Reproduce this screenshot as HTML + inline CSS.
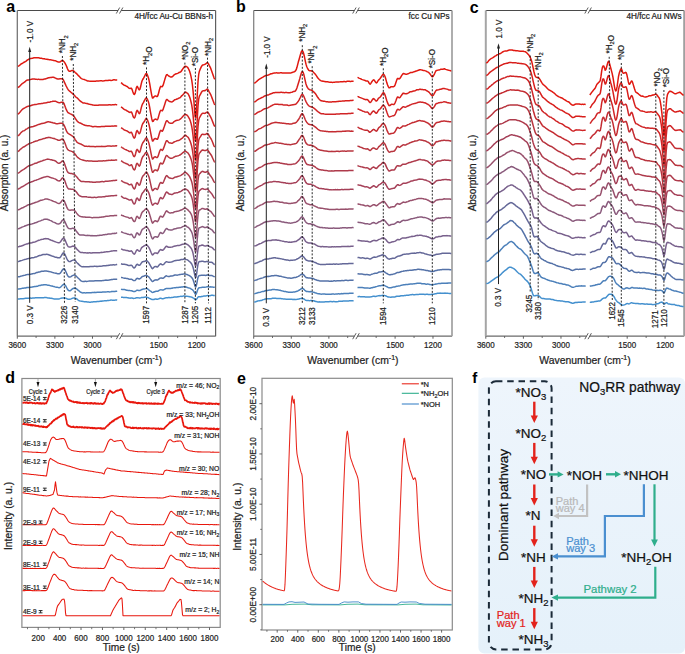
<!DOCTYPE html>
<html><head><meta charset="utf-8"><style>
html,body{margin:0;padding:0;background:#fff;width:685px;height:654px;overflow:hidden}
svg{display:block;font-family:"Liberation Sans", sans-serif}
</style></head><body>
<svg width="685" height="654" viewBox="0 0 685 654">
<path d="M118 10.5 L17.3 10.5" fill="none" stroke="#4a4a4a" stroke-width="1.1"/>
<path d="M121.2 10.5 L215.6 10.5" fill="none" stroke="#4a4a4a" stroke-width="1.1"/>
<path d="M17.3 336.2 L118 336.2" fill="none" stroke="#6a6a6a" stroke-width="1.2"/>
<path d="M121.2 336.2 L215.6 336.2" fill="none" stroke="#6a6a6a" stroke-width="1.2"/>
<path d="M17.3 10.5 L17.3 336.2" fill="none" stroke="#707070" stroke-width="1.25"/>
<path d="M215.6 10.5 L215.6 336.2" fill="none" stroke="#606060" stroke-width="1.2"/>
<line x1="116.3" y1="13.5" x2="119.7" y2="7.5" stroke="#4a4a4a" stroke-width="0.9"/>
<line x1="119.5" y1="13.5" x2="122.9" y2="7.5" stroke="#4a4a4a" stroke-width="0.9"/>
<line x1="116.3" y1="339.2" x2="119.7" y2="333.2" stroke="#4a4a4a" stroke-width="0.9"/>
<line x1="119.5" y1="339.2" x2="122.9" y2="333.2" stroke="#4a4a4a" stroke-width="0.9"/>
<line x1="17.3" y1="336.2" x2="17.3" y2="338.7" stroke="#4a4a4a" stroke-width="0.9"/>
<text x="0" y="0" font-size="9.3" text-anchor="middle" fill="#222" stroke="#222" stroke-width="0.22" font-weight="normal" transform="translate(17.3,347.6) scale(0.86,1)">3600</text>
<line x1="54.89" y1="336.2" x2="54.89" y2="338.7" stroke="#4a4a4a" stroke-width="0.9"/>
<text x="0" y="0" font-size="9.3" text-anchor="middle" fill="#222" stroke="#222" stroke-width="0.22" font-weight="normal" transform="translate(54.89,347.6) scale(0.86,1)">3300</text>
<line x1="92.48" y1="336.2" x2="92.48" y2="338.7" stroke="#4a4a4a" stroke-width="0.9"/>
<text x="0" y="0" font-size="9.3" text-anchor="middle" fill="#222" stroke="#222" stroke-width="0.22" font-weight="normal" transform="translate(92.48,347.6) scale(0.86,1)">3000</text>
<line x1="36.09" y1="336.2" x2="36.09" y2="338" stroke="#4a4a4a" stroke-width="0.8"/>
<line x1="73.69" y1="336.2" x2="73.69" y2="338" stroke="#4a4a4a" stroke-width="0.8"/>
<line x1="111.27" y1="336.2" x2="111.27" y2="338" stroke="#4a4a4a" stroke-width="0.8"/>
<line x1="158.7" y1="336.2" x2="158.7" y2="338.7" stroke="#4a4a4a" stroke-width="0.9"/>
<text x="0" y="0" font-size="9.3" text-anchor="middle" fill="#222" stroke="#222" stroke-width="0.22" font-weight="normal" transform="translate(158.7,347.6) scale(0.86,1)">1500</text>
<line x1="196.59" y1="336.2" x2="196.59" y2="338.7" stroke="#4a4a4a" stroke-width="0.9"/>
<text x="0" y="0" font-size="9.3" text-anchor="middle" fill="#222" stroke="#222" stroke-width="0.22" font-weight="normal" transform="translate(196.59,347.6) scale(0.86,1)">1200</text>
<line x1="139.75" y1="336.2" x2="139.75" y2="338" stroke="#4a4a4a" stroke-width="0.8"/>
<line x1="177.64" y1="336.2" x2="177.64" y2="338" stroke="#4a4a4a" stroke-width="0.8"/>
<text x="116.5" y="364" font-size="10.4" text-anchor="middle" fill="#222" stroke="#222" stroke-width="0.22" font-weight="normal">Wavenumber (cm<tspan dy="-4" font-size="7">-1</tspan><tspan dy="4">)</tspan></text>
<text x="0" y="0" font-size="10" text-anchor="middle" fill="#222" stroke="#222" stroke-width="0.22" font-weight="normal" transform="translate(7.6,173) rotate(-90)">Absorption (a. u.)</text>
<text x="213.1" y="19.2" font-size="8.2" text-anchor="end" fill="#222" stroke="#222" stroke-width="0.22" font-weight="normal">4H/fcc Au-Cu BBNs-h</text>
<text x="6.3" y="12.1" font-size="16" text-anchor="start" fill="#000" stroke="#000" stroke-width="0" font-weight="bold">a</text>
<path d="M17.8 66.19 L18.5 65.97 L19.2 65.63 L19.9 65.05 L20.6 64.42 L21.3 63.9 L22 63.53 L22.7 63.11 L23.4 62.66 L24.1 62.25 L24.8 61.85 L25.5 61.52 L26.2 61.05 L26.9 60.39 L27.6 59.89 L28.3 59.5 L29 59.06 L29.7 58.71 L30.4 58.52 L31.1 58.42 L31.8 58.37 L32.5 58.2 L33.2 57.95 L33.9 57.82 L34.6 57.74 L35.3 57.73 L36 57.7 L36.7 57.66 L37.4 57.73 L38.1 57.75 L38.8 57.81 L39.5 58.05 L40.2 58.27 L40.9 58.3 L41.6 58.34 L42.3 58.54 L43 58.65 L43.7 58.63 L44.4 58.75 L45.1 59 L45.8 59.13 L46.5 59.15 L47.2 59.32 L47.9 59.52 L48.6 59.59 L49.3 59.68 L50 59.79 L50.7 59.84 L51.4 59.94 L52.1 60.13 L52.8 60.26 L53.5 60.4 L54.2 60.56 L54.9 60.64 L55.6 60.82 L56.3 61.15 L57 61.5 L57.7 61.8 L58.4 61.96 L59.1 62.01 L59.8 61.97 L60.5 61.62 L61.2 61.03 L61.9 60.56 L62.6 60.46 L63.3 60.9 L64 61.66 L64.7 62.61 L65.4 63.84 L66.1 65.27 L66.8 66.88 L67.5 68.71 L68.2 70.2 L68.9 71 L69.6 71.3 L70.3 71.27 L71 70.92 L71.7 70.59 L72.4 70.49 L73.1 70.65 L73.8 71.14 L74.5 71.83 L75.2 72.51 L75.9 73.11 L76.6 73.69 L77.3 74.35 L78 75.13 L78.7 75.89 L79.4 76.58 L80.1 77.36 L80.8 78.09 L81.5 78.55 L82.2 78.9 L82.9 79.17 L83.6 79.36 L84.3 79.56 L85 79.83 L85.7 80.09 L86.4 80.34 L87.1 80.72 L87.8 80.97 L88.5 81.02 L89.2 81.13 L89.9 81.26 L90.6 81.27 L91.3 81.32 L92 81.35 L92.7 81.23 L93.4 81.22 L94.1 81.31 L94.8 81.25 L95.5 81.16 L96.2 81.09 L96.9 81.01 L97.6 80.95 L98.3 80.9 L99 80.89 L99.7 80.82 L100.4 80.73 L101.1 80.73 L101.8 80.83 L102.5 80.91 L103.2 80.91 L103.9 80.85 L104.6 80.69 L105.3 80.6 L106 80.58 L106.7 80.56 L107.4 80.57 L108.1 80.46 L108.8 80.3 L109.5 80.24 L110.2 80.28 L110.9 80.4 L111.6 80.39 L112.3 80.2 L113 79.99 L113.7 79.86 L114.4 79.84 L115.1 79.91 L115.8 79.99 L116.5 80.04 L117.2 80.08" fill="none" stroke="rgb(224,24,16)" stroke-width="1.5" stroke-linejoin="round"/>
<path d="M17.8 87.47 L18.5 87.11 L19.2 86.74 L19.9 86.07 L20.6 85.25 L21.3 84.5 L22 83.82 L22.7 83.27 L23.4 82.88 L24.1 82.43 L24.8 81.88 L25.5 81.31 L26.2 80.68 L26.9 80.21 L27.6 80.04 L28.3 79.99 L29 79.83 L29.7 79.63 L30.4 79.47 L31.1 79.34 L31.8 79.16 L32.5 79.01 L33.2 78.97 L33.9 78.94 L34.6 79 L35.3 79.18 L36 79.28 L36.7 79.35 L37.4 79.39 L38.1 79.36 L38.8 79.35 L39.5 79.41 L40.2 79.49 L40.9 79.51 L41.6 79.44 L42.3 79.45 L43 79.42 L43.7 79.23 L44.4 79.06 L45.1 78.94 L45.8 78.74 L46.5 78.55 L47.2 78.3 L47.9 78.04 L48.6 77.84 L49.3 77.65 L50 77.55 L50.7 77.54 L51.4 77.42 L52.1 77.27 L52.8 77.25 L53.5 77.32 L54.2 77.55 L54.9 77.85 L55.6 78.15 L56.3 78.53 L57 78.86 L57.7 79 L58.4 78.97 L59.1 78.9 L59.8 78.82 L60.5 78.79 L61.2 78.77 L61.9 78.79 L62.6 79.01 L63.3 79.8 L64 81.22 L64.7 82.85 L65.4 84.4 L66.1 85.87 L66.8 87.26 L67.5 88.59 L68.2 89.7 L68.9 90.48 L69.6 91.09 L70.3 91.7 L71 92.27 L71.7 92.78 L72.4 93.44 L73.1 94.12 L73.8 94.74 L74.5 95.51 L75.2 96.4 L75.9 97.09 L76.6 97.53 L77.3 97.97 L78 98.66 L78.7 99.43 L79.4 100.15 L80.1 100.91 L80.8 101.5 L81.5 101.95 L82.2 102.44 L82.9 102.9 L83.6 103.07 L84.3 103.01 L85 103.08 L85.7 103.36 L86.4 103.53 L87.1 103.58 L87.8 103.83 L88.5 104.09 L89.2 104.21 L89.9 104.39 L90.6 104.56 L91.3 104.62 L92 104.75 L92.7 104.98 L93.4 105.12 L94.1 105.17 L94.8 105.26 L95.5 105.34 L96.2 105.3 L96.9 105.34 L97.6 105.36 L98.3 105.21 L99 105.06 L99.7 105.03 L100.4 105 L101.1 104.98 L101.8 104.99 L102.5 105.02 L103.2 105.04 L103.9 105.07 L104.6 105.11 L105.3 105.12 L106 105.06 L106.7 105 L107.4 104.99 L108.1 104.93 L108.8 104.83 L109.5 104.84 L110.2 104.85 L110.9 104.9 L111.6 104.88 L112.3 104.77 L113 104.74 L113.7 104.73 L114.4 104.64 L115.1 104.55 L115.8 104.62 L116.5 104.82 L117.2 104.86" fill="none" stroke="rgb(216,30,27)" stroke-width="1.5" stroke-linejoin="round"/>
<path d="M17.8 114.1 L18.5 113.72 L19.2 113.11 L19.9 112.3 L20.6 111.41 L21.3 110.52 L22 109.81 L22.7 109.18 L23.4 108.64 L24.1 108.26 L24.8 107.87 L25.5 107.43 L26.2 107.08 L26.9 106.73 L27.6 106.39 L28.3 106.14 L29 106.02 L29.7 105.98 L30.4 105.83 L31.1 105.56 L31.8 105.31 L32.5 105.08 L33.2 104.88 L33.9 104.72 L34.6 104.6 L35.3 104.57 L36 104.54 L36.7 104.38 L37.4 104.13 L38.1 103.93 L38.8 103.87 L39.5 103.82 L40.2 103.72 L40.9 103.6 L41.6 103.45 L42.3 103.38 L43 103.33 L43.7 103.11 L44.4 102.97 L45.1 102.95 L45.8 102.84 L46.5 102.67 L47.2 102.5 L47.9 102.35 L48.6 102.26 L49.3 102.17 L50 102 L50.7 101.77 L51.4 101.62 L52.1 101.52 L52.8 101.35 L53.5 101.26 L54.2 101.25 L54.9 101.21 L55.6 101.29 L56.3 101.58 L57 101.96 L57.7 102.32 L58.4 102.55 L59.1 102.69 L59.8 102.7 L60.5 102.46 L61.2 102.2 L61.9 102.13 L62.6 102.16 L63.3 102.49 L64 103.61 L64.7 105.43 L65.4 107.36 L66.1 109.1 L66.8 110.67 L67.5 111.96 L68.2 112.71 L68.9 113.06 L69.6 113.43 L70.3 113.86 L71 114.19 L71.7 114.51 L72.4 114.9 L73.1 115.44 L73.8 116.13 L74.5 117.05 L75.2 118.17 L75.9 119.28 L76.6 120.3 L77.3 121.23 L78 121.94 L78.7 122.43 L79.4 122.79 L80.1 123.03 L80.8 123.26 L81.5 123.59 L82.2 124.02 L82.9 124.42 L83.6 124.69 L84.3 125.01 L85 125.34 L85.7 125.49 L86.4 125.55 L87.1 125.66 L87.8 125.7 L88.5 125.66 L89.2 125.69 L89.9 125.89 L90.6 126.13 L91.3 126.28 L92 126.47 L92.7 126.66 L93.4 126.7 L94.1 126.59 L94.8 126.5 L95.5 126.52 L96.2 126.6 L96.9 126.69 L97.6 126.77 L98.3 126.79 L99 126.77 L99.7 126.75 L100.4 126.66 L101.1 126.6 L101.8 126.57 L102.5 126.52 L103.2 126.54 L103.9 126.58 L104.6 126.48 L105.3 126.29 L106 126.29 L106.7 126.36 L107.4 126.27 L108.1 126.23 L108.8 126.27 L109.5 126.28 L110.2 126.35 L110.9 126.32 L111.6 126.12 L112.3 126.07 L113 126.16 L113.7 126.1 L114.4 125.95 L115.1 125.87 L115.8 125.88 L116.5 125.96 L117.2 125.94" fill="none" stroke="rgb(208,36,38)" stroke-width="1.5" stroke-linejoin="round"/>
<path d="M17.8 135.97 L18.5 135.47 L19.2 134.91 L19.9 134.09 L20.6 133.13 L21.3 132.33 L22 131.73 L22.7 131.19 L23.4 130.87 L24.1 130.69 L24.8 130.29 L25.5 129.69 L26.2 129.16 L26.9 128.81 L27.6 128.44 L28.3 127.94 L29 127.53 L29.7 127.27 L30.4 127.11 L31.1 127 L31.8 126.82 L32.5 126.67 L33.2 126.56 L33.9 126.32 L34.6 126.03 L35.3 125.79 L36 125.54 L36.7 125.24 L37.4 124.87 L38.1 124.6 L38.8 124.47 L39.5 124.33 L40.2 124.08 L40.9 123.8 L41.6 123.58 L42.3 123.41 L43 123.32 L43.7 123.29 L44.4 123.12 L45.1 122.81 L45.8 122.5 L46.5 122.21 L47.2 121.98 L47.9 121.84 L48.6 121.81 L49.3 121.89 L50 121.98 L50.7 122.17 L51.4 122.41 L52.1 122.56 L52.8 122.79 L53.5 122.94 L54.2 122.99 L54.9 123.22 L55.6 123.53 L56.3 123.65 L57 123.63 L57.7 123.63 L58.4 123.55 L59.1 123.4 L59.8 123.33 L60.5 123.26 L61.2 123.18 L61.9 123.22 L62.6 123.45 L63.3 124.06 L64 125.12 L64.7 126.61 L65.4 128.34 L66.1 130.16 L66.8 131.7 L67.5 132.74 L68.2 133.43 L68.9 133.9 L69.6 134.26 L70.3 134.7 L71 135.2 L71.7 135.61 L72.4 136.03 L73.1 136.63 L73.8 137.46 L74.5 138.52 L75.2 139.61 L75.9 140.64 L76.6 141.64 L77.3 142.42 L78 142.92 L78.7 143.25 L79.4 143.5 L80.1 143.78 L80.8 144.03 L81.5 144.4 L82.2 144.81 L82.9 145.11 L83.6 145.53 L84.3 145.99 L85 146.26 L85.7 146.34 L86.4 146.33 L87.1 146.37 L87.8 146.39 L88.5 146.3 L89.2 146.34 L89.9 146.54 L90.6 146.54 L91.3 146.44 L92 146.45 L92.7 146.54 L93.4 146.61 L94.1 146.61 L94.8 146.65 L95.5 146.65 L96.2 146.53 L96.9 146.48 L97.6 146.51 L98.3 146.52 L99 146.5 L99.7 146.5 L100.4 146.51 L101.1 146.42 L101.8 146.35 L102.5 146.47 L103.2 146.53 L103.9 146.44 L104.6 146.4 L105.3 146.44 L106 146.36 L106.7 146.16 L107.4 146.08 L108.1 146.04 L108.8 146.02 L109.5 146.04 L110.2 146.08 L110.9 146.16 L111.6 146.13 L112.3 145.95 L113 145.92 L113.7 146.09 L114.4 146.11 L115.1 145.95 L115.8 145.79 L116.5 145.82 L117.2 146.02" fill="none" stroke="rgb(196,44,50)" stroke-width="1.5" stroke-linejoin="round"/>
<path d="M17.8 151.63 L18.5 151.22 L19.2 150.61 L19.9 149.78 L20.6 149.09 L21.3 148.58 L22 148.02 L22.7 147.42 L23.4 147.07 L24.1 146.79 L24.8 146.33 L25.5 145.86 L26.2 145.39 L26.9 144.96 L27.6 144.54 L28.3 144.05 L29 143.6 L29.7 143.31 L30.4 143.14 L31.1 142.94 L31.8 142.65 L32.5 142.39 L33.2 142.1 L33.9 141.77 L34.6 141.51 L35.3 141.3 L36 141.06 L36.7 140.9 L37.4 140.75 L38.1 140.43 L38.8 140.03 L39.5 139.81 L40.2 139.65 L40.9 139.44 L41.6 139.26 L42.3 139.06 L43 138.84 L43.7 138.59 L44.4 138.42 L45.1 138.24 L45.8 137.95 L46.5 137.74 L47.2 137.65 L47.9 137.51 L48.6 137.37 L49.3 137.39 L50 137.51 L50.7 137.68 L51.4 137.86 L52.1 138.09 L52.8 138.34 L53.5 138.46 L54.2 138.56 L54.9 138.82 L55.6 139.15 L56.3 139.35 L57 139.59 L57.7 139.99 L58.4 140.29 L59.1 140.35 L59.8 140.21 L60.5 139.92 L61.2 139.49 L61.9 139.11 L62.6 139.11 L63.3 139.66 L64 140.83 L64.7 142.5 L65.4 144.36 L66.1 146.18 L66.8 147.85 L67.5 149.16 L68.2 149.89 L68.9 150.3 L69.6 150.67 L70.3 150.91 L71 151.16 L71.7 151.41 L72.4 151.66 L73.1 152.14 L73.8 152.79 L74.5 153.55 L75.2 154.34 L75.9 155.17 L76.6 156.13 L77.3 157.02 L78 157.7 L78.7 158.2 L79.4 158.61 L80.1 159.06 L80.8 159.4 L81.5 159.64 L82.2 159.9 L82.9 160.07 L83.6 160.23 L84.3 160.43 L85 160.6 L85.7 160.79 L86.4 160.91 L87.1 160.87 L87.8 160.83 L88.5 160.89 L89.2 160.99 L89.9 161.05 L90.6 161.08 L91.3 161.07 L92 161.09 L92.7 161.14 L93.4 161.2 L94.1 161.32 L94.8 161.33 L95.5 161.26 L96.2 161.31 L96.9 161.35 L97.6 161.24 L98.3 161.11 L99 161.04 L99.7 161.07 L100.4 161.12 L101.1 161.05 L101.8 160.98 L102.5 160.95 L103.2 160.81 L103.9 160.78 L104.6 160.88 L105.3 160.86 L106 160.65 L106.7 160.5 L107.4 160.51 L108.1 160.45 L108.8 160.32 L109.5 160.37 L110.2 160.39 L110.9 160.22 L111.6 160.1 L112.3 160.15 L113 160.21 L113.7 160.17 L114.4 160.17 L115.1 160.1 L115.8 159.96 L116.5 159.92 L117.2 159.88" fill="none" stroke="rgb(184,52,62)" stroke-width="1.5" stroke-linejoin="round"/>
<path d="M17.8 173.35 L18.5 172.94 L19.2 172.55 L19.9 171.96 L20.6 171.29 L21.3 170.77 L22 170.3 L22.7 169.87 L23.4 169.58 L24.1 169.2 L24.8 168.68 L25.5 168.17 L26.2 167.59 L26.9 167 L27.6 166.53 L28.3 166.11 L29 165.79 L29.7 165.6 L30.4 165.31 L31.1 164.97 L31.8 164.73 L32.5 164.45 L33.2 164.14 L33.9 163.82 L34.6 163.45 L35.3 163.23 L36 163.17 L36.7 162.99 L37.4 162.57 L38.1 162.19 L38.8 161.98 L39.5 161.77 L40.2 161.53 L40.9 161.33 L41.6 161.12 L42.3 160.84 L43 160.55 L43.7 160.32 L44.4 160.12 L45.1 159.89 L45.8 159.65 L46.5 159.4 L47.2 159.18 L47.9 159.12 L48.6 159.23 L49.3 159.37 L50 159.54 L50.7 159.64 L51.4 159.74 L52.1 159.96 L52.8 160.18 L53.5 160.34 L54.2 160.48 L54.9 160.72 L55.6 161.15 L56.3 161.71 L57 162.29 L57.7 162.82 L58.4 163.13 L59.1 163.2 L59.8 163.04 L60.5 162.62 L61.2 161.97 L61.9 161.24 L62.6 160.88 L63.3 161.21 L64 162.38 L64.7 164.2 L65.4 166.22 L66.1 168.26 L66.8 170.21 L67.5 171.74 L68.2 172.67 L68.9 172.99 L69.6 173.17 L70.3 173.38 L71 173.42 L71.7 173.48 L72.4 173.76 L73.1 173.99 L73.8 174.14 L74.5 174.55 L75.2 175.23 L75.9 175.93 L76.6 176.65 L77.3 177.56 L78 178.54 L78.7 179.29 L79.4 179.95 L80.1 180.63 L80.8 181.2 L81.5 181.45 L82.2 181.44 L82.9 181.44 L83.6 181.51 L84.3 181.61 L85 181.66 L85.7 181.72 L86.4 181.8 L87.1 181.78 L87.8 181.72 L88.5 181.67 L89.2 181.77 L89.9 181.97 L90.6 182.08 L91.3 182.02 L92 182 L92.7 182.15 L93.4 182.3 L94.1 182.33 L94.8 182.3 L95.5 182.22 L96.2 182.1 L96.9 182.01 L97.6 181.98 L98.3 181.99 L99 181.97 L99.7 181.93 L100.4 181.79 L101.1 181.64 L101.8 181.55 L102.5 181.58 L103.2 181.66 L103.9 181.67 L104.6 181.52 L105.3 181.32 L106 181.28 L106.7 181.23 L107.4 181.16 L108.1 181.17 L108.8 181.06 L109.5 180.93 L110.2 180.89 L110.9 180.8 L111.6 180.69 L112.3 180.64 L113 180.52 L113.7 180.45 L114.4 180.48 L115.1 180.42 L115.8 180.32 L116.5 180.28 L117.2 180.33" fill="none" stroke="rgb(174,58,75)" stroke-width="1.5" stroke-linejoin="round"/>
<path d="M17.8 189.24 L18.5 188.92 L19.2 188.48 L19.9 188.1 L20.6 187.62 L21.3 187.08 L22 186.81 L22.7 186.48 L23.4 186.07 L24.1 185.73 L24.8 185.25 L25.5 184.77 L26.2 184.38 L26.9 183.97 L27.6 183.51 L28.3 183.05 L29 182.68 L29.7 182.37 L30.4 182.17 L31.1 181.96 L31.8 181.66 L32.5 181.45 L33.2 181.24 L33.9 180.9 L34.6 180.59 L35.3 180.38 L36 180.2 L36.7 179.88 L37.4 179.62 L38.1 179.43 L38.8 179.14 L39.5 178.84 L40.2 178.57 L40.9 178.3 L41.6 178.01 L42.3 177.73 L43 177.51 L43.7 177.31 L44.4 177.11 L45.1 176.98 L45.8 176.85 L46.5 176.6 L47.2 176.43 L47.9 176.45 L48.6 176.62 L49.3 176.96 L50 177.28 L50.7 177.53 L51.4 177.76 L52.1 177.95 L52.8 178.13 L53.5 178.38 L54.2 178.63 L54.9 178.85 L55.6 179.16 L56.3 179.57 L57 180.08 L57.7 180.58 L58.4 180.85 L59.1 180.9 L59.8 180.77 L60.5 180.26 L61.2 179.34 L61.9 178.36 L62.6 177.85 L63.3 178.11 L64 179.08 L64.7 180.61 L65.4 182.52 L66.1 184.51 L66.8 186.28 L67.5 187.65 L68.2 188.62 L68.9 189.02 L69.6 189.02 L70.3 189.03 L71 189.17 L71.7 189.33 L72.4 189.33 L73.1 189.35 L73.8 189.63 L74.5 190.11 L75.2 190.77 L75.9 191.48 L76.6 192.29 L77.3 193.26 L78 194.22 L78.7 195.03 L79.4 195.66 L80.1 196.06 L80.8 196.32 L81.5 196.56 L82.2 196.79 L82.9 196.79 L83.6 196.7 L84.3 196.74 L85 196.8 L85.7 196.77 L86.4 196.85 L87.1 197.02 L87.8 197.12 L88.5 197.22 L89.2 197.26 L89.9 197.25 L90.6 197.34 L91.3 197.45 L92 197.46 L92.7 197.46 L93.4 197.42 L94.1 197.31 L94.8 197.31 L95.5 197.41 L96.2 197.43 L96.9 197.38 L97.6 197.24 L98.3 197.1 L99 197.05 L99.7 197.05 L100.4 197.03 L101.1 196.98 L101.8 196.95 L102.5 196.86 L103.2 196.75 L103.9 196.74 L104.6 196.68 L105.3 196.46 L106 196.33 L106.7 196.34 L107.4 196.29 L108.1 196.23 L108.8 196.11 L109.5 196.02 L110.2 195.94 L110.9 195.83 L111.6 195.78 L112.3 195.72 L113 195.73 L113.7 195.76 L114.4 195.63 L115.1 195.52 L115.8 195.51 L116.5 195.41 L117.2 195.27" fill="none" stroke="rgb(165,64,88)" stroke-width="1.5" stroke-linejoin="round"/>
<path d="M17.8 209.81 L18.5 209.76 L19.2 209.6 L19.9 209.19 L20.6 208.72 L21.3 208.29 L22 207.99 L22.7 207.83 L23.4 207.48 L24.1 207.01 L24.8 206.67 L25.5 206.39 L26.2 206 L26.9 205.51 L27.6 205.09 L28.3 204.81 L29 204.68 L29.7 204.58 L30.4 204.31 L31.1 203.98 L31.8 203.72 L32.5 203.45 L33.2 203.22 L33.9 203.02 L34.6 202.75 L35.3 202.48 L36 202.26 L36.7 202.09 L37.4 201.86 L38.1 201.51 L38.8 201.2 L39.5 200.88 L40.2 200.55 L40.9 200.34 L41.6 200.23 L42.3 200.07 L43 199.85 L43.7 199.65 L44.4 199.37 L45.1 199.05 L45.8 198.89 L46.5 198.92 L47.2 199.03 L47.9 199.2 L48.6 199.41 L49.3 199.64 L50 199.9 L50.7 200.13 L51.4 200.41 L52.1 200.71 L52.8 201 L53.5 201.34 L54.2 201.65 L54.9 201.84 L55.6 202.07 L56.3 202.42 L57 202.82 L57.7 203.17 L58.4 203.4 L59.1 203.47 L59.8 203.26 L60.5 202.69 L61.2 201.84 L61.9 200.82 L62.6 199.97 L63.3 199.91 L64 200.68 L64.7 201.98 L65.4 203.62 L66.1 205.36 L66.8 207.1 L67.5 208.58 L68.2 209.51 L68.9 209.97 L69.6 210.14 L70.3 210.13 L71 210.09 L71.7 210.06 L72.4 210.04 L73.1 210.02 L73.8 210.08 L74.5 210.45 L75.2 211.17 L75.9 212.14 L76.6 213.15 L77.3 214.05 L78 214.83 L78.7 215.49 L79.4 216.02 L80.1 216.37 L80.8 216.56 L81.5 216.68 L82.2 216.8 L82.9 216.95 L83.6 217.03 L84.3 216.95 L85 216.97 L85.7 217.22 L86.4 217.32 L87.1 217.27 L87.8 217.25 L88.5 217.25 L89.2 217.27 L89.9 217.28 L90.6 217.37 L91.3 217.59 L92 217.71 L92.7 217.64 L93.4 217.55 L94.1 217.53 L94.8 217.54 L95.5 217.53 L96.2 217.49 L96.9 217.44 L97.6 217.44 L98.3 217.52 L99 217.48 L99.7 217.34 L100.4 217.31 L101.1 217.18 L101.8 217.01 L102.5 217.02 L103.2 216.94 L103.9 216.75 L104.6 216.64 L105.3 216.47 L106 216.31 L106.7 216.25 L107.4 216.21 L108.1 216.23 L108.8 216.13 L109.5 215.93 L110.2 215.78 L110.9 215.67 L111.6 215.65 L112.3 215.69 L113 215.72 L113.7 215.67 L114.4 215.52 L115.1 215.42 L115.8 215.42 L116.5 215.39 L117.2 215.38" fill="none" stroke="rgb(152,80,108)" stroke-width="1.5" stroke-linejoin="round"/>
<path d="M17.8 228.58 L18.5 228.65 L19.2 228.53 L19.9 228.17 L20.6 227.82 L21.3 227.49 L22 227.17 L22.7 226.87 L23.4 226.65 L24.1 226.41 L24.8 226 L25.5 225.7 L26.2 225.59 L26.9 225.31 L27.6 224.88 L28.3 224.7 L29 224.62 L29.7 224.42 L30.4 224.27 L31.1 224.15 L31.8 223.91 L32.5 223.65 L33.2 223.54 L33.9 223.37 L34.6 223.03 L35.3 222.74 L36 222.58 L36.7 222.4 L37.4 222.04 L38.1 221.62 L38.8 221.34 L39.5 221.11 L40.2 220.92 L40.9 220.64 L41.6 220.31 L42.3 220.11 L43 219.83 L43.7 219.47 L44.4 219.33 L45.1 219.27 L45.8 219.12 L46.5 219.15 L47.2 219.33 L47.9 219.54 L48.6 219.79 L49.3 220.02 L50 220.34 L50.7 220.63 L51.4 220.93 L52.1 221.4 L52.8 221.85 L53.5 222.14 L54.2 222.37 L54.9 222.65 L55.6 222.99 L56.3 223.36 L57 223.71 L57.7 223.9 L58.4 223.93 L59.1 223.81 L59.8 223.54 L60.5 222.99 L61.2 222 L61.9 220.86 L62.6 220.1 L63.3 219.8 L64 220.23 L64.7 221.38 L65.4 222.88 L66.1 224.42 L66.8 225.94 L67.5 227.25 L68.2 228.14 L68.9 228.51 L69.6 228.63 L70.3 228.71 L71 228.71 L71.7 228.53 L72.4 228.3 L73.1 228.26 L73.8 228.5 L74.5 228.87 L75.2 229.54 L75.9 230.58 L76.6 231.6 L77.3 232.45 L78 233.31 L78.7 234.18 L79.4 234.82 L80.1 234.98 L80.8 234.97 L81.5 235.06 L82.2 235.07 L82.9 234.99 L83.6 235 L84.3 235.19 L85 235.35 L85.7 235.4 L86.4 235.45 L87.1 235.4 L87.8 235.33 L88.5 235.38 L89.2 235.46 L89.9 235.56 L90.6 235.7 L91.3 235.68 L92 235.6 L92.7 235.68 L93.4 235.77 L94.1 235.82 L94.8 235.77 L95.5 235.67 L96.2 235.68 L96.9 235.64 L97.6 235.56 L98.3 235.6 L99 235.52 L99.7 235.27 L100.4 235.14 L101.1 235.14 L101.8 235.15 L102.5 235.02 L103.2 234.85 L103.9 234.8 L104.6 234.69 L105.3 234.53 L106 234.47 L106.7 234.45 L107.4 234.31 L108.1 234.05 L108.8 233.94 L109.5 234.03 L110.2 234.03 L110.9 233.9 L111.6 233.77 L112.3 233.57 L113 233.43 L113.7 233.4 L114.4 233.37 L115.1 233.39 L115.8 233.28 L116.5 233.08 L117.2 233.03" fill="none" stroke="rgb(138,90,124)" stroke-width="1.5" stroke-linejoin="round"/>
<path d="M17.8 246.76 L18.5 246.72 L19.2 246.57 L19.9 246.32 L20.6 246.2 L21.3 246.07 L22 245.77 L22.7 245.47 L23.4 245.22 L24.1 244.87 L24.8 244.58 L25.5 244.35 L26.2 244.09 L26.9 243.95 L27.6 243.78 L28.3 243.5 L29 243.23 L29.7 242.98 L30.4 242.9 L31.1 242.92 L31.8 242.82 L32.5 242.55 L33.2 242.3 L33.9 242.21 L34.6 242.11 L35.3 241.85 L36 241.51 L36.7 241.17 L37.4 240.84 L38.1 240.49 L38.8 240.28 L39.5 240.17 L40.2 239.89 L40.9 239.59 L41.6 239.45 L42.3 239.36 L43 239.18 L43.7 238.95 L44.4 238.77 L45.1 238.63 L45.8 238.61 L46.5 238.7 L47.2 238.74 L47.9 238.81 L48.6 239.06 L49.3 239.39 L50 239.71 L50.7 240.04 L51.4 240.28 L52.1 240.47 L52.8 240.77 L53.5 241.15 L54.2 241.42 L54.9 241.6 L55.6 241.85 L56.3 242.14 L57 242.39 L57.7 242.64 L58.4 242.8 L59.1 242.72 L59.8 242.35 L60.5 241.67 L61.2 240.78 L61.9 239.71 L62.6 238.72 L63.3 238.16 L64 238.35 L64.7 239.3 L65.4 240.81 L66.1 242.54 L66.8 244.19 L67.5 245.63 L68.2 246.58 L68.9 246.9 L69.6 246.95 L70.3 246.92 L71 246.75 L71.7 246.55 L72.4 246.26 L73.1 246.1 L73.8 246.24 L74.5 246.57 L75.2 247.1 L75.9 247.89 L76.6 248.82 L77.3 249.66 L78 250.33 L78.7 250.98 L79.4 251.63 L80.1 252.15 L80.8 252.45 L81.5 252.55 L82.2 252.54 L82.9 252.62 L83.6 252.81 L84.3 252.79 L85 252.66 L85.7 252.69 L86.4 252.88 L87.1 252.91 L87.8 252.86 L88.5 252.89 L89.2 252.84 L89.9 252.84 L90.6 252.97 L91.3 253.07 L92 253.01 L92.7 252.84 L93.4 252.79 L94.1 252.78 L94.8 252.82 L95.5 252.87 L96.2 252.81 L96.9 252.8 L97.6 252.86 L98.3 252.83 L99 252.75 L99.7 252.69 L100.4 252.58 L101.1 252.4 L101.8 252.36 L102.5 252.38 L103.2 252.29 L103.9 252.17 L104.6 251.98 L105.3 251.89 L106 251.87 L106.7 251.8 L107.4 251.79 L108.1 251.73 L108.8 251.63 L109.5 251.54 L110.2 251.38 L110.9 251.16 L111.6 251.03 L112.3 250.96 L113 250.87 L113.7 250.75 L114.4 250.7 L115.1 250.79 L115.8 250.85 L116.5 250.79 L117.2 250.73" fill="none" stroke="rgb(120,96,140)" stroke-width="1.5" stroke-linejoin="round"/>
<path d="M17.8 261.56 L18.5 261.39 L19.2 261.25 L19.9 261.02 L20.6 260.8 L21.3 260.6 L22 260.37 L22.7 260.1 L23.4 259.89 L24.1 259.64 L24.8 259.42 L25.5 259.37 L26.2 259.18 L26.9 258.87 L27.6 258.7 L28.3 258.56 L29 258.4 L29.7 258.32 L30.4 258.19 L31.1 258 L31.8 257.86 L32.5 257.81 L33.2 257.78 L33.9 257.62 L34.6 257.33 L35.3 257.08 L36 256.94 L36.7 256.77 L37.4 256.44 L38.1 256.05 L38.8 255.76 L39.5 255.54 L40.2 255.41 L40.9 255.28 L41.6 255.02 L42.3 254.73 L43 254.5 L43.7 254.41 L44.4 254.48 L45.1 254.53 L45.8 254.42 L46.5 254.29 L47.2 254.36 L47.9 254.56 L48.6 254.77 L49.3 254.97 L50 255.22 L50.7 255.49 L51.4 255.75 L52.1 255.98 L52.8 256.15 L53.5 256.39 L54.2 256.73 L54.9 256.99 L55.6 257.19 L56.3 257.28 L57 257.45 L57.7 257.75 L58.4 257.82 L59.1 257.77 L59.8 257.65 L60.5 256.98 L61.2 255.89 L61.9 254.74 L62.6 253.6 L63.3 252.9 L64 253.09 L64.7 254.06 L65.4 255.43 L66.1 257.01 L66.8 258.62 L67.5 259.95 L68.2 260.9 L68.9 261.45 L69.6 261.63 L70.3 261.48 L71 261.08 L71.7 260.69 L72.4 260.37 L73.1 260.08 L73.8 259.97 L74.5 260.14 L75.2 260.59 L75.9 261.34 L76.6 262.24 L77.3 262.99 L78 263.63 L78.7 264.36 L79.4 265.1 L80.1 265.69 L80.8 266.12 L81.5 266.46 L82.2 266.68 L82.9 266.71 L83.6 266.62 L84.3 266.67 L85 266.79 L85.7 266.8 L86.4 266.84 L87.1 266.87 L87.8 266.81 L88.5 266.75 L89.2 266.69 L89.9 266.57 L90.6 266.51 L91.3 266.5 L92 266.46 L92.7 266.41 L93.4 266.38 L94.1 266.35 L94.8 266.31 L95.5 266.37 L96.2 266.41 L96.9 266.36 L97.6 266.4 L98.3 266.38 L99 266.24 L99.7 266.23 L100.4 266.29 L101.1 266.3 L101.8 266.14 L102.5 265.91 L103.2 265.78 L103.9 265.72 L104.6 265.73 L105.3 265.82 L106 265.74 L106.7 265.56 L107.4 265.56 L108.1 265.51 L108.8 265.31 L109.5 265.17 L110.2 265.08 L110.9 265.06 L111.6 265.02 L112.3 264.88 L113 264.83 L113.7 264.86 L114.4 264.89 L115.1 264.87 L115.8 264.76 L116.5 264.58 L117.2 264.48" fill="none" stroke="rgb(100,104,152)" stroke-width="1.5" stroke-linejoin="round"/>
<path d="M17.8 276.86 L18.5 276.73 L19.2 276.69 L19.9 276.52 L20.6 276.32 L21.3 276.14 L22 275.88 L22.7 275.68 L23.4 275.53 L24.1 275.37 L24.8 275.24 L25.5 275.05 L26.2 274.82 L26.9 274.62 L27.6 274.51 L28.3 274.52 L29 274.45 L29.7 274.29 L30.4 274.18 L31.1 274.07 L31.8 273.93 L32.5 273.77 L33.2 273.62 L33.9 273.51 L34.6 273.42 L35.3 273.18 L36 272.81 L36.7 272.58 L37.4 272.43 L38.1 272.22 L38.8 272.08 L39.5 272.07 L40.2 271.85 L40.9 271.44 L41.6 271.24 L42.3 271.28 L43 271.29 L43.7 271.17 L44.4 271.04 L45.1 270.96 L45.8 270.95 L46.5 271.05 L47.2 271.16 L47.9 271.22 L48.6 271.42 L49.3 271.59 L50 271.7 L50.7 271.89 L51.4 272.09 L52.1 272.38 L52.8 272.58 L53.5 272.67 L54.2 272.9 L54.9 273.11 L55.6 273.15 L56.3 273.25 L57 273.53 L57.7 273.68 L58.4 273.71 L59.1 273.72 L59.8 273.5 L60.5 272.87 L61.2 271.91 L61.9 270.74 L62.6 269.61 L63.3 268.92 L64 268.78 L64.7 269.37 L65.4 270.72 L66.1 272.3 L66.8 273.83 L67.5 275.33 L68.2 276.42 L68.9 276.95 L69.6 277.05 L70.3 276.94 L71 276.58 L71.7 276.05 L72.4 275.67 L73.1 275.36 L73.8 275.09 L74.5 275.1 L75.2 275.42 L75.9 275.9 L76.6 276.55 L77.3 277.28 L78 277.93 L78.7 278.57 L79.4 279.28 L80.1 279.95 L80.8 280.61 L81.5 281.12 L82.2 281.36 L82.9 281.52 L83.6 281.56 L84.3 281.4 L85 281.25 L85.7 281.3 L86.4 281.41 L87.1 281.38 L87.8 281.29 L88.5 281.12 L89.2 281.02 L89.9 281.05 L90.6 281.03 L91.3 281.01 L92 281.05 L92.7 281.05 L93.4 280.97 L94.1 280.88 L94.8 280.82 L95.5 280.8 L96.2 280.8 L96.9 280.8 L97.6 280.85 L98.3 280.86 L99 280.75 L99.7 280.65 L100.4 280.63 L101.1 280.68 L101.8 280.66 L102.5 280.59 L103.2 280.48 L103.9 280.4 L104.6 280.37 L105.3 280.2 L106 280.11 L106.7 280.19 L107.4 280.23 L108.1 280.18 L108.8 280.06 L109.5 279.89 L110.2 279.8 L110.9 279.72 L111.6 279.55 L112.3 279.43 L113 279.38 L113.7 279.27 L114.4 279.18 L115.1 279.25 L115.8 279.36 L116.5 279.37 L117.2 279.35" fill="none" stroke="rgb(84,114,168)" stroke-width="1.5" stroke-linejoin="round"/>
<path d="M17.8 288.93 L18.5 288.93 L19.2 288.89 L19.9 288.85 L20.6 288.8 L21.3 288.61 L22 288.34 L22.7 288.19 L23.4 288.13 L24.1 288.1 L24.8 288.09 L25.5 287.95 L26.2 287.74 L26.9 287.56 L27.6 287.47 L28.3 287.5 L29 287.46 L29.7 287.28 L30.4 287.18 L31.1 287.15 L31.8 287.07 L32.5 286.89 L33.2 286.76 L33.9 286.72 L34.6 286.61 L35.3 286.54 L36 286.46 L36.7 286.3 L37.4 286.17 L38.1 285.94 L38.8 285.61 L39.5 285.47 L40.2 285.43 L40.9 285.24 L41.6 285.07 L42.3 285.08 L43 285.01 L43.7 284.85 L44.4 284.74 L45.1 284.7 L45.8 284.74 L46.5 284.84 L47.2 285.07 L47.9 285.24 L48.6 285.25 L49.3 285.36 L50 285.65 L50.7 285.84 L51.4 285.91 L52.1 286.09 L52.8 286.3 L53.5 286.39 L54.2 286.57 L54.9 286.89 L55.6 287.1 L56.3 287.23 L57 287.3 L57.7 287.37 L58.4 287.53 L59.1 287.64 L59.8 287.51 L60.5 287.08 L61.2 286.46 L61.9 285.79 L62.6 285.07 L63.3 284.51 L64 284.33 L64.7 284.64 L65.4 285.46 L66.1 286.67 L66.8 288 L67.5 289.3 L68.2 290.24 L68.9 290.69 L69.6 290.84 L70.3 290.69 L71 290.2 L71.7 289.55 L72.4 288.92 L73.1 288.49 L73.8 288.26 L74.5 288.13 L75.2 288.15 L75.9 288.44 L76.6 288.89 L77.3 289.46 L78 290.14 L78.7 290.69 L79.4 291.26 L80.1 291.89 L80.8 292.28 L81.5 292.53 L82.2 292.81 L82.9 292.91 L83.6 292.82 L84.3 292.79 L85 292.87 L85.7 292.89 L86.4 292.78 L87.1 292.71 L87.8 292.75 L88.5 292.78 L89.2 292.78 L89.9 292.75 L90.6 292.7 L91.3 292.65 L92 292.56 L92.7 292.54 L93.4 292.53 L94.1 292.41 L94.8 292.36 L95.5 292.44 L96.2 292.42 L96.9 292.36 L97.6 292.32 L98.3 292.33 L99 292.35 L99.7 292.26 L100.4 292.21 L101.1 292.26 L101.8 292.22 L102.5 292.1 L103.2 292.03 L103.9 292.05 L104.6 292.07 L105.3 292.06 L106 292.01 L106.7 291.86 L107.4 291.71 L108.1 291.69 L108.8 291.81 L109.5 291.89 L110.2 291.87 L110.9 291.74 L111.6 291.53 L112.3 291.47 L113 291.52 L113.7 291.47 L114.4 291.44 L115.1 291.42 L115.8 291.36 L116.5 291.36 L117.2 291.27" fill="none" stroke="rgb(76,128,186)" stroke-width="1.5" stroke-linejoin="round"/>
<path d="M17.8 298.92 L18.5 299.09 L19.2 299.03 L19.9 298.86 L20.6 298.81 L21.3 298.82 L22 298.87 L22.7 298.81 L23.4 298.63 L24.1 298.55 L24.8 298.47 L25.5 298.36 L26.2 298.3 L26.9 298.26 L27.6 298.28 L28.3 298.33 L29 298.21 L29.7 298.02 L30.4 298.06 L31.1 298.21 L31.8 298.2 L32.5 298.12 L33.2 298.09 L33.9 298.02 L34.6 297.9 L35.3 297.85 L36 297.81 L36.7 297.8 L37.4 297.81 L38.1 297.69 L38.8 297.68 L39.5 297.83 L40.2 297.84 L40.9 297.76 L41.6 297.79 L42.3 297.75 L43 297.65 L43.7 297.65 L44.4 297.59 L45.1 297.53 L45.8 297.51 L46.5 297.6 L47.2 297.84 L47.9 297.95 L48.6 297.91 L49.3 298.01 L50 298.21 L50.7 298.29 L51.4 298.36 L52.1 298.48 L52.8 298.61 L53.5 298.81 L54.2 298.94 L54.9 299.02 L55.6 299.07 L56.3 298.98 L57 298.94 L57.7 299.02 L58.4 299.03 L59.1 298.9 L59.8 298.67 L60.5 298.39 L61.2 298.18 L61.9 298.07 L62.6 297.96 L63.3 297.89 L64 297.85 L64.7 297.91 L65.4 298.1 L66.1 298.33 L66.8 298.68 L67.5 299.12 L68.2 299.32 L68.9 299.29 L69.6 299.23 L70.3 299.14 L71 298.91 L71.7 298.58 L72.4 298.32 L73.1 298.12 L73.8 297.88 L74.5 297.85 L75.2 298.09 L75.9 298.39 L76.6 298.8 L77.3 299.35 L78 300 L78.7 300.48 L79.4 300.75 L80.1 300.97 L80.8 301.13 L81.5 301.28 L82.2 301.31 L82.9 301.39 L83.6 301.56 L84.3 301.63 L85 301.74 L85.7 301.86 L86.4 301.85 L87.1 301.95 L87.8 302.08 L88.5 302.11 L89.2 302.15 L89.9 302.19 L90.6 302.17 L91.3 302.12 L92 302.06 L92.7 301.92 L93.4 301.78 L94.1 301.74 L94.8 301.76 L95.5 301.74 L96.2 301.65 L96.9 301.53 L97.6 301.47 L98.3 301.47 L99 301.48 L99.7 301.35 L100.4 301.15 L101.1 301.12 L101.8 301.16 L102.5 301.07 L103.2 300.97 L103.9 300.88 L104.6 300.77 L105.3 300.8 L106 300.83 L106.7 300.64 L107.4 300.52 L108.1 300.56 L108.8 300.51 L109.5 300.36 L110.2 300.21 L110.9 300.1 L111.6 300.12 L112.3 300.21 L113 300.21 L113.7 300.24 L114.4 300.25 L115.1 300.12 L115.8 299.93 L116.5 299.89 L117.2 300.04" fill="none" stroke="rgb(68,144,206)" stroke-width="1.5" stroke-linejoin="round"/>
<path d="M121 82.65 L121.7 83.16 L122.4 83.84 L123.1 84.42 L123.8 84.94 L124.5 85.23 L125.2 85.48 L125.9 85.89 L126.6 86.23 L127.3 86.63 L128 87.22 L128.7 87.81 L129.4 88.35 L130.1 88.58 L130.8 88.18 L131.5 88.27 L132.2 89.84 L132.9 92.09 L133.6 93.83 L134.3 94.44 L135 93.55 L135.7 90.81 L136.4 87.64 L137.1 86.35 L137.8 87.18 L138.5 88.84 L139.2 89.94 L139.9 89.29 L140.6 86.8 L141.3 83.58 L142 80.98 L142.7 79.53 L143.4 78.51 L144.1 77.22 L144.8 75.74 L145.5 74.32 L146.2 73.44 L146.9 73.91 L147.6 75.53 L148.3 77.48 L149 80.06 L149.7 83.73 L150.4 87.85 L151.1 91.8 L151.8 95.62 L152.5 98.09 L153.2 97.88 L153.9 96.77 L154.6 96.29 L155.3 96 L156 96.01 L156.7 96.58 L157.4 96.57 L158.1 94.87 L158.8 92.2 L159.5 89.44 L160.2 87.18 L160.9 86.32 L161.6 86.66 L162.3 86.73 L163 85.45 L163.7 83.24 L164.4 80.85 L165.1 78.56 L165.8 76.36 L166.5 74.76 L167.2 74.62 L167.9 75.23 L168.6 75.79 L169.3 76.26 L170 76.68 L170.7 76.97 L171.4 76.97 L172.1 76.76 L172.8 76.31 L173.5 75.52 L174.2 74.77 L174.9 74.32 L175.6 73.96 L176.3 73.74 L177 73.63 L177.7 73.35 L178.4 72.94 L179.1 72.5 L179.8 72.22 L180.5 72 L181.2 71.34 L181.9 70.26 L182.6 69.16 L183.3 68.21 L184 67.32 L184.7 66.55 L185.4 66.27 L186.1 66.39 L186.8 66.72 L187.5 67.29 L188.2 68.27 L188.9 69.64 L189.6 71.26 L190.3 73.46 L191 76.32 L191.7 79.81 L192.4 84.76 L193.1 91.36 L193.8 99.43 L194.5 109.03 L195.2 117.09 L195.9 117.78 L196.6 108.64 L197.3 94.17 L198 81.71 L198.7 74.46 L199.4 71.19 L200.1 69.43 L200.8 67.86 L201.5 66.46 L202.2 65.42 L202.9 64.91 L203.6 64.76 L204.3 64.58 L205 64.37 L205.7 63.96 L206.4 63.24 L207.1 62.69 L207.8 62.84 L208.5 63.87 L209.2 65.34 L209.9 66.69 L210.6 68.12 L211.3 69.99 L212 71.99 L212.7 73.98 L213.4 76.1 L214.1 78.1 L214.8 79.25" fill="none" stroke="rgb(224,24,16)" stroke-width="1.5" stroke-linejoin="round"/>
<path d="M121 106.87 L121.7 107.28 L122.4 107.84 L123.1 108.5 L123.8 109.14 L124.5 109.53 L125.2 109.83 L125.9 110.18 L126.6 110.54 L127.3 111.01 L128 111.42 L128.7 111.82 L129.4 112.33 L130.1 112.48 L130.8 111.99 L131.5 112.02 L132.2 113.64 L132.9 115.89 L133.6 117.48 L134.3 118.01 L135 117.11 L135.7 114.49 L136.4 111.61 L137.1 110.37 L137.8 111.05 L138.5 112.59 L139.2 113.64 L139.9 113.08 L140.6 110.68 L141.3 107.65 L142 105.19 L142.7 103.67 L143.4 102.53 L144.1 101.23 L144.8 99.9 L145.5 98.65 L146.2 97.87 L146.9 98.35 L147.6 99.83 L148.3 101.5 L149 103.9 L149.7 107.49 L150.4 111.54 L151.1 115.35 L151.8 118.95 L152.5 121.39 L153.2 121.35 L153.9 120.11 L154.6 119.35 L155.3 119.08 L156 119.21 L156.7 119.76 L157.4 119.8 L158.1 118.19 L158.8 115.65 L159.5 113.16 L160.2 111.11 L160.9 110.28 L161.6 110.66 L162.3 110.89 L163 109.72 L163.7 107.57 L164.4 105.41 L165.1 103.29 L165.8 101.02 L166.5 99.56 L167.2 99.57 L167.9 100.24 L168.6 100.99 L169.3 101.43 L170 101.49 L170.7 101.65 L171.4 101.88 L172.1 101.88 L172.8 101.47 L173.5 100.83 L174.2 100.21 L174.9 99.73 L175.6 99.52 L176.3 99.29 L177 98.96 L177.7 98.71 L178.4 98.35 L179.1 98.07 L179.8 97.86 L180.5 97.29 L181.2 96.38 L181.9 95.63 L182.6 95.09 L183.3 94.39 L184 93.49 L184.7 92.54 L185.4 92.09 L186.1 92.32 L186.8 92.76 L187.5 93.31 L188.2 94.11 L188.9 95.38 L189.6 97.02 L190.3 99.09 L191 101.75 L191.7 104.95 L192.4 109.39 L193.1 115.48 L193.8 123.38 L194.5 132.77 L195.2 140.48 L195.9 141.29 L196.6 132.41 L197.3 118.14 L198 105.95 L198.7 98.98 L199.4 96.17 L200.1 94.91 L200.8 93.54 L201.5 92.16 L202.2 91.28 L202.9 90.9 L203.6 90.64 L204.3 90.62 L205 90.69 L205.7 90.31 L206.4 89.57 L207.1 89.1 L207.8 89.41 L208.5 90.49 L209.2 91.86 L209.9 93.12 L210.6 94.37 L211.3 96.02 L212 97.87 L212.7 99.67 L213.4 101.52 L214.1 103.54 L214.8 105.02" fill="none" stroke="rgb(216,30,27)" stroke-width="1.5" stroke-linejoin="round"/>
<path d="M121 127.78 L121.7 128.07 L122.4 128.49 L123.1 128.99 L123.8 129.59 L124.5 130.02 L125.2 130.28 L125.9 130.52 L126.6 130.74 L127.3 131.12 L128 131.61 L128.7 132.15 L129.4 132.7 L130.1 132.83 L130.8 132.37 L131.5 132.37 L132.2 133.73 L132.9 135.82 L133.6 137.49 L134.3 138.12 L135 137.21 L135.7 134.48 L136.4 131.57 L137.1 130.48 L137.8 131.36 L138.5 132.87 L139.2 133.68 L139.9 133.03 L140.6 130.9 L141.3 128.06 L142 125.46 L142.7 123.78 L143.4 122.72 L144.1 121.76 L144.8 120.64 L145.5 119.25 L146.2 118.32 L146.9 118.82 L147.6 120.39 L148.3 122.18 L149 124.48 L149.7 127.76 L150.4 131.47 L151.1 135.02 L151.8 138.58 L152.5 141.05 L153.2 140.8 L153.9 139.39 L154.6 138.68 L155.3 138.46 L156 138.62 L156.7 139.24 L157.4 139.36 L158.1 137.92 L158.8 135.48 L159.5 132.99 L160.2 131.07 L160.9 130.36 L161.6 130.86 L162.3 131.26 L163 130.2 L163.7 128.24 L164.4 126.36 L165.1 124.33 L165.8 122.15 L166.5 120.74 L167.2 120.78 L167.9 121.59 L168.6 122.31 L169.3 122.85 L170 123.16 L170.7 123.26 L171.4 123.29 L172.1 123.27 L172.8 122.89 L173.5 122.15 L174.2 121.54 L174.9 121.13 L175.6 120.77 L176.3 120.5 L177 120.36 L177.7 120.28 L178.4 120.13 L179.1 119.82 L179.8 119.44 L180.5 118.87 L181.2 118.22 L181.9 117.54 L182.6 116.72 L183.3 115.89 L184 115.24 L184.7 114.78 L185.4 114.55 L186.1 114.63 L186.8 114.95 L187.5 115.57 L188.2 116.58 L188.9 117.79 L189.6 119.1 L190.3 120.89 L191 123.19 L191.7 126.21 L192.4 130.43 L193.1 136.1 L193.8 143.43 L194.5 152.17 L195.2 159.47 L195.9 160.17 L196.6 151.65 L197.3 138.11 L198 126.72 L198.7 120.36 L199.4 117.85 L200.1 116.67 L200.8 115.36 L201.5 114.22 L202.2 113.56 L202.9 113.29 L203.6 113.29 L204.3 113.38 L205 113.32 L205.7 112.97 L206.4 112.43 L207.1 112.06 L207.8 112.28 L208.5 113.23 L209.2 114.43 L209.9 115.56 L210.6 116.81 L211.3 118.32 L212 120.06 L212.7 121.89 L213.4 123.65 L214.1 125.42 L214.8 126.67" fill="none" stroke="rgb(208,36,38)" stroke-width="1.5" stroke-linejoin="round"/>
<path d="M121 146.73 L121.7 147.26 L122.4 147.77 L123.1 148.2 L123.8 148.71 L124.5 149.1 L125.2 149.41 L125.9 149.69 L126.6 150.01 L127.3 150.35 L128 150.64 L128.7 151.09 L129.4 151.58 L130.1 151.58 L130.8 151.19 L131.5 151.28 L132.2 152.56 L132.9 154.55 L133.6 156.06 L134.3 156.61 L135 155.86 L135.7 153.3 L136.4 150.45 L137.1 149.41 L137.8 150.11 L138.5 151.43 L139.2 152.41 L139.9 151.94 L140.6 149.67 L141.3 146.78 L142 144.47 L142.7 143.03 L143.4 141.98 L144.1 141.05 L144.8 139.97 L145.5 138.66 L146.2 137.84 L146.9 138.22 L147.6 139.72 L148.3 141.48 L149 143.56 L149.7 146.63 L150.4 150.19 L151.1 153.63 L151.8 156.97 L152.5 159.09 L153.2 158.71 L153.9 157.43 L154.6 156.88 L155.3 156.82 L156 157.09 L156.7 157.57 L157.4 157.49 L158.1 156.15 L158.8 154.05 L159.5 151.82 L160.2 149.96 L160.9 149.34 L161.6 149.94 L162.3 150.39 L163 149.6 L163.7 147.89 L164.4 145.96 L165.1 144 L165.8 141.99 L166.5 140.67 L167.2 140.77 L167.9 141.59 L168.6 142.35 L169.3 142.84 L170 143.08 L170.7 143.11 L171.4 143.19 L172.1 143.29 L172.8 142.88 L173.5 142.3 L174.2 141.97 L174.9 141.67 L175.6 141.39 L176.3 141.09 L177 140.79 L177.7 140.61 L178.4 140.47 L179.1 140.24 L179.8 139.89 L180.5 139.37 L181.2 138.81 L181.9 138.35 L182.6 137.8 L183.3 137.07 L184 136.22 L184.7 135.42 L185.4 135.17 L186.1 135.63 L186.8 136.28 L187.5 136.75 L188.2 137.47 L188.9 138.7 L189.6 140.03 L190.3 141.65 L191 143.74 L191.7 146.28 L192.4 149.92 L193.1 155.02 L193.8 161.99 L194.5 170.55 L195.2 177.56 L195.9 178.17 L196.6 169.98 L197.3 156.97 L198 146.11 L198.7 140.23 L199.4 138.09 L200.1 137.17 L200.8 136.04 L201.5 134.86 L202.2 134.19 L202.9 134.24 L203.6 134.47 L204.3 134.54 L205 134.5 L205.7 134.32 L206.4 133.88 L207.1 133.36 L207.8 133.6 L208.5 134.74 L209.2 135.98 L209.9 137.05 L210.6 138.1 L211.3 139.24 L212 140.71 L212.7 142.52 L213.4 144.38 L214.1 146.12 L214.8 147.15" fill="none" stroke="rgb(196,44,50)" stroke-width="1.5" stroke-linejoin="round"/>
<path d="M121 160.79 L121.7 161.09 L122.4 161.62 L123.1 162.1 L123.8 162.51 L124.5 162.88 L125.2 163.16 L125.9 163.45 L126.6 163.77 L127.3 163.97 L128 164.35 L128.7 165.02 L129.4 165.55 L130.1 165.59 L130.8 164.97 L131.5 164.73 L132.2 165.99 L132.9 168.01 L133.6 169.45 L134.3 169.92 L135 169.18 L135.7 166.84 L136.4 164.23 L137.1 163.31 L137.8 163.99 L138.5 165.19 L139.2 166.1 L139.9 165.49 L140.6 163.22 L141.3 160.57 L142 158.31 L142.7 156.85 L143.4 156 L144.1 155.13 L144.8 154.02 L145.5 152.9 L146.2 152.21 L146.9 152.5 L147.6 153.91 L148.3 155.66 L149 157.69 L149.7 160.62 L150.4 163.89 L151.1 166.99 L151.8 170.15 L152.5 172.24 L153.2 172.04 L153.9 170.82 L154.6 170.12 L155.3 169.96 L156 170.07 L156.7 170.64 L157.4 170.88 L158.1 169.71 L158.8 167.51 L159.5 165.09 L160.2 163.36 L160.9 163.03 L161.6 163.61 L162.3 164 L163 163.38 L163.7 161.9 L164.4 160.11 L165.1 158.26 L165.8 156.45 L166.5 155.39 L167.2 155.62 L167.9 156.48 L168.6 157.21 L169.3 157.64 L170 157.96 L170.7 158.2 L171.4 158.26 L172.1 158.14 L172.8 157.8 L173.5 157.38 L174.2 157.03 L174.9 156.63 L175.6 156.27 L176.3 156.18 L177 156.09 L177.7 155.87 L178.4 155.67 L179.1 155.36 L179.8 154.98 L180.5 154.7 L181.2 154.22 L181.9 153.48 L182.6 152.95 L183.3 152.48 L184 151.85 L184.7 151.3 L185.4 151.12 L186.1 151.55 L186.8 152.15 L187.5 152.58 L188.2 153.28 L188.9 154.39 L189.6 155.6 L190.3 157.13 L191 158.98 L191.7 161.18 L192.4 164.51 L193.1 169.39 L193.8 175.89 L194.5 183.75 L195.2 190.24 L195.9 190.64 L196.6 182.9 L197.3 170.76 L198 160.54 L198.7 155.05 L199.4 153.22 L200.1 152.5 L200.8 151.55 L201.5 150.65 L202.2 150.06 L202.9 150.04 L203.6 150.27 L204.3 150.44 L205 150.59 L205.7 150.58 L206.4 150.2 L207.1 149.79 L207.8 150.1 L208.5 151.11 L209.2 152.26 L209.9 153.29 L210.6 154.21 L211.3 155.21 L212 156.61 L212.7 158.22 L213.4 159.75 L214.1 161.31 L214.8 162.33" fill="none" stroke="rgb(184,52,62)" stroke-width="1.5" stroke-linejoin="round"/>
<path d="M121 180.56 L121.7 180.92 L122.4 181.36 L123.1 181.82 L123.8 182.2 L124.5 182.46 L125.2 182.78 L125.9 182.95 L126.6 183.12 L127.3 183.5 L128 183.95 L128.7 184.46 L129.4 184.75 L130.1 184.7 L130.8 184.29 L131.5 184.24 L132.2 185.41 L132.9 187.11 L133.6 188.46 L134.3 189 L135 188.22 L135.7 185.94 L136.4 183.45 L137.1 182.59 L137.8 183.3 L138.5 184.46 L139.2 185.24 L139.9 184.64 L140.6 182.59 L141.3 180.02 L142 177.74 L142.7 176.34 L143.4 175.53 L144.1 174.76 L144.8 173.9 L145.5 172.82 L146.2 171.96 L146.9 172.33 L147.6 173.75 L148.3 175.22 L149 177.04 L149.7 179.73 L150.4 182.91 L151.1 186.05 L151.8 188.97 L152.5 190.66 L153.2 190.33 L153.9 189.28 L154.6 188.64 L155.3 188.39 L156 188.58 L156.7 189.22 L157.4 189.48 L158.1 188.29 L158.8 186.22 L159.5 184.26 L160.2 182.83 L160.9 182.44 L161.6 182.98 L162.3 183.36 L163 182.8 L163.7 181.49 L164.4 179.83 L165.1 178.14 L165.8 176.55 L166.5 175.61 L167.2 175.86 L167.9 176.67 L168.6 177.46 L169.3 177.98 L170 178.07 L170.7 178.15 L171.4 178.36 L172.1 178.51 L172.8 178.47 L173.5 178.16 L174.2 177.62 L174.9 177.15 L175.6 177.07 L176.3 177.01 L177 176.74 L177.7 176.53 L178.4 176.35 L179.1 176.09 L179.8 175.84 L180.5 175.6 L181.2 175.19 L181.9 174.67 L182.6 174.17 L183.3 173.59 L184 172.98 L184.7 172.51 L185.4 172.35 L186.1 172.71 L186.8 173.36 L187.5 174.01 L188.2 174.72 L188.9 175.62 L189.6 176.71 L190.3 178.1 L191 179.69 L191.7 181.66 L192.4 184.74 L193.1 188.97 L193.8 194.72 L194.5 201.96 L195.2 207.98 L195.9 208.5 L196.6 201.39 L197.3 190.01 L198 180.48 L198.7 175.52 L199.4 173.97 L200.1 173.42 L200.8 172.61 L201.5 171.79 L202.2 171.34 L202.9 171.41 L203.6 171.77 L204.3 172.08 L205 172.32 L205.7 172.27 L206.4 171.87 L207.1 171.56 L207.8 171.82 L208.5 172.72 L209.2 173.94 L209.9 175.07 L210.6 175.89 L211.3 176.78 L212 177.97 L212.7 179.23 L213.4 180.55 L214.1 181.91 L214.8 182.83" fill="none" stroke="rgb(174,58,75)" stroke-width="1.5" stroke-linejoin="round"/>
<path d="M121 196.09 L121.7 196.51 L122.4 197.12 L123.1 197.63 L123.8 198.01 L124.5 198.17 L125.2 198.17 L125.9 198.34 L126.6 198.69 L127.3 198.99 L128 199.31 L128.7 199.72 L129.4 200.04 L130.1 200.09 L130.8 199.65 L131.5 199.48 L132.2 200.61 L132.9 202.38 L133.6 203.59 L134.3 204.01 L135 203.39 L135.7 201.25 L136.4 198.8 L137.1 197.92 L137.8 198.7 L138.5 199.89 L139.2 200.56 L139.9 199.9 L140.6 197.83 L141.3 195.45 L142 193.72 L142.7 192.8 L143.4 192.05 L144.1 191.05 L144.8 190.05 L145.5 189.16 L146.2 188.72 L146.9 189.26 L147.6 190.53 L148.3 191.83 L149 193.35 L149.7 195.75 L150.4 198.73 L151.1 201.41 L151.8 203.74 L152.5 205.19 L153.2 204.87 L153.9 203.9 L154.6 203.47 L155.3 203.32 L156 203.34 L156.7 203.83 L157.4 204.15 L158.1 203.32 L158.8 201.49 L159.5 199.38 L160.2 197.83 L160.9 197.54 L161.6 198.25 L162.3 198.81 L163 198.33 L163.7 197.12 L164.4 195.81 L165.1 194.39 L165.8 192.92 L166.5 192.11 L167.2 192.25 L167.9 192.88 L168.6 193.62 L169.3 194.09 L170 194.24 L170.7 194.29 L171.4 194.4 L172.1 194.46 L172.8 194.14 L173.5 193.64 L174.2 193.29 L174.9 193.03 L175.6 192.89 L176.3 192.82 L177 192.73 L177.7 192.66 L178.4 192.4 L179.1 192.01 L179.8 191.74 L180.5 191.48 L181.2 191.1 L181.9 190.59 L182.6 190.08 L183.3 189.66 L184 189.36 L184.7 189.06 L185.4 188.92 L186.1 189.27 L186.8 189.72 L187.5 190.14 L188.2 190.83 L188.9 191.89 L189.6 193.02 L190.3 194.09 L191 195.36 L191.7 197.11 L192.4 199.72 L193.1 203.53 L193.8 208.9 L194.5 215.58 L195.2 221.18 L195.9 221.75 L196.6 215.17 L197.3 204.69 L198 196.14 L198.7 191.82 L199.4 190.55 L200.1 190.17 L200.8 189.53 L201.5 188.93 L202.2 188.6 L202.9 188.67 L203.6 188.99 L204.3 189.21 L205 189.36 L205.7 189.43 L206.4 189.15 L207.1 188.92 L207.8 189.26 L208.5 190.06 L209.2 190.87 L209.9 191.68 L210.6 192.48 L211.3 193.18 L212 194.09 L212.7 195.39 L213.4 196.66 L214.1 197.72 L214.8 198.37" fill="none" stroke="rgb(165,64,88)" stroke-width="1.5" stroke-linejoin="round"/>
<path d="M121 214.95 L121.7 215.27 L122.4 215.62 L123.1 215.81 L123.8 216.07 L124.5 216.38 L125.2 216.6 L125.9 216.86 L126.6 217.04 L127.3 217.13 L128 217.41 L128.7 217.78 L129.4 218.18 L130.1 218.27 L130.8 217.75 L131.5 217.59 L132.2 218.53 L132.9 220.02 L133.6 221.14 L134.3 221.61 L135 221.17 L135.7 219.31 L136.4 217.12 L137.1 216.35 L137.8 216.9 L138.5 217.85 L139.2 218.49 L139.9 217.93 L140.6 216.2 L141.3 214.16 L142 212.56 L142.7 211.67 L143.4 211.07 L144.1 210.48 L144.8 209.82 L145.5 209.01 L146.2 208.56 L146.9 208.98 L147.6 209.98 L148.3 210.98 L149 212.41 L149.7 214.63 L150.4 217.04 L151.1 219.35 L151.8 221.68 L152.5 223.13 L153.2 222.65 L153.9 221.54 L154.6 221 L155.3 220.71 L156 220.86 L156.7 221.45 L157.4 221.64 L158.1 220.86 L158.8 219.35 L159.5 217.6 L160.2 216.34 L160.9 216.15 L161.6 216.72 L162.3 217.14 L163 216.74 L163.7 215.75 L164.4 214.46 L165.1 213.01 L165.8 211.65 L166.5 210.87 L167.2 211.14 L167.9 211.87 L168.6 212.43 L169.3 212.77 L170 212.92 L170.7 212.92 L171.4 212.85 L172.1 212.87 L172.8 212.87 L173.5 212.52 L174.2 211.95 L174.9 211.64 L175.6 211.59 L176.3 211.47 L177 211.36 L177.7 211.33 L178.4 211.14 L179.1 210.82 L179.8 210.55 L180.5 210.26 L181.2 209.99 L181.9 209.8 L182.6 209.43 L183.3 208.92 L184 208.47 L184.7 208.15 L185.4 208.16 L186.1 208.47 L186.8 209.02 L187.5 209.58 L188.2 210.19 L188.9 210.97 L189.6 211.68 L190.3 212.57 L191 213.78 L191.7 215.34 L192.4 217.75 L193.1 221.23 L193.8 225.91 L194.5 231.83 L195.2 237.03 L195.9 237.79 L196.6 232.09 L197.3 222.82 L198 215.12 L198.7 211.08 L199.4 209.91 L200.1 209.75 L200.8 209.29 L201.5 208.72 L202.2 208.51 L202.9 208.6 L203.6 208.72 L204.3 208.95 L205 209.29 L205.7 209.36 L206.4 209.01 L207.1 208.75 L207.8 209.01 L208.5 209.69 L209.2 210.46 L209.9 210.98 L210.6 211.36 L211.3 212.05 L212 212.99 L212.7 213.87 L213.4 214.87 L214.1 216.03 L214.8 216.72" fill="none" stroke="rgb(152,80,108)" stroke-width="1.5" stroke-linejoin="round"/>
<path d="M121 231.76 L121.7 232.01 L122.4 232.3 L123.1 232.65 L123.8 232.9 L124.5 233.13 L125.2 233.32 L125.9 233.4 L126.6 233.65 L127.3 233.97 L128 234.17 L128.7 234.34 L129.4 234.63 L130.1 234.74 L130.8 234.36 L131.5 234.29 L132.2 235.08 L132.9 236.31 L133.6 237.35 L134.3 237.76 L135 237.19 L135.7 235.45 L136.4 233.57 L137.1 232.78 L137.8 233.25 L138.5 234.29 L139.2 234.96 L139.9 234.61 L140.6 233.16 L141.3 231.29 L142 229.84 L142.7 229.04 L143.4 228.57 L144.1 228.22 L144.8 227.73 L145.5 227.01 L146.2 226.58 L146.9 226.88 L147.6 227.8 L148.3 228.88 L149 230.02 L149.7 231.69 L150.4 233.84 L151.1 235.9 L151.8 237.79 L152.5 238.93 L153.2 238.53 L153.9 237.44 L154.6 236.87 L155.3 236.72 L156 236.72 L156.7 237.01 L157.4 237.18 L158.1 236.61 L158.8 235.3 L159.5 233.8 L160.2 232.72 L160.9 232.51 L161.6 233.07 L162.3 233.51 L163 233.24 L163.7 232.49 L164.4 231.36 L165.1 230.15 L165.8 229.08 L166.5 228.47 L167.2 228.79 L167.9 229.41 L168.6 229.74 L169.3 229.83 L170 229.88 L170.7 229.98 L171.4 229.95 L172.1 229.89 L172.8 229.67 L173.5 229.23 L174.2 228.96 L174.9 228.86 L175.6 228.75 L176.3 228.54 L177 228.29 L177.7 228.11 L178.4 227.98 L179.1 227.93 L179.8 227.87 L180.5 227.69 L181.2 227.44 L181.9 227.08 L182.6 226.63 L183.3 226.35 L184 226.11 L184.7 225.71 L185.4 225.56 L186.1 225.94 L186.8 226.54 L187.5 227.01 L188.2 227.41 L188.9 228.02 L189.6 228.79 L190.3 229.78 L191 230.93 L191.7 232.16 L192.4 234.12 L193.1 237.22 L193.8 241.46 L194.5 246.79 L195.2 251.3 L195.9 251.77 L196.6 246.76 L197.3 238.72 L198 231.96 L198.7 228.55 L199.4 227.65 L200.1 227.46 L200.8 227.2 L201.5 226.88 L202.2 226.59 L202.9 226.66 L203.6 227.04 L204.3 227.4 L205 227.58 L205.7 227.55 L206.4 227.23 L207.1 226.83 L207.8 226.97 L208.5 227.63 L209.2 228.13 L209.9 228.59 L210.6 229.14 L211.3 229.48 L212 229.94 L212.7 230.78 L213.4 231.7 L214.1 232.61 L214.8 233.28" fill="none" stroke="rgb(138,90,124)" stroke-width="1.5" stroke-linejoin="round"/>
<path d="M121 248.99 L121.7 249.14 L122.4 249.51 L123.1 249.76 L123.8 249.9 L124.5 249.99 L125.2 250.14 L125.9 250.43 L126.6 250.59 L127.3 250.6 L128 250.72 L128.7 251.02 L129.4 251.34 L130.1 251.31 L130.8 250.89 L131.5 250.87 L132.2 251.74 L132.9 252.96 L133.6 253.87 L134.3 254.12 L135 253.46 L135.7 251.97 L136.4 250.46 L137.1 249.8 L137.8 250.07 L138.5 250.71 L139.2 251.29 L139.9 251.06 L140.6 249.76 L141.3 248.29 L142 247.27 L142.7 246.77 L143.4 246.43 L144.1 245.98 L144.8 245.53 L145.5 245.06 L146.2 244.76 L146.9 245.05 L147.6 245.86 L148.3 246.63 L149 247.58 L149.7 249.1 L150.4 250.84 L151.1 252.49 L151.8 254 L152.5 254.95 L153.2 254.58 L153.9 253.56 L154.6 253 L155.3 252.89 L156 252.92 L156.7 253.25 L157.4 253.48 L158.1 252.81 L158.8 251.6 L159.5 250.48 L160.2 249.69 L160.9 249.58 L161.6 250.04 L162.3 250.31 L163 250.07 L163.7 249.49 L164.4 248.56 L165.1 247.59 L165.8 246.73 L166.5 246.23 L167.2 246.5 L167.9 247.06 L168.6 247.29 L169.3 247.22 L170 247.21 L170.7 247.24 L171.4 247.13 L172.1 246.99 L172.8 246.71 L173.5 246.37 L174.2 246.14 L174.9 246.02 L175.6 245.94 L176.3 245.77 L177 245.62 L177.7 245.56 L178.4 245.52 L179.1 245.4 L179.8 245.29 L180.5 245.12 L181.2 244.75 L181.9 244.42 L182.6 244.23 L183.3 244.14 L184 243.93 L184.7 243.57 L185.4 243.5 L186.1 243.83 L186.8 244.22 L187.5 244.53 L188.2 245.01 L188.9 245.76 L189.6 246.55 L190.3 247.31 L191 248.1 L191.7 249.22 L192.4 251.02 L193.1 253.57 L193.8 257.14 L194.5 261.66 L195.2 265.4 L195.9 265.65 L196.6 261.31 L197.3 254.67 L198 249.29 L198.7 246.47 L199.4 245.65 L200.1 245.64 L200.8 245.56 L201.5 245.27 L202.2 245.04 L202.9 245.17 L203.6 245.49 L204.3 245.86 L205 246.03 L205.7 245.92 L206.4 245.73 L207.1 245.49 L207.8 245.4 L208.5 245.75 L209.2 246.36 L209.9 246.75 L210.6 246.93 L211.3 247.11 L212 247.48 L212.7 248.13 L213.4 248.88 L214.1 249.68 L214.8 250.29" fill="none" stroke="rgb(120,96,140)" stroke-width="1.5" stroke-linejoin="round"/>
<path d="M121 263.73 L121.7 263.96 L122.4 264.18 L123.1 264.25 L123.8 264.27 L124.5 264.34 L125.2 264.45 L125.9 264.52 L126.6 264.67 L127.3 264.95 L128 265.27 L128.7 265.53 L129.4 265.57 L130.1 265.46 L130.8 265.25 L131.5 265.24 L132.2 265.86 L132.9 266.89 L133.6 267.71 L134.3 267.94 L135 267.45 L135.7 266.23 L136.4 264.83 L137.1 264.26 L137.8 264.54 L138.5 265.03 L139.2 265.35 L139.9 265.08 L140.6 264.2 L141.3 263.1 L142 262.18 L142.7 261.66 L143.4 261.55 L144.1 261.5 L144.8 261.26 L145.5 260.97 L146.2 260.67 L146.9 260.8 L147.6 261.54 L148.3 262.28 L149 263.08 L149.7 264.33 L150.4 265.69 L151.1 266.91 L151.8 268.07 L152.5 268.64 L153.2 268.12 L153.9 267.24 L154.6 266.72 L155.3 266.45 L156 266.49 L156.7 266.9 L157.4 267.01 L158.1 266.34 L158.8 265.41 L159.5 264.62 L160.2 263.95 L160.9 263.85 L161.6 264.35 L162.3 264.76 L163 264.73 L163.7 264.26 L164.4 263.59 L165.1 262.85 L165.8 262.1 L166.5 261.7 L167.2 261.9 L167.9 262.14 L168.6 262.16 L169.3 262.21 L170 262.23 L170.7 262.13 L171.4 261.94 L172.1 261.76 L172.8 261.53 L173.5 261.12 L174.2 260.85 L174.9 260.75 L175.6 260.55 L176.3 260.38 L177 260.37 L177.7 260.37 L178.4 260.28 L179.1 260.22 L179.8 260.1 L180.5 259.77 L181.2 259.56 L181.9 259.56 L182.6 259.53 L183.3 259.31 L184 259.06 L184.7 259.07 L185.4 259.29 L186.1 259.5 L186.8 259.63 L187.5 259.87 L188.2 260.46 L188.9 261.05 L189.6 261.57 L190.3 262.23 L191 263 L191.7 264.04 L192.4 265.53 L193.1 267.56 L193.8 270.25 L194.5 273.76 L195.2 276.9 L195.9 277.31 L196.6 274.03 L197.3 268.65 L198 264.18 L198.7 262.08 L199.4 261.57 L200.1 261.61 L200.8 261.58 L201.5 261.31 L202.2 261.16 L202.9 261.28 L203.6 261.54 L204.3 261.73 L205 261.77 L205.7 261.7 L206.4 261.6 L207.1 261.54 L207.8 261.67 L208.5 261.95 L209.2 262.15 L209.9 262.25 L210.6 262.28 L211.3 262.28 L212 262.48 L212.7 262.97 L213.4 263.61 L214.1 264.18 L214.8 264.44" fill="none" stroke="rgb(100,104,152)" stroke-width="1.5" stroke-linejoin="round"/>
<path d="M121 277.46 L121.7 277.51 L122.4 277.62 L123.1 277.9 L123.8 278.1 L124.5 278.21 L125.2 278.3 L125.9 278.36 L126.6 278.51 L127.3 278.61 L128 278.71 L128.7 279.01 L129.4 279.28 L130.1 279.36 L130.8 279.22 L131.5 279.13 L132.2 279.55 L132.9 280.17 L133.6 280.5 L134.3 280.62 L135 280.46 L135.7 279.71 L136.4 278.79 L137.1 278.28 L137.8 278.42 L138.5 278.82 L139.2 278.95 L139.9 278.77 L140.6 278.25 L141.3 277.43 L142 276.74 L142.7 276.36 L143.4 276.15 L144.1 276.01 L144.8 275.78 L145.5 275.54 L146.2 275.41 L146.9 275.63 L147.6 276.16 L148.3 276.57 L149 277.13 L149.7 278.09 L150.4 279.07 L151.1 280.01 L151.8 281 L152.5 281.53 L153.2 281.3 L153.9 280.68 L154.6 280.14 L155.3 279.88 L156 279.82 L156.7 279.93 L157.4 279.98 L158.1 279.66 L158.8 279.08 L159.5 278.52 L160.2 278.11 L160.9 277.93 L161.6 277.98 L162.3 278.24 L163 278.33 L163.7 277.96 L164.4 277.31 L165.1 276.64 L165.8 276.04 L166.5 275.83 L167.2 276.13 L167.9 276.4 L168.6 276.45 L169.3 276.4 L170 276.24 L170.7 276.08 L171.4 276.02 L172.1 276 L172.8 275.87 L173.5 275.56 L174.2 275.21 L174.9 274.95 L175.6 274.94 L176.3 275.12 L177 275.16 L177.7 275.03 L178.4 274.87 L179.1 274.7 L179.8 274.56 L180.5 274.49 L181.2 274.38 L181.9 274.18 L182.6 274.17 L183.3 274.11 L184 273.91 L184.7 273.87 L185.4 273.99 L186.1 274.21 L186.8 274.41 L187.5 274.69 L188.2 275.05 L188.9 275.4 L189.6 275.77 L190.3 276.24 L191 276.84 L191.7 277.54 L192.4 278.43 L193.1 279.82 L193.8 281.92 L194.5 284.41 L195.2 286.5 L195.9 286.9 L196.6 284.52 L197.3 280.54 L198 277.36 L198.7 275.85 L199.4 275.59 L200.1 275.56 L200.8 275.36 L201.5 275.27 L202.2 275.24 L202.9 275.22 L203.6 275.24 L204.3 275.27 L205 275.32 L205.7 275.42 L206.4 275.36 L207.1 275.05 L207.8 274.86 L208.5 275.09 L209.2 275.52 L209.9 275.6 L210.6 275.44 L211.3 275.42 L212 275.58 L212.7 275.94 L213.4 276.28 L214.1 276.59 L214.8 276.91" fill="none" stroke="rgb(84,114,168)" stroke-width="1.5" stroke-linejoin="round"/>
<path d="M121 289.16 L121.7 289.38 L122.4 289.42 L123.1 289.38 L123.8 289.5 L124.5 289.56 L125.2 289.7 L125.9 290.07 L126.6 290.3 L127.3 290.35 L128 290.41 L128.7 290.45 L129.4 290.54 L130.1 290.62 L130.8 290.64 L131.5 290.73 L132.2 290.95 L132.9 291.27 L133.6 291.5 L134.3 291.6 L135 291.5 L135.7 291.03 L136.4 290.46 L137.1 290.23 L137.8 290.29 L138.5 290.45 L139.2 290.58 L139.9 290.44 L140.6 290.13 L141.3 289.78 L142 289.45 L142.7 289.24 L143.4 289.11 L144.1 289.04 L144.8 288.88 L145.5 288.6 L146.2 288.36 L146.9 288.44 L147.6 288.92 L148.3 289.51 L149 290.03 L149.7 290.53 L150.4 291 L151.1 291.47 L151.8 292.09 L152.5 292.45 L153.2 292.26 L153.9 291.95 L154.6 291.7 L155.3 291.44 L156 291.28 L156.7 291.28 L157.4 291.33 L158.1 291.11 L158.8 290.58 L159.5 290.16 L160.2 289.9 L160.9 289.71 L161.6 289.86 L162.3 290.06 L163 289.95 L163.7 289.71 L164.4 289.39 L165.1 289 L165.8 288.63 L166.5 288.4 L167.2 288.45 L167.9 288.55 L168.6 288.49 L169.3 288.49 L170 288.57 L170.7 288.47 L171.4 288.33 L172.1 288.27 L172.8 288.06 L173.5 287.87 L174.2 287.76 L174.9 287.7 L175.6 287.68 L176.3 287.53 L177 287.45 L177.7 287.51 L178.4 287.43 L179.1 287.27 L179.8 287.3 L180.5 287.27 L181.2 287.01 L181.9 286.97 L182.6 286.99 L183.3 286.79 L184 286.73 L184.7 286.87 L185.4 287 L186.1 287.09 L186.8 287.27 L187.5 287.61 L188.2 287.83 L188.9 287.93 L189.6 288.11 L190.3 288.43 L191 288.91 L191.7 289.31 L192.4 289.73 L193.1 290.37 L193.8 291.34 L194.5 292.74 L195.2 294.01 L195.9 294.27 L196.6 293 L197.3 290.8 L198 288.94 L198.7 287.95 L199.4 287.66 L200.1 287.63 L200.8 287.54 L201.5 287.43 L202.2 287.35 L202.9 287.27 L203.6 287.23 L204.3 287.25 L205 287.23 L205.7 287.12 L206.4 286.91 L207.1 286.68 L207.8 286.68 L208.5 286.85 L209.2 286.92 L209.9 286.88 L210.6 286.84 L211.3 286.88 L212 287 L212.7 287.1 L213.4 287.17 L214.1 287.23 L214.8 287.25" fill="none" stroke="rgb(76,128,186)" stroke-width="1.5" stroke-linejoin="round"/>
<path d="M121 297.13 L121.7 297.16 L122.4 297.23 L123.1 297.39 L123.8 297.49 L124.5 297.5 L125.2 297.55 L125.9 297.61 L126.6 297.61 L127.3 297.69 L128 297.83 L128.7 297.96 L129.4 298.11 L130.1 298.16 L130.8 298.06 L131.5 297.96 L132.2 298.05 L132.9 298.33 L133.6 298.47 L134.3 298.38 L135 298.24 L135.7 298.04 L136.4 297.78 L137.1 297.65 L137.8 297.72 L138.5 297.82 L139.2 297.89 L139.9 298 L140.6 297.88 L141.3 297.56 L142 297.46 L142.7 297.52 L143.4 297.49 L144.1 297.35 L144.8 297.23 L145.5 297.1 L146.2 297.11 L146.9 297.31 L147.6 297.43 L148.3 297.67 L149 298.09 L149.7 298.46 L150.4 298.77 L151.1 299.11 L151.8 299.45 L152.5 299.57 L153.2 299.5 L153.9 299.42 L154.6 299.22 L155.3 299.01 L156 299.06 L156.7 299.26 L157.4 299.27 L158.1 299.08 L158.8 298.84 L159.5 298.55 L160.2 298.3 L160.9 298.3 L161.6 298.51 L162.3 298.65 L163 298.65 L163.7 298.48 L164.4 298.26 L165.1 298.08 L165.8 297.85 L166.5 297.76 L167.2 297.83 L167.9 297.77 L168.6 297.59 L169.3 297.6 L170 297.72 L170.7 297.62 L171.4 297.48 L172.1 297.5 L172.8 297.38 L173.5 297.17 L174.2 297.08 L174.9 297.08 L175.6 296.96 L176.3 296.91 L177 296.97 L177.7 296.81 L178.4 296.64 L179.1 296.62 L179.8 296.53 L180.5 296.36 L181.2 296.34 L181.9 296.39 L182.6 296.29 L183.3 296.09 L184 296.01 L184.7 296.08 L185.4 296.19 L186.1 296.18 L186.8 296.18 L187.5 296.32 L188.2 296.39 L188.9 296.47 L189.6 296.65 L190.3 296.82 L191 296.93 L191.7 297.11 L192.4 297.52 L193.1 297.86 L193.8 298.18 L194.5 298.88 L195.2 299.59 L195.9 299.76 L196.6 299.22 L197.3 298.1 L198 297.05 L198.7 296.63 L199.4 296.68 L200.1 296.77 L200.8 296.69 L201.5 296.49 L202.2 296.4 L202.9 296.33 L203.6 296.11 L204.3 296.02 L205 296.02 L205.7 295.93 L206.4 295.81 L207.1 295.61 L207.8 295.56 L208.5 295.67 L209.2 295.71 L209.9 295.68 L210.6 295.48 L211.3 295.23 L212 295.14 L212.7 295.22 L213.4 295.4 L214.1 295.5 L214.8 295.44" fill="none" stroke="rgb(68,144,206)" stroke-width="1.5" stroke-linejoin="round"/>
<line x1="62.4" y1="56" x2="64.5" y2="303.3" stroke="#111" stroke-width="0.9" stroke-dasharray="2 1.6"/>
<line x1="73.3" y1="64" x2="75.2" y2="302" stroke="#111" stroke-width="0.9" stroke-dasharray="2 1.6"/>
<line x1="146.5" y1="67.4" x2="146.5" y2="303.3" stroke="#111" stroke-width="0.9" stroke-dasharray="2 1.6"/>
<line x1="184.9" y1="62.6" x2="184.9" y2="303.3" stroke="#111" stroke-width="0.9" stroke-dasharray="2 1.6"/>
<line x1="195.4" y1="68" x2="195.4" y2="303.3" stroke="#111" stroke-width="0.9" stroke-dasharray="2 1.6"/>
<line x1="207.5" y1="57.7" x2="208.5" y2="303.3" stroke="#111" stroke-width="0.9" stroke-dasharray="2 1.6"/>
<line x1="29.7" y1="302.8" x2="29.7" y2="51" stroke="#222" stroke-width="1"/>
<path d="M28.2 52 L29.7 46.8 L31.2 52 Z" fill="#222"/>
<text x="0" y="0" font-size="8.5" text-anchor="start" fill="#222" stroke="#222" stroke-width="0.22" font-weight="normal" transform="translate(32.6,42.5) rotate(-90) scale(0.95,1)">-1.0 V</text>
<text x="0" y="0" font-size="8.5" text-anchor="start" fill="#222" stroke="#222" stroke-width="0.22" font-weight="normal" transform="translate(32.6,324.2) rotate(-90) scale(0.95,1)">0.3 V</text>
<text x="0" y="0" font-size="8.5" text-anchor="start" fill="#222" stroke="#222" stroke-width="0.22" font-weight="normal" transform="translate(65.3,53.2) rotate(-90) scale(0.95,1)">*NH<tspan dy="2.2" font-size="5.949999999999999">2</tspan><tspan dy="-2.2"></tspan></text>
<text x="0" y="0" font-size="8.5" text-anchor="start" fill="#222" stroke="#222" stroke-width="0.22" font-weight="normal" transform="translate(75.6,60.7) rotate(-90) scale(0.95,1)">*NH<tspan dy="2.2" font-size="5.949999999999999">2</tspan><tspan dy="-2.2"></tspan></text>
<text x="0" y="0" font-size="8.5" text-anchor="start" fill="#222" stroke="#222" stroke-width="0.22" font-weight="normal" transform="translate(149.4,65) rotate(-90) scale(0.95,1)">*H<tspan dy="2.2" font-size="5.949999999999999">2</tspan><tspan dy="-2.2"></tspan>O</text>
<text x="0" y="0" font-size="8.5" text-anchor="start" fill="#222" stroke="#222" stroke-width="0.22" font-weight="normal" transform="translate(187.6,60.1) rotate(-90) scale(0.95,1)">*NO<tspan dy="2.2" font-size="5.949999999999999">2</tspan><tspan dy="-2.2"></tspan></text>
<text x="0" y="0" font-size="8.5" text-anchor="start" fill="#222" stroke="#222" stroke-width="0.22" font-weight="normal" transform="translate(198.3,66.2) rotate(-90) scale(0.95,1)">*Si-O</text>
<text x="0" y="0" font-size="8.5" text-anchor="start" fill="#222" stroke="#222" stroke-width="0.22" font-weight="normal" transform="translate(210.6,55.9) rotate(-90) scale(0.95,1)">*NH<tspan dy="2.2" font-size="5.949999999999999">2</tspan><tspan dy="-2.2"></tspan></text>
<text x="0" y="0" font-size="9" text-anchor="start" fill="#222" stroke="#222" stroke-width="0.22" font-weight="normal" transform="translate(67.2,323.7) rotate(-90) scale(0.89,1)">3226</text>
<text x="0" y="0" font-size="9" text-anchor="start" fill="#222" stroke="#222" stroke-width="0.22" font-weight="normal" transform="translate(78,323.7) rotate(-90) scale(0.89,1)">3140</text>
<text x="0" y="0" font-size="9" text-anchor="start" fill="#222" stroke="#222" stroke-width="0.22" font-weight="normal" transform="translate(149.4,323.7) rotate(-90) scale(0.89,1)">1597</text>
<text x="0" y="0" font-size="9" text-anchor="start" fill="#222" stroke="#222" stroke-width="0.22" font-weight="normal" transform="translate(187.8,323.7) rotate(-90) scale(0.89,1)">1287</text>
<text x="0" y="0" font-size="9" text-anchor="start" fill="#222" stroke="#222" stroke-width="0.22" font-weight="normal" transform="translate(198.3,323.7) rotate(-90) scale(0.89,1)">1205</text>
<text x="0" y="0" font-size="9" text-anchor="start" fill="#222" stroke="#222" stroke-width="0.22" font-weight="normal" transform="translate(211.4,323.7) rotate(-90) scale(0.89,1)">1112</text>
<path d="M354.4 10.5 L253.7 10.5" fill="none" stroke="#4a4a4a" stroke-width="1.1"/>
<path d="M357.6 10.5 L452 10.5" fill="none" stroke="#4a4a4a" stroke-width="1.1"/>
<path d="M253.7 336.2 L354.4 336.2" fill="none" stroke="#6a6a6a" stroke-width="1.2"/>
<path d="M357.6 336.2 L452 336.2" fill="none" stroke="#6a6a6a" stroke-width="1.2"/>
<path d="M253.7 10.5 L253.7 336.2" fill="none" stroke="#858585" stroke-width="1.3"/>
<path d="M452 10.5 L452 336.2" fill="none" stroke="#a0a0a0" stroke-width="1.7"/>
<line x1="352.7" y1="13.5" x2="356.1" y2="7.5" stroke="#4a4a4a" stroke-width="0.9"/>
<line x1="355.9" y1="13.5" x2="359.3" y2="7.5" stroke="#4a4a4a" stroke-width="0.9"/>
<line x1="352.7" y1="339.2" x2="356.1" y2="333.2" stroke="#4a4a4a" stroke-width="0.9"/>
<line x1="355.9" y1="339.2" x2="359.3" y2="333.2" stroke="#4a4a4a" stroke-width="0.9"/>
<line x1="253.7" y1="336.2" x2="253.7" y2="338.7" stroke="#4a4a4a" stroke-width="0.9"/>
<text x="0" y="0" font-size="9.3" text-anchor="middle" fill="#222" stroke="#222" stroke-width="0.22" font-weight="normal" transform="translate(253.7,347.6) scale(0.86,1)">3600</text>
<line x1="291.29" y1="336.2" x2="291.29" y2="338.7" stroke="#4a4a4a" stroke-width="0.9"/>
<text x="0" y="0" font-size="9.3" text-anchor="middle" fill="#222" stroke="#222" stroke-width="0.22" font-weight="normal" transform="translate(291.29,347.6) scale(0.86,1)">3300</text>
<line x1="328.88" y1="336.2" x2="328.88" y2="338.7" stroke="#4a4a4a" stroke-width="0.9"/>
<text x="0" y="0" font-size="9.3" text-anchor="middle" fill="#222" stroke="#222" stroke-width="0.22" font-weight="normal" transform="translate(328.88,347.6) scale(0.86,1)">3000</text>
<line x1="272.5" y1="336.2" x2="272.5" y2="338" stroke="#4a4a4a" stroke-width="0.8"/>
<line x1="310.09" y1="336.2" x2="310.09" y2="338" stroke="#4a4a4a" stroke-width="0.8"/>
<line x1="347.68" y1="336.2" x2="347.68" y2="338" stroke="#4a4a4a" stroke-width="0.8"/>
<line x1="395.1" y1="336.2" x2="395.1" y2="338.7" stroke="#4a4a4a" stroke-width="0.9"/>
<text x="0" y="0" font-size="9.3" text-anchor="middle" fill="#222" stroke="#222" stroke-width="0.22" font-weight="normal" transform="translate(395.1,347.6) scale(0.86,1)">1500</text>
<line x1="432.99" y1="336.2" x2="432.99" y2="338.7" stroke="#4a4a4a" stroke-width="0.9"/>
<text x="0" y="0" font-size="9.3" text-anchor="middle" fill="#222" stroke="#222" stroke-width="0.22" font-weight="normal" transform="translate(432.99,347.6) scale(0.86,1)">1200</text>
<line x1="376.16" y1="336.2" x2="376.16" y2="338" stroke="#4a4a4a" stroke-width="0.8"/>
<line x1="414.05" y1="336.2" x2="414.05" y2="338" stroke="#4a4a4a" stroke-width="0.8"/>
<text x="352.9" y="364" font-size="10.4" text-anchor="middle" fill="#222" stroke="#222" stroke-width="0.22" font-weight="normal">Wavenumber (cm<tspan dy="-4" font-size="7">-1</tspan><tspan dy="4">)</tspan></text>
<text x="0" y="0" font-size="10" text-anchor="middle" fill="#222" stroke="#222" stroke-width="0.22" font-weight="normal" transform="translate(244,173) rotate(-90)">Absorption (a. u.)</text>
<text x="449.5" y="19.2" font-size="8.2" text-anchor="end" fill="#222" stroke="#222" stroke-width="0.22" font-weight="normal">fcc Cu NPs</text>
<text x="236.1" y="12" font-size="16" text-anchor="start" fill="#000" stroke="#000" stroke-width="0" font-weight="bold">b</text>
<path d="M254.2 83.26 L254.9 82.83 L255.6 82.3 L256.3 81.77 L257 81.21 L257.7 80.52 L258.4 79.85 L259.1 79.28 L259.8 78.88 L260.5 78.51 L261.2 78.1 L261.9 77.68 L262.6 77.29 L263.3 76.94 L264 76.48 L264.7 76.05 L265.4 75.78 L266.1 75.5 L266.8 75.27 L267.5 75.15 L268.2 75 L268.9 74.76 L269.6 74.41 L270.3 74.05 L271 73.83 L271.7 73.71 L272.4 73.55 L273.1 73.31 L273.8 73.12 L274.5 73.05 L275.2 73 L275.9 72.87 L276.6 72.78 L277.3 72.9 L278 73.01 L278.7 72.95 L279.4 72.88 L280.1 72.85 L280.8 72.79 L281.5 72.83 L282.2 72.97 L282.9 73.04 L283.6 73 L284.3 72.9 L285 72.93 L285.7 72.98 L286.4 72.91 L287.1 72.93 L287.8 72.94 L288.5 72.95 L289.2 73.03 L289.9 73 L290.6 72.88 L291.3 72.8 L292 72.59 L292.7 72.27 L293.4 72.06 L294.1 71.78 L294.8 71.45 L295.5 70.86 L296.2 69.65 L296.9 67.57 L297.6 64.81 L298.3 62.08 L299 59.69 L299.7 57.31 L300.4 54.74 L301.1 52.41 L301.8 50.93 L302.5 50.77 L303.2 52.06 L303.9 54.47 L304.6 57.66 L305.3 61.11 L306 64.14 L306.7 66.45 L307.4 68.06 L308.1 69.28 L308.8 70.29 L309.5 70.73 L310.2 70.74 L310.9 70.73 L311.6 70.88 L312.3 71.21 L313 71.71 L313.7 72.42 L314.4 73.23 L315.1 73.96 L315.8 74.85 L316.5 75.95 L317.2 77.04 L317.9 77.97 L318.6 78.78 L319.3 79.5 L320 80.12 L320.7 80.63 L321.4 80.9 L322.1 81.05 L322.8 81.19 L323.5 81.3 L324.2 81.42 L324.9 81.6 L325.6 81.78 L326.3 81.83 L327 81.8 L327.7 81.84 L328.4 81.96 L329.1 82.13 L329.8 82.33 L330.5 82.35 L331.2 82.27 L331.9 82.33 L332.6 82.38 L333.3 82.3 L334 82.2 L334.7 82.14 L335.4 82.11 L336.1 82.03 L336.8 82.02 L337.5 82.03 L338.2 82.01 L338.9 82.01 L339.6 81.88 L340.3 81.78 L341 81.8 L341.7 81.76 L342.4 81.74 L343.1 81.71 L343.8 81.6 L344.5 81.58 L345.2 81.69 L345.9 81.67 L346.6 81.46 L347.3 81.33 L348 81.31 L348.7 81.27 L349.4 81.29 L350.1 81.39 L350.8 81.38 L351.5 81.3 L352.2 81.27 L352.9 81.27 L353.6 81.25" fill="none" stroke="rgb(224,24,16)" stroke-width="1.5" stroke-linejoin="round"/>
<path d="M254.2 101.95 L254.9 101.76 L255.6 101.37 L256.3 100.78 L257 100.23 L257.7 99.73 L258.4 99.28 L259.1 98.91 L259.8 98.57 L260.5 98.25 L261.2 97.86 L261.9 97.49 L262.6 97.21 L263.3 96.88 L264 96.43 L264.7 95.96 L265.4 95.7 L266.1 95.48 L266.8 95.22 L267.5 95.1 L268.2 94.98 L268.9 94.67 L269.6 94.29 L270.3 94 L271 93.77 L271.7 93.55 L272.4 93.2 L273.1 92.87 L273.8 92.79 L274.5 92.65 L275.2 92.5 L275.9 92.47 L276.6 92.45 L277.3 92.51 L278 92.46 L278.7 92.39 L279.4 92.47 L280.1 92.43 L280.8 92.34 L281.5 92.34 L282.2 92.39 L282.9 92.47 L283.6 92.57 L284.3 92.66 L285 92.59 L285.7 92.45 L286.4 92.5 L287.1 92.6 L287.8 92.65 L288.5 92.78 L289.2 92.81 L289.9 92.7 L290.6 92.54 L291.3 92.38 L292 92.21 L292.7 91.87 L293.4 91.55 L294.1 91.43 L294.8 91.32 L295.5 90.84 L296.2 89.72 L296.9 87.93 L297.6 85.73 L298.3 83.42 L299 81.24 L299.7 78.9 L300.4 76.32 L301.1 73.84 L301.8 72.02 L302.5 71.45 L303.2 72.45 L303.9 74.78 L304.6 77.8 L305.3 81.06 L306 84 L306.7 86.12 L307.4 87.45 L308.1 88.41 L308.8 89.24 L309.5 89.71 L310.2 89.89 L310.9 90.06 L311.6 90.32 L312.3 90.67 L313 91.25 L313.7 91.91 L314.4 92.59 L315.1 93.27 L315.8 94.18 L316.5 95.36 L317.2 96.49 L317.9 97.55 L318.6 98.5 L319.3 99.29 L320 100.01 L320.7 100.55 L321.4 100.86 L322.1 100.97 L322.8 101.04 L323.5 101.17 L324.2 101.25 L324.9 101.36 L325.6 101.51 L326.3 101.64 L327 101.77 L327.7 101.82 L328.4 101.89 L329.1 102.02 L329.8 102.01 L330.5 101.96 L331.2 101.96 L331.9 101.88 L332.6 101.74 L333.3 101.7 L334 101.74 L334.7 101.77 L335.4 101.72 L336.1 101.63 L336.8 101.61 L337.5 101.61 L338.2 101.48 L338.9 101.33 L339.6 101.33 L340.3 101.36 L341 101.25 L341.7 101.12 L342.4 101 L343.1 101 L343.8 101.04 L344.5 100.9 L345.2 100.78 L345.9 100.75 L346.6 100.78 L347.3 100.77 L348 100.71 L348.7 100.73 L349.4 100.67 L350.1 100.58 L350.8 100.59 L351.5 100.56 L352.2 100.43 L352.9 100.36 L353.6 100.31" fill="none" stroke="rgb(216,30,27)" stroke-width="1.5" stroke-linejoin="round"/>
<path d="M254.2 114.59 L254.9 114.26 L255.6 113.88 L256.3 113.38 L257 112.81 L257.7 112.32 L258.4 111.97 L259.1 111.72 L259.8 111.44 L260.5 111.16 L261.2 110.85 L261.9 110.43 L262.6 109.97 L263.3 109.48 L264 109.03 L264.7 108.77 L265.4 108.63 L266.1 108.4 L266.8 108.13 L267.5 107.94 L268.2 107.63 L268.9 107.21 L269.6 106.81 L270.3 106.38 L271 106.03 L271.7 105.67 L272.4 105.24 L273.1 104.93 L273.8 104.63 L274.5 104.36 L275.2 104.26 L275.9 104.19 L276.6 104.15 L277.3 104.2 L278 104.33 L278.7 104.49 L279.4 104.56 L280.1 104.57 L280.8 104.52 L281.5 104.49 L282.2 104.57 L282.9 104.78 L283.6 104.96 L284.3 105 L285 104.99 L285.7 104.92 L286.4 104.9 L287.1 105.07 L287.8 105.29 L288.5 105.39 L289.2 105.42 L289.9 105.34 L290.6 105.14 L291.3 105.02 L292 104.94 L292.7 104.78 L293.4 104.68 L294.1 104.56 L294.8 104.45 L295.5 104.26 L296.2 103.81 L296.9 103.08 L297.6 102.16 L298.3 101.2 L299 100.07 L299.7 98.71 L300.4 97.26 L301.1 95.7 L301.8 94.53 L302.5 94.35 L303.2 95.14 L303.9 96.49 L304.6 98.2 L305.3 99.99 L306 101.59 L306.7 102.92 L307.4 104.06 L308.1 105.05 L308.8 105.79 L309.5 106.18 L310.2 106.46 L310.9 106.69 L311.6 106.91 L312.3 107.22 L313 107.63 L313.7 108.02 L314.4 108.47 L315.1 109.09 L315.8 109.72 L316.5 110.37 L317.2 111.09 L317.9 111.64 L318.6 112.04 L319.3 112.54 L320 113.15 L320.7 113.6 L321.4 113.78 L322.1 113.78 L322.8 113.71 L323.5 113.76 L324.2 113.95 L324.9 114.12 L325.6 114.23 L326.3 114.24 L327 114.26 L327.7 114.26 L328.4 114.23 L329.1 114.31 L329.8 114.33 L330.5 114.29 L331.2 114.28 L331.9 114.23 L332.6 114.26 L333.3 114.33 L334 114.33 L334.7 114.28 L335.4 114.14 L336.1 114.01 L336.8 114.05 L337.5 114.07 L338.2 114 L338.9 113.99 L339.6 113.97 L340.3 113.82 L341 113.74 L341.7 113.78 L342.4 113.82 L343.1 113.78 L343.8 113.67 L344.5 113.67 L345.2 113.73 L345.9 113.75 L346.6 113.74 L347.3 113.7 L348 113.62 L348.7 113.57 L349.4 113.55 L350.1 113.5 L350.8 113.4 L351.5 113.29 L352.2 113.23 L352.9 113.27 L353.6 113.31" fill="none" stroke="rgb(208,36,38)" stroke-width="1.5" stroke-linejoin="round"/>
<path d="M254.2 131.67 L254.9 131.57 L255.6 131.26 L256.3 130.88 L257 130.39 L257.7 129.75 L258.4 129.26 L259.1 128.88 L259.8 128.6 L260.5 128.41 L261.2 128.08 L261.9 127.61 L262.6 127.2 L263.3 126.83 L264 126.34 L264.7 125.86 L265.4 125.58 L266.1 125.45 L266.8 125.36 L267.5 125.16 L268.2 124.83 L268.9 124.53 L269.6 124.26 L270.3 123.88 L271 123.49 L271.7 123.21 L272.4 123.04 L273.1 122.88 L273.8 122.69 L274.5 122.54 L275.2 122.44 L275.9 122.36 L276.6 122.38 L277.3 122.57 L278 122.71 L278.7 122.76 L279.4 122.86 L280.1 122.95 L280.8 123.01 L281.5 123.09 L282.2 123.17 L282.9 123.17 L283.6 123.2 L284.3 123.34 L285 123.44 L285.7 123.57 L286.4 123.7 L287.1 123.68 L287.8 123.68 L288.5 123.82 L289.2 123.98 L289.9 124.04 L290.6 124.02 L291.3 123.92 L292 123.72 L292.7 123.46 L293.4 123.29 L294.1 123.19 L294.8 123.04 L295.5 122.91 L296.2 122.48 L296.9 121.63 L297.6 120.73 L298.3 119.8 L299 118.74 L299.7 117.53 L300.4 116.1 L301.1 114.66 L301.8 113.78 L302.5 113.75 L303.2 114.63 L303.9 116.24 L304.6 118.01 L305.3 119.7 L306 121.18 L306.7 122.19 L307.4 122.99 L308.1 123.75 L308.8 124.33 L309.5 124.54 L310.2 124.62 L310.9 124.77 L311.6 124.82 L312.3 125.01 L313 125.41 L313.7 125.82 L314.4 126.3 L315.1 126.81 L315.8 127.41 L316.5 128.07 L317.2 128.71 L317.9 129.26 L318.6 129.74 L319.3 130.15 L320 130.47 L320.7 130.71 L321.4 130.86 L322.1 130.91 L322.8 130.95 L323.5 131.07 L324.2 131.16 L324.9 131.18 L325.6 131.28 L326.3 131.43 L327 131.53 L327.7 131.58 L328.4 131.64 L329.1 131.7 L329.8 131.72 L330.5 131.77 L331.2 131.71 L331.9 131.62 L332.6 131.68 L333.3 131.8 L334 131.82 L334.7 131.84 L335.4 131.79 L336.1 131.69 L336.8 131.59 L337.5 131.51 L338.2 131.51 L338.9 131.45 L339.6 131.42 L340.3 131.47 L341 131.44 L341.7 131.38 L342.4 131.31 L343.1 131.33 L343.8 131.34 L344.5 131.15 L345.2 131.09 L345.9 131.15 L346.6 131.08 L347.3 131.03 L348 131 L348.7 130.97 L349.4 131.08 L350.1 131.24 L350.8 131.16 L351.5 131.04 L352.2 131.15 L352.9 131.23 L353.6 131.2" fill="none" stroke="rgb(196,44,50)" stroke-width="1.5" stroke-linejoin="round"/>
<path d="M254.2 151.32 L254.9 151.19 L255.6 150.93 L256.3 150.36 L257 149.78 L257.7 149.3 L258.4 148.83 L259.1 148.4 L259.8 148.08 L260.5 147.78 L261.2 147.37 L261.9 147.04 L262.6 146.69 L263.3 146.14 L264 145.65 L264.7 145.27 L265.4 145.01 L266.1 144.9 L266.8 144.85 L267.5 144.67 L268.2 144.4 L268.9 144.21 L269.6 143.95 L270.3 143.63 L271 143.42 L271.7 143.25 L272.4 143.16 L273.1 143.11 L273.8 142.91 L274.5 142.66 L275.2 142.62 L275.9 142.62 L276.6 142.72 L277.3 142.85 L278 142.9 L278.7 143.09 L279.4 143.21 L280.1 143.16 L280.8 143.31 L281.5 143.5 L282.2 143.55 L282.9 143.65 L283.6 143.87 L284.3 144.13 L285 144.31 L285.7 144.35 L286.4 144.31 L287.1 144.41 L287.8 144.59 L288.5 144.6 L289.2 144.56 L289.9 144.64 L290.6 144.72 L291.3 144.6 L292 144.35 L292.7 144.2 L293.4 144.09 L294.1 143.9 L294.8 143.77 L295.5 143.68 L296.2 143.35 L296.9 142.72 L297.6 141.82 L298.3 140.71 L299 139.66 L299.7 138.67 L300.4 137.57 L301.1 136.33 L301.8 135.47 L302.5 135.49 L303.2 136.39 L303.9 137.97 L304.6 139.84 L305.3 141.62 L306 143.05 L306.7 143.96 L307.4 144.51 L308.1 144.88 L308.8 145.11 L309.5 145.13 L310.2 145.08 L310.9 145.13 L311.6 145.25 L312.3 145.49 L313 145.84 L313.7 146.25 L314.4 146.64 L315.1 146.99 L315.8 147.5 L316.5 148.11 L317.2 148.76 L317.9 149.32 L318.6 149.59 L319.3 149.82 L320 150.1 L320.7 150.21 L321.4 150.26 L322.1 150.39 L322.8 150.52 L323.5 150.67 L324.2 150.83 L324.9 150.96 L325.6 151.02 L326.3 151.05 L327 151.14 L327.7 151.31 L328.4 151.48 L329.1 151.57 L329.8 151.6 L330.5 151.53 L331.2 151.39 L331.9 151.35 L332.6 151.42 L333.3 151.51 L334 151.56 L334.7 151.47 L335.4 151.38 L336.1 151.35 L336.8 151.32 L337.5 151.28 L338.2 151.28 L338.9 151.41 L339.6 151.43 L340.3 151.3 L341 151.22 L341.7 151.12 L342.4 151.1 L343.1 151.14 L343.8 151.1 L344.5 151.1 L345.2 151.18 L345.9 151.27 L346.6 151.27 L347.3 151.1 L348 150.96 L348.7 150.94 L349.4 150.96 L350.1 150.99 L350.8 150.98 L351.5 150.97 L352.2 150.99 L352.9 150.94 L353.6 150.85" fill="none" stroke="rgb(184,52,62)" stroke-width="1.5" stroke-linejoin="round"/>
<path d="M254.2 170.57 L254.9 170.43 L255.6 170.11 L256.3 169.54 L257 169.03 L257.7 168.65 L258.4 168.17 L259.1 167.7 L259.8 167.43 L260.5 167.21 L261.2 166.92 L261.9 166.58 L262.6 166.15 L263.3 165.68 L264 165.22 L264.7 164.71 L265.4 164.37 L266.1 164.2 L266.8 163.96 L267.5 163.72 L268.2 163.62 L268.9 163.62 L269.6 163.54 L270.3 163.35 L271 163.26 L271.7 163.07 L272.4 162.78 L273.1 162.63 L273.8 162.58 L274.5 162.53 L275.2 162.45 L275.9 162.4 L276.6 162.48 L277.3 162.54 L278 162.66 L278.7 162.76 L279.4 162.83 L280.1 163.02 L280.8 163.16 L281.5 163.26 L282.2 163.4 L282.9 163.54 L283.6 163.68 L284.3 163.78 L285 163.95 L285.7 164.04 L286.4 164.04 L287.1 164.21 L287.8 164.45 L288.5 164.54 L289.2 164.55 L289.9 164.52 L290.6 164.42 L291.3 164.4 L292 164.35 L292.7 164.13 L293.4 164.03 L294.1 164.04 L294.8 163.89 L295.5 163.61 L296.2 163.21 L296.9 162.5 L297.6 161.76 L298.3 161.03 L299 160.16 L299.7 159.1 L300.4 157.94 L301.1 156.85 L301.8 156.14 L302.5 156.24 L303.2 157.19 L303.9 158.62 L304.6 160.29 L305.3 161.92 L306 163.16 L306.7 164.04 L307.4 164.55 L308.1 164.66 L308.8 164.83 L309.5 165.09 L310.2 165.12 L310.9 165.14 L311.6 165.34 L312.3 165.53 L313 165.74 L313.7 166.08 L314.4 166.48 L315.1 166.94 L315.8 167.49 L316.5 168.01 L317.2 168.52 L317.9 168.93 L318.6 169.2 L319.3 169.51 L320 169.67 L320.7 169.71 L321.4 169.92 L322.1 170.1 L322.8 170.1 L323.5 170.14 L324.2 170.29 L324.9 170.42 L325.6 170.45 L326.3 170.45 L327 170.62 L327.7 170.83 L328.4 170.94 L329.1 171.02 L329.8 170.97 L330.5 170.92 L331.2 170.93 L331.9 170.86 L332.6 170.89 L333.3 171.02 L334 170.97 L334.7 170.79 L335.4 170.75 L336.1 170.78 L336.8 170.73 L337.5 170.72 L338.2 170.78 L338.9 170.79 L339.6 170.8 L340.3 170.8 L341 170.76 L341.7 170.71 L342.4 170.7 L343.1 170.77 L343.8 170.85 L344.5 170.77 L345.2 170.69 L345.9 170.76 L346.6 170.8 L347.3 170.73 L348 170.66 L348.7 170.57 L349.4 170.54 L350.1 170.56 L350.8 170.49 L351.5 170.44 L352.2 170.51 L352.9 170.61 L353.6 170.6" fill="none" stroke="rgb(174,58,75)" stroke-width="1.5" stroke-linejoin="round"/>
<path d="M254.2 189.17 L254.9 188.92 L255.6 188.59 L256.3 188.16 L257 187.67 L257.7 187.2 L258.4 186.77 L259.1 186.44 L259.8 186.09 L260.5 185.73 L261.2 185.43 L261.9 185.03 L262.6 184.59 L263.3 184.12 L264 183.74 L264.7 183.37 L265.4 183.04 L266.1 182.88 L266.8 182.77 L267.5 182.63 L268.2 182.49 L268.9 182.25 L269.6 182.12 L270.3 182.11 L271 182.06 L271.7 181.99 L272.4 181.82 L273.1 181.6 L273.8 181.48 L274.5 181.42 L275.2 181.46 L275.9 181.63 L276.6 181.74 L277.3 181.73 L278 181.71 L278.7 181.79 L279.4 182 L280.1 182.1 L280.8 182.18 L281.5 182.39 L282.2 182.47 L282.9 182.5 L283.6 182.65 L284.3 182.73 L285 182.81 L285.7 183 L286.4 183.25 L287.1 183.37 L287.8 183.35 L288.5 183.45 L289.2 183.55 L289.9 183.57 L290.6 183.6 L291.3 183.54 L292 183.34 L292.7 183.13 L293.4 183.01 L294.1 182.85 L294.8 182.72 L295.5 182.66 L296.2 182.36 L296.9 181.73 L297.6 181.05 L298.3 180.33 L299 179.51 L299.7 178.58 L300.4 177.5 L301.1 176.36 L301.8 175.67 L302.5 175.83 L303.2 176.81 L303.9 178.28 L304.6 179.88 L305.3 181.41 L306 182.65 L306.7 183.33 L307.4 183.76 L308.1 184.07 L308.8 184.24 L309.5 184.35 L310.2 184.34 L310.9 184.35 L311.6 184.58 L312.3 184.86 L313 185.11 L313.7 185.44 L314.4 185.8 L315.1 186.15 L315.8 186.64 L316.5 187.09 L317.2 187.38 L317.9 187.74 L318.6 188.16 L319.3 188.38 L320 188.43 L320.7 188.5 L321.4 188.61 L322.1 188.73 L322.8 188.77 L323.5 188.82 L324.2 188.97 L324.9 189.14 L325.6 189.21 L326.3 189.2 L327 189.33 L327.7 189.48 L328.4 189.58 L329.1 189.7 L329.8 189.69 L330.5 189.63 L331.2 189.75 L331.9 189.88 L332.6 189.79 L333.3 189.66 L334 189.7 L334.7 189.68 L335.4 189.6 L336.1 189.64 L336.8 189.65 L337.5 189.6 L338.2 189.66 L338.9 189.75 L339.6 189.7 L340.3 189.64 L341 189.61 L341.7 189.56 L342.4 189.57 L343.1 189.65 L343.8 189.59 L344.5 189.49 L345.2 189.46 L345.9 189.39 L346.6 189.47 L347.3 189.58 L348 189.5 L348.7 189.43 L349.4 189.4 L350.1 189.33 L350.8 189.34 L351.5 189.37 L352.2 189.32 L352.9 189.31 L353.6 189.38" fill="none" stroke="rgb(165,64,88)" stroke-width="1.5" stroke-linejoin="round"/>
<path d="M254.2 208.63 L254.9 208.37 L255.6 208.09 L256.3 207.64 L257 207.07 L257.7 206.54 L258.4 206.18 L259.1 205.87 L259.8 205.51 L260.5 205.18 L261.2 204.89 L261.9 204.62 L262.6 204.25 L263.3 203.81 L264 203.37 L264.7 202.95 L265.4 202.55 L266.1 202.2 L266.8 202.04 L267.5 201.99 L268.2 201.93 L268.9 201.92 L269.6 201.93 L270.3 201.89 L271 201.72 L271.7 201.66 L272.4 201.62 L273.1 201.41 L273.8 201.24 L274.5 201.31 L275.2 201.5 L275.9 201.6 L276.6 201.58 L277.3 201.61 L278 201.71 L278.7 201.81 L279.4 202.04 L280.1 202.26 L280.8 202.28 L281.5 202.24 L282.2 202.32 L282.9 202.55 L283.6 202.81 L284.3 202.93 L285 202.94 L285.7 202.95 L286.4 203.08 L287.1 203.25 L287.8 203.36 L288.5 203.47 L289.2 203.55 L289.9 203.62 L290.6 203.58 L291.3 203.34 L292 203.2 L292.7 203.13 L293.4 203.02 L294.1 202.94 L294.8 202.85 L295.5 202.78 L296.2 202.54 L296.9 201.95 L297.6 201.16 L298.3 200.5 L299 199.94 L299.7 199.16 L300.4 198.16 L301.1 197.09 L301.8 196.5 L302.5 196.68 L303.2 197.5 L303.9 198.73 L304.6 200.26 L305.3 201.86 L306 202.99 L306.7 203.55 L307.4 203.87 L308.1 204.08 L308.8 204.27 L309.5 204.49 L310.2 204.68 L310.9 204.74 L311.6 204.72 L312.3 204.88 L313 205.23 L313.7 205.58 L314.4 205.92 L315.1 206.24 L315.8 206.56 L316.5 206.88 L317.2 207.23 L317.9 207.64 L318.6 207.88 L319.3 207.94 L320 208.02 L320.7 208.2 L321.4 208.32 L322.1 208.29 L322.8 208.38 L323.5 208.6 L324.2 208.71 L324.9 208.81 L325.6 208.91 L326.3 208.89 L327 208.99 L327.7 209.18 L328.4 209.31 L329.1 209.44 L329.8 209.54 L330.5 209.59 L331.2 209.57 L331.9 209.53 L332.6 209.48 L333.3 209.4 L334 209.42 L334.7 209.57 L335.4 209.55 L336.1 209.34 L336.8 209.18 L337.5 209.25 L338.2 209.4 L338.9 209.4 L339.6 209.38 L340.3 209.35 L341 209.23 L341.7 209.19 L342.4 209.3 L343.1 209.37 L343.8 209.35 L344.5 209.32 L345.2 209.22 L345.9 209.08 L346.6 209.13 L347.3 209.22 L348 209.15 L348.7 209.01 L349.4 209.03 L350.1 209.07 L350.8 209.03 L351.5 208.99 L352.2 208.94 L352.9 208.94 L353.6 209.07" fill="none" stroke="rgb(152,80,108)" stroke-width="1.5" stroke-linejoin="round"/>
<path d="M254.2 227.48 L254.9 227.4 L255.6 227.11 L256.3 226.67 L257 226.18 L257.7 225.78 L258.4 225.53 L259.1 225.26 L259.8 224.91 L260.5 224.49 L261.2 224.12 L261.9 223.76 L262.6 223.28 L263.3 222.81 L264 222.48 L264.7 222.24 L265.4 221.99 L266.1 221.77 L266.8 221.64 L267.5 221.59 L268.2 221.57 L268.9 221.45 L269.6 221.29 L270.3 221.16 L271 221.11 L271.7 221.1 L272.4 220.97 L273.1 220.79 L273.8 220.78 L274.5 220.86 L275.2 220.81 L275.9 220.78 L276.6 220.9 L277.3 221.04 L278 221.08 L278.7 221.11 L279.4 221.19 L280.1 221.32 L280.8 221.54 L281.5 221.77 L282.2 221.9 L282.9 221.92 L283.6 222.05 L284.3 222.34 L285 222.46 L285.7 222.47 L286.4 222.54 L287.1 222.66 L287.8 222.83 L288.5 222.88 L289.2 222.94 L289.9 223.1 L290.6 223.15 L291.3 223.03 L292 222.88 L292.7 222.8 L293.4 222.64 L294.1 222.43 L294.8 222.37 L295.5 222.2 L296.2 221.9 L296.9 221.52 L297.6 221.03 L298.3 220.52 L299 219.97 L299.7 219.24 L300.4 218.31 L301.1 217.41 L301.8 216.92 L302.5 216.96 L303.2 217.67 L303.9 218.86 L304.6 220.18 L305.3 221.37 L306 222.3 L306.7 222.97 L307.4 223.39 L308.1 223.66 L308.8 223.75 L309.5 223.75 L310.2 223.81 L310.9 223.99 L311.6 224.19 L312.3 224.33 L313 224.54 L313.7 224.77 L314.4 225.09 L315.1 225.5 L315.8 225.84 L316.5 226.14 L317.2 226.54 L317.9 226.9 L318.6 227.09 L319.3 227.27 L320 227.51 L320.7 227.58 L321.4 227.46 L322.1 227.52 L322.8 227.75 L323.5 227.87 L324.2 227.83 L324.9 227.81 L325.6 227.93 L326.3 228 L327 227.95 L327.7 228.05 L328.4 228.22 L329.1 228.23 L329.8 228.21 L330.5 228.26 L331.2 228.27 L331.9 228.29 L332.6 228.24 L333.3 228.1 L334 228.07 L334.7 228.14 L335.4 228.21 L336.1 228.16 L336.8 228.14 L337.5 228.2 L338.2 228.17 L338.9 228.16 L339.6 228.14 L340.3 228.12 L341 228.09 L341.7 227.93 L342.4 227.84 L343.1 227.84 L343.8 227.76 L344.5 227.71 L345.2 227.77 L345.9 227.85 L346.6 227.95 L347.3 227.93 L348 227.73 L348.7 227.66 L349.4 227.71 L350.1 227.74 L350.8 227.73 L351.5 227.63 L352.2 227.57 L352.9 227.62 L353.6 227.7" fill="none" stroke="rgb(138,90,124)" stroke-width="1.5" stroke-linejoin="round"/>
<path d="M254.2 246.05 L254.9 245.87 L255.6 245.74 L256.3 245.48 L257 245.07 L257.7 244.73 L258.4 244.42 L259.1 244.02 L259.8 243.73 L260.5 243.62 L261.2 243.39 L261.9 242.96 L262.6 242.49 L263.3 242.08 L264 241.78 L264.7 241.43 L265.4 241.1 L266.1 241.01 L266.8 240.89 L267.5 240.65 L268.2 240.49 L268.9 240.5 L269.6 240.62 L270.3 240.6 L271 240.45 L271.7 240.22 L272.4 239.99 L273.1 239.89 L273.8 239.94 L274.5 239.98 L275.2 239.89 L275.9 239.86 L276.6 239.99 L277.3 240.19 L278 240.31 L278.7 240.32 L279.4 240.4 L280.1 240.59 L280.8 240.76 L281.5 240.88 L282.2 241.1 L282.9 241.29 L283.6 241.37 L284.3 241.54 L285 241.67 L285.7 241.63 L286.4 241.67 L287.1 241.89 L287.8 242.08 L288.5 242.14 L289.2 242.09 L289.9 242.16 L290.6 242.34 L291.3 242.29 L292 242.03 L292.7 241.9 L293.4 241.86 L294.1 241.74 L294.8 241.56 L295.5 241.47 L296.2 241.39 L296.9 240.97 L297.6 240.32 L298.3 239.86 L299 239.52 L299.7 238.91 L300.4 238.12 L301.1 237.39 L301.8 236.85 L302.5 236.91 L303.2 237.6 L303.9 238.54 L304.6 239.7 L305.3 240.91 L306 241.75 L306.7 242.22 L307.4 242.49 L308.1 242.79 L308.8 243.06 L309.5 243.08 L310.2 242.99 L310.9 243 L311.6 243.22 L312.3 243.49 L313 243.7 L313.7 243.86 L314.4 244.02 L315.1 244.37 L315.8 244.83 L316.5 245.24 L317.2 245.73 L317.9 246.13 L318.6 246.28 L319.3 246.37 L320 246.5 L320.7 246.69 L321.4 246.74 L322.1 246.57 L322.8 246.51 L323.5 246.64 L324.2 246.79 L324.9 246.82 L325.6 246.85 L326.3 246.84 L327 246.78 L327.7 246.87 L328.4 246.96 L329.1 246.93 L329.8 246.93 L330.5 247.03 L331.2 246.99 L331.9 246.78 L332.6 246.78 L333.3 246.88 L334 246.84 L334.7 246.85 L335.4 246.88 L336.1 246.77 L336.8 246.69 L337.5 246.77 L338.2 246.77 L338.9 246.69 L339.6 246.75 L340.3 246.78 L341 246.69 L341.7 246.56 L342.4 246.46 L343.1 246.54 L343.8 246.56 L344.5 246.44 L345.2 246.41 L345.9 246.46 L346.6 246.49 L347.3 246.4 L348 246.3 L348.7 246.39 L349.4 246.48 L350.1 246.42 L350.8 246.29 L351.5 246.17 L352.2 246.16 L352.9 246.18 L353.6 246.06" fill="none" stroke="rgb(120,96,140)" stroke-width="1.5" stroke-linejoin="round"/>
<path d="M254.2 263.79 L254.9 263.54 L255.6 263.28 L256.3 263 L257 262.77 L257.7 262.48 L258.4 262.15 L259.1 261.84 L259.8 261.54 L260.5 261.33 L261.2 261.18 L261.9 260.87 L262.6 260.39 L263.3 259.96 L264 259.61 L264.7 259.35 L265.4 259.17 L266.1 259.01 L266.8 258.99 L267.5 259.01 L268.2 258.94 L268.9 258.76 L269.6 258.56 L270.3 258.42 L271 258.32 L271.7 258.17 L272.4 258.02 L273.1 257.92 L273.8 257.76 L274.5 257.66 L275.2 257.74 L275.9 257.98 L276.6 258.12 L277.3 258.16 L278 258.28 L278.7 258.39 L279.4 258.49 L280.1 258.62 L280.8 258.72 L281.5 258.88 L282.2 259.04 L282.9 259.18 L283.6 259.35 L284.3 259.54 L285 259.66 L285.7 259.8 L286.4 260.02 L287.1 260.09 L287.8 260.1 L288.5 260.23 L289.2 260.38 L289.9 260.46 L290.6 260.34 L291.3 260.21 L292 260.24 L292.7 260.24 L293.4 260.13 L294.1 260 L294.8 259.9 L295.5 259.74 L296.2 259.42 L296.9 259.04 L297.6 258.71 L298.3 258.37 L299 257.96 L299.7 257.5 L300.4 256.9 L301.1 256.27 L301.8 255.96 L302.5 256.06 L303.2 256.53 L303.9 257.24 L304.6 258.13 L305.3 259.13 L306 259.88 L306.7 260.28 L307.4 260.54 L308.1 260.77 L308.8 260.92 L309.5 260.9 L310.2 260.95 L310.9 261.09 L311.6 261.15 L312.3 261.19 L313 261.45 L313.7 261.91 L314.4 262.27 L315.1 262.47 L315.8 262.74 L316.5 263.21 L317.2 263.62 L317.9 263.84 L318.6 264.04 L319.3 264.26 L320 264.38 L320.7 264.44 L321.4 264.44 L322.1 264.47 L322.8 264.52 L323.5 264.52 L324.2 264.46 L324.9 264.4 L325.6 264.38 L326.3 264.35 L327 264.34 L327.7 264.33 L328.4 264.31 L329.1 264.23 L329.8 264.12 L330.5 264.16 L331.2 264.25 L331.9 264.23 L332.6 264.19 L333.3 264.11 L334 264.09 L334.7 264.2 L335.4 264.17 L336.1 264 L336.8 264.01 L337.5 264.13 L338.2 264.2 L338.9 264.16 L339.6 264.1 L340.3 264.02 L341 263.96 L341.7 263.94 L342.4 263.83 L343.1 263.76 L343.8 263.78 L344.5 263.74 L345.2 263.79 L345.9 263.81 L346.6 263.66 L347.3 263.64 L348 263.66 L348.7 263.53 L349.4 263.5 L350.1 263.5 L350.8 263.39 L351.5 263.41 L352.2 263.49 L352.9 263.47 L353.6 263.51" fill="none" stroke="rgb(100,104,152)" stroke-width="1.5" stroke-linejoin="round"/>
<path d="M254.2 280.69 L254.9 280.39 L255.6 280.12 L256.3 279.97 L257 279.75 L257.7 279.37 L258.4 279.1 L259.1 278.88 L259.8 278.62 L260.5 278.42 L261.2 278.27 L261.9 278.12 L262.6 277.88 L263.3 277.6 L264 277.27 L264.7 276.99 L265.4 276.85 L266.1 276.71 L266.8 276.54 L267.5 276.39 L268.2 276.35 L268.9 276.39 L269.6 276.34 L270.3 276.17 L271 275.89 L271.7 275.76 L272.4 275.85 L273.1 275.85 L273.8 275.7 L274.5 275.57 L275.2 275.49 L275.9 275.44 L276.6 275.56 L277.3 275.72 L278 275.77 L278.7 275.94 L279.4 276.18 L280.1 276.26 L280.8 276.26 L281.5 276.42 L282.2 276.66 L282.9 276.85 L283.6 277.06 L284.3 277.24 L285 277.36 L285.7 277.44 L286.4 277.62 L287.1 277.89 L287.8 278.07 L288.5 278.1 L289.2 278.03 L289.9 278.06 L290.6 278.17 L291.3 278.15 L292 278.05 L292.7 277.92 L293.4 277.72 L294.1 277.6 L294.8 277.53 L295.5 277.42 L296.2 277.19 L296.9 276.93 L297.6 276.66 L298.3 276.34 L299 276 L299.7 275.53 L300.4 274.98 L301.1 274.5 L301.8 274.22 L302.5 274.21 L303.2 274.51 L303.9 275.09 L304.6 275.91 L305.3 276.78 L306 277.44 L306.7 277.72 L307.4 277.83 L308.1 277.98 L308.8 278.08 L309.5 278.1 L310.2 278.11 L310.9 278.15 L311.6 278.22 L312.3 278.36 L313 278.48 L313.7 278.76 L314.4 279.2 L315.1 279.47 L315.8 279.69 L316.5 280.05 L317.2 280.31 L317.9 280.43 L318.6 280.59 L319.3 280.8 L320 280.93 L320.7 280.98 L321.4 281 L322.1 280.98 L322.8 281 L323.5 281.03 L324.2 280.98 L324.9 280.95 L325.6 280.99 L326.3 281.08 L327 281.05 L327.7 280.97 L328.4 281.06 L329.1 281.18 L329.8 281.22 L330.5 281.14 L331.2 281.05 L331.9 281.14 L332.6 281.14 L333.3 280.93 L334 280.76 L334.7 280.81 L335.4 280.92 L336.1 280.88 L336.8 280.84 L337.5 280.81 L338.2 280.73 L338.9 280.68 L339.6 280.67 L340.3 280.7 L341 280.68 L341.7 280.58 L342.4 280.6 L343.1 280.64 L343.8 280.58 L344.5 280.46 L345.2 280.34 L345.9 280.33 L346.6 280.37 L347.3 280.4 L348 280.43 L348.7 280.42 L349.4 280.33 L350.1 280.22 L350.8 280.22 L351.5 280.19 L352.2 280.13 L352.9 280.22 L353.6 280.34" fill="none" stroke="rgb(84,114,168)" stroke-width="1.5" stroke-linejoin="round"/>
<path d="M254.2 293.87 L254.9 293.68 L255.6 293.38 L256.3 293.2 L257 293.08 L257.7 292.81 L258.4 292.59 L259.1 292.47 L259.8 292.38 L260.5 292.18 L261.2 291.87 L261.9 291.62 L262.6 291.49 L263.3 291.43 L264 291.29 L264.7 290.98 L265.4 290.71 L266.1 290.6 L266.8 290.54 L267.5 290.48 L268.2 290.32 L268.9 290.15 L269.6 290.12 L270.3 290.11 L271 289.91 L271.7 289.7 L272.4 289.61 L273.1 289.58 L273.8 289.53 L274.5 289.5 L275.2 289.62 L275.9 289.8 L276.6 289.86 L277.3 289.85 L278 289.88 L278.7 290.06 L279.4 290.2 L280.1 290.32 L280.8 290.51 L281.5 290.66 L282.2 290.87 L282.9 291.1 L283.6 291.28 L284.3 291.41 L285 291.43 L285.7 291.57 L286.4 291.83 L287.1 291.99 L287.8 292.06 L288.5 292.13 L289.2 292.22 L289.9 292.34 L290.6 292.28 L291.3 292.15 L292 292.21 L292.7 292.13 L293.4 291.93 L294.1 291.93 L294.8 291.91 L295.5 291.67 L296.2 291.51 L296.9 291.35 L297.6 291.04 L298.3 290.68 L299 290.26 L299.7 289.78 L300.4 289.4 L301.1 288.95 L301.8 288.5 L302.5 288.43 L303.2 288.75 L303.9 289.35 L304.6 290.07 L305.3 290.7 L306 291.23 L306.7 291.53 L307.4 291.6 L308.1 291.59 L308.8 291.64 L309.5 291.63 L310.2 291.59 L310.9 291.73 L311.6 291.84 L312.3 291.9 L313 292.13 L313.7 292.35 L314.4 292.53 L315.1 292.76 L315.8 292.91 L316.5 293.13 L317.2 293.44 L317.9 293.64 L318.6 293.76 L319.3 293.85 L320 293.96 L320.7 294.08 L321.4 294.14 L322.1 294.12 L322.8 294 L323.5 293.96 L324.2 294 L324.9 294.07 L325.6 294.17 L326.3 294.18 L327 294.18 L327.7 294.18 L328.4 294.2 L329.1 294.2 L329.8 294.15 L330.5 294.19 L331.2 294.22 L331.9 294.1 L332.6 294.03 L333.3 294.08 L334 294.12 L334.7 294.13 L335.4 294.11 L336.1 293.99 L336.8 293.88 L337.5 293.9 L338.2 293.87 L338.9 293.83 L339.6 293.94 L340.3 293.89 L341 293.63 L341.7 293.6 L342.4 293.73 L343.1 293.71 L343.8 293.56 L344.5 293.49 L345.2 293.48 L345.9 293.5 L346.6 293.5 L347.3 293.45 L348 293.42 L348.7 293.4 L349.4 293.3 L350.1 293.19 L350.8 293.15 L351.5 293.23 L352.2 293.24 L352.9 293.19 L353.6 293.19" fill="none" stroke="rgb(76,128,186)" stroke-width="1.5" stroke-linejoin="round"/>
<path d="M254.2 302.03 L254.9 301.97 L255.6 301.81 L256.3 301.59 L257 301.28 L257.7 301.03 L258.4 300.86 L259.1 300.71 L259.8 300.64 L260.5 300.56 L261.2 300.48 L261.9 300.28 L262.6 299.91 L263.3 299.63 L264 299.5 L264.7 299.3 L265.4 299.09 L266.1 298.97 L266.8 298.87 L267.5 298.79 L268.2 298.72 L268.9 298.68 L269.6 298.7 L270.3 298.72 L271 298.69 L271.7 298.54 L272.4 298.27 L273.1 298.16 L273.8 298.19 L274.5 298.24 L275.2 298.33 L275.9 298.37 L276.6 298.44 L277.3 298.52 L278 298.46 L278.7 298.42 L279.4 298.56 L280.1 298.62 L280.8 298.58 L281.5 298.65 L282.2 298.73 L282.9 298.87 L283.6 298.99 L284.3 298.96 L285 298.99 L285.7 299.14 L286.4 299.26 L287.1 299.29 L287.8 299.24 L288.5 299.26 L289.2 299.34 L289.9 299.33 L290.6 299.23 L291.3 299.19 L292 299.3 L292.7 299.48 L293.4 299.49 L294.1 299.36 L294.8 299.38 L295.5 299.43 L296.2 299.39 L296.9 299.33 L297.6 299.25 L298.3 299.14 L299 298.95 L299.7 298.76 L300.4 298.63 L301.1 298.45 L301.8 298.35 L302.5 298.47 L303.2 298.64 L303.9 298.94 L304.6 299.49 L305.3 299.99 L306 300.37 L306.7 300.59 L307.4 300.61 L308.1 300.58 L308.8 300.62 L309.5 300.63 L310.2 300.61 L310.9 300.55 L311.6 300.52 L312.3 300.6 L313 300.64 L313.7 300.71 L314.4 300.99 L315.1 301.35 L315.8 301.52 L316.5 301.6 L317.2 301.84 L317.9 301.99 L318.6 301.89 L319.3 301.82 L320 301.92 L320.7 302.01 L321.4 302.07 L322.1 302.07 L322.8 302.05 L323.5 302.12 L324.2 302.07 L324.9 301.84 L325.6 301.68 L326.3 301.68 L327 301.74 L327.7 301.74 L328.4 301.73 L329.1 301.67 L329.8 301.59 L330.5 301.6 L331.2 301.62 L331.9 301.66 L332.6 301.68 L333.3 301.53 L334 301.48 L334.7 301.64 L335.4 301.72 L336.1 301.69 L336.8 301.67 L337.5 301.63 L338.2 301.48 L338.9 301.24 L339.6 301.15 L340.3 301.2 L341 301.3 L341.7 301.36 L342.4 301.23 L343.1 301.05 L343.8 301.03 L344.5 301.04 L345.2 301.03 L345.9 301.09 L346.6 301.08 L347.3 301.01 L348 300.97 L348.7 300.91 L349.4 300.87 L350.1 300.85 L350.8 300.81 L351.5 300.77 L352.2 300.75 L352.9 300.72 L353.6 300.64" fill="none" stroke="rgb(68,144,206)" stroke-width="1.5" stroke-linejoin="round"/>
<path d="M357.5 77.37 L358.2 77.64 L358.9 78.05 L359.6 78.39 L360.3 78.66 L361 78.96 L361.7 79.33 L362.4 79.63 L363.1 79.87 L363.8 80.13 L364.5 80.26 L365.2 80.52 L365.9 80.97 L366.6 81.05 L367.3 80.91 L368 81.3 L368.7 82.27 L369.4 83.51 L370.1 84.1 L370.8 83.41 L371.5 82.27 L372.2 81.3 L372.9 80.36 L373.6 79.8 L374.3 80.2 L375 81.3 L375.7 82.42 L376.4 82.93 L377.1 82.38 L377.8 81.19 L378.5 80.13 L379.2 79.43 L379.9 78.74 L380.6 77.79 L381.3 76.74 L382 75.69 L382.7 74.6 L383.4 74.14 L384.1 74.76 L384.8 76.1 L385.5 78.06 L386.2 80.6 L386.9 83.08 L387.6 85.03 L388.3 86.65 L389 87.76 L389.7 87.82 L390.4 87.21 L391.1 86.73 L391.8 86.69 L392.5 86.8 L393.2 86.71 L393.9 86.48 L394.6 85.87 L395.3 84.36 L396 82.27 L396.7 80.11 L397.4 78.6 L398.1 78.45 L398.8 78.89 L399.5 78.86 L400.2 78.09 L400.9 76.86 L401.6 75.7 L402.3 74.65 L403 73.76 L403.7 73.52 L404.4 73.82 L405.1 74.09 L405.8 74.17 L406.5 74.14 L407.2 74 L407.9 73.78 L408.6 73.52 L409.3 73.17 L410 72.8 L410.7 72.59 L411.4 72.49 L412.1 72.42 L412.8 72.21 L413.5 71.88 L414.2 71.71 L414.9 71.56 L415.6 71.23 L416.3 70.94 L417 70.76 L417.7 70.52 L418.4 70.3 L419.1 69.97 L419.8 69.72 L420.5 69.76 L421.2 69.88 L421.9 70.04 L422.6 70.3 L423.3 70.41 L424 70.44 L424.7 70.65 L425.4 70.9 L426.1 71.16 L426.8 71.51 L427.5 71.85 L428.2 72.17 L428.9 72.69 L429.6 73.43 L430.3 74.32 L431 75.39 L431.7 76.37 L432.4 76.85 L433.1 76.37 L433.8 75.2 L434.5 73.8 L435.2 72.25 L435.9 70.97 L436.6 70.45 L437.3 70.3 L438 70.12 L438.7 70.01 L439.4 69.91 L440.1 69.61 L440.8 69.31 L441.5 69.17 L442.2 69.16 L442.9 69.16 L443.6 68.97 L444.3 68.83 L445 69.08 L445.7 69.4 L446.4 69.62 L447.1 69.79 L447.8 69.9 L448.5 70.17 L449.2 70.38 L449.9 70.55 L450.6 70.83 L451.3 70.89" fill="none" stroke="rgb(224,24,16)" stroke-width="1.5" stroke-linejoin="round"/>
<path d="M357.5 96.4 L358.2 96.63 L358.9 97.02 L359.6 97.36 L360.3 97.59 L361 97.85 L361.7 98.14 L362.4 98.37 L363.1 98.69 L363.8 98.95 L364.5 99.17 L365.2 99.55 L365.9 99.71 L366.6 99.56 L367.3 99.55 L368 100.07 L368.7 100.97 L369.4 101.97 L370.1 102.59 L370.8 102.21 L371.5 101.12 L372.2 99.98 L372.9 99 L373.6 98.56 L374.3 99.01 L375 99.88 L375.7 100.73 L376.4 101.1 L377.1 100.53 L377.8 99.34 L378.5 98.29 L379.2 97.74 L379.9 97.27 L380.6 96.5 L381.3 95.47 L382 94.33 L382.7 93.21 L383.4 92.63 L384.1 93.13 L384.8 94.44 L385.5 96.35 L386.2 98.73 L386.9 101.08 L387.6 102.92 L388.3 104.43 L389 105.51 L389.7 105.63 L390.4 105.06 L391.1 104.53 L391.8 104.34 L392.5 104.36 L393.2 104.52 L393.9 104.51 L394.6 103.76 L395.3 102.34 L396 100.53 L396.7 98.5 L397.4 97.08 L398.1 97.01 L398.8 97.6 L399.5 97.84 L400.2 97.25 L400.9 96.17 L401.6 95.2 L402.3 94.19 L403 93.31 L403.7 93.23 L404.4 93.58 L405.1 93.75 L405.8 93.81 L406.5 93.71 L407.2 93.47 L407.9 93.22 L408.6 92.82 L409.3 92.25 L410 91.84 L410.7 91.7 L411.4 91.72 L412.1 91.58 L412.8 91.22 L413.5 90.96 L414.2 90.88 L414.9 90.79 L415.6 90.48 L416.3 90.05 L417 89.74 L417.7 89.65 L418.4 89.68 L419.1 89.45 L419.8 89.13 L420.5 89.24 L421.2 89.5 L421.9 89.54 L422.6 89.55 L423.3 89.66 L424 89.64 L424.7 89.64 L425.4 89.84 L426.1 90.27 L426.8 90.77 L427.5 91.15 L428.2 91.55 L428.9 92.11 L429.6 92.86 L430.3 93.69 L431 94.56 L431.7 95.47 L432.4 95.91 L433.1 95.47 L433.8 94.4 L434.5 93.13 L435.2 91.82 L435.9 90.72 L436.6 90.09 L437.3 89.91 L438 89.88 L438.7 89.7 L439.4 89.42 L440.1 89.28 L440.8 89.28 L441.5 89.06 L442.2 88.72 L442.9 88.55 L443.6 88.57 L444.3 88.62 L445 88.69 L445.7 88.87 L446.4 89.01 L447.1 89.12 L447.8 89.37 L448.5 89.74 L449.2 89.96 L449.9 89.97 L450.6 90.07 L451.3 90.23" fill="none" stroke="rgb(216,30,27)" stroke-width="1.5" stroke-linejoin="round"/>
<path d="M357.5 109.01 L358.2 109.06 L358.9 109.37 L359.6 109.69 L360.3 109.96 L361 110.24 L361.7 110.56 L362.4 110.95 L363.1 111.2 L363.8 111.38 L364.5 111.7 L365.2 111.97 L365.9 112.13 L366.6 112.12 L367.3 112.02 L368 112.38 L368.7 113.28 L369.4 114.31 L370.1 114.69 L370.8 114 L371.5 112.93 L372.2 112.01 L372.9 111.22 L373.6 110.97 L374.3 111.45 L375 112.15 L375.7 112.94 L376.4 113.24 L377.1 112.58 L377.8 111.43 L378.5 110.28 L379.2 109.51 L379.9 109.07 L380.6 108.48 L381.3 107.53 L382 106.42 L382.7 105.5 L383.4 105.2 L384.1 105.66 L384.8 106.67 L385.5 108.29 L386.2 110.32 L386.9 112.32 L387.6 114.17 L388.3 115.86 L389 116.86 L389.7 116.91 L390.4 116.62 L391.1 116.37 L391.8 116.15 L392.5 115.89 L393.2 115.7 L393.9 115.63 L394.6 115.22 L395.3 114.04 L396 112.36 L396.7 110.63 L397.4 109.48 L398.1 109.3 L398.8 109.69 L399.5 109.93 L400.2 109.54 L400.9 108.83 L401.6 108.13 L402.3 107.34 L403 106.77 L403.7 106.8 L404.4 107.09 L405.1 107.18 L405.8 106.98 L406.5 106.65 L407.2 106.29 L407.9 106.01 L408.6 105.78 L409.3 105.33 L410 104.92 L410.7 104.7 L411.4 104.4 L412.1 104.12 L412.8 103.88 L413.5 103.67 L414.2 103.55 L414.9 103.4 L415.6 103.22 L416.3 103.07 L417 102.84 L417.7 102.45 L418.4 102.23 L419.1 102.17 L419.8 102.08 L420.5 102.08 L421.2 102.2 L421.9 102.27 L422.6 102.24 L423.3 102.4 L424 102.65 L424.7 102.74 L425.4 102.98 L426.1 103.36 L426.8 103.73 L427.5 104.07 L428.2 104.5 L428.9 105.01 L429.6 105.59 L430.3 106.39 L431 107.3 L431.7 108.16 L432.4 108.55 L433.1 108.14 L433.8 107.31 L434.5 106.31 L435.2 104.98 L435.9 103.87 L436.6 103.51 L437.3 103.4 L438 103.1 L438.7 102.82 L439.4 102.63 L440.1 102.56 L440.8 102.52 L441.5 102.43 L442.2 102.36 L442.9 102.12 L443.6 101.86 L444.3 101.85 L445 101.9 L445.7 101.98 L446.4 102.19 L447.1 102.47 L447.8 102.67 L448.5 102.75 L449.2 102.94 L449.9 103.12 L450.6 103.13 L451.3 103.12" fill="none" stroke="rgb(208,36,38)" stroke-width="1.5" stroke-linejoin="round"/>
<path d="M357.5 127.12 L358.2 127.4 L358.9 127.84 L359.6 128.23 L360.3 128.52 L361 128.73 L361.7 128.98 L362.4 129.36 L363.1 129.65 L363.8 129.86 L364.5 130.1 L365.2 130.29 L365.9 130.37 L366.6 130.36 L367.3 130.3 L368 130.6 L368.7 131.39 L369.4 132.13 L370.1 132.21 L370.8 131.69 L371.5 131.06 L372.2 130.39 L372.9 129.65 L373.6 129.34 L374.3 129.65 L375 130.24 L375.7 130.89 L376.4 131.16 L377.1 130.58 L377.8 129.3 L378.5 128.07 L379.2 127.41 L379.9 126.95 L380.6 126.23 L381.3 125.26 L382 124.31 L382.7 123.6 L383.4 123.4 L384.1 123.92 L384.8 124.87 L385.5 126.2 L386.2 128.11 L386.9 130.08 L387.6 131.68 L388.3 133.12 L389 134.03 L389.7 134.11 L390.4 133.8 L391.1 133.53 L391.8 133.42 L392.5 133.36 L393.2 133.2 L393.9 132.9 L394.6 132.27 L395.3 131.14 L396 129.82 L396.7 128.47 L397.4 127.49 L398.1 127.46 L398.8 128.04 L399.5 128.42 L400.2 128.16 L400.9 127.63 L401.6 127.11 L402.3 126.42 L403 125.89 L403.7 125.89 L404.4 126.11 L405.1 126.1 L405.8 125.82 L406.5 125.44 L407.2 125.02 L407.9 124.66 L408.6 124.4 L409.3 124.07 L410 123.68 L410.7 123.41 L411.4 123.13 L412.1 122.75 L412.8 122.48 L413.5 122.41 L414.2 122.29 L414.9 122.07 L415.6 121.84 L416.3 121.57 L417 121.29 L417.7 121.05 L418.4 120.83 L419.1 120.61 L419.8 120.54 L420.5 120.71 L421.2 120.88 L421.9 120.89 L422.6 121.02 L423.3 121.23 L424 121.27 L424.7 121.46 L425.4 121.86 L426.1 122.21 L426.8 122.56 L427.5 122.87 L428.2 123.25 L428.9 123.83 L429.6 124.4 L430.3 125.1 L431 126.03 L431.7 126.85 L432.4 127.15 L433.1 126.78 L433.8 125.97 L434.5 124.95 L435.2 123.9 L435.9 123.01 L436.6 122.54 L437.3 122.42 L438 122.32 L438.7 122.22 L439.4 122.03 L440.1 121.73 L440.8 121.48 L441.5 121.27 L442.2 121.16 L442.9 121.14 L443.6 121.05 L444.3 120.99 L445 121.11 L445.7 121.31 L446.4 121.37 L447.1 121.42 L447.8 121.44 L448.5 121.48 L449.2 121.67 L449.9 121.78 L450.6 121.75 L451.3 121.7" fill="none" stroke="rgb(196,44,50)" stroke-width="1.5" stroke-linejoin="round"/>
<path d="M357.5 146.05 L358.2 146.25 L358.9 146.43 L359.6 146.72 L360.3 147.09 L361 147.36 L361.7 147.56 L362.4 147.85 L363.1 148.23 L363.8 148.49 L364.5 148.64 L365.2 148.79 L365.9 148.9 L366.6 148.94 L367.3 148.84 L368 148.97 L368.7 149.6 L369.4 150.35 L370.1 150.59 L370.8 150.12 L371.5 149.33 L372.2 148.59 L372.9 148.09 L373.6 147.97 L374.3 148.21 L375 148.61 L375.7 149.05 L376.4 149.36 L377.1 149.07 L377.8 148.11 L378.5 147.07 L379.2 146.38 L379.9 145.82 L380.6 145.15 L381.3 144.49 L382 143.72 L382.7 142.92 L383.4 142.62 L384.1 143.04 L384.8 143.94 L385.5 145.19 L386.2 146.91 L386.9 148.71 L387.6 150.05 L388.3 151.2 L389 152.09 L389.7 152.21 L390.4 151.83 L391.1 151.52 L391.8 151.47 L392.5 151.4 L393.2 151.33 L393.9 151.29 L394.6 150.76 L395.3 149.75 L396 148.57 L396.7 147.29 L397.4 146.46 L398.1 146.48 L398.8 146.93 L399.5 147.21 L400.2 146.94 L400.9 146.42 L401.6 145.92 L402.3 145.32 L403 144.88 L403.7 144.78 L404.4 144.9 L405.1 145.08 L405.8 144.97 L406.5 144.5 L407.2 144.06 L407.9 143.86 L408.6 143.59 L409.3 143.1 L410 142.75 L410.7 142.53 L411.4 142.24 L412.1 141.99 L412.8 141.82 L413.5 141.64 L414.2 141.31 L414.9 141.05 L415.6 140.96 L416.3 140.88 L417 140.74 L417.7 140.5 L418.4 140.14 L419.1 139.86 L419.8 139.87 L420.5 139.97 L421.2 140.05 L421.9 140.18 L422.6 140.3 L423.3 140.5 L424 140.69 L424.7 140.77 L425.4 140.93 L426.1 141.28 L426.8 141.71 L427.5 142.01 L428.2 142.27 L428.9 142.73 L429.6 143.29 L430.3 143.91 L431 144.71 L431.7 145.49 L432.4 145.86 L433.1 145.53 L433.8 144.82 L434.5 144.06 L435.2 143.02 L435.9 141.99 L436.6 141.62 L437.3 141.64 L438 141.59 L438.7 141.32 L439.4 141.06 L440.1 140.92 L440.8 140.72 L441.5 140.56 L442.2 140.53 L442.9 140.47 L443.6 140.28 L444.3 140.18 L445 140.34 L445.7 140.47 L446.4 140.51 L447.1 140.54 L447.8 140.52 L448.5 140.54 L449.2 140.67 L449.9 140.83 L450.6 140.99 L451.3 141.19" fill="none" stroke="rgb(184,52,62)" stroke-width="1.5" stroke-linejoin="round"/>
<path d="M357.5 165.5 L358.2 165.88 L358.9 166.17 L359.6 166.38 L360.3 166.58 L361 166.76 L361.7 166.88 L362.4 166.98 L363.1 167.22 L363.8 167.48 L364.5 167.61 L365.2 167.76 L365.9 167.88 L366.6 167.84 L367.3 167.84 L368 168.12 L368.7 168.6 L369.4 169.22 L370.1 169.58 L370.8 169.16 L371.5 168.37 L372.2 167.75 L372.9 167.23 L373.6 167.05 L374.3 167.37 L375 167.81 L375.7 168.29 L376.4 168.47 L377.1 167.97 L377.8 167.11 L378.5 166.29 L379.2 165.61 L379.9 165.13 L380.6 164.7 L381.3 164 L382 163.24 L382.7 162.63 L383.4 162.3 L384.1 162.64 L384.8 163.42 L385.5 164.63 L386.2 166.36 L386.9 167.99 L387.6 169.16 L388.3 170.14 L389 170.91 L389.7 170.95 L390.4 170.55 L391.1 170.29 L391.8 170.08 L392.5 169.89 L393.2 169.92 L393.9 170.01 L394.6 169.57 L395.3 168.48 L396 167.26 L396.7 166.24 L397.4 165.69 L398.1 165.68 L398.8 165.92 L399.5 166.1 L400.2 166 L400.9 165.69 L401.6 165.15 L402.3 164.52 L403 164.17 L403.7 164.15 L404.4 164.3 L405.1 164.29 L405.8 164.04 L406.5 163.75 L407.2 163.41 L407.9 163.09 L408.6 162.78 L409.3 162.53 L410 162.42 L410.7 162.25 L411.4 161.93 L412.1 161.7 L412.8 161.6 L413.5 161.33 L414.2 161.02 L414.9 160.94 L415.6 160.76 L416.3 160.44 L417 160.27 L417.7 160.05 L418.4 159.73 L419.1 159.52 L419.8 159.39 L420.5 159.48 L421.2 159.71 L421.9 159.88 L422.6 159.99 L423.3 160 L424 160.09 L424.7 160.27 L425.4 160.45 L426.1 160.66 L426.8 160.83 L427.5 161.12 L428.2 161.7 L428.9 162.34 L429.6 162.86 L430.3 163.49 L431 164.1 L431.7 164.67 L432.4 165.05 L433.1 164.74 L433.8 164.13 L434.5 163.5 L435.2 162.69 L435.9 161.94 L436.6 161.51 L437.3 161.24 L438 161 L438.7 160.99 L439.4 161.05 L440.1 160.94 L440.8 160.78 L441.5 160.56 L442.2 160.31 L442.9 160.24 L443.6 160.23 L444.3 160.11 L445 160.07 L445.7 160.16 L446.4 160.18 L447.1 160.25 L447.8 160.35 L448.5 160.34 L449.2 160.4 L449.9 160.54 L450.6 160.62 L451.3 160.66" fill="none" stroke="rgb(174,58,75)" stroke-width="1.5" stroke-linejoin="round"/>
<path d="M357.5 184.78 L358.2 184.89 L358.9 185.05 L359.6 185.16 L360.3 185.27 L361 185.42 L361.7 185.75 L362.4 186.09 L363.1 186.18 L363.8 186.35 L364.5 186.72 L365.2 186.89 L365.9 186.86 L366.6 186.84 L367.3 186.9 L368 187.17 L368.7 187.58 L369.4 187.99 L370.1 188.16 L370.8 187.76 L371.5 187.18 L372.2 186.76 L372.9 186.21 L373.6 185.75 L374.3 185.89 L375 186.48 L375.7 187.05 L376.4 187.24 L377.1 186.86 L377.8 186.1 L378.5 185.28 L379.2 184.7 L379.9 184.27 L380.6 183.79 L381.3 183.29 L382 182.74 L382.7 182.23 L383.4 182.09 L384.1 182.38 L384.8 182.93 L385.5 183.89 L386.2 185.22 L386.9 186.49 L387.6 187.56 L388.3 188.56 L389 189.23 L389.7 189.24 L390.4 189.06 L391.1 188.87 L391.8 188.61 L392.5 188.48 L393.2 188.37 L393.9 188.37 L394.6 188.06 L395.3 187.2 L396 186.31 L396.7 185.43 L397.4 184.68 L398.1 184.65 L398.8 185.18 L399.5 185.41 L400.2 185.18 L400.9 184.79 L401.6 184.3 L402.3 183.77 L403 183.31 L403.7 183.23 L404.4 183.35 L405.1 183.3 L405.8 183.19 L406.5 183.03 L407.2 182.83 L407.9 182.46 L408.6 182.12 L409.3 181.97 L410 181.65 L410.7 181.24 L411.4 181.07 L412.1 180.99 L412.8 180.78 L413.5 180.47 L414.2 180.27 L414.9 180.17 L415.6 180.07 L416.3 179.95 L417 179.81 L417.7 179.59 L418.4 179.31 L419.1 179.14 L419.8 179.08 L420.5 179.2 L421.2 179.31 L421.9 179.28 L422.6 179.35 L423.3 179.59 L424 179.76 L424.7 179.89 L425.4 180.07 L426.1 180.29 L426.8 180.56 L427.5 180.88 L428.2 181.12 L428.9 181.36 L429.6 181.79 L430.3 182.38 L431 183.06 L431.7 183.75 L432.4 184.09 L433.1 183.75 L433.8 183.14 L434.5 182.59 L435.2 181.9 L435.9 181.17 L436.6 180.71 L437.3 180.53 L438 180.43 L438.7 180.31 L439.4 180.23 L440.1 180.16 L440.8 180.13 L441.5 179.97 L442.2 179.71 L442.9 179.62 L443.6 179.68 L444.3 179.62 L445 179.5 L445.7 179.51 L446.4 179.53 L447.1 179.64 L447.8 179.79 L448.5 179.74 L449.2 179.72 L449.9 179.91 L450.6 180.13 L451.3 180.22" fill="none" stroke="rgb(165,64,88)" stroke-width="1.5" stroke-linejoin="round"/>
<path d="M357.5 203.92 L358.2 203.95 L358.9 204.19 L359.6 204.34 L360.3 204.45 L361 204.69 L361.7 204.86 L362.4 204.89 L363.1 204.97 L363.8 205.25 L364.5 205.58 L365.2 205.81 L365.9 205.88 L366.6 205.72 L367.3 205.52 L368 205.59 L368.7 205.99 L369.4 206.43 L370.1 206.53 L370.8 206.22 L371.5 205.78 L372.2 205.33 L372.9 204.93 L373.6 204.67 L374.3 204.71 L375 205.04 L375.7 205.55 L376.4 205.77 L377.1 205.38 L377.8 204.83 L378.5 204.27 L379.2 203.66 L379.9 203.24 L380.6 202.85 L381.3 202.39 L382 202.02 L382.7 201.52 L383.4 201.13 L384.1 201.41 L384.8 202.24 L385.5 203.19 L386.2 204.16 L386.9 205.17 L387.6 206.15 L388.3 207.15 L389 207.83 L389.7 207.74 L390.4 207.31 L391.1 207.08 L391.8 207 L392.5 206.86 L393.2 206.81 L393.9 206.86 L394.6 206.52 L395.3 205.71 L396 204.82 L396.7 204.04 L397.4 203.6 L398.1 203.73 L398.8 204.07 L399.5 204.28 L400.2 204.06 L400.9 203.51 L401.6 203.16 L402.3 202.74 L403 202.23 L403.7 202.11 L404.4 202.31 L405.1 202.4 L405.8 202.24 L406.5 202 L407.2 201.85 L407.9 201.64 L408.6 201.28 L409.3 200.97 L410 200.65 L410.7 200.41 L411.4 200.38 L412.1 200.3 L412.8 200.08 L413.5 199.9 L414.2 199.65 L414.9 199.44 L415.6 199.39 L416.3 199.16 L417 198.83 L417.7 198.65 L418.4 198.55 L419.1 198.54 L419.8 198.58 L420.5 198.48 L421.2 198.37 L421.9 198.47 L422.6 198.63 L423.3 198.8 L424 199.01 L424.7 199.12 L425.4 199.17 L426.1 199.32 L426.8 199.64 L427.5 199.94 L428.2 200.25 L428.9 200.7 L429.6 201.13 L430.3 201.48 L431 201.85 L431.7 202.41 L432.4 202.93 L433.1 202.79 L433.8 202.15 L434.5 201.58 L435.2 200.99 L435.9 200.38 L436.6 200.1 L437.3 200.01 L438 199.85 L438.7 199.7 L439.4 199.57 L440.1 199.55 L440.8 199.51 L441.5 199.41 L442.2 199.41 L442.9 199.28 L443.6 198.96 L444.3 198.82 L445 198.89 L445.7 198.97 L446.4 198.98 L447.1 198.94 L447.8 198.92 L448.5 198.91 L449.2 198.91 L449.9 199.05 L450.6 199.25 L451.3 199.29" fill="none" stroke="rgb(152,80,108)" stroke-width="1.5" stroke-linejoin="round"/>
<path d="M357.5 222.3 L358.2 222.35 L358.9 222.46 L359.6 222.49 L360.3 222.58 L361 222.69 L361.7 222.72 L362.4 222.87 L363.1 223.15 L363.8 223.33 L364.5 223.5 L365.2 223.71 L365.9 223.76 L366.6 223.63 L367.3 223.63 L368 223.88 L368.7 224.12 L369.4 224.23 L370.1 224.2 L370.8 223.84 L371.5 223.32 L372.2 222.96 L372.9 222.67 L373.6 222.5 L374.3 222.69 L375 223.11 L375.7 223.46 L376.4 223.45 L377.1 223.17 L377.8 222.75 L378.5 222.13 L379.2 221.76 L379.9 221.7 L380.6 221.39 L381.3 220.89 L382 220.49 L382.7 219.97 L383.4 219.68 L384.1 220.04 L384.8 220.68 L385.5 221.46 L386.2 222.4 L386.9 223.32 L387.6 224.02 L388.3 224.76 L389 225.4 L389.7 225.35 L390.4 224.86 L391.1 224.51 L391.8 224.38 L392.5 224.31 L393.2 224.21 L393.9 224.14 L394.6 223.96 L395.3 223.48 L396 222.96 L396.7 222.33 L397.4 221.79 L398.1 221.78 L398.8 222.13 L399.5 222.48 L400.2 222.33 L400.9 221.71 L401.6 221.16 L402.3 220.76 L403 220.38 L403.7 220.27 L404.4 220.47 L405.1 220.57 L405.8 220.44 L406.5 220.35 L407.2 220.24 L407.9 220.02 L408.6 219.75 L409.3 219.46 L410 219.2 L410.7 218.89 L411.4 218.75 L412.1 218.79 L412.8 218.64 L413.5 218.36 L414.2 218.18 L414.9 218.05 L415.6 217.86 L416.3 217.65 L417 217.49 L417.7 217.27 L418.4 217.14 L419.1 217.13 L419.8 217.04 L420.5 216.97 L421.2 216.93 L421.9 216.97 L422.6 217.23 L423.3 217.47 L424 217.5 L424.7 217.52 L425.4 217.63 L426.1 217.85 L426.8 218.12 L427.5 218.38 L428.2 218.68 L428.9 219.04 L429.6 219.35 L430.3 219.76 L431 220.29 L431.7 220.71 L432.4 221 L433.1 220.94 L433.8 220.51 L434.5 220 L435.2 219.44 L435.9 218.92 L436.6 218.51 L437.3 218.29 L438 218.19 L438.7 218.11 L439.4 218.17 L440.1 218.18 L440.8 218.05 L441.5 217.96 L442.2 217.85 L442.9 217.76 L443.6 217.73 L444.3 217.7 L445 217.6 L445.7 217.44 L446.4 217.42 L447.1 217.57 L447.8 217.64 L448.5 217.58 L449.2 217.57 L449.9 217.67 L450.6 217.8 L451.3 217.84" fill="none" stroke="rgb(138,90,124)" stroke-width="1.5" stroke-linejoin="round"/>
<path d="M357.5 240.41 L358.2 240.33 L358.9 240.38 L359.6 240.6 L360.3 240.69 L361 240.77 L361.7 240.98 L362.4 241.02 L363.1 240.9 L363.8 240.93 L364.5 241.1 L365.2 241.2 L365.9 241.3 L366.6 241.32 L367.3 241.3 L368 241.5 L368.7 241.71 L369.4 241.9 L370.1 242.05 L370.8 241.8 L371.5 241.36 L372.2 240.97 L372.9 240.61 L373.6 240.4 L374.3 240.36 L375 240.51 L375.7 240.75 L376.4 240.73 L377.1 240.48 L377.8 240.07 L378.5 239.63 L379.2 239.37 L379.9 239.11 L380.6 238.83 L381.3 238.53 L382 238.19 L382.7 237.9 L383.4 237.8 L384.1 238.2 L384.8 238.78 L385.5 239.34 L386.2 240.06 L386.9 240.92 L387.6 241.77 L388.3 242.44 L389 242.79 L389.7 242.71 L390.4 242.48 L391.1 242.32 L391.8 242.08 L392.5 241.84 L393.2 241.68 L393.9 241.54 L394.6 241.36 L395.3 241.07 L396 240.61 L396.7 240.02 L397.4 239.56 L398.1 239.49 L398.8 239.71 L399.5 239.7 L400.2 239.33 L400.9 238.87 L401.6 238.43 L402.3 238.11 L403 237.99 L403.7 237.91 L404.4 237.9 L405.1 237.98 L405.8 237.94 L406.5 237.74 L407.2 237.58 L407.9 237.45 L408.6 237.25 L409.3 237.03 L410 236.87 L410.7 236.7 L411.4 236.44 L412.1 236.32 L412.8 236.41 L413.5 236.36 L414.2 236.21 L414.9 236.02 L415.6 235.74 L416.3 235.59 L417 235.49 L417.7 235.36 L418.4 235.38 L419.1 235.34 L419.8 235.23 L420.5 235.28 L421.2 235.33 L421.9 235.41 L422.6 235.7 L423.3 235.88 L424 235.96 L424.7 236.08 L425.4 236.13 L426.1 236.25 L426.8 236.51 L427.5 236.71 L428.2 236.96 L428.9 237.29 L429.6 237.58 L430.3 237.97 L431 238.38 L431.7 238.74 L432.4 238.95 L433.1 238.87 L433.8 238.55 L434.5 238.1 L435.2 237.53 L435.9 237.04 L436.6 236.91 L437.3 236.9 L438 236.73 L438.7 236.49 L439.4 236.4 L440.1 236.44 L440.8 236.41 L441.5 236.23 L442.2 235.95 L442.9 235.78 L443.6 235.8 L444.3 235.74 L445 235.72 L445.7 235.8 L446.4 235.71 L447.1 235.61 L447.8 235.77 L448.5 235.87 L449.2 235.82 L449.9 235.89 L450.6 235.94 L451.3 235.89" fill="none" stroke="rgb(120,96,140)" stroke-width="1.5" stroke-linejoin="round"/>
<path d="M357.5 257.45 L358.2 257.6 L358.9 257.55 L359.6 257.67 L360.3 257.94 L361 257.98 L361.7 257.91 L362.4 257.86 L363.1 257.87 L363.8 258.04 L364.5 258.35 L365.2 258.52 L365.9 258.44 L366.6 258.22 L367.3 258.15 L368 258.34 L368.7 258.62 L369.4 258.94 L370.1 259.09 L370.8 258.82 L371.5 258.27 L372.2 257.85 L372.9 257.55 L373.6 257.2 L374.3 257.11 L375 257.23 L375.7 257.19 L376.4 257.1 L377.1 256.9 L377.8 256.48 L378.5 256.14 L379.2 255.91 L379.9 255.7 L380.6 255.49 L381.3 255.23 L382 254.98 L382.7 254.84 L383.4 255.03 L384.1 255.38 L384.8 255.65 L385.5 256.16 L386.2 257.05 L386.9 257.78 L387.6 258.31 L388.3 258.89 L389 259.16 L389.7 258.96 L390.4 258.84 L391.1 258.8 L391.8 258.54 L392.5 258.31 L393.2 258.27 L393.9 258.3 L394.6 258.21 L395.3 257.8 L396 257.22 L396.7 256.83 L397.4 256.45 L398.1 256.13 L398.8 256.11 L399.5 256.08 L400.2 255.82 L400.9 255.56 L401.6 255.31 L402.3 254.88 L403 254.49 L403.7 254.37 L404.4 254.37 L405.1 254.3 L405.8 254.13 L406.5 254.01 L407.2 254 L407.9 254.02 L408.6 253.98 L409.3 253.85 L410 253.58 L410.7 253.38 L411.4 253.32 L412.1 253.23 L412.8 253.18 L413.5 253.13 L414.2 253.09 L414.9 253.18 L415.6 253.16 L416.3 253.01 L417 252.83 L417.7 252.7 L418.4 252.69 L419.1 252.58 L419.8 252.43 L420.5 252.48 L421.2 252.72 L421.9 252.95 L422.6 253 L423.3 253.11 L424 253.41 L424.7 253.7 L425.4 253.9 L426.1 254.02 L426.8 254.17 L427.5 254.42 L428.2 254.64 L428.9 254.88 L429.6 255.05 L430.3 255.11 L431 255.22 L431.7 255.5 L432.4 255.68 L433.1 255.54 L433.8 255.3 L434.5 255.07 L435.2 254.78 L435.9 254.51 L436.6 254.35 L437.3 254.24 L438 254.21 L438.7 254.09 L439.4 253.88 L440.1 253.8 L440.8 253.69 L441.5 253.47 L442.2 253.35 L442.9 253.25 L443.6 253.14 L444.3 253.15 L445 253.19 L445.7 253.15 L446.4 253.16 L447.1 253.17 L447.8 253.19 L448.5 253.22 L449.2 253.17 L449.9 253.26 L450.6 253.41 L451.3 253.42" fill="none" stroke="rgb(100,104,152)" stroke-width="1.5" stroke-linejoin="round"/>
<path d="M357.5 273.69 L358.2 273.8 L358.9 273.9 L359.6 273.98 L360.3 274.1 L361 274.08 L361.7 273.98 L362.4 274.09 L363.1 274.35 L363.8 274.5 L364.5 274.56 L365.2 274.63 L365.9 274.58 L366.6 274.52 L367.3 274.57 L368 274.65 L368.7 274.77 L369.4 274.94 L370.1 274.95 L370.8 274.67 L371.5 274.33 L372.2 274.15 L372.9 273.89 L373.6 273.61 L374.3 273.43 L375 273.25 L375.7 273.25 L376.4 273.31 L377.1 273.11 L377.8 272.73 L378.5 272.31 L379.2 272.04 L379.9 271.95 L380.6 271.88 L381.3 271.76 L382 271.64 L382.7 271.59 L383.4 271.54 L384.1 271.72 L384.8 272.17 L385.5 272.67 L386.2 273.12 L386.9 273.5 L387.6 273.94 L388.3 274.39 L389 274.65 L389.7 274.78 L390.4 274.77 L391.1 274.58 L391.8 274.48 L392.5 274.4 L393.2 274.15 L393.9 273.96 L394.6 273.81 L395.3 273.56 L396 273.25 L396.7 272.76 L397.4 272.43 L398.1 272.44 L398.8 272.47 L399.5 272.33 L400.2 272.04 L400.9 271.74 L401.6 271.49 L402.3 271.38 L403 271.27 L403.7 271.04 L404.4 270.9 L405.1 270.86 L405.8 270.79 L406.5 270.65 L407.2 270.48 L407.9 270.39 L408.6 270.39 L409.3 270.37 L410 270.29 L410.7 270.18 L411.4 270.21 L412.1 270.17 L412.8 270.07 L413.5 269.97 L414.2 269.77 L414.9 269.73 L415.6 269.79 L416.3 269.65 L417 269.45 L417.7 269.33 L418.4 269.21 L419.1 269.27 L419.8 269.4 L420.5 269.39 L421.2 269.49 L421.9 269.71 L422.6 269.83 L423.3 269.85 L424 269.93 L424.7 270.13 L425.4 270.26 L426.1 270.4 L426.8 270.54 L427.5 270.56 L428.2 270.69 L428.9 270.91 L429.6 271.07 L430.3 271.25 L431 271.45 L431.7 271.54 L432.4 271.47 L433.1 271.44 L433.8 271.37 L434.5 271.03 L435.2 270.66 L435.9 270.54 L436.6 270.46 L437.3 270.23 L438 270.06 L438.7 270.02 L439.4 269.95 L440.1 269.8 L440.8 269.73 L441.5 269.66 L442.2 269.55 L442.9 269.55 L443.6 269.57 L444.3 269.52 L445 269.51 L445.7 269.53 L446.4 269.42 L447.1 269.38 L447.8 269.55 L448.5 269.6 L449.2 269.59 L449.9 269.69 L450.6 269.76 L451.3 269.7" fill="none" stroke="rgb(84,114,168)" stroke-width="1.5" stroke-linejoin="round"/>
<path d="M357.5 287.38 L358.2 287.43 L358.9 287.48 L359.6 287.57 L360.3 287.49 L361 287.43 L361.7 287.53 L362.4 287.6 L363.1 287.66 L363.8 287.78 L364.5 287.91 L365.2 288.02 L365.9 288.04 L366.6 287.96 L367.3 287.93 L368 288 L368.7 288.12 L369.4 288.22 L370.1 288.17 L370.8 287.98 L371.5 287.8 L372.2 287.7 L372.9 287.45 L373.6 287.21 L374.3 287.21 L375 287.08 L375.7 286.79 L376.4 286.6 L377.1 286.39 L377.8 286.14 L378.5 285.92 L379.2 285.76 L379.9 285.76 L380.6 285.72 L381.3 285.59 L382 285.46 L382.7 285.32 L383.4 285.23 L384.1 285.34 L384.8 285.71 L385.5 286.11 L386.2 286.39 L386.9 286.72 L387.6 287.15 L388.3 287.47 L389 287.65 L389.7 287.81 L390.4 287.81 L391.1 287.65 L391.8 287.48 L392.5 287.3 L393.2 287.12 L393.9 287.05 L394.6 287.03 L395.3 286.81 L396 286.42 L396.7 286.18 L397.4 286.14 L398.1 286.07 L398.8 285.98 L399.5 285.89 L400.2 285.68 L400.9 285.38 L401.6 285.15 L402.3 285.05 L403 284.91 L403.7 284.82 L404.4 284.86 L405.1 284.73 L405.8 284.58 L406.5 284.55 L407.2 284.49 L407.9 284.4 L408.6 284.27 L409.3 284.16 L410 284.07 L410.7 284.04 L411.4 284.05 L412.1 283.99 L412.8 283.9 L413.5 283.86 L414.2 283.78 L414.9 283.63 L415.6 283.56 L416.3 283.44 L417 283.32 L417.7 283.32 L418.4 283.37 L419.1 283.34 L419.8 283.26 L420.5 283.31 L421.2 283.48 L421.9 283.69 L422.6 283.82 L423.3 283.79 L424 283.69 L424.7 283.71 L425.4 283.99 L426.1 284.19 L426.8 284.17 L427.5 284.08 L428.2 284.12 L428.9 284.25 L429.6 284.39 L430.3 284.57 L431 284.63 L431.7 284.73 L432.4 284.9 L433.1 284.73 L433.8 284.47 L434.5 284.38 L435.2 284.19 L435.9 284.01 L436.6 284 L437.3 283.87 L438 283.62 L438.7 283.47 L439.4 283.4 L440.1 283.44 L440.8 283.48 L441.5 283.34 L442.2 283.24 L442.9 283.22 L443.6 283.19 L444.3 283.2 L445 283.23 L445.7 283.26 L446.4 283.14 L447.1 283.1 L447.8 283.2 L448.5 283.1 L449.2 283 L449.9 283.03 L450.6 283.05 L451.3 283.07" fill="none" stroke="rgb(76,128,186)" stroke-width="1.5" stroke-linejoin="round"/>
<path d="M357.5 296.78 L358.2 296.72 L358.9 296.61 L359.6 296.59 L360.3 296.68 L361 296.73 L361.7 296.73 L362.4 296.76 L363.1 296.83 L363.8 296.84 L364.5 296.83 L365.2 296.9 L365.9 297.01 L366.6 297 L367.3 296.99 L368 297.02 L368.7 296.95 L369.4 296.94 L370.1 296.94 L370.8 296.84 L371.5 296.72 L372.2 296.55 L372.9 296.35 L373.6 296.26 L374.3 296.33 L375 296.49 L375.7 296.44 L376.4 296.25 L377.1 296.13 L377.8 295.87 L378.5 295.65 L379.2 295.63 L379.9 295.62 L380.6 295.65 L381.3 295.6 L382 295.41 L382.7 295.32 L383.4 295.4 L384.1 295.49 L384.8 295.61 L385.5 295.77 L386.2 296.05 L386.9 296.44 L387.6 296.81 L388.3 297.03 L389 297.04 L389.7 297.13 L390.4 297.28 L391.1 297.24 L391.8 297.09 L392.5 296.99 L393.2 296.98 L393.9 297.07 L394.6 297.03 L395.3 296.79 L396 296.49 L396.7 296.23 L397.4 296.14 L398.1 296.22 L398.8 296.29 L399.5 296.17 L400.2 295.92 L400.9 295.75 L401.6 295.71 L402.3 295.72 L403 295.7 L403.7 295.64 L404.4 295.58 L405.1 295.54 L405.8 295.4 L406.5 295.18 L407.2 295.15 L407.9 295.22 L408.6 295.15 L409.3 294.99 L410 294.87 L410.7 294.73 L411.4 294.64 L412.1 294.57 L412.8 294.55 L413.5 294.67 L414.2 294.73 L414.9 294.71 L415.6 294.61 L416.3 294.46 L417 294.39 L417.7 294.44 L418.4 294.42 L419.1 294.36 L419.8 294.27 L420.5 294.17 L421.2 294.27 L421.9 294.27 L422.6 294.16 L423.3 294.21 L424 294.29 L424.7 294.43 L425.4 294.49 L426.1 294.36 L426.8 294.25 L427.5 294.32 L428.2 294.49 L428.9 294.54 L429.6 294.43 L430.3 294.38 L431 294.38 L431.7 294.28 L432.4 294.28 L433.1 294.33 L433.8 294.15 L434.5 293.93 L435.2 293.83 L435.9 293.75 L436.6 293.56 L437.3 293.29 L438 293.22 L438.7 293.23 L439.4 293.15 L440.1 293.11 L440.8 293.14 L441.5 293.18 L442.2 293.19 L442.9 293.24 L443.6 293.28 L444.3 293.18 L445 293.1 L445.7 293.15 L446.4 293.25 L447.1 293.28 L447.8 293.25 L448.5 293.38 L449.2 293.52 L449.9 293.47 L450.6 293.39 L451.3 293.44" fill="none" stroke="rgb(68,144,206)" stroke-width="1.5" stroke-linejoin="round"/>
<line x1="302.3" y1="45.2" x2="302.3" y2="303.3" stroke="#111" stroke-width="0.9" stroke-dasharray="2 1.6"/>
<line x1="312.2" y1="66.2" x2="312.2" y2="303.3" stroke="#111" stroke-width="0.9" stroke-dasharray="2 1.6"/>
<line x1="383.3" y1="68.3" x2="383.3" y2="303.3" stroke="#111" stroke-width="0.9" stroke-dasharray="2 1.6"/>
<line x1="432.3" y1="71.3" x2="432.3" y2="303.3" stroke="#111" stroke-width="0.9" stroke-dasharray="2 1.6"/>
<line x1="266.3" y1="303.3" x2="266.3" y2="68" stroke="#222" stroke-width="1"/>
<path d="M264.8 68.8 L266.3 63.6 L267.8 68.8 Z" fill="#222"/>
<text x="0" y="0" font-size="8.5" text-anchor="start" fill="#222" stroke="#222" stroke-width="0.22" font-weight="normal" transform="translate(269.5,57.8) rotate(-90) scale(0.95,1)">-1.0 V</text>
<text x="0" y="0" font-size="8.5" text-anchor="start" fill="#222" stroke="#222" stroke-width="0.22" font-weight="normal" transform="translate(269.2,326.8) rotate(-90) scale(0.95,1)">0.3 V</text>
<text x="0" y="0" font-size="8.5" text-anchor="start" fill="#222" stroke="#222" stroke-width="0.22" font-weight="normal" transform="translate(305.2,41.7) rotate(-90) scale(0.95,1)">*NH<tspan dy="2.2" font-size="5.949999999999999">2</tspan><tspan dy="-2.2"></tspan></text>
<text x="0" y="0" font-size="8.5" text-anchor="start" fill="#222" stroke="#222" stroke-width="0.22" font-weight="normal" transform="translate(314.3,63.6) rotate(-90) scale(0.95,1)">*NH<tspan dy="2.2" font-size="5.949999999999999">2</tspan><tspan dy="-2.2"></tspan></text>
<text x="0" y="0" font-size="8.5" text-anchor="start" fill="#222" stroke="#222" stroke-width="0.22" font-weight="normal" transform="translate(385.9,66) rotate(-90) scale(0.95,1)">*H<tspan dy="2.2" font-size="5.949999999999999">2</tspan><tspan dy="-2.2"></tspan>O</text>
<text x="0" y="0" font-size="8.5" text-anchor="start" fill="#222" stroke="#222" stroke-width="0.22" font-weight="normal" transform="translate(435,68.3) rotate(-90) scale(0.95,1)">*Si-O</text>
<text x="0" y="0" font-size="9" text-anchor="start" fill="#222" stroke="#222" stroke-width="0.22" font-weight="normal" transform="translate(305.2,325) rotate(-90) scale(0.89,1)">3212</text>
<text x="0" y="0" font-size="9" text-anchor="start" fill="#222" stroke="#222" stroke-width="0.22" font-weight="normal" transform="translate(315.1,325) rotate(-90) scale(0.89,1)">3133</text>
<text x="0" y="0" font-size="9" text-anchor="start" fill="#222" stroke="#222" stroke-width="0.22" font-weight="normal" transform="translate(386.2,325) rotate(-90) scale(0.89,1)">1594</text>
<text x="0" y="0" font-size="9" text-anchor="start" fill="#222" stroke="#222" stroke-width="0.22" font-weight="normal" transform="translate(435.2,325) rotate(-90) scale(0.89,1)">1210</text>
<path d="M586.5 10.5 L485.8 10.5" fill="none" stroke="#4a4a4a" stroke-width="1.1"/>
<path d="M589.7 10.5 L684.1 10.5" fill="none" stroke="#4a4a4a" stroke-width="1.1"/>
<path d="M485.8 336.2 L586.5 336.2" fill="none" stroke="#6a6a6a" stroke-width="1.2"/>
<path d="M589.7 336.2 L684.1 336.2" fill="none" stroke="#6a6a6a" stroke-width="1.2"/>
<path d="M485.8 10.5 L485.8 336.2" fill="none" stroke="#a5a5a5" stroke-width="2.0"/>
<path d="M684.1 10.5 L684.1 336.2" fill="none" stroke="#a0a0a0" stroke-width="1.8"/>
<line x1="584.8" y1="13.5" x2="588.2" y2="7.5" stroke="#4a4a4a" stroke-width="0.9"/>
<line x1="588" y1="13.5" x2="591.4" y2="7.5" stroke="#4a4a4a" stroke-width="0.9"/>
<line x1="584.8" y1="339.2" x2="588.2" y2="333.2" stroke="#4a4a4a" stroke-width="0.9"/>
<line x1="588" y1="339.2" x2="591.4" y2="333.2" stroke="#4a4a4a" stroke-width="0.9"/>
<line x1="485.8" y1="336.2" x2="485.8" y2="338.7" stroke="#4a4a4a" stroke-width="0.9"/>
<text x="0" y="0" font-size="9.3" text-anchor="middle" fill="#222" stroke="#222" stroke-width="0.22" font-weight="normal" transform="translate(485.8,347.6) scale(0.86,1)">3600</text>
<line x1="523.39" y1="336.2" x2="523.39" y2="338.7" stroke="#4a4a4a" stroke-width="0.9"/>
<text x="0" y="0" font-size="9.3" text-anchor="middle" fill="#222" stroke="#222" stroke-width="0.22" font-weight="normal" transform="translate(523.39,347.6) scale(0.86,1)">3300</text>
<line x1="560.98" y1="336.2" x2="560.98" y2="338.7" stroke="#4a4a4a" stroke-width="0.9"/>
<text x="0" y="0" font-size="9.3" text-anchor="middle" fill="#222" stroke="#222" stroke-width="0.22" font-weight="normal" transform="translate(560.98,347.6) scale(0.86,1)">3000</text>
<line x1="504.6" y1="336.2" x2="504.6" y2="338" stroke="#4a4a4a" stroke-width="0.8"/>
<line x1="542.19" y1="336.2" x2="542.19" y2="338" stroke="#4a4a4a" stroke-width="0.8"/>
<line x1="579.77" y1="336.2" x2="579.77" y2="338" stroke="#4a4a4a" stroke-width="0.8"/>
<line x1="627.2" y1="336.2" x2="627.2" y2="338.7" stroke="#4a4a4a" stroke-width="0.9"/>
<text x="0" y="0" font-size="9.3" text-anchor="middle" fill="#222" stroke="#222" stroke-width="0.22" font-weight="normal" transform="translate(627.2,347.6) scale(0.86,1)">1500</text>
<line x1="665.09" y1="336.2" x2="665.09" y2="338.7" stroke="#4a4a4a" stroke-width="0.9"/>
<text x="0" y="0" font-size="9.3" text-anchor="middle" fill="#222" stroke="#222" stroke-width="0.22" font-weight="normal" transform="translate(665.09,347.6) scale(0.86,1)">1200</text>
<line x1="608.25" y1="336.2" x2="608.25" y2="338" stroke="#4a4a4a" stroke-width="0.8"/>
<line x1="646.15" y1="336.2" x2="646.15" y2="338" stroke="#4a4a4a" stroke-width="0.8"/>
<text x="585" y="364" font-size="10.4" text-anchor="middle" fill="#222" stroke="#222" stroke-width="0.22" font-weight="normal">Wavenumber (cm<tspan dy="-4" font-size="7">-1</tspan><tspan dy="4">)</tspan></text>
<text x="0" y="0" font-size="10" text-anchor="middle" fill="#222" stroke="#222" stroke-width="0.22" font-weight="normal" transform="translate(476.1,173) rotate(-90)">Absorption (a. u.)</text>
<text x="681.6" y="19.2" font-size="8.2" text-anchor="end" fill="#222" stroke="#222" stroke-width="0.22" font-weight="normal">4H/fcc Au NWs</text>
<text x="469.7" y="12.6" font-size="16" text-anchor="start" fill="#000" stroke="#000" stroke-width="0" font-weight="bold">c</text>
<path d="M486.3 63.09 L487 62.67 L487.7 61.97 L488.4 61.1 L489.1 60.31 L489.8 59.59 L490.5 59 L491.2 58.51 L491.9 58.18 L492.6 57.8 L493.3 57.27 L494 56.8 L494.7 56.36 L495.4 55.94 L496.1 55.52 L496.8 55.01 L497.5 54.63 L498.2 54.32 L498.9 53.97 L499.6 53.72 L500.3 53.47 L501 53.08 L501.7 52.64 L502.4 52.15 L503.1 51.7 L503.8 51.37 L504.5 51.12 L505.2 51 L505.9 51 L506.6 50.92 L507.3 50.69 L508 50.44 L508.7 50.23 L509.4 50.02 L510.1 49.95 L510.8 50.01 L511.5 49.99 L512.2 49.99 L512.9 50.19 L513.6 50.42 L514.3 50.51 L515 50.59 L515.7 50.66 L516.4 50.72 L517.1 50.84 L517.8 50.87 L518.5 50.88 L519.2 51.07 L519.9 51.19 L520.6 51.16 L521.3 51.14 L522 51.22 L522.7 51.2 L523.4 51.23 L524.1 51.45 L524.8 51.61 L525.5 51.82 L526.2 52.29 L526.9 52.95 L527.6 53.67 L528.3 54.4 L529 55.3 L529.7 56.38 L530.4 57.73 L531.1 59.5 L531.8 61.82 L532.5 64.8 L533.2 68.15 L533.9 71.49 L534.6 74.24 L535.3 76.15 L536 77.12 L536.7 77.42 L537.4 77.47 L538.1 77.54 L538.8 77.96 L539.5 78.8 L540.2 79.88 L540.9 81.07 L541.6 82.3 L542.3 83.43 L543 84.34 L543.7 84.97 L544.4 85.49 L545.1 86.06 L545.8 86.71 L546.5 87.48 L547.2 88.32 L547.9 89.04 L548.6 89.61 L549.3 90.04 L550 90.39 L550.7 90.81 L551.4 91.22 L552.1 91.65 L552.8 92.19 L553.5 92.69 L554.2 93.16 L554.9 93.78 L555.6 94.48 L556.3 95.1 L557 95.61 L557.7 96.06 L558.4 96.49 L559.1 96.85 L559.8 97.14 L560.5 97.44 L561.2 97.71 L561.9 97.97 L562.6 98.38 L563.3 98.93 L564 99.38 L564.7 99.75 L565.4 100.22 L566.1 100.73 L566.8 101.11 L567.5 101.45 L568.2 101.72 L568.9 102.03 L569.6 102.64 L570.3 103.45 L571 104.21 L571.7 104.77 L572.4 105.06 L573.1 105.19 L573.8 105.09 L574.5 104.66 L575.2 104.24 L575.9 104.08 L576.6 104.04 L577.3 103.99 L578 103.99 L578.7 103.97 L579.4 103.99 L580.1 104.17 L580.8 104.36 L581.5 104.38 L582.2 104.31 L582.9 104.35 L583.6 104.42 L584.3 104.34 L585 104.35 L585.7 104.56" fill="none" stroke="rgb(224,24,16)" stroke-width="1.5" stroke-linejoin="round"/>
<path d="M486.3 75.59 L487 75.17 L487.7 74.62 L488.4 73.93 L489.1 73.13 L489.8 72.41 L490.5 71.85 L491.2 71.37 L491.9 70.96 L492.6 70.45 L493.3 69.84 L494 69.32 L494.7 68.87 L495.4 68.34 L496.1 67.88 L496.8 67.5 L497.5 67.17 L498.2 66.89 L498.9 66.53 L499.6 66.12 L500.3 65.71 L501 65.3 L501.7 64.97 L502.4 64.66 L503.1 64.31 L503.8 64.03 L504.5 63.84 L505.2 63.65 L505.9 63.41 L506.6 63.29 L507.3 63.19 L508 62.93 L508.7 62.66 L509.4 62.46 L510.1 62.37 L510.8 62.48 L511.5 62.6 L512.2 62.64 L512.9 62.71 L513.6 62.78 L514.3 62.85 L515 62.79 L515.7 62.74 L516.4 62.89 L517.1 63.13 L517.8 63.21 L518.5 63.19 L519.2 63.31 L519.9 63.41 L520.6 63.38 L521.3 63.49 L522 63.69 L522.7 63.8 L523.4 63.87 L524.1 63.97 L524.8 64.13 L525.5 64.36 L526.2 64.85 L526.9 65.49 L527.6 66.16 L528.3 67.09 L529 68.15 L529.7 69.34 L530.4 70.85 L531.1 72.74 L531.8 75.19 L532.5 78.2 L533.2 81.3 L533.9 84.38 L534.6 87.21 L535.3 89.2 L536 90.25 L536.7 90.61 L537.4 90.6 L538.1 90.66 L538.8 91.04 L539.5 91.72 L540.2 92.83 L540.9 94.2 L541.6 95.51 L542.3 96.65 L543 97.46 L543.7 97.97 L544.4 98.51 L545.1 99.05 L545.8 99.64 L546.5 100.4 L547.2 101.08 L547.9 101.55 L548.6 102.08 L549.3 102.67 L550 103.12 L550.7 103.51 L551.4 103.9 L552.1 104.29 L552.8 104.68 L553.5 105.07 L554.2 105.65 L554.9 106.34 L555.6 106.92 L556.3 107.41 L557 107.85 L557.7 108.34 L558.4 108.81 L559.1 109.15 L559.8 109.56 L560.5 109.94 L561.2 110.14 L561.9 110.33 L562.6 110.75 L563.3 111.25 L564 111.71 L564.7 112.22 L565.4 112.67 L566.1 112.97 L566.8 113.24 L567.5 113.59 L568.2 113.87 L568.9 114.27 L569.6 114.92 L570.3 115.6 L571 116.21 L571.7 116.89 L572.4 117.45 L573.1 117.57 L573.8 117.36 L574.5 117 L575.2 116.55 L575.9 116.26 L576.6 116.2 L577.3 116.22 L578 116.25 L578.7 116.22 L579.4 116.29 L580.1 116.49 L580.8 116.55 L581.5 116.54 L582.2 116.67 L582.9 116.78 L583.6 116.78 L584.3 116.72 L585 116.64 L585.7 116.65" fill="none" stroke="rgb(216,30,27)" stroke-width="1.5" stroke-linejoin="round"/>
<path d="M486.3 89.38 L487 89 L487.7 88.6 L488.4 88.07 L489.1 87.35 L489.8 86.61 L490.5 86.1 L491.2 85.51 L491.9 84.85 L492.6 84.33 L493.3 83.74 L494 83.09 L494.7 82.59 L495.4 82.09 L496.1 81.52 L496.8 81.09 L497.5 80.77 L498.2 80.47 L498.9 80.26 L499.6 80.01 L500.3 79.63 L501 79.16 L501.7 78.82 L502.4 78.56 L503.1 78.24 L503.8 78.03 L504.5 77.87 L505.2 77.58 L505.9 77.21 L506.6 76.86 L507.3 76.6 L508 76.5 L508.7 76.47 L509.4 76.28 L510.1 76.01 L510.8 76.01 L511.5 76.25 L512.2 76.36 L512.9 76.27 L513.6 76.24 L514.3 76.38 L515 76.48 L515.7 76.49 L516.4 76.55 L517.1 76.6 L517.8 76.67 L518.5 76.73 L519.2 76.68 L519.9 76.73 L520.6 76.86 L521.3 77.09 L522 77.33 L522.7 77.47 L523.4 77.65 L524.1 77.79 L524.8 77.97 L525.5 78.27 L526.2 78.7 L526.9 79.31 L527.6 80.02 L528.3 80.82 L529 81.95 L529.7 83.44 L530.4 85.21 L531.1 87.31 L531.8 89.86 L532.5 92.8 L533.2 95.78 L533.9 98.56 L534.6 101.13 L535.3 103.12 L536 104.3 L536.7 104.84 L537.4 105.06 L538.1 105.2 L538.8 105.57 L539.5 106.28 L540.2 107.35 L540.9 108.64 L541.6 109.98 L542.3 111.02 L543 111.68 L543.7 112.28 L544.4 112.82 L545.1 113.2 L545.8 113.66 L546.5 114.36 L547.2 115.14 L547.9 115.74 L548.6 116.24 L549.3 116.71 L550 116.97 L550.7 117.12 L551.4 117.49 L552.1 118.02 L552.8 118.49 L553.5 118.88 L554.2 119.34 L554.9 119.99 L555.6 120.6 L556.3 121.04 L557 121.45 L557.7 121.91 L558.4 122.38 L559.1 122.85 L559.8 123.19 L560.5 123.36 L561.2 123.6 L561.9 123.91 L562.6 124.26 L563.3 124.73 L564 125.3 L564.7 125.87 L565.4 126.37 L566.1 126.77 L566.8 127.06 L567.5 127.3 L568.2 127.59 L568.9 127.98 L569.6 128.6 L570.3 129.28 L571 129.84 L571.7 130.37 L572.4 130.85 L573.1 131.13 L573.8 131.02 L574.5 130.62 L575.2 130.21 L575.9 129.95 L576.6 129.87 L577.3 129.98 L578 130.01 L578.7 129.9 L579.4 129.99 L580.1 130.11 L580.8 130.14 L581.5 130.27 L582.2 130.38 L582.9 130.38 L583.6 130.36 L584.3 130.3 L585 130.27 L585.7 130.32" fill="none" stroke="rgb(208,36,38)" stroke-width="1.5" stroke-linejoin="round"/>
<path d="M486.3 103.28 L487 103.03 L487.7 102.62 L488.4 102.14 L489.1 101.57 L489.8 100.87 L490.5 100.31 L491.2 99.67 L491.9 98.88 L492.6 98.24 L493.3 97.78 L494 97.24 L494.7 96.6 L495.4 96.05 L496.1 95.6 L496.8 95.14 L497.5 94.64 L498.2 94.25 L498.9 94.03 L499.6 93.79 L500.3 93.54 L501 93.29 L501.7 92.96 L502.4 92.66 L503.1 92.42 L503.8 92.08 L504.5 91.72 L505.2 91.54 L505.9 91.27 L506.6 90.82 L507.3 90.54 L508 90.4 L508.7 90.27 L509.4 90.12 L510.1 89.87 L510.8 89.83 L511.5 90.02 L512.2 90.08 L512.9 90.01 L513.6 90 L514.3 90.11 L515 90.24 L515.7 90.24 L516.4 90.14 L517.1 90.07 L517.8 90.14 L518.5 90.3 L519.2 90.52 L519.9 90.73 L520.6 90.9 L521.3 91.1 L522 91.29 L522.7 91.37 L523.4 91.5 L524.1 91.75 L524.8 92.01 L525.5 92.39 L526.2 92.9 L526.9 93.48 L527.6 94.13 L528.3 94.99 L529 96.24 L529.7 97.8 L530.4 99.67 L531.1 101.77 L531.8 104.31 L532.5 107.28 L533.2 110.22 L533.9 112.83 L534.6 115.16 L535.3 117.19 L536 118.67 L536.7 119.32 L537.4 119.52 L538.1 119.62 L538.8 119.99 L539.5 120.8 L540.2 121.88 L540.9 123.06 L541.6 124.25 L542.3 125.39 L543 126.21 L543.7 126.6 L544.4 126.97 L545.1 127.54 L545.8 128.11 L546.5 128.56 L547.2 129.03 L547.9 129.56 L548.6 130.12 L549.3 130.55 L550 130.88 L550.7 131.23 L551.4 131.58 L552.1 131.99 L552.8 132.36 L553.5 132.77 L554.2 133.3 L554.9 133.85 L555.6 134.45 L556.3 134.95 L557 135.32 L557.7 135.78 L558.4 136.22 L559.1 136.56 L559.8 136.8 L560.5 137.03 L561.2 137.42 L561.9 137.87 L562.6 138.21 L563.3 138.53 L564 139.01 L564.7 139.51 L565.4 139.8 L566.1 140.07 L566.8 140.47 L567.5 140.87 L568.2 141.14 L568.9 141.6 L569.6 142.27 L570.3 142.86 L571 143.47 L571.7 144.16 L572.4 144.72 L573.1 144.86 L573.8 144.57 L574.5 144.16 L575.2 143.87 L575.9 143.72 L576.6 143.64 L577.3 143.64 L578 143.66 L578.7 143.67 L579.4 143.7 L580.1 143.72 L580.8 143.73 L581.5 143.74 L582.2 143.86 L582.9 143.97 L583.6 143.92 L584.3 143.94 L585 144.08 L585.7 144.17" fill="none" stroke="rgb(196,44,50)" stroke-width="1.5" stroke-linejoin="round"/>
<path d="M486.3 118.62 L487 118.44 L487.7 118.17 L488.4 117.62 L489.1 116.91 L489.8 116.3 L490.5 115.78 L491.2 115.15 L491.9 114.47 L492.6 113.79 L493.3 112.99 L494 112.19 L494.7 111.48 L495.4 110.9 L496.1 110.45 L496.8 109.97 L497.5 109.48 L498.2 109.17 L498.9 109.01 L499.6 108.73 L500.3 108.45 L501 108.36 L501.7 108.11 L502.4 107.74 L503.1 107.45 L503.8 107.1 L504.5 106.83 L505.2 106.71 L505.9 106.4 L506.6 105.9 L507.3 105.58 L508 105.4 L508.7 105.25 L509.4 105.13 L510.1 104.96 L510.8 104.92 L511.5 105.01 L512.2 105.03 L512.9 105 L513.6 105.01 L514.3 105.09 L515 105.09 L515.7 105.03 L516.4 105.05 L517.1 105.05 L517.8 105.11 L518.5 105.28 L519.2 105.43 L519.9 105.6 L520.6 105.81 L521.3 106.03 L522 106.27 L522.7 106.45 L523.4 106.64 L524.1 106.86 L524.8 107.06 L525.5 107.4 L526.2 107.93 L526.9 108.54 L527.6 109.35 L528.3 110.37 L529 111.66 L529.7 113.44 L530.4 115.59 L531.1 117.84 L531.8 120.33 L532.5 123.03 L533.2 125.62 L533.9 128.11 L534.6 130.6 L535.3 132.65 L536 134.02 L536.7 134.75 L537.4 135.11 L538.1 135.29 L538.8 135.67 L539.5 136.44 L540.2 137.58 L540.9 138.81 L541.6 139.98 L542.3 141.1 L543 141.82 L543.7 142.13 L544.4 142.48 L545.1 142.96 L545.8 143.48 L546.5 143.92 L547.2 144.45 L547.9 145 L548.6 145.3 L549.3 145.59 L550 146.02 L550.7 146.33 L551.4 146.53 L552.1 146.88 L552.8 147.32 L553.5 147.78 L554.2 148.39 L554.9 148.98 L555.6 149.43 L556.3 149.9 L557 150.32 L557.7 150.77 L558.4 151.25 L559.1 151.57 L559.8 151.76 L560.5 152.08 L561.2 152.55 L561.9 152.93 L562.6 153.24 L563.3 153.64 L564 154.12 L564.7 154.55 L565.4 154.9 L566.1 155.28 L566.8 155.62 L567.5 155.91 L568.2 156.18 L568.9 156.47 L569.6 157.03 L570.3 157.8 L571 158.5 L571.7 159.17 L572.4 159.58 L573.1 159.67 L573.8 159.48 L574.5 159.17 L575.2 158.91 L575.9 158.73 L576.6 158.65 L577.3 158.54 L578 158.46 L578.7 158.53 L579.4 158.63 L580.1 158.65 L580.8 158.65 L581.5 158.72 L582.2 158.9 L582.9 158.98 L583.6 158.92 L584.3 158.95 L585 159.03 L585.7 159.15" fill="none" stroke="rgb(184,52,62)" stroke-width="1.5" stroke-linejoin="round"/>
<path d="M486.3 134.36 L487 134.22 L487.7 133.87 L488.4 133.35 L489.1 132.79 L489.8 132.22 L490.5 131.51 L491.2 130.75 L491.9 130.17 L492.6 129.47 L493.3 128.64 L494 127.94 L494.7 127.33 L495.4 126.75 L496.1 126.22 L496.8 125.76 L497.5 125.25 L498.2 124.7 L498.9 124.33 L499.6 124.13 L500.3 123.99 L501 123.86 L501.7 123.67 L502.4 123.4 L503.1 123.06 L503.8 122.7 L504.5 122.36 L505.2 121.92 L505.9 121.51 L506.6 121.23 L507.3 120.91 L508 120.48 L508.7 120.13 L509.4 119.87 L510.1 119.75 L510.8 119.81 L511.5 119.87 L512.2 119.81 L512.9 119.8 L513.6 119.85 L514.3 119.85 L515 119.83 L515.7 119.86 L516.4 120.02 L517.1 120.25 L517.8 120.43 L518.5 120.56 L519.2 120.67 L519.9 120.97 L520.6 121.31 L521.3 121.59 L522 121.94 L522.7 122.27 L523.4 122.57 L524.1 123.05 L524.8 123.59 L525.5 123.98 L526.2 124.44 L526.9 125.12 L527.6 126.01 L528.3 127.23 L529 128.84 L529.7 130.79 L530.4 132.8 L531.1 134.82 L531.8 137.26 L532.5 140.15 L533.2 142.91 L533.9 145.09 L534.6 146.87 L535.3 148.33 L536 149.3 L536.7 149.73 L537.4 150.09 L538.1 150.55 L538.8 151.12 L539.5 151.94 L540.2 153 L540.9 154.23 L541.6 155.47 L542.3 156.5 L543 157.19 L543.7 157.72 L544.4 158.29 L545.1 158.73 L545.8 159.05 L546.5 159.46 L547.2 159.93 L547.9 160.43 L548.6 160.94 L549.3 161.26 L550 161.46 L550.7 161.82 L551.4 162.27 L552.1 162.64 L552.8 162.97 L553.5 163.37 L554.2 163.85 L554.9 164.36 L555.6 164.89 L556.3 165.42 L557 165.81 L557.7 166.1 L558.4 166.54 L559.1 166.91 L559.8 167.12 L560.5 167.4 L561.2 167.68 L561.9 167.9 L562.6 168.23 L563.3 168.59 L564 168.99 L564.7 169.44 L565.4 169.79 L566.1 170.18 L566.8 170.6 L567.5 170.91 L568.2 171.18 L568.9 171.57 L569.6 172.19 L570.3 172.96 L571 173.56 L571.7 174 L572.4 174.48 L573.1 174.76 L573.8 174.63 L574.5 174.29 L575.2 173.89 L575.9 173.54 L576.6 173.35 L577.3 173.31 L578 173.46 L578.7 173.67 L579.4 173.65 L580.1 173.49 L580.8 173.46 L581.5 173.55 L582.2 173.64 L582.9 173.66 L583.6 173.76 L584.3 173.89 L585 173.83 L585.7 173.78" fill="none" stroke="rgb(174,58,75)" stroke-width="1.5" stroke-linejoin="round"/>
<path d="M486.3 150.97 L487 150.64 L487.7 150.22 L488.4 149.68 L489.1 149.06 L489.8 148.43 L490.5 147.83 L491.2 147.21 L491.9 146.46 L492.6 145.7 L493.3 144.95 L494 144.19 L494.7 143.59 L495.4 143.02 L496.1 142.33 L496.8 141.7 L497.5 141.31 L498.2 141.06 L498.9 140.81 L499.6 140.46 L500.3 140.08 L501 139.79 L501.7 139.52 L502.4 139.3 L503.1 138.96 L503.8 138.53 L504.5 138.1 L505.2 137.6 L505.9 137.15 L506.6 136.79 L507.3 136.55 L508 136.26 L508.7 135.89 L509.4 135.52 L510.1 135.15 L510.8 134.89 L511.5 134.8 L512.2 134.87 L512.9 135.05 L513.6 135.2 L514.3 135.29 L515 135.48 L515.7 135.7 L516.4 135.85 L517.1 136.04 L517.8 136.23 L518.5 136.45 L519.2 136.7 L519.9 136.95 L520.6 137.28 L521.3 137.74 L522 138.29 L522.7 138.84 L523.4 139.38 L524.1 139.95 L524.8 140.57 L525.5 141.1 L526.2 141.55 L526.9 142.19 L527.6 143.26 L528.3 144.76 L529 146.48 L529.7 148.39 L530.4 150.42 L531.1 152.5 L531.8 155.08 L532.5 158.02 L533.2 160.73 L533.9 162.78 L534.6 164.04 L535.3 164.75 L536 165.14 L536.7 165.43 L537.4 165.83 L538.1 166.44 L538.8 167.25 L539.5 168.15 L540.2 169.28 L540.9 170.6 L541.6 171.78 L542.3 172.74 L543 173.5 L543.7 173.94 L544.4 174.31 L545.1 174.84 L545.8 175.32 L546.5 175.81 L547.2 176.33 L547.9 176.69 L548.6 177.06 L549.3 177.52 L550 177.78 L550.7 178 L551.4 178.32 L552.1 178.58 L552.8 178.91 L553.5 179.33 L554.2 179.84 L554.9 180.45 L555.6 180.89 L556.3 181.23 L557 181.69 L557.7 182.13 L558.4 182.47 L559.1 182.78 L559.8 182.94 L560.5 183.17 L561.2 183.54 L561.9 183.76 L562.6 183.98 L563.3 184.35 L564 184.8 L564.7 185.2 L565.4 185.63 L566.1 186.12 L566.8 186.38 L567.5 186.5 L568.2 186.88 L568.9 187.37 L569.6 187.84 L570.3 188.46 L571 189.1 L571.7 189.59 L572.4 189.99 L573.1 190.2 L573.8 190.06 L574.5 189.76 L575.2 189.48 L575.9 189.22 L576.6 189.02 L577.3 189.01 L578 189.13 L578.7 189.09 L579.4 188.96 L580.1 188.97 L580.8 189.11 L581.5 189.19 L582.2 189.16 L582.9 189.18 L583.6 189.25 L584.3 189.27 L585 189.34 L585.7 189.49" fill="none" stroke="rgb(165,64,88)" stroke-width="1.5" stroke-linejoin="round"/>
<path d="M486.3 167.8 L487 167.62 L487.7 167.3 L488.4 166.66 L489.1 165.96 L489.8 165.37 L490.5 164.79 L491.2 164.08 L491.9 163.28 L492.6 162.46 L493.3 161.74 L494 161 L494.7 160.21 L495.4 159.64 L496.1 159.16 L496.8 158.55 L497.5 157.9 L498.2 157.54 L498.9 157.36 L499.6 157.04 L500.3 156.72 L501 156.44 L501.7 156.06 L502.4 155.65 L503.1 155.23 L503.8 154.84 L504.5 154.51 L505.2 154.02 L505.9 153.42 L506.6 152.9 L507.3 152.48 L508 152.18 L508.7 151.88 L509.4 151.48 L510.1 151.11 L510.8 150.93 L511.5 150.74 L512.2 150.54 L512.9 150.6 L513.6 150.87 L514.3 151.18 L515 151.51 L515.7 151.82 L516.4 152.12 L517.1 152.44 L517.8 152.68 L518.5 152.82 L519.2 153.04 L519.9 153.38 L520.6 153.77 L521.3 154.32 L522 155 L522.7 155.62 L523.4 156.38 L524.1 157.26 L524.8 157.96 L525.5 158.59 L526.2 159.28 L526.9 160.09 L527.6 161.29 L528.3 162.91 L529 164.74 L529.7 166.67 L530.4 168.66 L531.1 170.71 L531.8 173.13 L532.5 176.04 L533.2 178.86 L533.9 180.77 L534.6 181.52 L535.3 181.56 L536 181.41 L536.7 181.49 L537.4 182.02 L538.1 182.91 L538.8 183.91 L539.5 184.93 L540.2 185.94 L540.9 187.13 L541.6 188.49 L542.3 189.51 L543 190.1 L543.7 190.6 L544.4 191.06 L545.1 191.39 L545.8 191.83 L546.5 192.47 L547.2 192.95 L547.9 193.32 L548.6 193.77 L549.3 194.07 L550 194.24 L550.7 194.43 L551.4 194.77 L552.1 195.2 L552.8 195.5 L553.5 195.85 L554.2 196.36 L554.9 196.89 L555.6 197.31 L556.3 197.62 L557 198.03 L557.7 198.57 L558.4 198.9 L559.1 199.02 L559.8 199.19 L560.5 199.43 L561.2 199.78 L561.9 200.08 L562.6 200.26 L563.3 200.63 L564 201.14 L564.7 201.46 L565.4 201.7 L566.1 202.03 L566.8 202.44 L567.5 202.79 L568.2 203 L568.9 203.35 L569.6 203.97 L570.3 204.55 L571 205.02 L571.7 205.54 L572.4 205.91 L573.1 206.01 L573.8 205.99 L574.5 205.8 L575.2 205.44 L575.9 205.09 L576.6 204.9 L577.3 204.99 L578 205.13 L578.7 205.14 L579.4 205.14 L580.1 205.18 L580.8 205.2 L581.5 205.21 L582.2 205.21 L582.9 205.21 L583.6 205.18 L584.3 205.25 L585 205.44 L585.7 205.54" fill="none" stroke="rgb(152,80,108)" stroke-width="1.5" stroke-linejoin="round"/>
<path d="M486.3 184.65 L487 184.4 L487.7 183.94 L488.4 183.31 L489.1 182.67 L489.8 182.03 L490.5 181.37 L491.2 180.68 L491.9 179.96 L492.6 179.17 L493.3 178.34 L494 177.53 L494.7 176.85 L495.4 176.21 L496.1 175.57 L496.8 175.09 L497.5 174.63 L498.2 174.15 L498.9 173.78 L499.6 173.5 L500.3 173.29 L501 172.91 L501.7 172.38 L502.4 171.97 L503.1 171.55 L503.8 171.13 L504.5 170.65 L505.2 170.09 L505.9 169.52 L506.6 169.04 L507.3 168.59 L508 168.08 L508.7 167.68 L509.4 167.44 L510.1 167.14 L510.8 166.76 L511.5 166.59 L512.2 166.78 L512.9 167.03 L513.6 167.27 L514.3 167.71 L515 168.16 L515.7 168.46 L516.4 168.83 L517.1 169.28 L517.8 169.55 L518.5 169.82 L519.2 170.18 L519.9 170.41 L520.6 170.77 L521.3 171.45 L522 172.31 L522.7 173.13 L523.4 173.91 L524.1 174.89 L524.8 175.92 L525.5 176.68 L526.2 177.51 L526.9 178.61 L527.6 179.84 L528.3 181.31 L529 182.91 L529.7 184.42 L530.4 185.99 L531.1 187.84 L531.8 190.4 L532.5 193.42 L533.2 196.14 L533.9 198.06 L534.6 198.86 L535.3 198.81 L536 198.46 L536.7 198.45 L537.4 198.96 L538.1 199.77 L538.8 200.62 L539.5 201.64 L540.2 202.89 L540.9 204.07 L541.6 204.99 L542.3 205.77 L543 206.49 L543.7 206.96 L544.4 207.25 L545.1 207.66 L545.8 208.15 L546.5 208.69 L547.2 209.23 L547.9 209.77 L548.6 210.3 L549.3 210.6 L550 210.77 L550.7 211.03 L551.4 211.38 L552.1 211.68 L552.8 211.93 L553.5 212.21 L554.2 212.54 L554.9 212.93 L555.6 213.29 L556.3 213.69 L557 214.12 L557.7 214.39 L558.4 214.71 L559.1 215.07 L559.8 215.21 L560.5 215.34 L561.2 215.49 L561.9 215.72 L562.6 216.11 L563.3 216.59 L564 216.94 L564.7 217.13 L565.4 217.35 L566.1 217.66 L566.8 217.98 L567.5 218.22 L568.2 218.44 L568.9 218.8 L569.6 219.24 L570.3 219.65 L571 220.08 L571.7 220.62 L572.4 221.12 L573.1 221.27 L573.8 221.01 L574.5 220.61 L575.2 220.36 L575.9 220.19 L576.6 220.04 L577.3 220.03 L578 219.99 L578.7 219.97 L579.4 220.08 L580.1 220.26 L580.8 220.31 L581.5 220.19 L582.2 220.25 L582.9 220.4 L583.6 220.36 L584.3 220.31 L585 220.47 L585.7 220.64" fill="none" stroke="rgb(138,90,124)" stroke-width="1.5" stroke-linejoin="round"/>
<path d="M486.3 203.77 L487 203.46 L487.7 202.91 L488.4 202.25 L489.1 201.65 L489.8 201.06 L490.5 200.38 L491.2 199.62 L491.9 198.78 L492.6 197.87 L493.3 197.1 L494 196.42 L494.7 195.6 L495.4 194.76 L496.1 194.11 L496.8 193.59 L497.5 193.13 L498.2 192.69 L498.9 192.29 L499.6 192.01 L500.3 191.78 L501 191.43 L501.7 190.99 L502.4 190.54 L503.1 190.09 L503.8 189.64 L504.5 189.07 L505.2 188.4 L505.9 187.8 L506.6 187.2 L507.3 186.63 L508 186.19 L508.7 185.85 L509.4 185.61 L510.1 185.33 L510.8 185.07 L511.5 185.02 L512.2 185.11 L512.9 185.32 L513.6 185.77 L514.3 186.28 L515 186.72 L515.7 187.25 L516.4 187.8 L517.1 188.22 L517.8 188.67 L518.5 189.08 L519.2 189.34 L519.9 189.71 L520.6 190.29 L521.3 190.92 L522 191.7 L522.7 192.68 L523.4 193.74 L524.1 194.83 L524.8 195.94 L525.5 197.02 L526.2 198.04 L526.9 199.12 L527.6 200.31 L528.3 201.63 L529 203.08 L529.7 204.47 L530.4 205.79 L531.1 207.39 L531.8 209.74 L532.5 212.7 L533.2 215.47 L533.9 217.3 L534.6 218 L535.3 218.03 L536 217.85 L536.7 217.88 L537.4 218.34 L538.1 219.06 L538.8 219.84 L539.5 220.71 L540.2 221.72 L540.9 222.75 L541.6 223.58 L542.3 224.33 L543 225.04 L543.7 225.49 L544.4 225.85 L545.1 226.4 L545.8 226.98 L546.5 227.49 L547.2 227.97 L547.9 228.45 L548.6 229.01 L549.3 229.38 L550 229.48 L550.7 229.62 L551.4 229.96 L552.1 230.38 L552.8 230.67 L553.5 230.88 L554.2 231.15 L554.9 231.37 L555.6 231.62 L556.3 232.06 L557 232.58 L557.7 232.97 L558.4 233.18 L559.1 233.32 L559.8 233.47 L560.5 233.54 L561.2 233.64 L561.9 233.93 L562.6 234.26 L563.3 234.43 L564 234.71 L564.7 235.05 L565.4 235.25 L566.1 235.41 L566.8 235.62 L567.5 235.85 L568.2 236.01 L568.9 236.24 L569.6 236.59 L570.3 237.08 L571 237.65 L571.7 238 L572.4 238.15 L573.1 238.19 L573.8 238.07 L574.5 237.84 L575.2 237.59 L575.9 237.42 L576.6 237.42 L577.3 237.43 L578 237.3 L578.7 237.29 L579.4 237.4 L580.1 237.45 L580.8 237.51 L581.5 237.6 L582.2 237.69 L582.9 237.74 L583.6 237.63 L584.3 237.59 L585 237.7 L585.7 237.77" fill="none" stroke="rgb(120,96,140)" stroke-width="1.5" stroke-linejoin="round"/>
<path d="M486.3 222.33 L487 222.05 L487.7 221.64 L488.4 221.04 L489.1 220.36 L489.8 219.62 L490.5 218.95 L491.2 218.21 L491.9 217.31 L492.6 216.37 L493.3 215.5 L494 214.8 L494.7 214.16 L495.4 213.41 L496.1 212.61 L496.8 211.99 L497.5 211.57 L498.2 211.14 L498.9 210.75 L499.6 210.38 L500.3 209.99 L501 209.69 L501.7 209.27 L502.4 208.66 L503.1 208.1 L503.8 207.59 L504.5 207.05 L505.2 206.47 L505.9 205.82 L506.6 205.19 L507.3 204.64 L508 204.12 L508.7 203.67 L509.4 203.26 L510.1 202.85 L510.8 202.59 L511.5 202.66 L512.2 202.93 L512.9 203.32 L513.6 203.79 L514.3 204.3 L515 204.92 L515.7 205.62 L516.4 206.13 L517.1 206.56 L517.8 207.1 L518.5 207.58 L519.2 208.02 L519.9 208.59 L520.6 209.14 L521.3 209.68 L522 210.57 L522.7 211.78 L523.4 212.94 L524.1 214.06 L524.8 215.38 L525.5 216.75 L526.2 218.06 L526.9 219.41 L527.6 220.7 L528.3 221.91 L529 223.01 L529.7 223.96 L530.4 224.99 L531.1 226.36 L531.8 228.58 L532.5 231.58 L533.2 234.46 L533.9 236.39 L534.6 237.09 L535.3 236.9 L536 236.49 L536.7 236.45 L537.4 236.84 L538.1 237.48 L538.8 238.34 L539.5 239.49 L540.2 240.65 L540.9 241.51 L541.6 242.02 L542.3 242.51 L543 243.04 L543.7 243.5 L544.4 244.06 L545.1 244.7 L545.8 245.32 L546.5 245.83 L547.2 246.3 L547.9 246.85 L548.6 247.26 L549.3 247.49 L550 247.71 L550.7 248.03 L551.4 248.29 L552.1 248.41 L552.8 248.62 L553.5 248.81 L554.2 249.11 L554.9 249.6 L555.6 249.96 L556.3 250.24 L557 250.55 L557.7 250.8 L558.4 250.92 L559.1 251.04 L559.8 251.21 L560.5 251.32 L561.2 251.49 L561.9 251.66 L562.6 251.71 L563.3 251.85 L564 252.06 L564.7 252.3 L565.4 252.57 L566.1 252.81 L566.8 253.01 L567.5 253.19 L568.2 253.32 L568.9 253.48 L569.6 253.84 L570.3 254.29 L571 254.61 L571.7 254.89 L572.4 255.11 L573.1 255.17 L573.8 255.02 L574.5 254.81 L575.2 254.57 L575.9 254.31 L576.6 254.19 L577.3 254.2 L578 254.36 L578.7 254.5 L579.4 254.41 L580.1 254.31 L580.8 254.33 L581.5 254.36 L582.2 254.45 L582.9 254.54 L583.6 254.5 L584.3 254.45 L585 254.51 L585.7 254.65" fill="none" stroke="rgb(100,104,152)" stroke-width="1.5" stroke-linejoin="round"/>
<path d="M486.3 238.93 L487 238.71 L487.7 238.46 L488.4 238.03 L489.1 237.41 L489.8 236.82 L490.5 236.22 L491.2 235.48 L491.9 234.82 L492.6 234.15 L493.3 233.32 L494 232.51 L494.7 231.91 L495.4 231.43 L496.1 230.82 L496.8 230.19 L497.5 229.81 L498.2 229.62 L498.9 229.34 L499.6 228.9 L500.3 228.33 L501 227.7 L501.7 226.99 L502.4 226.22 L503.1 225.51 L503.8 224.93 L504.5 224.51 L505.2 224.18 L505.9 223.81 L506.6 223.36 L507.3 222.87 L508 222.34 L508.7 221.83 L509.4 221.27 L510.1 220.7 L510.8 220.51 L511.5 220.65 L512.2 220.84 L512.9 221.33 L513.6 222.07 L514.3 222.7 L515 223.29 L515.7 224.1 L516.4 225.02 L517.1 225.7 L517.8 226.28 L518.5 226.92 L519.2 227.45 L519.9 227.94 L520.6 228.46 L521.3 229.14 L522 230.1 L522.7 231.28 L523.4 232.57 L524.1 233.8 L524.8 235.15 L525.5 236.6 L526.2 237.9 L526.9 239.26 L527.6 240.63 L528.3 241.77 L529 242.81 L529.7 243.89 L530.4 245.06 L531.1 246.37 L531.8 248.06 L532.5 250.12 L533.2 252.1 L533.9 253.48 L534.6 253.9 L535.3 253.74 L536 253.47 L536.7 253.32 L537.4 253.58 L538.1 254.18 L538.8 255.02 L539.5 256.18 L540.2 257.34 L540.9 258.28 L541.6 258.87 L542.3 259.2 L543 259.55 L543.7 260.08 L544.4 260.48 L545.1 260.76 L545.8 261.17 L546.5 261.6 L547.2 261.96 L547.9 262.21 L548.6 262.44 L549.3 262.73 L550 263.09 L550.7 263.3 L551.4 263.36 L552.1 263.55 L552.8 263.88 L553.5 264.17 L554.2 264.39 L554.9 264.69 L555.6 265.11 L556.3 265.47 L557 265.72 L557.7 266.02 L558.4 266.33 L559.1 266.44 L559.8 266.47 L560.5 266.62 L561.2 266.88 L561.9 267.13 L562.6 267.23 L563.3 267.34 L564 267.65 L564.7 267.96 L565.4 268.11 L566.1 268.24 L566.8 268.49 L567.5 268.62 L568.2 268.67 L568.9 268.89 L569.6 269.21 L570.3 269.59 L571 269.98 L571.7 270.31 L572.4 270.41 L573.1 270.24 L573.8 270.03 L574.5 269.8 L575.2 269.47 L575.9 269.25 L576.6 269.18 L577.3 269.24 L578 269.39 L578.7 269.38 L579.4 269.26 L580.1 269.28 L580.8 269.28 L581.5 269.24 L582.2 269.15 L582.9 269.01 L583.6 268.99 L584.3 268.98 L585 268.92 L585.7 268.91" fill="none" stroke="rgb(84,114,168)" stroke-width="1.5" stroke-linejoin="round"/>
<path d="M486.3 261.63 L487 261.48 L487.7 261.18 L488.4 260.75 L489.1 260.27 L489.8 259.56 L490.5 258.78 L491.2 258.05 L491.9 257.38 L492.6 256.79 L493.3 256.1 L494 255.37 L494.7 254.75 L495.4 254.22 L496.1 253.65 L496.8 253.09 L497.5 252.63 L498.2 252.2 L498.9 251.82 L499.6 251.22 L500.3 250.34 L501 249.48 L501.7 248.71 L502.4 247.95 L503.1 247.13 L503.8 246.4 L504.5 245.78 L505.2 245.28 L505.9 244.98 L506.6 244.59 L507.3 243.99 L508 243.35 L508.7 242.77 L509.4 242.2 L510.1 241.79 L510.8 241.62 L511.5 241.57 L512.2 241.83 L512.9 242.36 L513.6 242.91 L514.3 243.57 L515 244.43 L515.7 245.31 L516.4 245.99 L517.1 246.62 L517.8 247.38 L518.5 248.05 L519.2 248.48 L519.9 248.79 L520.6 249.19 L521.3 249.74 L522 250.43 L522.7 251.3 L523.4 252.2 L524.1 253.04 L524.8 253.81 L525.5 254.47 L526.2 255.04 L526.9 255.65 L527.6 256.66 L528.3 258.1 L529 259.74 L529.7 261.46 L530.4 263.1 L531.1 264.75 L531.8 266.69 L532.5 268.96 L533.2 271.25 L533.9 272.85 L534.6 273.44 L535.3 273.51 L536 273.25 L536.7 272.94 L537.4 272.8 L538.1 272.93 L538.8 273.54 L539.5 274.68 L540.2 275.89 L540.9 276.81 L541.6 277.42 L542.3 277.82 L543 278.03 L543.7 278.14 L544.4 278.39 L545.1 278.77 L545.8 279.12 L546.5 279.42 L547.2 279.74 L547.9 280.05 L548.6 280.22 L549.3 280.4 L550 280.69 L550.7 280.89 L551.4 281.01 L552.1 281.19 L552.8 281.37 L553.5 281.59 L554.2 281.82 L554.9 281.96 L555.6 282.16 L556.3 282.51 L557 282.79 L557.7 282.88 L558.4 282.99 L559.1 283.21 L559.8 283.41 L560.5 283.51 L561.2 283.58 L561.9 283.74 L562.6 284 L563.3 284.2 L564 284.28 L564.7 284.3 L565.4 284.47 L566.1 284.81 L566.8 285.04 L567.5 285.05 L568.2 285.1 L568.9 285.39 L569.6 285.79 L570.3 286.21 L571 286.69 L571.7 287.04 L572.4 287.26 L573.1 287.35 L573.8 287.16 L574.5 286.9 L575.2 286.62 L575.9 286.32 L576.6 286.18 L577.3 286.23 L578 286.22 L578.7 286.06 L579.4 286.01 L580.1 286.03 L580.8 285.95 L581.5 285.87 L582.2 285.88 L582.9 285.97 L583.6 286.1 L584.3 286.12 L585 286.05 L585.7 285.97" fill="none" stroke="rgb(76,128,186)" stroke-width="1.5" stroke-linejoin="round"/>
<path d="M486.3 283.59 L487 283.5 L487.7 283.38 L488.4 283.07 L489.1 282.6 L489.8 282.14 L490.5 281.65 L491.2 281.06 L491.9 280.59 L492.6 280.15 L493.3 279.63 L494 279.12 L494.7 278.55 L495.4 278.08 L496.1 277.7 L496.8 277.29 L497.5 276.98 L498.2 276.61 L498.9 276.06 L499.6 275.49 L500.3 274.89 L501 274.2 L501.7 273.43 L502.4 272.73 L503.1 272.1 L503.8 271.52 L504.5 270.96 L505.2 270.44 L505.9 269.98 L506.6 269.38 L507.3 268.65 L508 268.04 L508.7 267.59 L509.4 267.28 L510.1 267.19 L510.8 267.25 L511.5 267.46 L512.2 267.81 L512.9 268.17 L513.6 268.51 L514.3 268.99 L515 269.56 L515.7 270.22 L516.4 271.04 L517.1 271.79 L517.8 272.46 L518.5 273.05 L519.2 273.57 L519.9 273.97 L520.6 274.37 L521.3 274.97 L522 275.67 L522.7 276.4 L523.4 277.23 L524.1 278.09 L524.8 278.91 L525.5 279.68 L526.2 280.31 L526.9 280.88 L527.6 281.63 L528.3 282.53 L529 283.58 L529.7 284.84 L530.4 286.35 L531.1 288.4 L531.8 290.9 L532.5 293.26 L533.2 294.94 L533.9 295.75 L534.6 295.87 L535.3 295.67 L536 295.5 L536.7 295.47 L537.4 295.46 L538.1 295.49 L538.8 295.76 L539.5 296.36 L540.2 297.12 L540.9 297.78 L541.6 298.21 L542.3 298.44 L543 298.43 L543.7 298.48 L544.4 298.68 L545.1 298.85 L545.8 298.92 L546.5 298.95 L547.2 299.03 L547.9 299.1 L548.6 299.11 L549.3 299.11 L550 299.09 L550.7 299.21 L551.4 299.47 L552.1 299.55 L552.8 299.56 L553.5 299.78 L554.2 300.04 L554.9 300.21 L555.6 300.38 L556.3 300.54 L557 300.62 L557.7 300.65 L558.4 300.64 L559.1 300.68 L559.8 300.78 L560.5 300.93 L561.2 301.07 L561.9 301.08 L562.6 301.1 L563.3 301.29 L564 301.44 L564.7 301.54 L565.4 301.69 L566.1 301.74 L566.8 301.76 L567.5 301.81 L568.2 301.8 L568.9 301.96 L569.6 302.29 L570.3 302.46 L571 302.71 L571.7 303.03 L572.4 303.17 L573.1 303.25 L573.8 303.11 L574.5 302.78 L575.2 302.48 L575.9 302.37 L576.6 302.44 L577.3 302.42 L578 302.26 L578.7 302.13 L579.4 302.13 L580.1 302.2 L580.8 302.18 L581.5 302.16 L582.2 302.12 L582.9 302.02 L583.6 301.97 L584.3 301.96 L585 301.98 L585.7 302.03" fill="none" stroke="rgb(68,144,206)" stroke-width="1.5" stroke-linejoin="round"/>
<path d="M589.8 94.9 L590.5 94.1 L591.2 93.05 L591.9 92.15 L592.6 91.26 L593.3 90.34 L594 89.6 L594.7 88.85 L595.4 87.64 L596.1 86 L596.8 84.51 L597.5 83.61 L598.2 82.91 L598.9 82.21 L599.6 81.72 L600.3 80.28 L601 76.18 L601.7 70.87 L602.4 67.38 L603.1 65.93 L603.8 65.91 L604.5 68 L605.2 70.18 L605.9 69.52 L606.6 67.01 L607.3 64.34 L608 61.99 L608.7 61.31 L609.4 62.94 L610.1 65.57 L610.8 68.24 L611.5 70.84 L612.2 73.6 L612.9 76.98 L613.6 81.11 L614.3 85.56 L615 89.3 L615.7 90.96 L616.4 90.05 L617.1 86.69 L617.8 81.48 L618.5 76.5 L619.2 73.31 L619.9 71.3 L620.6 69.38 L621.3 68.5 L622 70.26 L622.7 72.6 L623.4 73.29 L624.1 73.12 L624.8 72.78 L625.5 72.35 L626.2 72.75 L626.9 74.83 L627.6 78.09 L628.3 81.69 L629 84.15 L629.7 84.24 L630.4 82.95 L631.1 81.48 L631.8 80.98 L632.5 82.22 L633.2 84.38 L633.9 86.66 L634.6 89.02 L635.3 91.07 L636 92.24 L636.7 92.75 L637.4 93.05 L638.1 93.52 L638.8 94.23 L639.5 94.82 L640.2 95.37 L640.9 95.92 L641.6 96.14 L642.3 96.1 L643 96.27 L643.7 96.61 L644.4 96.89 L645.1 97.06 L645.8 96.98 L646.5 96.77 L647.2 96.64 L647.9 96.36 L648.6 96 L649.3 95.85 L650 95.82 L650.7 95.71 L651.4 95.55 L652.1 95.31 L652.8 95.08 L653.5 95 L654.2 94.8 L654.9 94.41 L655.6 94.17 L656.3 94.39 L657 95.07 L657.7 96 L658.4 96.98 L659.1 97.84 L659.8 99.39 L660.5 102.76 L661.2 107.39 L661.9 113.14 L662.6 121.08 L663.3 130.72 L664 135.74 L664.7 130.03 L665.4 117.95 L666.1 106.21 L666.8 98.08 L667.5 94.44 L668.2 93.05 L668.9 92.03 L669.6 91.35 L670.3 91.22 L671 91.44 L671.7 91.78 L672.4 92.22 L673.1 92.72 L673.8 93.15 L674.5 93.52 L675.2 93.77 L675.9 93.72 L676.6 93.38 L677.3 93.09 L678 92.89 L678.7 92.58 L679.4 92.28 L680.1 92.36 L680.8 92.95 L681.5 93.61 L682.2 94.23 L682.9 94.94 L683.6 95.38" fill="none" stroke="rgb(224,24,16)" stroke-width="1.5" stroke-linejoin="round"/>
<path d="M589.8 107.86 L590.5 107.3 L591.2 106.12 L591.9 104.86 L592.6 103.94 L593.3 103.19 L594 102.47 L594.7 101.54 L595.4 100.21 L596.1 98.74 L596.8 97.31 L597.5 96.14 L598.2 95.33 L598.9 94.75 L599.6 94.36 L600.3 93.05 L601 89.08 L601.7 83.85 L602.4 80.35 L603.1 78.86 L603.8 79.2 L604.5 81.74 L605.2 84.1 L605.9 83.62 L606.6 81.1 L607.3 78.35 L608 76.13 L608.7 75.6 L609.4 77.38 L610.1 80.17 L610.8 82.96 L611.5 85.5 L612.2 88.12 L612.9 91.32 L613.6 95.07 L614.3 99.13 L615 102.69 L615.7 104.29 L616.4 103.25 L617.1 99.8 L617.8 94.59 L618.5 89.62 L619.2 86.55 L619.9 84.78 L620.6 83.23 L621.3 82.7 L622 84.46 L622.7 86.68 L623.4 87.34 L624.1 87.21 L624.8 87.13 L625.5 86.84 L626.2 87.05 L626.9 89.14 L627.6 92.64 L628.3 96.36 L629 98.97 L629.7 99.15 L630.4 97.74 L631.1 96.16 L631.8 95.57 L632.5 96.89 L633.2 99.33 L633.9 101.88 L634.6 104.31 L635.3 106.33 L636 107.52 L636.7 107.97 L637.4 108.31 L638.1 108.86 L638.8 109.46 L639.5 110.02 L640.2 110.54 L640.9 110.92 L641.6 111.02 L642.3 111.09 L643 111.26 L643.7 111.37 L644.4 111.57 L645.1 111.89 L645.8 112.16 L646.5 112.28 L647.2 112.22 L647.9 112.05 L648.6 111.93 L649.3 111.99 L650 111.99 L650.7 111.86 L651.4 111.85 L652.1 112.05 L652.8 112.21 L653.5 112.17 L654.2 112.02 L654.9 111.81 L655.6 111.75 L656.3 112.26 L657 113.12 L657.7 114.01 L658.4 114.95 L659.1 115.87 L659.8 117.31 L660.5 120.19 L661.2 124.27 L661.9 129.64 L662.6 137.13 L663.3 146.38 L664 151.28 L664.7 145.45 L665.4 133.16 L666.1 121.44 L666.8 113.68 L667.5 110.51 L668.2 109.62 L668.9 109.15 L669.6 108.74 L670.3 108.67 L671 109.15 L671.7 109.8 L672.4 110.33 L673.1 110.84 L673.8 111.34 L674.5 111.75 L675.2 111.96 L675.9 111.9 L676.6 111.73 L677.3 111.59 L678 111.49 L678.7 111.27 L679.4 110.88 L680.1 110.87 L680.8 111.32 L681.5 111.79 L682.2 112.39 L682.9 113.09 L683.6 113.46" fill="none" stroke="rgb(216,30,27)" stroke-width="1.5" stroke-linejoin="round"/>
<path d="M589.8 123.54 L590.5 122.95 L591.2 121.94 L591.9 120.86 L592.6 119.96 L593.3 119.28 L594 118.7 L594.7 118.01 L595.4 116.95 L596.1 115.53 L596.8 114.19 L597.5 113.33 L598.2 112.89 L598.9 112.72 L599.6 112.74 L600.3 111.71 L601 107.94 L601.7 102.9 L602.4 99.54 L603.1 98.3 L603.8 98.66 L604.5 100.87 L605.2 102.81 L605.9 101.89 L606.6 99.24 L607.3 96.6 L608 94.45 L608.7 93.89 L609.4 95.58 L610.1 98.01 L610.8 100.13 L611.5 102.31 L612.2 104.76 L612.9 107.59 L613.6 111.04 L614.3 114.99 L615 118.5 L615.7 120.16 L616.4 119.36 L617.1 116.37 L617.8 111.82 L618.5 107.36 L619.2 104.49 L619.9 102.85 L620.6 101.37 L621.3 100.73 L622 102.25 L622.7 104.32 L623.4 104.99 L624.1 104.91 L624.8 104.66 L625.5 104.24 L626.2 104.6 L626.9 106.59 L627.6 109.63 L628.3 113.01 L629 115.47 L629.7 115.61 L630.4 114.23 L631.1 112.74 L631.8 112.32 L632.5 113.76 L633.2 116.19 L633.9 118.7 L634.6 121.04 L635.3 122.83 L636 123.71 L636.7 123.9 L637.4 124.14 L638.1 124.59 L638.8 125.05 L639.5 125.48 L640.2 125.91 L640.9 126.27 L641.6 126.54 L642.3 126.85 L643 127.12 L643.7 127.21 L644.4 127.32 L645.1 127.63 L645.8 127.97 L646.5 128.08 L647.2 127.97 L647.9 127.8 L648.6 127.89 L649.3 128.07 L650 128.13 L650.7 128.24 L651.4 128.28 L652.1 128.2 L652.8 128.29 L653.5 128.48 L654.2 128.52 L654.9 128.49 L655.6 128.67 L656.3 129.16 L657 129.87 L657.7 130.8 L658.4 131.83 L659.1 132.69 L659.8 134.07 L660.5 136.73 L661.2 140.32 L661.9 145.13 L662.6 152.04 L663.3 160.72 L664 165.35 L664.7 159.91 L665.4 148.32 L666.1 137.14 L666.8 129.83 L667.5 127.02 L668.2 126.38 L668.9 126 L669.6 125.61 L670.3 125.69 L671 126.19 L671.7 126.92 L672.4 127.79 L673.1 128.6 L673.8 129.26 L674.5 129.82 L675.2 130.3 L675.9 130.44 L676.6 130.26 L677.3 130.15 L678 130.06 L678.7 129.99 L679.4 129.91 L680.1 129.74 L680.8 129.99 L681.5 130.69 L682.2 131.38 L682.9 131.91 L683.6 132.12" fill="none" stroke="rgb(208,36,38)" stroke-width="1.5" stroke-linejoin="round"/>
<path d="M589.8 138.69 L590.5 138.23 L591.2 137.31 L591.9 136.35 L592.6 135.53 L593.3 134.82 L594 134.27 L594.7 133.79 L595.4 133.05 L596.1 131.99 L596.8 130.91 L597.5 130.21 L598.2 130.18 L598.9 130.56 L599.6 131 L600.3 130.34 L601 126.9 L601.7 122.12 L602.4 118.8 L603.1 117.31 L603.8 117.56 L604.5 119.6 L605.2 121.11 L605.9 120.03 L606.6 117.29 L607.3 114.53 L608 112.56 L608.7 112.02 L609.4 113.25 L610.1 115.39 L610.8 117.27 L611.5 118.8 L612.2 120.57 L612.9 123.17 L613.6 126.53 L614.3 130.14 L615 133.51 L615.7 135.52 L616.4 135.12 L617.1 132.5 L617.8 128.55 L618.5 124.76 L619.2 122.43 L619.9 120.87 L620.6 119.07 L621.3 118.18 L622 119.55 L622.7 121.5 L623.4 122.14 L624.1 122.06 L624.8 121.87 L625.5 121.5 L626.2 121.6 L626.9 123.2 L627.6 126.02 L628.3 129.28 L629 131.68 L629.7 131.88 L630.4 130.64 L631.1 129.17 L631.8 128.54 L632.5 129.92 L633.2 132.46 L633.9 134.84 L634.6 136.96 L635.3 138.6 L636 139.37 L636.7 139.53 L637.4 139.57 L638.1 139.73 L638.8 140.14 L639.5 140.65 L640.2 141.15 L640.9 141.68 L641.6 141.89 L642.3 141.92 L643 142.21 L643.7 142.5 L644.4 142.73 L645.1 143 L645.8 143.16 L646.5 143.34 L647.2 143.6 L647.9 143.71 L648.6 143.76 L649.3 143.82 L650 143.81 L650.7 143.88 L651.4 144.1 L652.1 144.4 L652.8 144.62 L653.5 144.66 L654.2 144.75 L654.9 144.94 L655.6 145.08 L656.3 145.47 L657 146.28 L657.7 147.26 L658.4 148.23 L659.1 149.18 L659.8 150.55 L660.5 152.93 L661.2 155.96 L661.9 160.23 L662.6 166.86 L663.3 175.07 L664 179.23 L664.7 173.89 L665.4 162.78 L666.1 152.1 L666.8 145.17 L667.5 142.63 L668.2 142.24 L668.9 142.04 L669.6 141.8 L670.3 142.1 L671 142.86 L671.7 143.78 L672.4 144.66 L673.1 145.56 L673.8 146.64 L674.5 147.55 L675.2 148.04 L675.9 148.33 L676.6 148.5 L677.3 148.56 L678 148.55 L678.7 148.59 L679.4 148.61 L680.1 148.51 L680.8 148.6 L681.5 149.02 L682.2 149.67 L682.9 150.3 L683.6 150.58" fill="none" stroke="rgb(196,44,50)" stroke-width="1.5" stroke-linejoin="round"/>
<path d="M589.8 155.92 L590.5 155.65 L591.2 154.82 L591.9 153.87 L592.6 153.22 L593.3 152.76 L594 152.39 L594.7 151.85 L595.4 150.92 L596.1 149.79 L596.8 148.68 L597.5 147.97 L598.2 147.93 L598.9 148.25 L599.6 148.52 L600.3 147.89 L601 145 L601.7 140.71 L602.4 137.57 L603.1 136.31 L603.8 136.55 L604.5 138.34 L605.2 139.86 L605.9 138.92 L606.6 136.38 L607.3 133.8 L608 131.78 L608.7 131.38 L609.4 132.9 L610.1 134.93 L610.8 136.5 L611.5 137.92 L612.2 139.62 L612.9 141.92 L613.6 144.93 L614.3 148.29 L615 151.28 L615.7 152.87 L616.4 152.43 L617.1 150.2 L617.8 146.81 L618.5 143.63 L619.2 141.77 L619.9 140.57 L620.6 139.34 L621.3 138.98 L622 140.41 L622.7 142.13 L623.4 142.58 L624.1 142.48 L624.8 142.41 L625.5 142.07 L626.2 142.02 L626.9 143.3 L627.6 145.72 L628.3 148.67 L629 150.89 L629.7 151.13 L630.4 150.09 L631.1 148.88 L631.8 148.52 L632.5 149.76 L633.2 151.85 L633.9 154 L634.6 155.93 L635.3 157.15 L636 157.54 L636.7 157.57 L637.4 157.59 L638.1 157.63 L638.8 157.84 L639.5 158.22 L640.2 158.68 L640.9 159.1 L641.6 159.26 L642.3 159.35 L643 159.56 L643.7 159.72 L644.4 159.99 L645.1 160.42 L645.8 160.59 L646.5 160.54 L647.2 160.64 L647.9 160.75 L648.6 160.78 L649.3 160.83 L650 160.93 L650.7 161.12 L651.4 161.29 L652.1 161.37 L652.8 161.5 L653.5 161.62 L654.2 161.69 L654.9 161.75 L655.6 161.83 L656.3 162.23 L657 163.16 L657.7 164.21 L658.4 164.95 L659.1 165.55 L659.8 166.65 L660.5 168.77 L661.2 171.66 L661.9 175.58 L662.6 181.32 L663.3 188.6 L664 192.39 L664.7 187.59 L665.4 177.84 L666.1 168.62 L666.8 162.5 L667.5 160.09 L668.2 159.69 L668.9 159.69 L669.6 159.56 L670.3 159.63 L671 160.21 L671.7 161 L672.4 161.74 L673.1 162.65 L673.8 163.6 L674.5 164.37 L675.2 164.95 L675.9 165.23 L676.6 165.3 L677.3 165.39 L678 165.58 L678.7 165.6 L679.4 165.46 L680.1 165.4 L680.8 165.55 L681.5 166.07 L682.2 166.69 L682.9 167.07 L683.6 167.19" fill="none" stroke="rgb(184,52,62)" stroke-width="1.5" stroke-linejoin="round"/>
<path d="M589.8 171.44 L590.5 171.11 L591.2 170.38 L591.9 169.57 L592.6 168.89 L593.3 168.5 L594 168.25 L594.7 167.76 L595.4 166.88 L596.1 165.97 L596.8 165.13 L597.5 164.38 L598.2 164.04 L598.9 164.12 L599.6 164.4 L600.3 163.79 L601 161.04 L601.7 157.31 L602.4 154.86 L603.1 153.98 L603.8 154.17 L604.5 155.68 L605.2 156.93 L605.9 155.97 L606.6 153.67 L607.3 151.42 L608 149.73 L608.7 149.49 L609.4 150.92 L610.1 152.86 L610.8 154.49 L611.5 155.87 L612.2 157.38 L612.9 159.39 L613.6 161.78 L614.3 164.44 L615 167.04 L615.7 168.44 L616.4 168.09 L617.1 166.24 L617.8 163.32 L618.5 160.71 L619.2 159.45 L619.9 158.8 L620.6 158.04 L621.3 157.88 L622 159.29 L622.7 161 L623.4 161.54 L624.1 161.47 L624.8 161.14 L625.5 160.66 L626.2 160.61 L626.9 161.71 L627.6 163.86 L628.3 166.4 L629 168.26 L629.7 168.64 L630.4 168.13 L631.1 167.34 L631.8 167.09 L632.5 168.09 L633.2 169.76 L633.9 171.55 L634.6 173.16 L635.3 174.09 L636 174.29 L636.7 174.12 L637.4 173.96 L638.1 174 L638.8 174.17 L639.5 174.38 L640.2 174.64 L640.9 174.83 L641.6 174.95 L642.3 175.21 L643 175.41 L643.7 175.51 L644.4 175.67 L645.1 175.77 L645.8 175.89 L646.5 176.04 L647.2 176.17 L647.9 176.16 L648.6 176.18 L649.3 176.36 L650 176.49 L650.7 176.61 L651.4 176.74 L652.1 176.9 L652.8 177.08 L653.5 177.08 L654.2 177.07 L654.9 177.29 L655.6 177.52 L656.3 177.77 L657 178.38 L657.7 179.26 L658.4 180.1 L659.1 180.69 L659.8 181.57 L660.5 183.45 L661.2 185.86 L661.9 189.17 L662.6 194.37 L663.3 200.94 L664 204.18 L664.7 199.84 L665.4 191.35 L666.1 183.39 L666.8 178.08 L667.5 176.05 L668.2 175.69 L668.9 175.42 L669.6 175.27 L670.3 175.47 L671 175.96 L671.7 176.78 L672.4 177.61 L673.1 178.31 L673.8 179.03 L674.5 179.74 L675.2 180.21 L675.9 180.34 L676.6 180.4 L677.3 180.62 L678 180.78 L678.7 180.78 L679.4 180.68 L680.1 180.53 L680.8 180.7 L681.5 181.16 L682.2 181.6 L682.9 182.1 L683.6 182.45" fill="none" stroke="rgb(174,58,75)" stroke-width="1.5" stroke-linejoin="round"/>
<path d="M589.8 186.44 L590.5 185.96 L591.2 185.4 L591.9 184.77 L592.6 184.16 L593.3 183.76 L594 183.5 L594.7 183.22 L595.4 182.54 L596.1 181.57 L596.8 180.76 L597.5 180.02 L598.2 179.52 L598.9 179.45 L599.6 179.65 L600.3 179.1 L601 176.66 L601.7 173.47 L602.4 171.37 L603.1 170.38 L603.8 170.41 L604.5 171.85 L605.2 173.11 L605.9 172.47 L606.6 170.59 L607.3 168.61 L608 167.21 L608.7 166.97 L609.4 168.09 L610.1 169.91 L610.8 171.49 L611.5 172.59 L612.2 173.73 L612.9 175.39 L613.6 177.46 L614.3 179.86 L615 182.27 L615.7 183.58 L616.4 183.29 L617.1 181.7 L617.8 179.2 L618.5 177.1 L619.2 176.36 L619.9 176.22 L620.6 175.91 L621.3 176.12 L622 177.54 L622.7 179.14 L623.4 179.81 L624.1 179.72 L624.8 179.33 L625.5 178.8 L626.2 178.6 L626.9 179.4 L627.6 181.13 L628.3 183.38 L629 185.2 L629.7 185.58 L630.4 185.06 L631.1 184.54 L631.8 184.52 L632.5 185.59 L633.2 187.05 L633.9 188.3 L634.6 189.53 L635.3 190.23 L636 190.2 L636.7 189.87 L637.4 189.58 L638.1 189.47 L638.8 189.54 L639.5 189.84 L640.2 190.09 L640.9 190.15 L641.6 190.23 L642.3 190.32 L643 190.24 L643.7 190.21 L644.4 190.44 L645.1 190.7 L645.8 190.83 L646.5 190.95 L647.2 191.06 L647.9 191.09 L648.6 191.17 L649.3 191.32 L650 191.36 L650.7 191.22 L651.4 191.33 L652.1 191.7 L652.8 191.83 L653.5 191.74 L654.2 191.83 L654.9 191.96 L655.6 192.05 L656.3 192.42 L657 193.09 L657.7 193.78 L658.4 194.36 L659.1 194.85 L659.8 195.56 L660.5 197.1 L661.2 199.32 L661.9 202.24 L662.6 206.54 L663.3 212 L664 214.91 L664.7 211.38 L665.4 204.11 L666.1 197.32 L666.8 192.85 L667.5 191.14 L668.2 190.86 L668.9 190.71 L669.6 190.46 L670.3 190.44 L671 190.78 L671.7 191.42 L672.4 192.22 L673.1 192.94 L673.8 193.62 L674.5 194.24 L675.2 194.52 L675.9 194.62 L676.6 194.9 L677.3 195.18 L678 195.25 L678.7 195.32 L679.4 195.33 L680.1 195.25 L680.8 195.37 L681.5 195.69 L682.2 196.06 L682.9 196.41 L683.6 196.54" fill="none" stroke="rgb(165,64,88)" stroke-width="1.5" stroke-linejoin="round"/>
<path d="M589.8 201.4 L590.5 201.03 L591.2 200.28 L591.9 199.74 L592.6 199.5 L593.3 199.19 L594 198.87 L594.7 198.57 L595.4 197.91 L596.1 196.96 L596.8 196.15 L597.5 195.73 L598.2 195.55 L598.9 195.44 L599.6 195.47 L600.3 195.01 L601 192.99 L601.7 189.99 L602.4 187.79 L603.1 186.88 L603.8 187 L604.5 188.18 L605.2 189.13 L605.9 188.37 L606.6 186.57 L607.3 184.63 L608 183.11 L608.7 182.88 L609.4 183.96 L610.1 185.39 L610.8 186.67 L611.5 187.83 L612.2 188.92 L612.9 190.37 L613.6 192.28 L614.3 194.44 L615 196.47 L615.7 197.72 L616.4 197.8 L617.1 196.63 L617.8 194.6 L618.5 192.9 L619.2 192.33 L619.9 192.18 L620.6 191.89 L621.3 192.19 L622 193.58 L622.7 195.03 L623.4 195.53 L624.1 195.3 L624.8 195.02 L625.5 194.76 L626.2 194.64 L626.9 195.34 L627.6 196.93 L628.3 198.89 L629 200.34 L629.7 200.66 L630.4 200.33 L631.1 199.96 L631.8 200.06 L632.5 200.97 L633.2 202.15 L633.9 203.16 L634.6 204.09 L635.3 204.81 L636 205.01 L636.7 204.74 L637.4 204.48 L638.1 204.57 L638.8 204.71 L639.5 204.71 L640.2 204.85 L640.9 205.01 L641.6 205.07 L642.3 205.19 L643 205.39 L643.7 205.55 L644.4 205.68 L645.1 205.74 L645.8 205.71 L646.5 205.71 L647.2 205.73 L647.9 205.76 L648.6 205.92 L649.3 206.08 L650 206.1 L650.7 206.23 L651.4 206.47 L652.1 206.64 L652.8 206.77 L653.5 206.86 L654.2 206.97 L654.9 207.09 L655.6 207.24 L656.3 207.57 L657 208.05 L657.7 208.5 L658.4 208.97 L659.1 209.44 L659.8 210.16 L660.5 211.52 L661.2 213.17 L661.9 215.47 L662.6 219.2 L663.3 223.97 L664 226.51 L664.7 223.64 L665.4 217.54 L666.1 211.58 L666.8 207.58 L667.5 206.26 L668.2 206.27 L668.9 206.19 L669.6 206.11 L670.3 206.32 L671 206.65 L671.7 207.11 L672.4 207.81 L673.1 208.47 L673.8 208.95 L674.5 209.39 L675.2 209.77 L675.9 210.01 L676.6 210.18 L677.3 210.41 L678 210.54 L678.7 210.54 L679.4 210.5 L680.1 210.57 L680.8 210.68 L681.5 210.83 L682.2 211.13 L682.9 211.51 L683.6 211.85" fill="none" stroke="rgb(152,80,108)" stroke-width="1.5" stroke-linejoin="round"/>
<path d="M589.8 218.28 L590.5 218.2 L591.2 217.75 L591.9 217.24 L592.6 216.97 L593.3 216.7 L594 216.38 L594.7 216 L595.4 215.49 L596.1 214.93 L596.8 214.29 L597.5 213.76 L598.2 213.52 L598.9 213.39 L599.6 213.41 L600.3 212.99 L601 211.23 L601.7 208.71 L602.4 206.82 L603.1 205.99 L603.8 206.04 L604.5 206.85 L605.2 207.33 L605.9 206.49 L606.6 204.85 L607.3 203.12 L608 201.81 L608.7 201.52 L609.4 202.26 L610.1 203.3 L610.8 204.15 L611.5 205.02 L612.2 206.02 L612.9 207.31 L613.6 209.04 L614.3 211.02 L615 212.93 L615.7 214.2 L616.4 214.31 L617.1 213.36 L617.8 211.91 L618.5 210.77 L619.2 210.32 L619.9 210.28 L620.6 210.31 L621.3 210.73 L622 211.98 L622.7 213.21 L623.4 213.62 L624.1 213.64 L624.8 213.46 L625.5 212.98 L626.2 212.91 L626.9 213.83 L627.6 215.22 L628.3 216.82 L629 218.15 L629.7 218.43 L630.4 218.12 L631.1 217.75 L631.8 217.75 L632.5 218.4 L633.2 219.35 L633.9 220.42 L634.6 221.39 L635.3 221.97 L636 222.13 L636.7 222.08 L637.4 222 L638.1 221.96 L638.8 222 L639.5 222.02 L640.2 222.08 L640.9 222.28 L641.6 222.39 L642.3 222.39 L643 222.55 L643.7 222.73 L644.4 222.76 L645.1 222.73 L645.8 222.87 L646.5 223.08 L647.2 223.21 L647.9 223.31 L648.6 223.33 L649.3 223.35 L650 223.54 L650.7 223.7 L651.4 223.72 L652.1 223.82 L652.8 223.92 L653.5 224.09 L654.2 224.37 L654.9 224.45 L655.6 224.4 L656.3 224.54 L657 224.96 L657.7 225.49 L658.4 226.06 L659.1 226.49 L659.8 226.86 L660.5 227.79 L661.2 229.28 L661.9 231.43 L662.6 234.7 L663.3 238.79 L664 240.94 L664.7 238.44 L665.4 233.11 L666.1 228.02 L666.8 224.84 L667.5 223.78 L668.2 223.84 L668.9 224.07 L669.6 224.08 L670.3 224.2 L671 224.76 L671.7 225.34 L672.4 225.75 L673.1 226.25 L673.8 226.81 L674.5 227.36 L675.2 227.77 L675.9 227.9 L676.6 227.9 L677.3 228.02 L678 228.19 L678.7 228.23 L679.4 228.18 L680.1 228.13 L680.8 228.2 L681.5 228.56 L682.2 229.04 L682.9 229.24 L683.6 229.18" fill="none" stroke="rgb(138,90,124)" stroke-width="1.5" stroke-linejoin="round"/>
<path d="M589.8 236.57 L590.5 236.22 L591.2 235.8 L591.9 235.46 L592.6 235.09 L593.3 234.8 L594 234.59 L594.7 234.41 L595.4 234.12 L596.1 233.52 L596.8 232.95 L597.5 232.62 L598.2 232.51 L598.9 232.49 L599.6 232.42 L600.3 232.04 L601 230.57 L601.7 228.36 L602.4 226.81 L603.1 226.03 L603.8 225.71 L604.5 226.25 L605.2 226.83 L605.9 226.08 L606.6 224.44 L607.3 222.77 L608 221.37 L608.7 220.95 L609.4 221.43 L610.1 222.03 L610.8 222.71 L611.5 223.54 L612.2 224.5 L612.9 225.71 L613.6 227.25 L614.3 229.06 L615 230.77 L615.7 232 L616.4 232.37 L617.1 231.71 L617.8 230.56 L618.5 229.73 L619.2 229.49 L619.9 229.49 L620.6 229.48 L621.3 229.91 L622 231.06 L622.7 232.09 L623.4 232.49 L624.1 232.65 L624.8 232.65 L625.5 232.38 L626.2 232.36 L626.9 233.02 L627.6 234.24 L628.3 235.75 L629 236.74 L629.7 236.74 L630.4 236.38 L631.1 236.06 L631.8 236.09 L632.5 236.85 L633.2 237.8 L633.9 238.57 L634.6 239.33 L635.3 240 L636 240.19 L636.7 239.96 L637.4 239.93 L638.1 240.09 L638.8 240.23 L639.5 240.36 L640.2 240.36 L640.9 240.44 L641.6 240.68 L642.3 240.74 L643 240.71 L643.7 240.83 L644.4 240.98 L645.1 241.06 L645.8 241.06 L646.5 241.16 L647.2 241.39 L647.9 241.49 L648.6 241.47 L649.3 241.47 L650 241.53 L650.7 241.76 L651.4 242.07 L652.1 242.26 L652.8 242.48 L653.5 242.56 L654.2 242.46 L654.9 242.57 L655.6 242.71 L656.3 242.79 L657 243.18 L657.7 243.79 L658.4 244.23 L659.1 244.46 L659.8 244.87 L660.5 245.64 L661.2 246.63 L661.9 248.12 L662.6 250.69 L663.3 254.14 L664 256.02 L664.7 254.03 L665.4 249.64 L666.1 245.48 L666.8 243.02 L667.5 242.36 L668.2 242.54 L668.9 242.76 L669.6 242.88 L670.3 243.18 L671 243.67 L671.7 244.21 L672.4 244.65 L673.1 244.93 L673.8 245.32 L674.5 245.87 L675.2 246.16 L675.9 246.16 L676.6 246.23 L677.3 246.43 L678 246.61 L678.7 246.72 L679.4 246.68 L680.1 246.64 L680.8 246.79 L681.5 247 L682.2 247.31 L682.9 247.64 L683.6 247.7" fill="none" stroke="rgb(120,96,140)" stroke-width="1.5" stroke-linejoin="round"/>
<path d="M589.8 252.61 L590.5 252.49 L591.2 252.26 L591.9 251.84 L592.6 251.57 L593.3 251.55 L594 251.45 L594.7 251.16 L595.4 250.77 L596.1 250.46 L596.8 250.07 L597.5 249.66 L598.2 249.56 L598.9 249.55 L599.6 249.44 L600.3 249.02 L601 247.87 L601.7 246.31 L602.4 244.91 L603.1 243.85 L603.8 243.46 L604.5 243.88 L605.2 244.11 L605.9 243.19 L606.6 241.65 L607.3 240.14 L608 238.81 L608.7 238.23 L609.4 238.47 L610.1 238.98 L610.8 239.55 L611.5 239.93 L612.2 240.52 L612.9 241.65 L613.6 243.04 L614.3 244.58 L615 246.22 L615.7 247.54 L616.4 248.08 L617.1 247.88 L617.8 247.22 L618.5 246.78 L619.2 246.83 L619.9 246.93 L620.6 246.92 L621.3 247.19 L622 248.14 L622.7 249.14 L623.4 249.5 L624.1 249.53 L624.8 249.59 L625.5 249.57 L626.2 249.66 L626.9 250.38 L627.6 251.42 L628.3 252.41 L629 253.22 L629.7 253.38 L630.4 252.97 L631.1 252.56 L631.8 252.6 L632.5 253.28 L633.2 254.23 L633.9 255.01 L634.6 255.54 L635.3 255.92 L636 256.23 L636.7 256.37 L637.4 256.42 L638.1 256.49 L638.8 256.54 L639.5 256.69 L640.2 256.75 L640.9 256.65 L641.6 256.7 L642.3 256.87 L643 257 L643.7 256.99 L644.4 257.04 L645.1 257.24 L645.8 257.41 L646.5 257.53 L647.2 257.63 L647.9 257.65 L648.6 257.7 L649.3 257.86 L650 258 L650.7 258.06 L651.4 258.15 L652.1 258.42 L652.8 258.7 L653.5 258.71 L654.2 258.66 L654.9 258.79 L655.6 259.06 L656.3 259.24 L657 259.41 L657.7 259.8 L658.4 260.14 L659.1 260.3 L659.8 260.56 L660.5 260.98 L661.2 261.68 L661.9 262.99 L662.6 265.08 L663.3 267.83 L664 269.4 L664.7 267.74 L665.4 264.12 L666.1 260.91 L666.8 259.23 L667.5 259.06 L668.2 259.49 L668.9 259.87 L669.6 260.13 L670.3 260.41 L671 260.78 L671.7 261.17 L672.4 261.63 L673.1 262.02 L673.8 262.36 L674.5 262.73 L675.2 262.89 L675.9 262.86 L676.6 262.97 L677.3 263.2 L678 263.26 L678.7 263.34 L679.4 263.43 L680.1 263.47 L680.8 263.73 L681.5 264.02 L682.2 264.21 L682.9 264.3 L683.6 264.34" fill="none" stroke="rgb(100,104,152)" stroke-width="1.5" stroke-linejoin="round"/>
<path d="M589.8 269.5 L590.5 269.44 L591.2 269.21 L591.9 268.92 L592.6 268.55 L593.3 268.29 L594 268.24 L594.7 268.16 L595.4 268 L596.1 267.7 L596.8 267.31 L597.5 267.04 L598.2 266.82 L598.9 266.69 L599.6 266.75 L600.3 266.54 L601 265.63 L601.7 264.39 L602.4 263.33 L603.1 262.64 L603.8 262.39 L604.5 262.4 L605.2 262.22 L605.9 261.56 L606.6 260.39 L607.3 258.97 L608 257.64 L608.7 256.8 L609.4 256.77 L610.1 257.04 L610.8 257.17 L611.5 257.41 L612.2 257.9 L612.9 258.61 L613.6 259.53 L614.3 260.65 L615 262 L615.7 263.2 L616.4 263.74 L617.1 263.7 L617.8 263.5 L618.5 263.52 L619.2 263.94 L619.9 264.5 L620.6 264.91 L621.3 265.61 L622 266.62 L622.7 267.46 L623.4 267.96 L624.1 268.2 L624.8 268.39 L625.5 268.43 L626.2 268.54 L626.9 269.08 L627.6 269.88 L628.3 270.69 L629 271.21 L629.7 271.22 L630.4 270.82 L631.1 270.32 L631.8 270.17 L632.5 270.56 L633.2 271.22 L633.9 271.83 L634.6 272.21 L635.3 272.32 L636 272.39 L636.7 272.48 L637.4 272.44 L638.1 272.37 L638.8 272.33 L639.5 272.44 L640.2 272.68 L640.9 272.74 L641.6 272.63 L642.3 272.52 L643 272.41 L643.7 272.39 L644.4 272.57 L645.1 272.77 L645.8 272.85 L646.5 273 L647.2 273.11 L647.9 273.06 L648.6 273.01 L649.3 273.11 L650 273.35 L650.7 273.61 L651.4 273.72 L652.1 273.7 L652.8 273.78 L653.5 273.99 L654.2 274.2 L654.9 274.34 L655.6 274.4 L656.3 274.41 L657 274.56 L657.7 274.82 L658.4 275.04 L659.1 275.1 L659.8 274.99 L660.5 275.19 L661.2 275.76 L661.9 276.45 L662.6 277.63 L663.3 279.4 L664 280.37 L664.7 279.03 L665.4 276.44 L666.1 274.29 L666.8 273.11 L667.5 272.93 L668.2 273.36 L668.9 273.98 L669.6 274.58 L670.3 275.27 L671 275.94 L671.7 276.57 L672.4 277.24 L673.1 277.77 L673.8 278.19 L674.5 278.59 L675.2 279.05 L675.9 279.4 L676.6 279.49 L677.3 279.53 L678 279.59 L678.7 279.57 L679.4 279.49 L680.1 279.48 L680.8 279.57 L681.5 279.7 L682.2 279.86 L682.9 279.94 L683.6 280" fill="none" stroke="rgb(84,114,168)" stroke-width="1.5" stroke-linejoin="round"/>
<path d="M589.8 286.28 L590.5 286.09 L591.2 285.96 L591.9 285.86 L592.6 285.73 L593.3 285.6 L594 285.54 L594.7 285.38 L595.4 284.99 L596.1 284.72 L596.8 284.7 L597.5 284.56 L598.2 284.22 L598.9 284.13 L599.6 284.19 L600.3 283.91 L601 283.26 L601.7 282.46 L602.4 281.66 L603.1 281.02 L603.8 280.79 L604.5 280.87 L605.2 280.73 L605.9 280.15 L606.6 279.28 L607.3 278.27 L608 277.32 L608.7 276.62 L609.4 276.37 L610.1 276.34 L610.8 276.35 L611.5 276.51 L612.2 276.8 L612.9 277.37 L613.6 278.27 L614.3 279.58 L615 281.22 L615.7 282.65 L616.4 283.59 L617.1 284.21 L617.8 284.7 L618.5 285.24 L619.2 285.93 L619.9 286.51 L620.6 286.83 L621.3 287.29 L622 288.1 L622.7 288.76 L623.4 288.94 L624.1 288.92 L624.8 288.68 L625.5 288.26 L626.2 287.9 L626.9 287.76 L627.6 287.89 L628.3 288.19 L629 288.43 L629.7 288.44 L630.4 288.21 L631.1 287.79 L631.8 287.47 L632.5 287.54 L633.2 287.8 L633.9 288.03 L634.6 288.1 L635.3 288.02 L636 287.94 L636.7 287.89 L637.4 287.99 L638.1 288.18 L638.8 288.16 L639.5 288.06 L640.2 288.17 L640.9 288.28 L641.6 288.34 L642.3 288.45 L643 288.4 L643.7 288.3 L644.4 288.35 L645.1 288.51 L645.8 288.81 L646.5 288.99 L647.2 288.92 L647.9 288.96 L648.6 289.16 L649.3 289.33 L650 289.43 L650.7 289.44 L651.4 289.53 L652.1 289.76 L652.8 289.97 L653.5 290.12 L654.2 290.3 L654.9 290.36 L655.6 290.21 L656.3 290.15 L657 290.32 L657.7 290.53 L658.4 290.6 L659.1 290.46 L659.8 290.28 L660.5 290.31 L661.2 290.41 L661.9 290.64 L662.6 291.23 L663.3 292.27 L664 292.89 L664.7 291.95 L665.4 290.13 L666.1 288.68 L666.8 288.12 L667.5 288.2 L668.2 288.5 L668.9 288.9 L669.6 289.1 L670.3 289.27 L671 289.63 L671.7 289.99 L672.4 290.27 L673.1 290.52 L673.8 290.76 L674.5 290.9 L675.2 290.97 L675.9 291.1 L676.6 291.27 L677.3 291.46 L678 291.64 L678.7 291.85 L679.4 292.04 L680.1 292.2 L680.8 292.37 L681.5 292.65 L682.2 293.09 L682.9 293.24 L683.6 293.06" fill="none" stroke="rgb(76,128,186)" stroke-width="1.5" stroke-linejoin="round"/>
<path d="M589.8 302.22 L590.5 302.31 L591.2 302.22 L591.9 302.01 L592.6 301.94 L593.3 301.99 L594 301.84 L594.7 301.62 L595.4 301.54 L596.1 301.4 L596.8 301.26 L597.5 301.2 L598.2 301.11 L598.9 301.04 L599.6 301.03 L600.3 300.8 L601 300.15 L601.7 299.45 L602.4 298.93 L603.1 298.46 L603.8 298.08 L604.5 298.06 L605.2 298.1 L605.9 297.65 L606.6 296.85 L607.3 296.09 L608 295.28 L608.7 294.54 L609.4 294.32 L610.1 294.3 L610.8 294.21 L611.5 294.27 L612.2 294.5 L612.9 295.14 L613.6 296.09 L614.3 297.17 L615 298.51 L615.7 299.73 L616.4 300.62 L617.1 301.45 L617.8 302.1 L618.5 302.51 L619.2 302.96 L619.9 303.58 L620.6 304.05 L621.3 304.37 L622 304.88 L622.7 305.21 L623.4 305.12 L624.1 304.9 L624.8 304.7 L625.5 304.29 L626.2 303.82 L626.9 303.61 L627.6 303.61 L628.3 303.84 L629 303.93 L629.7 303.57 L630.4 303.16 L631.1 302.85 L631.8 302.79 L632.5 302.98 L633.2 303.15 L633.9 303.23 L634.6 303.37 L635.3 303.55 L636 303.61 L636.7 303.52 L637.4 303.44 L638.1 303.53 L638.8 303.7 L639.5 303.85 L640.2 303.88 L640.9 303.82 L641.6 303.78 L642.3 303.78 L643 303.82 L643.7 303.88 L644.4 304.02 L645.1 304.17 L645.8 304.11 L646.5 303.99 L647.2 304.06 L647.9 304.24 L648.6 304.35 L649.3 304.34 L650 304.32 L650.7 304.27 L651.4 304.26 L652.1 304.45 L652.8 304.63 L653.5 304.62 L654.2 304.55 L654.9 304.39 L655.6 304.2 L656.3 304.02 L657 303.82 L657.7 303.67 L658.4 303.51 L659.1 303.2 L659.8 302.75 L660.5 302.4 L661.2 302.14 L661.9 302.12 L662.6 302.59 L663.3 303.44 L664 304.11 L664.7 303.93 L665.4 303.3 L666.1 302.83 L666.8 302.75 L667.5 303.23 L668.2 303.83 L668.9 304.11 L669.6 304.11 L670.3 304.15 L671 304.35 L671.7 304.47 L672.4 304.45 L673.1 304.41 L673.8 304.4 L674.5 304.53 L675.2 304.89 L675.9 305.21 L676.6 305.3 L677.3 305.41 L678 305.54 L678.7 305.59 L679.4 305.78 L680.1 306.05 L680.8 306.15 L681.5 306.29 L682.2 306.52 L682.9 306.55 L683.6 306.37" fill="none" stroke="rgb(68,144,206)" stroke-width="1.5" stroke-linejoin="round"/>
<line x1="530.2" y1="55.5" x2="530.2" y2="292" stroke="#111" stroke-width="0.9" stroke-dasharray="2 1.6"/>
<line x1="538.2" y1="73" x2="538.2" y2="300" stroke="#111" stroke-width="0.9" stroke-dasharray="2 1.6"/>
<line x1="609.2" y1="56.8" x2="612.3" y2="300" stroke="#111" stroke-width="0.9" stroke-dasharray="2 1.6"/>
<line x1="621.3" y1="63" x2="621.3" y2="307" stroke="#111" stroke-width="0.9" stroke-dasharray="2 1.6"/>
<line x1="655.8" y1="88.9" x2="655.8" y2="309" stroke="#111" stroke-width="0.9" stroke-dasharray="2 1.6"/>
<line x1="663.9" y1="90" x2="663.9" y2="307" stroke="#111" stroke-width="0.9" stroke-dasharray="2 1.6"/>
<line x1="498.5" y1="284.1" x2="498.5" y2="48" stroke="#222" stroke-width="1"/>
<path d="M497 48.5 L498.5 43.3 L500 48.5 Z" fill="#222"/>
<text x="0" y="0" font-size="8.5" text-anchor="start" fill="#222" stroke="#222" stroke-width="0.22" font-weight="normal" transform="translate(501.8,38.5) rotate(-90) scale(0.95,1)">1.0 V</text>
<text x="0" y="0" font-size="8.5" text-anchor="start" fill="#222" stroke="#222" stroke-width="0.22" font-weight="normal" transform="translate(500.8,306.8) rotate(-90) scale(0.95,1)">0.3 V</text>
<text x="0" y="0" font-size="8.5" text-anchor="start" fill="#222" stroke="#222" stroke-width="0.22" font-weight="normal" transform="translate(532.8,51.7) rotate(-90) scale(0.95,1)">*NH<tspan dy="2.2" font-size="5.949999999999999">2</tspan><tspan dy="-2.2"></tspan></text>
<text x="0" y="0" font-size="8.5" text-anchor="start" fill="#222" stroke="#222" stroke-width="0.22" font-weight="normal" transform="translate(540.5,70.3) rotate(-90) scale(0.95,1)">*NH<tspan dy="2.2" font-size="5.949999999999999">2</tspan><tspan dy="-2.2"></tspan></text>
<text x="0" y="0" font-size="8.5" text-anchor="start" fill="#222" stroke="#222" stroke-width="0.22" font-weight="normal" transform="translate(612,53.5) rotate(-90) scale(0.95,1)">*H<tspan dy="2.2" font-size="5.949999999999999">2</tspan><tspan dy="-2.2"></tspan>O</text>
<text x="0" y="0" font-size="8.5" text-anchor="start" fill="#222" stroke="#222" stroke-width="0.22" font-weight="normal" transform="translate(624.4,60.1) rotate(-90) scale(0.95,1)">*NO</text>
<text x="0" y="0" font-size="8.5" text-anchor="start" fill="#222" stroke="#222" stroke-width="0.22" font-weight="normal" transform="translate(659.5,86.6) rotate(-90) scale(0.95,1)">*NO<tspan dy="2.2" font-size="5.949999999999999">2</tspan><tspan dy="-2.2"></tspan></text>
<text x="0" y="0" font-size="8.5" text-anchor="start" fill="#222" stroke="#222" stroke-width="0.22" font-weight="normal" transform="translate(669,87.3) rotate(-90) scale(0.95,1)">*Si-O</text>
<text x="0" y="0" font-size="9" text-anchor="start" fill="#222" stroke="#222" stroke-width="0.22" font-weight="normal" transform="translate(532.1,312.5) rotate(-90) scale(0.89,1)">3245</text>
<text x="0" y="0" font-size="9" text-anchor="start" fill="#222" stroke="#222" stroke-width="0.22" font-weight="normal" transform="translate(541,319.8) rotate(-90) scale(0.89,1)">3180</text>
<text x="0" y="0" font-size="9" text-anchor="start" fill="#222" stroke="#222" stroke-width="0.22" font-weight="normal" transform="translate(615.2,319.8) rotate(-90) scale(0.89,1)">1622</text>
<text x="0" y="0" font-size="9" text-anchor="start" fill="#222" stroke="#222" stroke-width="0.22" font-weight="normal" transform="translate(624.1,327) rotate(-90) scale(0.89,1)">1545</text>
<text x="0" y="0" font-size="9" text-anchor="start" fill="#222" stroke="#222" stroke-width="0.22" font-weight="normal" transform="translate(657.9,328.2) rotate(-90) scale(0.89,1)">1271</text>
<text x="0" y="0" font-size="9" text-anchor="start" fill="#222" stroke="#222" stroke-width="0.22" font-weight="normal" transform="translate(667,327) rotate(-90) scale(0.89,1)">1210</text>
<rect x="21.9" y="378.5" width="198.29999999999998" height="248.89999999999998" fill="none" stroke="#8a8a8a" stroke-width="1.2"/>
<line x1="27.49" y1="627.4" x2="27.49" y2="629.2" stroke="#555" stroke-width="0.8"/>
<line x1="38.2" y1="627.4" x2="38.2" y2="630" stroke="#555" stroke-width="0.9"/>
<text x="0" y="0" font-size="9.3" text-anchor="middle" fill="#222" stroke="#222" stroke-width="0.22" font-weight="normal" transform="translate(38.2,641) scale(0.86,1)">200</text>
<line x1="48.91" y1="627.4" x2="48.91" y2="629.2" stroke="#555" stroke-width="0.8"/>
<line x1="59.61" y1="627.4" x2="59.61" y2="630" stroke="#555" stroke-width="0.9"/>
<text x="0" y="0" font-size="9.3" text-anchor="middle" fill="#222" stroke="#222" stroke-width="0.22" font-weight="normal" transform="translate(59.61,641) scale(0.86,1)">400</text>
<line x1="70.32" y1="627.4" x2="70.32" y2="629.2" stroke="#555" stroke-width="0.8"/>
<line x1="81.02" y1="627.4" x2="81.02" y2="630" stroke="#555" stroke-width="0.9"/>
<text x="0" y="0" font-size="9.3" text-anchor="middle" fill="#222" stroke="#222" stroke-width="0.22" font-weight="normal" transform="translate(81.02,641) scale(0.86,1)">600</text>
<line x1="91.73" y1="627.4" x2="91.73" y2="629.2" stroke="#555" stroke-width="0.8"/>
<line x1="102.44" y1="627.4" x2="102.44" y2="630" stroke="#555" stroke-width="0.9"/>
<text x="0" y="0" font-size="9.3" text-anchor="middle" fill="#222" stroke="#222" stroke-width="0.22" font-weight="normal" transform="translate(102.44,641) scale(0.86,1)">800</text>
<line x1="113.14" y1="627.4" x2="113.14" y2="629.2" stroke="#555" stroke-width="0.8"/>
<line x1="123.85" y1="627.4" x2="123.85" y2="630" stroke="#555" stroke-width="0.9"/>
<text x="0" y="0" font-size="9.3" text-anchor="middle" fill="#222" stroke="#222" stroke-width="0.22" font-weight="normal" transform="translate(123.85,641) scale(0.86,1)">1000</text>
<line x1="134.55" y1="627.4" x2="134.55" y2="629.2" stroke="#555" stroke-width="0.8"/>
<line x1="145.26" y1="627.4" x2="145.26" y2="630" stroke="#555" stroke-width="0.9"/>
<text x="0" y="0" font-size="9.3" text-anchor="middle" fill="#222" stroke="#222" stroke-width="0.22" font-weight="normal" transform="translate(145.26,641) scale(0.86,1)">1200</text>
<line x1="155.97" y1="627.4" x2="155.97" y2="629.2" stroke="#555" stroke-width="0.8"/>
<line x1="166.67" y1="627.4" x2="166.67" y2="630" stroke="#555" stroke-width="0.9"/>
<text x="0" y="0" font-size="9.3" text-anchor="middle" fill="#222" stroke="#222" stroke-width="0.22" font-weight="normal" transform="translate(166.67,641) scale(0.86,1)">1400</text>
<line x1="177.38" y1="627.4" x2="177.38" y2="629.2" stroke="#555" stroke-width="0.8"/>
<line x1="188.08" y1="627.4" x2="188.08" y2="630" stroke="#555" stroke-width="0.9"/>
<text x="0" y="0" font-size="9.3" text-anchor="middle" fill="#222" stroke="#222" stroke-width="0.22" font-weight="normal" transform="translate(188.08,641) scale(0.86,1)">1600</text>
<line x1="198.79" y1="627.4" x2="198.79" y2="629.2" stroke="#555" stroke-width="0.8"/>
<line x1="209.5" y1="627.4" x2="209.5" y2="630" stroke="#555" stroke-width="0.9"/>
<text x="0" y="0" font-size="9.3" text-anchor="middle" fill="#222" stroke="#222" stroke-width="0.22" font-weight="normal" transform="translate(209.5,641) scale(0.86,1)">1800</text>
<text x="121.2" y="650.6" font-size="10.2" text-anchor="middle" fill="#222" stroke="#222" stroke-width="0.22" font-weight="normal">Time (s)</text>
<text x="0" y="0" font-size="10.3" text-anchor="middle" fill="#222" stroke="#222" stroke-width="0.22" font-weight="normal" transform="translate(11.5,516) rotate(-90)">Intensity (a. u.)</text>
<text x="5.2" y="383.4" font-size="16" text-anchor="start" fill="#000" stroke="#000" stroke-width="0" font-weight="bold">d</text>
<path d="M22.5 402.48 L22.85 402.59 L23.2 402.94 L23.55 402.54 L23.9 402.59 L24.25 402.68 L24.6 402.34 L24.95 402.65 L25.3 402.77 L25.65 402.93 L26 402.32 L26.35 402.52 L26.7 402.35 L27.05 403.01 L27.4 402.92 L27.75 402.35 L28.1 403.21 L28.45 403.21 L28.8 402.95 L29.15 402.93 L29.5 402.54 L29.85 402.42 L30.2 402.9 L30.55 402.5 L30.9 402.63 L31.25 402.69 L31.6 402.52 L31.95 402.92 L32.3 402.92 L32.65 403.3 L33 403.02 L33.35 403.15 L33.7 403.04 L34.05 403.2 L34.4 403.03 L34.75 402.88 L35.1 403.55 L35.45 403.56 L35.8 403.44 L36.15 403.34 L36.5 403 L36.85 402.94 L37.2 403.01 L37.55 402.83 L37.9 403.47 L38.25 403.16 L38.6 403.57 L38.95 403.17 L39.3 403.71 L39.65 403.62 L40 402.88 L40.35 403.08 L40.7 403.73 L41.05 403.35 L41.4 403.82 L41.75 403.31 L42.1 403.04 L42.45 403.55 L42.8 403.7 L43.15 403.26 L43.5 403.11 L43.85 403.35 L44.2 403.94 L44.55 403.77 L44.9 403.21 L45.25 403.34 L45.6 403.22 L45.95 403.2 L46.3 403.47 L46.65 402.21 L47 401.86 L47.35 401.06 L47.7 399.99 L48.05 399.31 L48.4 397.61 L48.75 396.9 L49.1 395.26 L49.45 394.78 L49.8 393.83 L50.15 393.12 L50.5 392.99 L50.85 392.08 L51.2 390.87 L51.55 390.64 L51.9 389.27 L52.25 389.44 L52.6 390.17 L52.95 390.3 L53.3 390.12 L53.65 391.24 L54 390.85 L54.35 391.21 L54.7 391.99 L55.05 391.68 L55.4 391.46 L55.75 391.06 L56.1 390.88 L56.45 391.13 L56.8 390.62 L57.15 390.75 L57.5 390.35 L57.85 390.23 L58.2 390.5 L58.55 389.92 L58.9 389.86 L59.25 389.98 L59.6 389.21 L59.95 389.04 L60.3 389.57 L60.65 389.35 L61 388.69 L61.35 388.49 L61.7 388.84 L62.05 388.87 L62.4 388.05 L62.75 388.59 L63.1 388.38 L63.45 387.98 L63.8 387.67 L64.15 388.22 L64.5 388.99 L64.85 390.78 L65.2 391.14 L65.55 392.57 L65.9 393.17 L66.25 394.69 L66.6 395.5 L66.95 396.24 L67.3 397.14 L67.65 398.64 L68 399.06 L68.35 399.39 L68.7 399.88 L69.05 400.33 L69.4 400.31 L69.75 400.2 L70.1 400.96 L70.45 400.5 L70.8 400.52 L71.15 400.94 L71.5 401.29 L71.85 401.13 L72.2 401.38 L72.55 401.6 L72.9 401.83 L73.25 401.48 L73.6 401.74 L73.95 402.26 L74.3 402.39 L74.65 402.15 L75 402.23 L75.35 402.18 L75.7 401.82 L76.05 401.78 L76.4 401.81 L76.75 402.66 L77.1 402.52 L77.45 402.8 L77.8 402 L78.15 402.6 L78.5 402.51 L78.85 402.78 L79.2 402.46 L79.55 403.12 L79.9 402.34 L80.25 402.81 L80.6 403.03 L80.95 403.22 L81.3 403.1 L81.65 403.09 L82 403.18 L82.35 403.3 L82.7 402.81 L83.05 403.13 L83.4 403.33 L83.75 403.32 L84.1 402.93 L84.45 403.28 L84.8 403.36 L85.15 403.11 L85.5 403.17 L85.85 402.97 L86.2 403.16 L86.55 403.2 L86.9 402.74 L87.25 403.25 L87.6 403.59 L87.95 403.5 L88.3 403.38 L88.65 403.09 L89 403.41 L89.35 403.29 L89.7 403.17 L90.05 403.55 L90.4 402.88 L90.75 403.5 L91.1 402.86 L91.45 403.39 L91.8 403.3 L92.15 403.08 L92.5 403.52 L92.85 403.35 L93.2 403.47 L93.55 403.76 L93.9 403.18 L94.25 402.97 L94.6 403.25 L94.95 403.6 L95.3 403.19 L95.65 403.17 L96 403.85 L96.35 403.64 L96.7 403.46 L97.05 403.88 L97.4 403.38 L97.75 403.7 L98.1 403.3 L98.45 403.52 L98.8 403.87 L99.15 403.98 L99.5 403.97 L99.85 403.53 L100.2 403.73 L100.55 403.5 L100.9 403.35 L101.25 403.69 L101.6 404.01 L101.95 404.04 L102.3 403.92 L102.65 404.14 L103 403.53 L103.35 403.43 L103.7 403.69 L104.05 403.07 L104.4 402.37 L104.75 401.91 L105.1 401.46 L105.45 400.51 L105.8 399.28 L106.15 398.68 L106.5 397.73 L106.85 396.24 L107.2 395.2 L107.55 394.46 L107.9 394.52 L108.25 393.07 L108.6 392.97 L108.95 392.15 L109.3 391.22 L109.65 390.95 L110 390.41 L110.35 390.8 L110.7 391.38 L111.05 391.28 L111.4 392.29 L111.75 392.05 L112.1 392.25 L112.45 392.46 L112.8 393 L113.15 392.66 L113.5 392.64 L113.85 392.48 L114.2 392.44 L114.55 392.4 L114.9 391.97 L115.25 391.35 L115.6 391.42 L115.95 390.99 L116.3 390.71 L116.65 390.99 L117 391.07 L117.35 390.45 L117.7 390.4 L118.05 390.34 L118.4 390.52 L118.75 390.22 L119.1 390.17 L119.45 390.17 L119.8 389.7 L120.15 389.93 L120.5 389.9 L120.85 389.02 L121.2 389.65 L121.55 389.46 L121.9 389.69 L122.25 390.74 L122.6 391.8 L122.95 392.99 L123.3 393.44 L123.65 394.54 L124 395.75 L124.35 396.6 L124.7 397.66 L125.05 398.16 L125.4 399.26 L125.75 399.68 L126.1 400.32 L126.45 400.58 L126.8 400.59 L127.15 400.83 L127.5 400.55 L127.85 401.35 L128.2 401.59 L128.55 401.76 L128.9 401.54 L129.25 401.94 L129.6 401.69 L129.95 402.34 L130.3 402.34 L130.65 401.92 L131 401.73 L131.35 402.09 L131.7 402.24 L132.05 402.48 L132.4 402.27 L132.75 401.9 L133.1 402.64 L133.45 402.02 L133.8 402.72 L134.15 402.2 L134.5 402.39 L134.85 402.84 L135.2 402.3 L135.55 402.36 L135.9 402.73 L136.25 402.96 L136.6 403.11 L136.95 403.02 L137.3 403.29 L137.65 402.93 L138 403.38 L138.35 402.65 L138.7 402.81 L139.05 403.11 L139.4 402.91 L139.75 403.32 L140.1 403.25 L140.45 403.16 L140.8 403.46 L141.15 403.22 L141.5 403.01 L141.85 403.08 L142.2 403.52 L142.55 403.58 L142.9 402.97 L143.25 403.56 L143.6 403.68 L143.95 403.29 L144.3 403.35 L144.65 403.03 L145 403.34 L145.35 403.32 L145.7 403.43 L146.05 402.92 L146.4 403.78 L146.75 403.39 L147.1 403.3 L147.45 403.67 L147.8 403.47 L148.15 403.42 L148.5 403.61 L148.85 403.06 L149.2 403.5 L149.55 403.4 L149.9 403.9 L150.25 403.89 L150.6 403.31 L150.95 403.51 L151.3 403.21 L151.65 403.5 L152 403.85 L152.35 403.94 L152.7 403.58 L153.05 403.45 L153.4 403.34 L153.75 403.74 L154.1 404.03 L154.45 403.33 L154.8 403.93 L155.15 403.26 L155.5 403.43 L155.85 403.47 L156.2 403.9 L156.55 403.58 L156.9 403.62 L157.25 403.87 L157.6 403.42 L157.95 404 L158.3 403.47 L158.65 403.83 L159 403.61 L159.35 403.57 L159.7 403.89 L160.05 403.81 L160.4 403.75 L160.75 403.79 L161.1 403.89 L161.45 403.56 L161.8 403.6 L162.15 403.99 L162.5 403.99 L162.85 403.9 L163.2 403.63 L163.55 402.77 L163.9 402.35 L164.25 401.15 L164.6 400.72 L164.95 399.71 L165.3 398.72 L165.65 397.12 L166 396.15 L166.35 396 L166.7 394.66 L167.05 394.67 L167.4 393.87 L167.75 392.49 L168.1 391.89 L168.45 391.63 L168.8 390.51 L169.15 390.65 L169.5 391.6 L169.85 391.52 L170.2 392.15 L170.55 391.84 L170.9 392.38 L171.25 392.92 L171.6 392.61 L171.95 392.73 L172.3 392.98 L172.65 393.01 L173 392.88 L173.35 391.93 L173.7 392.1 L174.05 392.15 L174.4 391.74 L174.75 391.72 L175.1 391.12 L175.45 390.88 L175.8 390.78 L176.15 390.58 L176.5 390.91 L176.85 390.74 L177.2 390.65 L177.55 390.14 L177.9 390.04 L178.25 389.92 L178.6 390.36 L178.95 390.36 L179.3 390.17 L179.65 389.28 L180 389.12 L180.35 389.78 L180.7 389.47 L181.05 390.5 L181.4 390.88 L181.75 391.93 L182.1 392.9 L182.45 393.76 L182.8 394.84 L183.15 395.24 L183.5 396.79 L183.85 397.84 L184.2 398.18 L184.55 399.35 L184.9 400.32 L185.25 400.19 L185.6 400.18 L185.95 400.32 L186.3 400.81 L186.65 400.54 L187 401.5 L187.35 401.59 L187.7 401.68 L188.05 401.99 L188.4 401.96 L188.75 401.93 L189.1 402.2 L189.45 402.16 L189.8 402.64 L190.15 402.52 L190.5 402.07 L190.85 402.7 L191.2 402.6 L191.55 402.67 L191.9 402.75 L192.25 402.42 L192.6 402.91 L192.95 402.94 L193.3 402.81 L193.65 402.92 L194 402.96 L194.35 402.68 L194.7 403.01 L195.05 402.47 L195.4 402.76 L195.75 402.92 L196.1 402.55 L196.45 402.9 L196.8 403.2 L197.15 403.23 L197.5 402.92 L197.85 403.61 L198.2 403.37 L198.55 403.09 L198.9 403.39 L199.25 403.33 L199.6 403.31 L199.95 403.19 L200.3 403.75 L200.65 403.44 L201 403.51 L201.35 403.58 L201.7 403.79 L202.05 402.94 L202.4 403.49 L202.75 403.61 L203.1 403.19 L203.45 403.33 L203.8 403.03 L204.15 403.17 L204.5 403.35 L204.85 403.11 L205.2 403.26 L205.55 403.86 L205.9 403.56 L206.25 403.53 L206.6 403.96 L206.95 403.61 L207.3 404.01 L207.65 403.7 L208 403.87 L208.35 403.22 L208.7 403.7 L209.05 403.86 L209.4 403.23 L209.75 404.04 L210.1 403.36 L210.45 403.66 L210.8 403.4 L211.15 403.7 L211.5 403.82 L211.85 403.34 L212.2 404.15 L212.55 403.69 L212.9 403.8 L213.25 403.87 L213.6 403.68 L213.95 403.62 L214.3 403.97 L214.65 403.89 L215 403.66 L215.35 404.06 L215.7 403.69 L216.05 403.45 L216.4 403.67 L216.75 403.51 L217.1 403.62 L217.45 404.17 L217.8 403.86 L218.15 404.33 L218.5 404.21 L218.85 403.59 L219.2 404.44 L219.55 404.4" fill="none" stroke="#e8160c" stroke-width="1.7" stroke-linejoin="round"/>
<path d="M22.5 423.85 L22.85 424.06 L23.2 424.12 L23.55 423.7 L23.9 423.63 L24.25 424.01 L24.6 423.96 L24.95 424.5 L25.3 424.44 L25.65 424.41 L26 424.42 L26.35 424.56 L26.7 424.15 L27.05 424.46 L27.4 424.26 L27.75 424.98 L28.1 424.27 L28.45 425 L28.8 424.38 L29.15 424.98 L29.5 424.72 L29.85 424.83 L30.2 425.27 L30.55 424.58 L30.9 424.67 L31.25 425.48 L31.6 425.17 L31.95 424.84 L32.3 425.7 L32.65 425.71 L33 425.01 L33.35 425.34 L33.7 425.13 L34.05 425.34 L34.4 425.67 L34.75 425.3 L35.1 425.83 L35.45 425.3 L35.8 425.46 L36.15 426.09 L36.5 425.76 L36.85 425.83 L37.2 426.04 L37.55 425.98 L37.9 425.95 L38.25 425.68 L38.6 426.36 L38.95 426.62 L39.3 426.68 L39.65 426.45 L40 426.22 L40.35 426.28 L40.7 426.62 L41.05 426.66 L41.4 426.2 L41.75 426.36 L42.1 426.52 L42.45 426.71 L42.8 427.03 L43.15 426.8 L43.5 426.42 L43.85 427.19 L44.2 426.88 L44.55 427.01 L44.9 426.79 L45.25 427.03 L45.6 427.04 L45.95 427.44 L46.3 426.85 L46.65 427.26 L47 426.93 L47.35 427.06 L47.7 426.12 L48.05 426 L48.4 425.72 L48.75 425.64 L49.1 424.76 L49.45 424.76 L49.8 424.17 L50.15 423.87 L50.5 423.68 L50.85 423.75 L51.2 422.95 L51.55 423.02 L51.9 421.94 L52.25 422.26 L52.6 421.39 L52.95 420.86 L53.3 421 L53.65 420.88 L54 419.83 L54.35 419.83 L54.7 420.05 L55.05 419.43 L55.4 419.1 L55.75 418.66 L56.1 418.45 L56.45 418.75 L56.8 418.85 L57.15 418.64 L57.5 417.97 L57.85 417.31 L58.2 417.36 L58.55 417.55 L58.9 417.36 L59.25 416.97 L59.6 416.38 L59.95 416.42 L60.3 416.15 L60.65 416.06 L61 415.51 L61.35 415.91 L61.7 415.64 L62.05 414.75 L62.4 414.65 L62.75 414.95 L63.1 414.19 L63.45 414.57 L63.8 413.96 L64.15 413.9 L64.5 414.11 L64.85 414.21 L65.2 414.8 L65.55 416.18 L65.9 418.33 L66.25 420.09 L66.6 421.35 L66.95 423.78 L67.3 424.68 L67.65 424.71 L68 425.07 L68.35 425.76 L68.7 425.57 L69.05 425.82 L69.4 426.28 L69.75 426.51 L70.1 426.52 L70.45 426.4 L70.8 426.75 L71.15 427.15 L71.5 427.07 L71.85 426.9 L72.2 426.71 L72.55 426.75 L72.9 427.1 L73.25 426.96 L73.6 426.49 L73.95 427.13 L74.3 427.32 L74.65 427.25 L75 427.36 L75.35 427.39 L75.7 427.07 L76.05 427.32 L76.4 426.97 L76.75 426.73 L77.1 426.98 L77.45 426.96 L77.8 427.54 L78.15 427.34 L78.5 427.23 L78.85 427.32 L79.2 426.89 L79.55 427.28 L79.9 427.45 L80.25 427.19 L80.6 427.07 L80.95 427.24 L81.3 427.18 L81.65 427.53 L82 427.06 L82.35 427.03 L82.7 427.25 L83.05 427.61 L83.4 427.69 L83.75 427.62 L84.1 427.89 L84.45 427.39 L84.8 427.11 L85.15 427.54 L85.5 427.52 L85.85 427.3 L86.2 427.76 L86.55 427.48 L86.9 427.41 L87.25 427.51 L87.6 428.08 L87.95 427.26 L88.3 427.6 L88.65 427.54 L89 427.49 L89.35 427.72 L89.7 427.55 L90.05 428.19 L90.4 427.84 L90.75 428.03 L91.1 427.57 L91.45 427.86 L91.8 428.01 L92.15 428.24 L92.5 427.73 L92.85 427.93 L93.2 428.31 L93.55 428.31 L93.9 427.78 L94.25 428.08 L94.6 428.3 L94.95 427.99 L95.3 428.26 L95.65 428.27 L96 428.57 L96.35 428.21 L96.7 428.34 L97.05 428.06 L97.4 428.43 L97.75 428.08 L98.1 428.26 L98.45 428.15 L98.8 428.12 L99.15 427.99 L99.5 428.09 L99.85 428.39 L100.2 428.15 L100.55 427.98 L100.9 428.68 L101.25 428.23 L101.6 428.84 L101.95 428.55 L102.3 428.38 L102.65 428.83 L103 428.86 L103.35 428.34 L103.7 428.17 L104.05 428.64 L104.4 428.82 L104.75 428.38 L105.1 428.22 L105.45 427.56 L105.8 427.43 L106.15 426.79 L106.5 426.6 L106.85 426.23 L107.2 425.89 L107.55 425.56 L107.9 425.59 L108.25 424.67 L108.6 424.36 L108.95 424.06 L109.3 424.36 L109.65 423.62 L110 422.85 L110.35 423.21 L110.7 422.91 L111.05 422.57 L111.4 421.93 L111.75 422.05 L112.1 421.44 L112.45 421.07 L112.8 421.5 L113.15 421.25 L113.5 420.47 L113.85 420.86 L114.2 419.87 L114.55 419.92 L114.9 419.44 L115.25 419.37 L115.6 419.15 L115.95 419.43 L116.3 418.84 L116.65 418.53 L117 418.32 L117.35 418.22 L117.7 418.5 L118.05 418.06 L118.4 417.4 L118.75 417.71 L119.1 417.37 L119.45 417.08 L119.8 416.94 L120.15 416.84 L120.5 416.76 L120.85 416.28 L121.2 416.19 L121.55 415.83 L121.9 415.96 L122.25 416.23 L122.6 416.73 L122.95 417.79 L123.3 419.58 L123.65 420.8 L124 423 L124.35 424.22 L124.7 426.16 L125.05 426.18 L125.4 426.59 L125.75 426.51 L126.1 426.45 L126.45 426.61 L126.8 426.96 L127.15 427.26 L127.5 427.51 L127.85 427.04 L128.2 427.15 L128.55 427.34 L128.9 427.33 L129.25 427.32 L129.6 427.29 L129.95 427.51 L130.3 427.4 L130.65 427.93 L131 427.88 L131.35 428.21 L131.7 428.21 L132.05 428.03 L132.4 428.23 L132.75 427.41 L133.1 427.6 L133.45 428.24 L133.8 427.85 L134.15 427.61 L134.5 428.12 L134.85 427.83 L135.2 427.95 L135.55 427.76 L135.9 427.7 L136.25 427.58 L136.6 428.06 L136.95 428.38 L137.3 428.42 L137.65 428.23 L138 428.4 L138.35 427.89 L138.7 427.85 L139.05 428.42 L139.4 428.14 L139.75 428.22 L140.1 427.64 L140.45 427.84 L140.8 428.08 L141.15 428.32 L141.5 428.41 L141.85 428.36 L142.2 428 L142.55 428.05 L142.9 428.49 L143.25 428.62 L143.6 428.18 L143.95 427.93 L144.3 428.33 L144.65 428.26 L145 428.11 L145.35 428.01 L145.7 428.16 L146.05 428.37 L146.4 427.95 L146.75 428.33 L147.1 428.71 L147.45 428.54 L147.8 428.11 L148.15 428.27 L148.5 427.99 L148.85 428.58 L149.2 428.49 L149.55 428.09 L149.9 428.44 L150.25 428.5 L150.6 428.49 L150.95 428.32 L151.3 428.27 L151.65 428.33 L152 428.92 L152.35 428.33 L152.7 428.49 L153.05 428.47 L153.4 428.22 L153.75 428.44 L154.1 428.27 L154.45 428.39 L154.8 428.44 L155.15 428.44 L155.5 428.98 L155.85 428.41 L156.2 428.46 L156.55 428.76 L156.9 428.54 L157.25 428.65 L157.6 428.79 L157.95 428.28 L158.3 428.83 L158.65 428.33 L159 428.47 L159.35 428.99 L159.7 429.16 L160.05 428.89 L160.4 428.45 L160.75 428.69 L161.1 428.55 L161.45 429.06 L161.8 428.51 L162.15 428.48 L162.5 428.88 L162.85 428.88 L163.2 428.84 L163.55 428.7 L163.9 428.81 L164.25 428.04 L164.6 428.15 L164.95 427.34 L165.3 427.08 L165.65 426.66 L166 426.63 L166.35 426.32 L166.7 425.52 L167.05 425.44 L167.4 425.27 L167.75 424.73 L168.1 424.53 L168.45 424.15 L168.8 423.89 L169.15 423.23 L169.5 422.84 L169.85 422.24 L170.2 422.79 L170.55 422.47 L170.9 421.89 L171.25 422.19 L171.6 421.91 L171.95 421.01 L172.3 421.41 L172.65 420.82 L173 420.51 L173.35 420.24 L173.7 420.17 L174.05 419.63 L174.4 419.42 L174.75 419.26 L175.1 419.22 L175.45 418.87 L175.8 418.63 L176.15 419.06 L176.5 418.44 L176.85 418.33 L177.2 418.22 L177.55 418.3 L177.9 417.38 L178.25 417.25 L178.6 417.61 L178.95 417.44 L179.3 417.25 L179.65 416.67 L180 416.32 L180.35 415.95 L180.7 416.38 L181.05 416.54 L181.4 416.83 L181.75 417.53 L182.1 418.5 L182.45 420.36 L182.8 422.31 L183.15 423.2 L183.5 425.27 L183.85 425.88 L184.2 426.63 L184.55 426.81 L184.9 426.8 L185.25 426.79 L185.6 426.58 L185.95 427.18 L186.3 427.23 L186.65 427.44 L187 427.32 L187.35 428.25 L187.7 427.97 L188.05 428.02 L188.4 428.28 L188.75 428.34 L189.1 428.04 L189.45 428.05 L189.8 428.33 L190.15 427.91 L190.5 428.4 L190.85 427.62 L191.2 428.33 L191.55 428.1 L191.9 428.2 L192.25 428.54 L192.6 427.86 L192.95 428.04 L193.3 428.4 L193.65 428.37 L194 428.18 L194.35 428.42 L194.7 428.34 L195.05 428.52 L195.4 428.34 L195.75 428.09 L196.1 428.03 L196.45 427.86 L196.8 427.91 L197.15 427.85 L197.5 428.7 L197.85 427.96 L198.2 428.39 L198.55 427.98 L198.9 428.74 L199.25 428.36 L199.6 428.05 L199.95 428.65 L200.3 428.69 L200.65 428.81 L201 428.14 L201.35 428.31 L201.7 428.56 L202.05 428.23 L202.4 428.5 L202.75 428.63 L203.1 428.68 L203.45 428.76 L203.8 428.71 L204.15 428.3 L204.5 428.73 L204.85 428.45 L205.2 428.23 L205.55 428.11 L205.9 428.66 L206.25 428.43 L206.6 428.21 L206.95 428.57 L207.3 428.52 L207.65 428.45 L208 428.68 L208.35 428.66 L208.7 428.67 L209.05 429.09 L209.4 429.03 L209.75 428.5 L210.1 429.02 L210.45 428.53 L210.8 429.1 L211.15 428.32 L211.5 428.57 L211.85 429.13 L212.2 428.9 L212.55 428.95 L212.9 428.51 L213.25 428.45 L213.6 429.22 L213.95 428.42 L214.3 428.53 L214.65 428.78 L215 429.14 L215.35 429.02 L215.7 429.32 L216.05 429.14 L216.4 428.84 L216.75 429.28 L217.1 428.75 L217.45 428.53 L217.8 429.36 L218.15 429.3 L218.5 429.11 L218.85 428.96 L219.2 428.72 L219.55 428.75" fill="none" stroke="#e8160c" stroke-width="1.7" stroke-linejoin="round"/>
<path d="M22.5 451.61 L23 451.68 L23.5 451.73 L24 451.73 L24.5 451.69 L25 451.68 L25.5 451.7 L26 451.76 L26.5 451.81 L27 451.82 L27.5 451.84 L28 451.86 L28.5 451.88 L29 451.95 L29.5 452.02 L30 452 L30.5 451.96 L31 451.97 L31.5 452.04 L32 452.14 L32.5 452.2 L33 452.22 L33.5 452.25 L34 452.28 L34.5 452.31 L35 452.3 L35.5 452.28 L36 452.33 L36.5 452.36 L37 452.38 L37.5 452.39 L38 452.39 L38.5 452.4 L39 452.42 L39.5 452.43 L40 452.46 L40.5 452.56 L41 452.63 L41.5 452.66 L42 452.66 L42.5 452.66 L43 452.66 L43.5 452.66 L44 452.7 L44.5 452.71 L45 452.69 L45.5 452.61 L46 452.28 L46.5 451.54 L47 450.49 L47.5 449.25 L48 447.86 L48.5 446.37 L49 444.83 L49.5 443.22 L50 441.68 L50.5 440.34 L51 439.29 L51.5 438.46 L52 437.86 L52.5 437.39 L53 437.08 L53.5 437.11 L54 437.36 L54.5 437.72 L55 438.29 L55.5 438.95 L56 439.43 L56.5 439.6 L57 439.57 L57.5 439.49 L58 439.43 L58.5 439.32 L59 439.14 L59.5 438.97 L60 438.87 L60.5 438.78 L61 438.69 L61.5 438.62 L62 438.61 L62.5 438.56 L63 438.49 L63.5 438.54 L64 438.83 L64.5 439.39 L65 440.19 L65.5 441.27 L66 442.55 L66.5 443.9 L67 445.25 L67.5 446.53 L68 447.58 L68.5 448.22 L69 448.62 L69.5 448.96 L70 449.32 L70.5 449.65 L71 449.93 L71.5 450.18 L72 450.43 L72.5 450.6 L73 450.67 L73.5 450.78 L74 450.92 L74.5 450.96 L75 451 L75.5 451.1 L76 451.18 L76.5 451.23 L77 451.32 L77.5 451.43 L78 451.5 L78.5 451.53 L79 451.6 L79.5 451.74 L80 451.83 L80.5 451.83 L81 451.83 L81.5 451.83 L82 451.79 L82.5 451.76 L83 451.83 L83.5 451.91 L84 451.88 L84.5 451.85 L85 451.88 L85.5 451.9 L86 451.86 L86.5 451.85 L87 451.84 L87.5 451.82 L88 451.82 L88.5 451.83 L89 451.82 L89.5 451.82 L90 451.83 L90.5 451.86 L91 451.92 L91.5 451.91 L92 451.88 L92.5 451.9 L93 451.9 L93.5 451.91 L94 451.93 L94.5 451.91 L95 451.9 L95.5 451.9 L96 451.92 L96.5 451.95 L97 451.95 L97.5 451.96 L98 451.94 L98.5 451.92 L99 451.92 L99.5 451.89 L100 451.9 L100.5 451.94 L101 452 L101.5 452.06 L102 452.05 L102.5 451.98 L103 451.91 L103.5 451.73 L104 451.28 L104.5 450.52 L105 449.57 L105.5 448.46 L106 447.22 L106.5 445.96 L107 444.73 L107.5 443.49 L108 442.31 L108.5 441.34 L109 440.6 L109.5 440.01 L110 439.55 L110.5 439.22 L111 439.18 L111.5 439.37 L112 439.7 L112.5 440.13 L113 440.62 L113.5 441.02 L114 441.29 L114.5 441.39 L115 441.38 L115.5 441.25 L116 441.05 L116.5 440.93 L117 440.89 L117.5 440.84 L118 440.74 L118.5 440.67 L119 440.65 L119.5 440.56 L120 440.45 L120.5 440.38 L121 440.44 L121.5 440.64 L122 441.01 L122.5 441.65 L123 442.54 L123.5 443.55 L124 444.62 L124.5 445.72 L125 446.82 L125.5 447.78 L126 448.43 L126.5 448.83 L127 449.13 L127.5 449.35 L128 449.64 L128.5 449.96 L129 450.18 L129.5 450.38 L130 450.58 L130.5 450.66 L131 450.67 L131.5 450.72 L132 450.83 L132.5 450.95 L133 451.06 L133.5 451.11 L134 451.21 L134.5 451.29 L135 451.34 L135.5 451.44 L136 451.5 L136.5 451.5 L137 451.54 L137.5 451.63 L138 451.72 L138.5 451.7 L139 451.66 L139.5 451.68 L140 451.7 L140.5 451.7 L141 451.71 L141.5 451.73 L142 451.76 L142.5 451.74 L143 451.73 L143.5 451.78 L144 451.82 L144.5 451.86 L145 451.86 L145.5 451.87 L146 451.88 L146.5 451.87 L147 451.9 L147.5 451.91 L148 451.92 L148.5 451.93 L149 451.91 L149.5 451.92 L150 451.94 L150.5 451.95 L151 451.91 L151.5 451.9 L152 451.98 L152.5 452.03 L153 452 L153.5 452 L154 452.02 L154.5 452.01 L155 452 L155.5 452 L156 452.05 L156.5 452.1 L157 452.07 L157.5 452.03 L158 452.05 L158.5 452.11 L159 452.16 L159.5 452.2 L160 452.17 L160.5 452.14 L161 452.2 L161.5 452.25 L162 452.24 L162.5 452.11 L163 451.77 L163.5 451.09 L164 450.2 L164.5 449.13 L165 447.99 L165.5 446.81 L166 445.61 L166.5 444.32 L167 443.09 L167.5 442.09 L168 441.33 L168.5 440.7 L169 440.24 L169.5 439.86 L170 439.66 L170.5 439.72 L171 439.96 L171.5 440.33 L172 440.83 L172.5 441.31 L173 441.65 L173.5 441.79 L174 441.76 L174.5 441.69 L175 441.63 L175.5 441.49 L176 441.32 L176.5 441.2 L177 441.14 L177.5 441.12 L178 441.12 L178.5 441.11 L179 441.06 L179.5 440.96 L180 440.93 L180.5 441.05 L181 441.3 L181.5 441.72 L182 442.39 L182.5 443.32 L183 444.39 L183.5 445.55 L184 446.68 L184.5 447.66 L185 448.44 L185.5 448.9 L186 449.23 L186.5 449.52 L187 449.72 L187.5 449.92 L188 450.18 L188.5 450.42 L189 450.64 L189.5 450.76 L190 450.83 L190.5 450.91 L191 451.01 L191.5 451.05 L192 451.12 L192.5 451.26 L193 451.37 L193.5 451.43 L194 451.49 L194.5 451.56 L195 451.65 L195.5 451.68 L196 451.66 L196.5 451.7 L197 451.81 L197.5 451.86 L198 451.88 L198.5 451.89 L199 451.87 L199.5 451.89 L200 451.9 L200.5 451.88 L201 451.88 L201.5 451.9 L202 451.94 L202.5 451.99 L203 452 L203.5 451.99 L204 451.98 L204.5 451.97 L205 451.98 L205.5 452.01 L206 452.08 L206.5 452.1 L207 452.07 L207.5 452.06 L208 452.04 L208.5 452.02 L209 452.03 L209.5 452.05 L210 452.07 L210.5 452.13 L211 452.15 L211.5 452.15 L212 452.16 L212.5 452.13 L213 452.13 L213.5 452.13 L214 452.15 L214.5 452.2 L215 452.16 L215.5 452.17 L216 452.27 L216.5 452.3 L217 452.26 L217.5 452.23 L218 452.2 L218.5 452.21 L219 452.25 L219.5 452.25" fill="none" stroke="#e8160c" stroke-width="1.05" stroke-linejoin="round"/>
<path d="M22.5 473.39 L23 473.52 L23.5 473.62 L24 473.66 L24.5 473.65 L25 473.69 L25.5 473.79 L26 473.85 L26.5 473.87 L27 473.93 L27.5 474 L28 474.04 L28.5 474.04 L29 474.11 L29.5 474.22 L30 474.24 L30.5 474.28 L31 474.39 L31.5 474.42 L32 474.43 L32.5 474.51 L33 474.57 L33.5 474.6 L34 474.65 L34.5 474.68 L35 474.71 L35.5 474.76 L36 474.85 L36.5 474.97 L37 475.04 L37.5 475.09 L38 475.13 L38.5 475.18 L39 475.27 L39.5 475.28 L40 475.28 L40.5 475.36 L41 475.42 L41.5 475.41 L42 475.48 L42.5 475.6 L43 475.63 L43.5 475.64 L44 475.69 L44.5 475.77 L45 475.86 L45.5 475.89 L46 475.92 L46.5 475.99 L47 472.96 L47.5 469.92 L48 466.94 L48.5 463.98 L49 460.97 L49.5 459.92 L50 458.87 L50.5 458.41 L51 458.76 L51.5 459.07 L52 459.37 L52.5 459.68 L53 460 L53.5 460.28 L54 460.56 L54.5 460.86 L55 461.19 L55.5 461.55 L56 461.85 L56.5 462.05 L57 462.34 L57.5 462.71 L58 462.99 L58.5 463.1 L59 463.31 L59.5 463.5 L60 463.59 L60.5 463.71 L61 463.9 L61.5 464.06 L62 464.15 L62.5 464.25 L63 464.41 L63.5 464.59 L64 464.73 L64.5 464.85 L65 464.97 L65.5 465.1 L66 465.3 L66.5 465.52 L67 465.64 L67.5 465.76 L68 465.93 L68.5 466.04 L69 466.13 L69.5 466.26 L70 466.41 L70.5 466.58 L71 466.77 L71.5 466.96 L72 467.08 L72.5 467.21 L73 467.42 L73.5 467.59 L74 467.72 L74.5 467.86 L75 468 L75.5 468.16 L76 468.34 L76.5 468.52 L77 468.66 L77.5 468.79 L78 468.93 L78.5 469.05 L79 469.21 L79.5 469.4 L80 469.55 L80.5 469.6 L81 469.68 L81.5 469.78 L82 469.84 L82.5 469.9 L83 470.01 L83.5 470.07 L84 470.1 L84.5 470.15 L85 470.22 L85.5 470.33 L86 470.44 L86.5 470.49 L87 470.56 L87.5 470.68 L88 470.77 L88.5 470.86 L89 470.94 L89.5 470.99 L90 471.06 L90.5 471.13 L91 471.18 L91.5 471.25 L92 471.36 L92.5 471.47 L93 471.55 L93.5 471.63 L94 471.71 L94.5 471.82 L95 471.91 L95.5 471.98 L96 472.1 L96.5 472.17 L97 472.19 L97.5 472.23 L98 472.31 L98.5 472.41 L99 472.53 L99.5 472.67 L100 472.73 L100.5 472.74 L101 472.86 L101.5 472.99 L102 473.01 L102.5 473.23 L103 473.52 L103.5 473.79 L104 474.08 L104.5 472.76 L105 471.42 L105.5 470.05 L106 469.49 L106.5 469 L107 468.47 L107.5 467.94 L108 468.08 L108.5 468.2 L109 468.28 L109.5 468.43 L110 468.59 L110.5 468.68 L111 468.77 L111.5 468.89 L112 469.03 L112.5 469.11 L113 469.22 L113.5 469.3 L114 469.38 L114.5 469.51 L115 469.63 L115.5 469.77 L116 469.9 L116.5 470 L117 470.06 L117.5 470.11 L118 470.18 L118.5 470.3 L119 470.41 L119.5 470.45 L120 470.56 L120.5 470.75 L121 470.88 L121.5 470.92 L122 470.96 L122.5 470.99 L123 471.02 L123.5 471.06 L124 471.09 L124.5 471.08 L125 471.13 L125.5 471.23 L126 471.28 L126.5 471.31 L127 471.38 L127.5 471.44 L128 471.43 L128.5 471.4 L129 471.46 L129.5 471.57 L130 471.62 L130.5 471.64 L131 471.67 L131.5 471.68 L132 471.71 L132.5 471.77 L133 471.85 L133.5 471.93 L134 471.93 L134.5 471.97 L135 472.08 L135.5 472.1 L136 472.1 L136.5 472.19 L137 472.27 L137.5 472.32 L138 472.36 L138.5 472.36 L139 472.39 L139.5 472.48 L140 472.54 L140.5 472.56 L141 472.55 L141.5 472.61 L142 472.68 L142.5 472.72 L143 472.76 L143.5 472.82 L144 472.87 L144.5 472.89 L145 472.95 L145.5 473.01 L146 473 L146.5 473.02 L147 473.08 L147.5 473.14 L148 473.2 L148.5 473.26 L149 473.32 L149.5 473.33 L150 473.33 L150.5 473.41 L151 473.48 L151.5 473.52 L152 473.55 L152.5 473.61 L153 473.66 L153.5 473.68 L154 473.71 L154.5 473.72 L155 473.75 L155.5 473.77 L156 473.83 L156.5 473.95 L157 474.02 L157.5 474.02 L158 474.04 L158.5 474.11 L159 474.15 L159.5 474.18 L160 474.23 L160.5 474.32 L161 474.35 L161.5 474.37 L162 474.47 L162.5 474.53 L163 474.49 L163.5 473.26 L164 472.14 L164.5 471.02 L165 470.72 L165.5 470.46 L166 470.24 L166.5 470.12 L167 470.22 L167.5 470.27 L168 470.35 L168.5 470.44 L169 470.51 L169.5 470.62 L170 470.72 L170.5 470.82 L171 470.88 L171.5 470.92 L172 471.05 L172.5 471.14 L173 471.17 L173.5 471.24 L174 471.31 L174.5 471.42 L175 471.53 L175.5 471.54 L176 471.55 L176.5 471.6 L177 471.69 L177.5 471.76 L178 471.76 L178.5 471.76 L179 471.8 L179.5 471.83 L180 471.87 L180.5 471.94 L181 471.99 L181.5 472 L182 472.03 L182.5 472.09 L183 472.1 L183.5 472.13 L184 472.24 L184.5 472.32 L185 472.34 L185.5 472.37 L186 472.37 L186.5 472.38 L187 472.47 L187.5 472.57 L188 472.61 L188.5 472.59 L189 472.57 L189.5 472.6 L190 472.61 L190.5 472.65 L191 472.72 L191.5 472.76 L192 472.8 L192.5 472.89 L193 473 L193.5 473.07 L194 473.09 L194.5 473.06 L195 473.08 L195.5 473.17 L196 473.19 L196.5 473.22 L197 473.29 L197.5 473.35 L198 473.41 L198.5 473.46 L199 473.46 L199.5 473.47 L200 473.53 L200.5 473.57 L201 473.57 L201.5 473.56 L202 473.56 L202.5 473.58 L203 473.64 L203.5 473.71 L204 473.69 L204.5 473.7 L205 473.76 L205.5 473.76 L206 473.76 L206.5 473.79 L207 473.81 L207.5 473.85 L208 473.95 L208.5 473.99 L209 474.01 L209.5 474.06 L210 474.06 L210.5 474.08 L211 474.13 L211.5 474.15 L212 474.2 L212.5 474.21 L213 474.2 L213.5 474.25 L214 474.28 L214.5 474.32 L215 474.38 L215.5 474.36 L216 474.32 L216.5 474.36 L217 474.45 L217.5 474.49 L218 474.52 L218.5 474.58 L219 474.64 L219.5 474.68" fill="none" stroke="#e8160c" stroke-width="1.05" stroke-linejoin="round"/>
<path d="M22.5 492.82 L23 492.82 L23.5 492.88 L24 492.98 L24.5 493.05 L25 493.11 L25.5 493.21 L26 493.32 L26.5 493.4 L27 493.45 L27.5 493.45 L28 493.5 L28.5 493.6 L29 493.63 L29.5 493.67 L30 493.77 L30.5 493.92 L31 494.02 L31.5 494.05 L32 494.09 L32.5 494.18 L33 494.22 L33.5 494.25 L34 494.32 L34.5 494.38 L35 494.44 L35.5 494.53 L36 494.62 L36.5 494.72 L37 494.83 L37.5 494.87 L38 494.92 L38.5 495.04 L39 495.12 L39.5 495.16 L40 495.2 L40.5 495.19 L41 495.22 L41.5 495.35 L42 495.49 L42.5 495.58 L43 495.61 L43.5 495.64 L44 495.73 L44.5 495.82 L45 495.81 L45.5 495.83 L46 495.92 L46.5 495.93 L47 495.92 L47.5 495.83 L48 495.74 L48.5 495.66 L49 495.61 L49.5 495.59 L50 495.49 L50.5 495.26 L51 495.11 L51.5 494.97 L52 494.79 L52.5 494.61 L53 494.4 L53.5 492.89 L54 491.44 L54.5 490.04 L55 485.06 L55.5 481.77 L56 485.62 L56.5 489.3 L57 492.67 L57.5 494.51 L58 495.29 L58.5 495.3 L59 495.27 L59.5 495.32 L60 495.46 L60.5 495.53 L61 495.51 L61.5 495.56 L62 495.66 L62.5 495.72 L63 495.69 L63.5 495.74 L64 495.87 L64.5 495.93 L65 495.97 L65.5 496.05 L66 496.11 L66.5 496.13 L67 496.13 L67.5 496.14 L68 496.19 L68.5 496.3 L69 496.39 L69.5 496.43 L70 496.48 L70.5 496.54 L71 496.58 L71.5 496.57 L72 496.58 L72.5 496.64 L73 496.7 L73.5 496.73 L74 496.7 L74.5 496.65 L75 496.68 L75.5 496.7 L76 496.71 L76.5 496.73 L77 496.72 L77.5 496.77 L78 496.85 L78.5 496.87 L79 496.91 L79.5 496.91 L80 496.87 L80.5 496.89 L81 496.95 L81.5 496.97 L82 496.94 L82.5 496.91 L83 496.97 L83.5 497.07 L84 497.08 L84.5 497.06 L85 497.11 L85.5 497.13 L86 497.14 L86.5 497.17 L87 497.12 L87.5 497.11 L88 497.18 L88.5 497.25 L89 497.27 L89.5 497.29 L90 497.33 L90.5 497.34 L91 497.33 L91.5 497.32 L92 497.35 L92.5 497.37 L93 497.42 L93.5 497.49 L94 497.49 L94.5 497.49 L95 497.51 L95.5 497.53 L96 497.51 L96.5 497.51 L97 497.56 L97.5 497.57 L98 497.56 L98.5 497.6 L99 497.62 L99.5 497.63 L100 497.7 L100.5 497.74 L101 497.74 L101.5 497.8 L102 497.85 L102.5 497.82 L103 497.79 L103.5 497.61 L104 497.46 L104.5 497.38 L105 497.29 L105.5 497.14 L106 497.04 L106.5 496.95 L107 496.79 L107.5 496.63 L108 496.51 L108.5 496.4 L109 496.32 L109.5 496.24 L110 496.11 L110.5 495.99 L111 495.87 L111.5 495.69 L112 495.56 L112.5 495.65 L113 495.68 L113.5 495.73 L114 495.83 L114.5 495.91 L115 495.95 L115.5 495.99 L116 496.05 L116.5 496.1 L117 496.16 L117.5 496.22 L118 496.28 L118.5 496.32 L119 496.4 L119.5 496.52 L120 496.57 L120.5 496.55 L121 496.56 L121.5 496.53 L122 496.58 L122.5 496.64 L123 496.64 L123.5 496.71 L124 496.78 L124.5 496.77 L125 496.72 L125.5 496.71 L126 496.76 L126.5 496.84 L127 496.88 L127.5 496.9 L128 496.92 L128.5 496.94 L129 496.98 L129.5 496.99 L130 497 L130.5 497.06 L131 497.07 L131.5 497.1 L132 497.16 L132.5 497.16 L133 497.14 L133.5 497.13 L134 497.16 L134.5 497.24 L135 497.28 L135.5 497.31 L136 497.34 L136.5 497.35 L137 497.36 L137.5 497.4 L138 497.4 L138.5 497.41 L139 497.5 L139.5 497.52 L140 497.5 L140.5 497.55 L141 497.55 L141.5 497.52 L142 497.56 L142.5 497.59 L143 497.56 L143.5 497.56 L144 497.54 L144.5 497.57 L145 497.67 L145.5 497.72 L146 497.7 L146.5 497.68 L147 497.65 L147.5 497.66 L148 497.7 L148.5 497.74 L149 497.74 L149.5 497.72 L150 497.73 L150.5 497.74 L151 497.79 L151.5 497.83 L152 497.81 L152.5 497.76 L153 497.79 L153.5 497.84 L154 497.83 L154.5 497.8 L155 497.77 L155.5 497.75 L156 497.8 L156.5 497.85 L157 497.86 L157.5 497.86 L158 497.86 L158.5 497.91 L159 497.93 L159.5 497.89 L160 497.87 L160.5 497.9 L161 497.92 L161.5 497.91 L162 497.95 L162.5 498.04 L163 498.05 L163.5 497.82 L164 497.66 L164.5 497.55 L165 497.4 L165.5 497.2 L166 497.02 L166.5 496.93 L167 496.81 L167.5 496.68 L168 496.55 L168.5 496.39 L169 496.23 L169.5 496.11 L170 495.97 L170.5 496.01 L171 496.08 L171.5 496.15 L172 496.22 L172.5 496.25 L173 496.27 L173.5 496.33 L174 496.44 L174.5 496.5 L175 496.48 L175.5 496.51 L176 496.64 L176.5 496.74 L177 496.77 L177.5 496.78 L178 496.77 L178.5 496.82 L179 496.92 L179.5 496.94 L180 496.96 L180.5 496.98 L181 496.98 L181.5 497.02 L182 497.1 L182.5 497.13 L183 497.1 L183.5 497.08 L184 497.13 L184.5 497.17 L185 497.14 L185.5 497.13 L186 497.21 L186.5 497.31 L187 497.36 L187.5 497.33 L188 497.27 L188.5 497.27 L189 497.3 L189.5 497.36 L190 497.41 L190.5 497.42 L191 497.45 L191.5 497.46 L192 497.46 L192.5 497.44 L193 497.46 L193.5 497.55 L194 497.62 L194.5 497.65 L195 497.66 L195.5 497.66 L196 497.64 L196.5 497.6 L197 497.61 L197.5 497.65 L198 497.68 L198.5 497.75 L199 497.77 L199.5 497.75 L200 497.8 L200.5 497.84 L201 497.82 L201.5 497.76 L202 497.75 L202.5 497.82 L203 497.88 L203.5 497.87 L204 497.89 L204.5 497.94 L205 497.95 L205.5 497.97 L206 497.99 L206.5 498.01 L207 498.07 L207.5 498.09 L208 498.1 L208.5 498.12 L209 498.1 L209.5 498.1 L210 498.18 L210.5 498.2 L211 498.13 L211.5 498.12 L212 498.13 L212.5 498.16 L213 498.22 L213.5 498.23 L214 498.23 L214.5 498.28 L215 498.31 L215.5 498.31 L216 498.36 L216.5 498.42 L217 498.47 L217.5 498.51 L218 498.49 L218.5 498.43 L219 498.39 L219.5 498.43" fill="none" stroke="#e8160c" stroke-width="1.05" stroke-linejoin="round"/>
<path d="M22.5 524.67 L23 524.68 L23.5 524.69 L24 524.68 L24.5 524.7 L25 524.7 L25.5 524.69 L26 524.67 L26.5 524.64 L27 524.64 L27.5 524.65 L28 524.66 L28.5 524.7 L29 524.71 L29.5 524.75 L30 524.76 L30.5 524.72 L31 524.75 L31.5 524.77 L32 524.71 L32.5 524.65 L33 524.67 L33.5 524.7 L34 524.67 L34.5 524.64 L35 524.65 L35.5 524.68 L36 524.71 L36.5 524.69 L37 524.69 L37.5 524.74 L38 524.75 L38.5 524.67 L39 524.66 L39.5 524.75 L40 524.79 L40.5 524.76 L41 524.7 L41.5 524.65 L42 524.63 L42.5 524.65 L43 524.66 L43.5 524.66 L44 524.71 L44.5 524.71 L45 524.68 L45.5 524.71 L46 524.6 L46.5 524.16 L47 523.26 L47.5 522.06 L48 520.72 L48.5 519.38 L49 518 L49.5 516.59 L50 515.21 L50.5 513.84 L51 512.46 L51.5 511.14 L52 509.95 L52.5 508.95 L53 508.23 L53.5 507.94 L54 508.16 L54.5 508.68 L55 509.26 L55.5 509.82 L56 510.37 L56.5 510.87 L57 511.38 L57.5 511.94 L58 512.48 L58.5 512.96 L59 513.37 L59.5 513.6 L60 513.7 L60.5 513.85 L61 514.02 L61.5 514.1 L62 514.16 L62.5 514.28 L63 514.39 L63.5 514.57 L64 514.93 L64.5 515.5 L65 516.13 L65.5 516.75 L66 517.47 L66.5 518.27 L67 519.09 L67.5 519.95 L68 520.79 L68.5 521.44 L69 521.91 L69.5 522.26 L70 522.56 L70.5 522.86 L71 523.11 L71.5 523.27 L72 523.4 L72.5 523.56 L73 523.67 L73.5 523.7 L74 523.74 L74.5 523.85 L75 523.92 L75.5 523.95 L76 524.02 L76.5 524.08 L77 524.05 L77.5 524.03 L78 524.08 L78.5 524.19 L79 524.28 L79.5 524.29 L80 524.27 L80.5 524.27 L81 524.28 L81.5 524.32 L82 524.34 L82.5 524.33 L83 524.38 L83.5 524.45 L84 524.44 L84.5 524.43 L85 524.45 L85.5 524.46 L86 524.47 L86.5 524.48 L87 524.45 L87.5 524.44 L88 524.49 L88.5 524.54 L89 524.53 L89.5 524.5 L90 524.52 L90.5 524.58 L91 524.55 L91.5 524.49 L92 524.48 L92.5 524.52 L93 524.56 L93.5 524.57 L94 524.54 L94.5 524.54 L95 524.58 L95.5 524.63 L96 524.62 L96.5 524.58 L97 524.6 L97.5 524.61 L98 524.61 L98.5 524.64 L99 524.62 L99.5 524.62 L100 524.66 L100.5 524.72 L101 524.71 L101.5 524.66 L102 524.7 L102.5 524.76 L103 524.77 L103.5 524.75 L104 524.62 L104.5 524.28 L105 523.55 L105.5 522.55 L106 521.45 L106.5 520.37 L107 519.23 L107.5 518.09 L108 516.97 L108.5 515.84 L109 514.73 L109.5 513.66 L110 512.64 L110.5 511.72 L111 511.15 L111.5 511.02 L112 511.21 L112.5 511.59 L113 512.08 L113.5 512.51 L114 512.89 L114.5 513.33 L115 513.86 L115.5 514.33 L116 514.75 L116.5 515.15 L117 515.38 L117.5 515.52 L118 515.64 L118.5 515.71 L119 515.78 L119.5 515.87 L120 515.97 L120.5 516.11 L121 516.3 L121.5 516.52 L122 516.79 L122.5 517.18 L123 517.65 L123.5 518.2 L124 518.84 L124.5 519.47 L125 520.1 L125.5 520.77 L126 521.44 L126.5 522.05 L127 522.46 L127.5 522.7 L128 522.9 L128.5 523.13 L129 523.37 L129.5 523.56 L130 523.72 L130.5 523.84 L131 523.9 L131.5 523.97 L132 523.97 L132.5 523.99 L133 524.06 L133.5 524.09 L134 524.11 L134.5 524.16 L135 524.2 L135.5 524.16 L136 524.13 L136.5 524.18 L137 524.28 L137.5 524.36 L138 524.4 L138.5 524.42 L139 524.43 L139.5 524.46 L140 524.47 L140.5 524.47 L141 524.46 L141.5 524.48 L142 524.53 L142.5 524.55 L143 524.53 L143.5 524.51 L144 524.5 L144.5 524.53 L145 524.55 L145.5 524.56 L146 524.58 L146.5 524.55 L147 524.55 L147.5 524.55 L148 524.51 L148.5 524.5 L149 524.52 L149.5 524.55 L150 524.57 L150.5 524.55 L151 524.54 L151.5 524.62 L152 524.67 L152.5 524.63 L153 524.58 L153.5 524.61 L154 524.66 L154.5 524.66 L155 524.63 L155.5 524.62 L156 524.68 L156.5 524.7 L157 524.64 L157.5 524.64 L158 524.7 L158.5 524.76 L159 524.72 L159.5 524.62 L160 524.64 L160.5 524.72 L161 524.74 L161.5 524.75 L162 524.74 L162.5 524.72 L163 524.71 L163.5 524.64 L164 524.29 L164.5 523.58 L165 522.67 L165.5 521.64 L166 520.64 L166.5 519.65 L167 518.6 L167.5 517.47 L168 516.31 L168.5 515.21 L169 514.15 L169.5 513.17 L170 512.32 L170.5 511.69 L171 511.34 L171.5 511.36 L172 511.67 L172.5 512.15 L173 512.64 L173.5 513.11 L174 513.53 L174.5 513.98 L175 514.46 L175.5 514.85 L176 515.19 L176.5 515.47 L177 515.66 L177.5 515.82 L178 515.97 L178.5 516.04 L179 516.11 L179.5 516.23 L180 516.31 L180.5 516.37 L181 516.52 L181.5 516.81 L182 517.2 L182.5 517.67 L183 518.23 L183.5 518.87 L184 519.54 L184.5 520.16 L185 520.75 L185.5 521.37 L186 521.95 L186.5 522.47 L187 522.86 L187.5 523.06 L188 523.17 L188.5 523.36 L189 523.59 L189.5 523.76 L190 523.88 L190.5 523.91 L191 523.9 L191.5 523.96 L192 524.08 L192.5 524.15 L193 524.14 L193.5 524.13 L194 524.18 L194.5 524.22 L195 524.2 L195.5 524.21 L196 524.25 L196.5 524.27 L197 524.25 L197.5 524.3 L198 524.42 L198.5 524.43 L199 524.43 L199.5 524.47 L200 524.49 L200.5 524.5 L201 524.47 L201.5 524.4 L202 524.4 L202.5 524.43 L203 524.5 L203.5 524.56 L204 524.52 L204.5 524.5 L205 524.53 L205.5 524.53 L206 524.53 L206.5 524.57 L207 524.57 L207.5 524.53 L208 524.51 L208.5 524.53 L209 524.62 L209.5 524.67 L210 524.63 L210.5 524.58 L211 524.59 L211.5 524.58 L212 524.54 L212.5 524.58 L213 524.65 L213.5 524.67 L214 524.63 L214.5 524.6 L215 524.65 L215.5 524.68 L216 524.63 L216.5 524.64 L217 524.69 L217.5 524.67 L218 524.68 L218.5 524.74 L219 524.73 L219.5 524.67" fill="none" stroke="#e8160c" stroke-width="1.05" stroke-linejoin="round"/>
<path d="M22.5 545.42 L23 545.47 L23.5 545.46 L24 545.42 L24.5 545.43 L25 545.45 L25.5 545.41 L26 545.33 L26.5 545.31 L27 545.37 L27.5 545.41 L28 545.39 L28.5 545.37 L29 545.4 L29.5 545.46 L30 545.47 L30.5 545.44 L31 545.43 L31.5 545.4 L32 545.43 L32.5 545.44 L33 545.39 L33.5 545.41 L34 545.45 L34.5 545.44 L35 545.39 L35.5 545.41 L36 545.46 L36.5 545.43 L37 545.36 L37.5 545.36 L38 545.43 L38.5 545.45 L39 545.44 L39.5 545.41 L40 545.43 L40.5 545.48 L41 545.44 L41.5 545.36 L42 545.33 L42.5 545.35 L43 545.39 L43.5 545.43 L44 545.44 L44.5 545.43 L45 545.45 L45.5 545.44 L46 545.25 L46.5 544.83 L47 543.98 L47.5 542.76 L48 541.37 L48.5 540.05 L49 538.73 L49.5 537.36 L50 535.99 L50.5 534.62 L51 533.19 L51.5 531.83 L52 530.66 L52.5 529.68 L53 528.94 L53.5 528.66 L54 528.89 L54.5 529.32 L55 529.84 L55.5 530.41 L56 531.03 L56.5 531.6 L57 532.14 L57.5 532.72 L58 533.29 L58.5 533.76 L59 534.03 L59.5 534.24 L60 534.46 L60.5 534.57 L61 534.61 L61.5 534.75 L62 534.9 L62.5 535.01 L63 535.18 L63.5 535.43 L64 535.73 L64.5 536.17 L65 536.75 L65.5 537.42 L66 538.16 L66.5 538.95 L67 539.82 L67.5 540.7 L68 541.51 L68.5 542.23 L69 542.79 L69.5 543.1 L70 543.31 L70.5 543.53 L71 543.74 L71.5 544 L72 544.23 L72.5 544.35 L73 544.39 L73.5 544.4 L74 544.45 L74.5 544.53 L75 544.57 L75.5 544.61 L76 544.63 L76.5 544.64 L77 544.72 L77.5 544.8 L78 544.83 L78.5 544.85 L79 544.9 L79.5 544.95 L80 544.99 L80.5 545.04 L81 545.13 L81.5 545.13 L82 545.08 L82.5 545.06 L83 545.07 L83.5 545.07 L84 545.09 L84.5 545.15 L85 545.17 L85.5 545.18 L86 545.2 L86.5 545.18 L87 545.2 L87.5 545.25 L88 545.23 L88.5 545.21 L89 545.23 L89.5 545.28 L90 545.27 L90.5 545.21 L91 545.21 L91.5 545.25 L92 545.26 L92.5 545.24 L93 545.23 L93.5 545.27 L94 545.32 L94.5 545.33 L95 545.3 L95.5 545.29 L96 545.31 L96.5 545.32 L97 545.29 L97.5 545.25 L98 545.31 L98.5 545.41 L99 545.42 L99.5 545.39 L100 545.38 L100.5 545.34 L101 545.33 L101.5 545.39 L102 545.39 L102.5 545.35 L103 545.39 L103.5 545.45 L104 545.35 L104.5 544.96 L105 544.19 L105.5 543.26 L106 542.16 L106.5 540.99 L107 539.92 L107.5 538.83 L108 537.68 L108.5 536.57 L109 535.46 L109.5 534.35 L110 533.28 L110.5 532.42 L111 531.87 L111.5 531.65 L112 531.79 L112.5 532.17 L113 532.65 L113.5 533.17 L114 533.69 L114.5 534.16 L115 534.54 L115.5 534.97 L116 535.45 L116.5 535.84 L117 536.14 L117.5 536.3 L118 536.36 L118.5 536.47 L119 536.56 L119.5 536.63 L120 536.74 L120.5 536.85 L121 536.95 L121.5 537.13 L122 537.4 L122.5 537.78 L123 538.31 L123.5 538.91 L124 539.5 L124.5 540.13 L125 540.8 L125.5 541.51 L126 542.23 L126.5 542.79 L127 543.15 L127.5 543.43 L128 543.68 L128.5 543.86 L129 544.04 L129.5 544.24 L130 544.4 L130.5 544.49 L131 544.56 L131.5 544.61 L132 544.65 L132.5 544.71 L133 544.79 L133.5 544.86 L134 544.88 L134.5 544.86 L135 544.86 L135.5 544.88 L136 544.95 L136.5 545 L137 544.99 L137.5 545.02 L138 545.09 L138.5 545.15 L139 545.16 L139.5 545.12 L140 545.1 L140.5 545.1 L141 545.09 L141.5 545.08 L142 545.11 L142.5 545.16 L143 545.21 L143.5 545.24 L144 545.2 L144.5 545.19 L145 545.22 L145.5 545.19 L146 545.2 L146.5 545.25 L147 545.26 L147.5 545.31 L148 545.3 L148.5 545.27 L149 545.32 L149.5 545.34 L150 545.28 L150.5 545.22 L151 545.24 L151.5 545.33 L152 545.38 L152.5 545.36 L153 545.37 L153.5 545.35 L154 545.29 L154.5 545.3 L155 545.38 L155.5 545.4 L156 545.35 L156.5 545.3 L157 545.29 L157.5 545.35 L158 545.4 L158.5 545.35 L159 545.31 L159.5 545.33 L160 545.35 L160.5 545.36 L161 545.39 L161.5 545.4 L162 545.38 L162.5 545.35 L163 545.39 L163.5 545.37 L164 545.09 L164.5 544.4 L165 543.42 L165.5 542.35 L166 541.34 L166.5 540.34 L167 539.25 L167.5 538.1 L168 536.98 L168.5 535.85 L169 534.75 L169.5 533.76 L170 532.95 L170.5 532.38 L171 532.06 L171.5 532.1 L172 532.43 L172.5 532.89 L173 533.35 L173.5 533.86 L174 534.31 L174.5 534.7 L175 535.15 L175.5 535.63 L176 536.05 L176.5 536.31 L177 536.48 L177.5 536.65 L178 536.78 L178.5 536.84 L179 536.89 L179.5 536.95 L180 537.07 L180.5 537.21 L181 537.37 L181.5 537.61 L182 537.91 L182.5 538.34 L183 538.91 L183.5 539.5 L184 540.11 L184.5 540.74 L185 541.41 L185.5 542.08 L186 542.65 L186.5 543.13 L187 543.47 L187.5 543.67 L188 543.83 L188.5 544.01 L189 544.19 L189.5 544.39 L190 544.52 L190.5 544.56 L191 544.63 L191.5 544.72 L192 544.78 L192.5 544.79 L193 544.77 L193.5 544.84 L194 544.92 L194.5 544.97 L195 544.94 L195.5 544.9 L196 544.93 L196.5 544.98 L197 545.02 L197.5 545.08 L198 545.13 L198.5 545.15 L199 545.13 L199.5 545.14 L200 545.14 L200.5 545.13 L201 545.13 L201.5 545.16 L202 545.23 L202.5 545.23 L203 545.17 L203.5 545.15 L204 545.18 L204.5 545.21 L205 545.18 L205.5 545.19 L206 545.23 L206.5 545.23 L207 545.26 L207.5 545.28 L208 545.28 L208.5 545.23 L209 545.2 L209.5 545.24 L210 545.27 L210.5 545.28 L211 545.27 L211.5 545.24 L212 545.21 L212.5 545.2 L213 545.23 L213.5 545.31 L214 545.38 L214.5 545.35 L215 545.32 L215.5 545.35 L216 545.4 L216.5 545.39 L217 545.35 L217.5 545.35 L218 545.39 L218.5 545.43 L219 545.44 L219.5 545.42" fill="none" stroke="#e8160c" stroke-width="1.05" stroke-linejoin="round"/>
<path d="M22.5 568.35 L23 568.39 L23.5 568.37 L24 568.35 L24.5 568.38 L25 568.4 L25.5 568.39 L26 568.38 L26.5 568.35 L27 568.37 L27.5 568.4 L28 568.4 L28.5 568.43 L29 568.47 L29.5 568.49 L30 568.46 L30.5 568.38 L31 568.37 L31.5 568.42 L32 568.41 L32.5 568.38 L33 568.43 L33.5 568.48 L34 568.45 L34.5 568.37 L35 568.33 L35.5 568.36 L36 568.41 L36.5 568.41 L37 568.41 L37.5 568.42 L38 568.42 L38.5 568.43 L39 568.45 L39.5 568.42 L40 568.36 L40.5 568.34 L41 568.4 L41.5 568.43 L42 568.39 L42.5 568.41 L43 568.41 L43.5 568.35 L44 568.36 L44.5 568.4 L45 568.4 L45.5 568.38 L46 568.22 L46.5 567.78 L47 566.94 L47.5 565.78 L48 564.44 L48.5 563.12 L49 561.84 L49.5 560.51 L50 559.09 L50.5 557.64 L51 556.23 L51.5 554.91 L52 553.73 L52.5 552.79 L53 552.1 L53.5 551.83 L54 552.05 L54.5 552.52 L55 553.11 L55.5 553.68 L56 554.22 L56.5 554.78 L57 555.34 L57.5 555.86 L58 556.42 L58.5 556.91 L59 557.21 L59.5 557.4 L60 557.49 L60.5 557.59 L61 557.71 L61.5 557.85 L62 557.98 L62.5 558.06 L63 558.22 L63.5 558.47 L64 558.77 L64.5 559.26 L65 559.93 L65.5 560.57 L66 561.26 L66.5 562.06 L67 562.85 L67.5 563.67 L68 564.52 L68.5 565.22 L69 565.73 L69.5 566.09 L70 566.35 L70.5 566.53 L71 566.73 L71.5 567.01 L72 567.22 L72.5 567.33 L73 567.42 L73.5 567.49 L74 567.52 L74.5 567.57 L75 567.67 L75.5 567.69 L76 567.64 L76.5 567.67 L77 567.8 L77.5 567.88 L78 567.88 L78.5 567.83 L79 567.86 L79.5 567.99 L80 568.07 L80.5 568.1 L81 568.13 L81.5 568.16 L82 568.16 L82.5 568.16 L83 568.1 L83.5 568.09 L84 568.17 L84.5 568.21 L85 568.18 L85.5 568.12 L86 568.13 L86.5 568.15 L87 568.12 L87.5 568.15 L88 568.22 L88.5 568.27 L89 568.26 L89.5 568.21 L90 568.21 L90.5 568.24 L91 568.3 L91.5 568.29 L92 568.25 L92.5 568.3 L93 568.3 L93.5 568.22 L94 568.21 L94.5 568.23 L95 568.23 L95.5 568.22 L96 568.25 L96.5 568.31 L97 568.3 L97.5 568.3 L98 568.37 L98.5 568.39 L99 568.36 L99.5 568.4 L100 568.42 L100.5 568.37 L101 568.34 L101.5 568.41 L102 568.47 L102.5 568.49 L103 568.46 L103.5 568.42 L104 568.29 L104.5 567.89 L105 567.16 L105.5 566.24 L106 565.17 L106.5 564.11 L107 563.05 L107.5 561.96 L108 560.83 L108.5 559.67 L109 558.47 L109.5 557.36 L110 556.43 L110.5 555.64 L111 555.06 L111.5 554.83 L112 554.92 L112.5 555.31 L113 555.84 L113.5 556.32 L114 556.75 L114.5 557.16 L115 557.59 L115.5 558.07 L116 558.52 L116.5 558.86 L117 559.13 L117.5 559.36 L118 559.45 L118.5 559.5 L119 559.65 L119.5 559.81 L120 559.87 L120.5 559.9 L121 560.01 L121.5 560.21 L122 560.48 L122.5 560.86 L123 561.36 L123.5 561.98 L124 562.63 L124.5 563.26 L125 563.9 L125.5 564.57 L126 565.24 L126.5 565.8 L127 566.22 L127.5 566.48 L128 566.72 L128.5 566.94 L129 567.08 L129.5 567.19 L130 567.37 L130.5 567.59 L131 567.68 L131.5 567.64 L132 567.68 L132.5 567.77 L133 567.78 L133.5 567.75 L134 567.77 L134.5 567.79 L135 567.82 L135.5 567.9 L136 567.93 L136.5 567.95 L137 568 L137.5 568.01 L138 568.01 L138.5 568.04 L139 568.09 L139.5 568.16 L140 568.19 L140.5 568.22 L141 568.22 L141.5 568.22 L142 568.23 L142.5 568.17 L143 568.14 L143.5 568.17 L144 568.19 L144.5 568.27 L145 568.3 L145.5 568.22 L146 568.2 L146.5 568.25 L147 568.27 L147.5 568.29 L148 568.3 L148.5 568.33 L149 568.31 L149.5 568.24 L150 568.23 L150.5 568.25 L151 568.28 L151.5 568.31 L152 568.28 L152.5 568.24 L153 568.24 L153.5 568.28 L154 568.32 L154.5 568.32 L155 568.31 L155.5 568.32 L156 568.38 L156.5 568.43 L157 568.4 L157.5 568.35 L158 568.38 L158.5 568.4 L159 568.39 L159.5 568.39 L160 568.39 L160.5 568.42 L161 568.47 L161.5 568.45 L162 568.38 L162.5 568.39 L163 568.42 L163.5 568.3 L164 567.98 L164.5 567.35 L165 566.46 L165.5 565.42 L166 564.34 L166.5 563.31 L167 562.29 L167.5 561.22 L168 560.07 L168.5 558.91 L169 557.83 L169.5 556.83 L170 555.98 L170.5 555.38 L171 555.13 L171.5 555.28 L172 555.64 L172.5 556.09 L173 556.49 L173.5 556.9 L174 557.38 L174.5 557.89 L175 558.34 L175.5 558.73 L176 559.14 L176.5 559.44 L177 559.57 L177.5 559.65 L178 559.73 L178.5 559.83 L179 559.93 L179.5 560.07 L180 560.21 L180.5 560.32 L181 560.43 L181.5 560.64 L182 561.05 L182.5 561.57 L183 562.12 L183.5 562.68 L184 563.28 L184.5 563.9 L185 564.54 L185.5 565.21 L186 565.81 L186.5 566.25 L187 566.53 L187.5 566.71 L188 566.88 L188.5 567.08 L189 567.24 L189.5 567.37 L190 567.54 L190.5 567.63 L191 567.68 L191.5 567.72 L192 567.74 L192.5 567.78 L193 567.79 L193.5 567.8 L194 567.83 L194.5 567.86 L195 567.86 L195.5 567.87 L196 567.94 L196.5 568 L197 568.02 L197.5 568.07 L198 568.12 L198.5 568.14 L199 568.15 L199.5 568.2 L200 568.25 L200.5 568.25 L201 568.21 L201.5 568.2 L202 568.22 L202.5 568.21 L203 568.21 L203.5 568.19 L204 568.16 L204.5 568.18 L205 568.22 L205.5 568.24 L206 568.24 L206.5 568.24 L207 568.19 L207.5 568.19 L208 568.28 L208.5 568.33 L209 568.29 L209.5 568.27 L210 568.33 L210.5 568.31 L211 568.23 L211.5 568.22 L212 568.27 L212.5 568.32 L213 568.35 L213.5 568.38 L214 568.39 L214.5 568.39 L215 568.35 L215.5 568.33 L216 568.39 L216.5 568.41 L217 568.35 L217.5 568.3 L218 568.32 L218.5 568.36 L219 568.41 L219.5 568.38" fill="none" stroke="#e8160c" stroke-width="1.05" stroke-linejoin="round"/>
<path d="M22.5 590.65 L23 590.65 L23.5 590.62 L24 590.6 L24.5 590.63 L25 590.65 L25.5 590.59 L26 590.54 L26.5 590.55 L27 590.56 L27.5 590.57 L28 590.56 L28.5 590.55 L29 590.57 L29.5 590.59 L30 590.6 L30.5 590.57 L31 590.54 L31.5 590.57 L32 590.61 L32.5 590.64 L33 590.67 L33.5 590.68 L34 590.62 L34.5 590.6 L35 590.66 L35.5 590.68 L36 590.65 L36.5 590.64 L37 590.66 L37.5 590.7 L38 590.73 L38.5 590.73 L39 590.71 L39.5 590.65 L40 590.66 L40.5 590.7 L41 590.7 L41.5 590.64 L42 590.62 L42.5 590.63 L43 590.64 L43.5 590.64 L44 590.62 L44.5 590.63 L45 590.64 L45.5 590.62 L46 590.59 L46.5 590.34 L47 589.74 L47.5 588.78 L48 587.57 L48.5 586.2 L49 584.78 L49.5 583.42 L50 582.14 L50.5 580.9 L51 579.68 L51.5 578.4 L52 577.15 L52.5 576.08 L53 575.24 L53.5 574.66 L54 574.3 L54.5 574.26 L55 574.51 L55.5 574.9 L56 575.46 L56.5 576.14 L57 576.77 L57.5 577.33 L58 577.96 L58.5 578.64 L59 579.19 L59.5 579.56 L60 579.82 L60.5 579.98 L61 580.08 L61.5 580.22 L62 580.39 L62.5 580.53 L63 580.66 L63.5 580.85 L64 581.08 L64.5 581.3 L65 581.68 L65.5 582.26 L66 582.9 L66.5 583.54 L67 584.31 L67.5 585.16 L68 586 L68.5 586.78 L69 587.5 L69.5 588.15 L70 588.63 L70.5 588.86 L71 588.99 L71.5 589.12 L72 589.3 L72.5 589.42 L73 589.48 L73.5 589.59 L74 589.76 L74.5 589.87 L75 589.9 L75.5 589.95 L76 590 L76.5 590.05 L77 590.12 L77.5 590.18 L78 590.21 L78.5 590.21 L79 590.2 L79.5 590.19 L80 590.22 L80.5 590.25 L81 590.26 L81.5 590.28 L82 590.34 L82.5 590.35 L83 590.39 L83.5 590.47 L84 590.5 L84.5 590.51 L85 590.49 L85.5 590.5 L86 590.53 L86.5 590.54 L87 590.56 L87.5 590.61 L88 590.68 L88.5 590.68 L89 590.62 L89.5 590.64 L90 590.65 L90.5 590.62 L91 590.59 L91.5 590.61 L92 590.64 L92.5 590.66 L93 590.69 L93.5 590.68 L94 590.66 L94.5 590.71 L95 590.76 L95.5 590.78 L96 590.77 L96.5 590.75 L97 590.76 L97.5 590.79 L98 590.8 L98.5 590.81 L99 590.84 L99.5 590.8 L100 590.76 L100.5 590.81 L101 590.83 L101.5 590.81 L102 590.86 L102.5 590.88 L103 590.82 L103.5 590.78 L104 590.69 L104.5 590.36 L105 589.61 L105.5 588.61 L106 587.55 L106.5 586.49 L107 585.4 L107.5 584.33 L108 583.32 L108.5 582.28 L109 581.2 L109.5 580.2 L110 579.28 L110.5 578.43 L111 577.81 L111.5 577.46 L112 577.37 L112.5 577.5 L113 577.75 L113.5 578.15 L114 578.62 L114.5 579.15 L115 579.73 L115.5 580.31 L116 580.86 L116.5 581.32 L117 581.65 L117.5 581.86 L118 582.01 L118.5 582.14 L119 582.28 L119.5 582.43 L120 582.51 L120.5 582.59 L121 582.71 L121.5 582.82 L122 583.01 L122.5 583.33 L123 583.74 L123.5 584.27 L124 584.8 L124.5 585.37 L125 586.07 L125.5 586.78 L126 587.42 L126.5 588.07 L127 588.63 L127.5 589.04 L128 589.32 L128.5 589.5 L129 589.61 L129.5 589.72 L130 589.77 L130.5 589.79 L131 589.9 L131.5 590.02 L132 590.11 L132.5 590.26 L133 590.38 L133.5 590.43 L134 590.41 L134.5 590.35 L135 590.31 L135.5 590.37 L136 590.43 L136.5 590.4 L137 590.41 L137.5 590.52 L138 590.59 L138.5 590.55 L139 590.49 L139.5 590.52 L140 590.63 L140.5 590.66 L141 590.67 L141.5 590.71 L142 590.68 L142.5 590.69 L143 590.75 L143.5 590.73 L144 590.72 L144.5 590.76 L145 590.81 L145.5 590.81 L146 590.8 L146.5 590.81 L147 590.83 L147.5 590.9 L148 590.9 L148.5 590.85 L149 590.85 L149.5 590.86 L150 590.86 L150.5 590.85 L151 590.85 L151.5 590.86 L152 590.88 L152.5 590.96 L153 590.97 L153.5 590.92 L154 590.91 L154.5 590.89 L155 590.88 L155.5 590.93 L156 590.95 L156.5 590.95 L157 590.98 L157.5 590.96 L158 590.93 L158.5 591 L159 591.04 L159.5 591.02 L160 591.04 L160.5 591.08 L161 591.04 L161.5 590.99 L162 590.98 L162.5 591.02 L163 591.05 L163.5 590.98 L164 590.71 L164.5 590.22 L165 589.51 L165.5 588.55 L166 587.48 L166.5 586.4 L167 585.29 L167.5 584.25 L168 583.31 L168.5 582.29 L169 581.22 L169.5 580.26 L170 579.38 L170.5 578.64 L171 578.19 L171.5 577.96 L172 577.9 L172.5 578.11 L173 578.51 L173.5 578.94 L174 579.39 L174.5 579.94 L175 580.47 L175.5 580.94 L176 581.4 L176.5 581.79 L177 582.14 L177.5 582.44 L178 582.63 L178.5 582.69 L179 582.74 L179.5 582.84 L180 582.94 L180.5 583.05 L181 583.18 L181.5 583.26 L182 583.45 L182.5 583.81 L183 584.25 L183.5 584.8 L184 585.39 L184.5 586.02 L185 586.65 L185.5 587.23 L186 587.82 L186.5 588.43 L187 588.95 L187.5 589.34 L188 589.57 L188.5 589.71 L189 589.85 L189.5 589.96 L190 590 L190.5 590.07 L191 590.19 L191.5 590.3 L192 590.42 L192.5 590.54 L193 590.61 L193.5 590.62 L194 590.61 L194.5 590.62 L195 590.6 L195.5 590.56 L196 590.56 L196.5 590.62 L197 590.7 L197.5 590.71 L198 590.66 L198.5 590.66 L199 590.7 L199.5 590.75 L200 590.79 L200.5 590.81 L201 590.83 L201.5 590.85 L202 590.9 L202.5 590.92 L203 590.92 L203.5 590.97 L204 591.02 L204.5 591.01 L205 590.96 L205.5 590.99 L206 591.08 L206.5 591.09 L207 591.02 L207.5 591 L208 591 L208.5 591.04 L209 591.1 L209.5 591.08 L210 591.08 L210.5 591.13 L211 591.15 L211.5 591.16 L212 591.13 L212.5 591.08 L213 591.05 L213.5 591.09 L214 591.13 L214.5 591.16 L215 591.17 L215.5 591.15 L216 591.16 L216.5 591.22 L217 591.25 L217.5 591.22 L218 591.18 L218.5 591.21 L219 591.21 L219.5 591.16" fill="none" stroke="#e8160c" stroke-width="1.05" stroke-linejoin="round"/>
<path d="M22.5 615.74 L23 615.73 L23.5 615.73 L24 615.72 L24.5 615.7 L25 615.71 L25.5 615.73 L26 615.73 L26.5 615.7 L27 615.68 L27.5 615.7 L28 615.71 L28.5 615.69 L29 615.69 L29.5 615.72 L30 615.7 L30.5 615.68 L31 615.69 L31.5 615.71 L32 615.7 L32.5 615.7 L33 615.71 L33.5 615.72 L34 615.7 L34.5 615.68 L35 615.68 L35.5 615.67 L36 615.66 L36.5 615.68 L37 615.7 L37.5 615.7 L38 615.7 L38.5 615.68 L39 615.66 L39.5 615.67 L40 615.71 L40.5 615.72 L41 615.69 L41.5 615.67 L42 615.67 L42.5 615.69 L43 615.68 L43.5 615.68 L44 615.7 L44.5 615.71 L45 615.69 L45.5 615.68 L46 615.7 L46.5 615.7 L47 615.69 L47.5 615.69 L48 615.72 L48.5 615.73 L49 615.73 L49.5 615.73 L50 615.71 L50.5 615.68 L51 615.68 L51.5 615.7 L52 615.7 L52.5 615.71 L53 615.73 L53.5 615.72 L54 615.7 L54.5 615.7 L55 615.69 L55.5 614.3 L56 612 L56.5 609.86 L57 607.72 L57.5 606.13 L58 605.39 L58.5 604.66 L59 603.93 L59.5 603.21 L60 602.48 L60.5 601.78 L61 601.07 L61.5 600.38 L62 599.66 L62.5 599.31 L63 599.22 L63.5 599.15 L64 599.04 L64.5 600.67 L65 604.96 L65.5 612.62 L66 615.68 L66.5 615.66 L67 615.67 L67.5 615.7 L68 615.7 L68.5 615.68 L69 615.67 L69.5 615.67 L70 615.68 L70.5 615.68 L71 615.68 L71.5 615.67 L72 615.67 L72.5 615.68 L73 615.71 L73.5 615.72 L74 615.72 L74.5 615.69 L75 615.67 L75.5 615.68 L76 615.7 L76.5 615.71 L77 615.73 L77.5 615.72 L78 615.7 L78.5 615.68 L79 615.69 L79.5 615.69 L80 615.68 L80.5 615.69 L81 615.71 L81.5 615.71 L82 615.72 L82.5 615.71 L83 615.71 L83.5 615.7 L84 615.68 L84.5 615.69 L85 615.7 L85.5 615.72 L86 615.72 L86.5 615.72 L87 615.72 L87.5 615.72 L88 615.73 L88.5 615.71 L89 615.68 L89.5 615.69 L90 615.7 L90.5 615.7 L91 615.7 L91.5 615.7 L92 615.7 L92.5 615.71 L93 615.7 L93.5 615.7 L94 615.7 L94.5 615.69 L95 615.67 L95.5 615.68 L96 615.71 L96.5 615.72 L97 615.71 L97.5 615.71 L98 615.7 L98.5 615.69 L99 615.72 L99.5 615.72 L100 615.7 L100.5 615.7 L101 615.71 L101.5 615.7 L102 615.71 L102.5 615.72 L103 615.7 L103.5 615.67 L104 615.66 L104.5 615.66 L105 615.68 L105.5 615.69 L106 615.67 L106.5 615.66 L107 615.67 L107.5 615.68 L108 615.69 L108.5 615.69 L109 615.69 L109.5 615.69 L110 615.67 L110.5 615.68 L111 614.55 L111.5 613.41 L112 612.27 L112.5 611.13 L113 610 L113.5 609.17 L114 608.33 L114.5 607.51 L115 606.68 L115.5 605.84 L116 605 L116.5 604.15 L117 603.32 L117.5 602.48 L118 601.65 L118.5 600.84 L119 600.02 L119.5 599.53 L120 599.04 L120.5 598.59 L121 598.12 L121.5 597.88 L122 598.68 L122.5 606.17 L123 615.72 L123.5 615.72 L124 615.71 L124.5 615.72 L125 615.72 L125.5 615.71 L126 615.7 L126.5 615.69 L127 615.68 L127.5 615.69 L128 615.69 L128.5 615.69 L129 615.69 L129.5 615.7 L130 615.7 L130.5 615.71 L131 615.72 L131.5 615.73 L132 615.72 L132.5 615.69 L133 615.69 L133.5 615.72 L134 615.71 L134.5 615.68 L135 615.67 L135.5 615.67 L136 615.67 L136.5 615.66 L137 615.65 L137.5 615.67 L138 615.69 L138.5 615.71 L139 615.71 L139.5 615.71 L140 615.7 L140.5 615.69 L141 615.7 L141.5 615.7 L142 615.71 L142.5 615.72 L143 615.71 L143.5 615.72 L144 615.72 L144.5 615.7 L145 615.67 L145.5 615.67 L146 615.67 L146.5 615.68 L147 615.68 L147.5 615.68 L148 615.71 L148.5 615.72 L149 615.7 L149.5 615.68 L150 615.69 L150.5 615.72 L151 615.73 L151.5 615.73 L152 615.72 L152.5 615.69 L153 615.68 L153.5 615.69 L154 615.69 L154.5 615.69 L155 615.69 L155.5 615.7 L156 615.69 L156.5 615.7 L157 615.71 L157.5 615.69 L158 615.68 L158.5 615.68 L159 615.7 L159.5 615.72 L160 615.72 L160.5 615.68 L161 615.67 L161.5 615.69 L162 615.69 L162.5 615.69 L163 615.72 L163.5 615.73 L164 615.7 L164.5 615.67 L165 615.68 L165.5 615.71 L166 615.72 L166.5 615.71 L167 615.71 L167.5 615.69 L168 615.71 L168.5 615.73 L169 615.71 L169.5 615.69 L170 615.7 L170.5 615.71 L171 615.7 L171.5 615.03 L172 613.38 L172.5 611.7 L173 609.99 L173.5 609.24 L174 608.5 L174.5 607.74 L175 606.89 L175.5 605.92 L176 604.96 L176.5 603.98 L177 603 L177.5 602.39 L178 601.8 L178.5 601.22 L179 600.62 L179.5 599.99 L180 599.39 L180.5 599.44 L181 599.5 L181.5 603.18 L182 609.12 L182.5 614.6 L183 615.7 L183.5 615.69 L184 615.7 L184.5 615.71 L185 615.68 L185.5 615.67 L186 615.67 L186.5 615.69 L187 615.7 L187.5 615.69 L188 615.7 L188.5 615.71 L189 615.72 L189.5 615.71 L190 615.69 L190.5 615.7 L191 615.71 L191.5 615.71 L192 615.71 L192.5 615.72 L193 615.71 L193.5 615.69 L194 615.67 L194.5 615.68 L195 615.69 L195.5 615.67 L196 615.66 L196.5 615.69 L197 615.7 L197.5 615.68 L198 615.67 L198.5 615.69 L199 615.72 L199.5 615.74 L200 615.74 L200.5 615.72 L201 615.69 L201.5 615.68 L202 615.69 L202.5 615.71 L203 615.7 L203.5 615.69 L204 615.72 L204.5 615.72 L205 615.67 L205.5 615.67 L206 615.69 L206.5 615.71 L207 615.71 L207.5 615.71 L208 615.71 L208.5 615.7 L209 615.69 L209.5 615.72 L210 615.73 L210.5 615.71 L211 615.7 L211.5 615.71 L212 615.7 L212.5 615.7 L213 615.71 L213.5 615.68 L214 615.67 L214.5 615.69 L215 615.71 L215.5 615.73 L216 615.73 L216.5 615.71 L217 615.7 L217.5 615.69 L218 615.7 L218.5 615.7 L219 615.68 L219.5 615.68" fill="none" stroke="#e8160c" stroke-width="1.05" stroke-linejoin="round"/>
<text x="0" y="0" font-size="6.8" text-anchor="start" fill="#222" stroke="#222" stroke-width="0.22" font-weight="normal" transform="translate(23,401) scale(0.95,1)">5E-14</text>
<path d="M42.9 397.45 h3.8 M42.9 399.75 h3.8 M44.8 397.45 v2.3" stroke="#222" stroke-width="0.95" fill="none"/>
<text x="0" y="0" font-size="6.8" text-anchor="start" fill="#222" stroke="#222" stroke-width="0.22" font-weight="normal" transform="translate(23,423.2) scale(0.95,1)">6E-14</text>
<path d="M42.9 419.65 h3.8 M42.9 421.95 h3.8 M44.8 419.65 v2.3" stroke="#222" stroke-width="0.95" fill="none"/>
<text x="0" y="0" font-size="6.8" text-anchor="start" fill="#222" stroke="#222" stroke-width="0.22" font-weight="normal" transform="translate(23,446.4) scale(0.95,1)">4E-13</text>
<path d="M42.9 442.85 h3.8 M42.9 445.15 h3.8 M44.8 442.85 v2.3" stroke="#222" stroke-width="0.95" fill="none"/>
<text x="0" y="0" font-size="6.8" text-anchor="start" fill="#222" stroke="#222" stroke-width="0.22" font-weight="normal" transform="translate(23,464.1) scale(0.95,1)">4E-12</text>
<path d="M42.9 460.55 h3.8 M42.9 462.85 h3.8 M44.8 460.55 v2.3" stroke="#222" stroke-width="0.95" fill="none"/>
<text x="0" y="0" font-size="6.8" text-anchor="start" fill="#222" stroke="#222" stroke-width="0.22" font-weight="normal" transform="translate(23,491.7) scale(0.95,1)">9E-11</text>
<path d="M42.9 488.15 h3.8 M42.9 490.45 h3.8 M44.8 488.15 v2.3" stroke="#222" stroke-width="0.95" fill="none"/>
<text x="0" y="0" font-size="6.8" text-anchor="start" fill="#222" stroke="#222" stroke-width="0.22" font-weight="normal" transform="translate(23,524.5) scale(0.95,1)">2E-9</text>
<path d="M38.7 520.95 h3.8 M38.7 523.25 h3.8 M40.6 520.95 v2.3" stroke="#222" stroke-width="0.95" fill="none"/>
<text x="0" y="0" font-size="6.8" text-anchor="start" fill="#222" stroke="#222" stroke-width="0.22" font-weight="normal" transform="translate(23,544.7) scale(0.95,1)">2E-9</text>
<path d="M38.7 541.15 h3.8 M38.7 543.45 h3.8 M40.6 541.15 v2.3" stroke="#222" stroke-width="0.95" fill="none"/>
<text x="0" y="0" font-size="6.8" text-anchor="start" fill="#222" stroke="#222" stroke-width="0.22" font-weight="normal" transform="translate(23,566.6) scale(0.95,1)">8E-11</text>
<path d="M42.9 563.05 h3.8 M42.9 565.35 h3.8 M44.8 563.05 v2.3" stroke="#222" stroke-width="0.95" fill="none"/>
<text x="0" y="0" font-size="6.8" text-anchor="start" fill="#222" stroke="#222" stroke-width="0.22" font-weight="normal" transform="translate(23,589.6) scale(0.95,1)">3E-11</text>
<path d="M42.9 586.05 h3.8 M42.9 588.35 h3.8 M44.8 586.05 v2.3" stroke="#222" stroke-width="0.95" fill="none"/>
<text x="0" y="0" font-size="6.8" text-anchor="start" fill="#222" stroke="#222" stroke-width="0.22" font-weight="normal" transform="translate(23,614.1) scale(0.95,1)">4E-9</text>
<path d="M38.7 610.55 h3.8 M38.7 612.85 h3.8 M40.6 610.55 v2.3" stroke="#222" stroke-width="0.95" fill="none"/>
<text x="219.3" y="387.7" font-size="6.8" text-anchor="end" fill="#222" stroke="#222" stroke-width="0.22" font-weight="normal">m/z = 46; NO<tspan dy="1.5" font-size="5">2</tspan></text>
<text x="219.3" y="417" font-size="6.8" text-anchor="end" fill="#222" stroke="#222" stroke-width="0.22" font-weight="normal">m/z = 33; NH<tspan dy="1.5" font-size="5">2</tspan><tspan dy="-1.5">OH</tspan></text>
<text x="219.3" y="438" font-size="6.8" text-anchor="end" fill="#222" stroke="#222" stroke-width="0.22" font-weight="normal">m/z = 31; NOH</text>
<text x="219.3" y="471" font-size="6.8" text-anchor="end" fill="#222" stroke="#222" stroke-width="0.22" font-weight="normal">m/z = 30; NO</text>
<text x="219.3" y="495" font-size="6.8" text-anchor="end" fill="#222" stroke="#222" stroke-width="0.22" font-weight="normal">m/z = 28; N<tspan dy="1.5" font-size="5">2</tspan></text>
<text x="219.3" y="514.5" font-size="6.8" text-anchor="end" fill="#222" stroke="#222" stroke-width="0.22" font-weight="normal">m/z = 17; NH<tspan dy="1.5" font-size="5">3</tspan></text>
<text x="219.3" y="535" font-size="6.8" text-anchor="end" fill="#222" stroke="#222" stroke-width="0.22" font-weight="normal">m/z = 16; NH<tspan dy="1.5" font-size="5">2</tspan></text>
<text x="219.3" y="556.6" font-size="6.8" text-anchor="end" fill="#222" stroke="#222" stroke-width="0.22" font-weight="normal">m/z = 15; NH</text>
<text x="219.3" y="583.5" font-size="6.8" text-anchor="end" fill="#222" stroke="#222" stroke-width="0.22" font-weight="normal">m/z = 14; N</text>
<text x="219.3" y="612.3" font-size="6.8" text-anchor="end" fill="#222" stroke="#222" stroke-width="0.22" font-weight="normal">m/z = 2; H<tspan dy="1.5" font-size="5">2</tspan></text>
<line x1="38" y1="379" x2="38" y2="383" stroke="#888" stroke-width="0.7"/>
<path d="M36.5 382 L38 387.3 L39.5 382 Z" fill="#111"/>
<text x="0" y="0" font-size="6.4" text-anchor="middle" fill="#222" stroke="#222" stroke-width="0.22" font-weight="normal" transform="translate(38,393.8) scale(0.86,1)">Cycle 1</text>
<line x1="95.4" y1="379" x2="95.4" y2="383" stroke="#888" stroke-width="0.7"/>
<path d="M93.9 382 L95.4 387.3 L96.9 382 Z" fill="#111"/>
<text x="0" y="0" font-size="6.4" text-anchor="middle" fill="#222" stroke="#222" stroke-width="0.22" font-weight="normal" transform="translate(95.4,393.8) scale(0.86,1)">Cycle 2</text>
<line x1="155.7" y1="379" x2="155.7" y2="383" stroke="#888" stroke-width="0.7"/>
<path d="M154.2 382 L155.7 387.3 L157.2 382 Z" fill="#111"/>
<text x="0" y="0" font-size="6.4" text-anchor="middle" fill="#222" stroke="#222" stroke-width="0.22" font-weight="normal" transform="translate(155.7,393.8) scale(0.86,1)">Cycle 3</text>
<rect x="262" y="378.3" width="190.3" height="251.7" fill="none" stroke="#8a8a8a" stroke-width="1.2"/>
<line x1="266.93" y1="630" x2="266.93" y2="631.8" stroke="#555" stroke-width="0.8"/>
<line x1="277.2" y1="630" x2="277.2" y2="632.6" stroke="#555" stroke-width="0.9"/>
<text x="0" y="0" font-size="9.3" text-anchor="middle" fill="#222" stroke="#222" stroke-width="0.22" font-weight="normal" transform="translate(277.2,641.7) scale(0.86,1)">200</text>
<line x1="287.47" y1="630" x2="287.47" y2="631.8" stroke="#555" stroke-width="0.8"/>
<line x1="297.75" y1="630" x2="297.75" y2="632.6" stroke="#555" stroke-width="0.9"/>
<text x="0" y="0" font-size="9.3" text-anchor="middle" fill="#222" stroke="#222" stroke-width="0.22" font-weight="normal" transform="translate(297.75,641.7) scale(0.86,1)">400</text>
<line x1="308.02" y1="630" x2="308.02" y2="631.8" stroke="#555" stroke-width="0.8"/>
<line x1="318.3" y1="630" x2="318.3" y2="632.6" stroke="#555" stroke-width="0.9"/>
<text x="0" y="0" font-size="9.3" text-anchor="middle" fill="#222" stroke="#222" stroke-width="0.22" font-weight="normal" transform="translate(318.3,641.7) scale(0.86,1)">600</text>
<line x1="328.57" y1="630" x2="328.57" y2="631.8" stroke="#555" stroke-width="0.8"/>
<line x1="338.85" y1="630" x2="338.85" y2="632.6" stroke="#555" stroke-width="0.9"/>
<text x="0" y="0" font-size="9.3" text-anchor="middle" fill="#222" stroke="#222" stroke-width="0.22" font-weight="normal" transform="translate(338.85,641.7) scale(0.86,1)">800</text>
<line x1="349.12" y1="630" x2="349.12" y2="631.8" stroke="#555" stroke-width="0.8"/>
<line x1="359.4" y1="630" x2="359.4" y2="632.6" stroke="#555" stroke-width="0.9"/>
<text x="0" y="0" font-size="9.3" text-anchor="middle" fill="#222" stroke="#222" stroke-width="0.22" font-weight="normal" transform="translate(359.4,641.7) scale(0.86,1)">1000</text>
<line x1="369.67" y1="630" x2="369.67" y2="631.8" stroke="#555" stroke-width="0.8"/>
<line x1="379.95" y1="630" x2="379.95" y2="632.6" stroke="#555" stroke-width="0.9"/>
<text x="0" y="0" font-size="9.3" text-anchor="middle" fill="#222" stroke="#222" stroke-width="0.22" font-weight="normal" transform="translate(379.95,641.7) scale(0.86,1)">1200</text>
<line x1="390.22" y1="630" x2="390.22" y2="631.8" stroke="#555" stroke-width="0.8"/>
<line x1="400.5" y1="630" x2="400.5" y2="632.6" stroke="#555" stroke-width="0.9"/>
<text x="0" y="0" font-size="9.3" text-anchor="middle" fill="#222" stroke="#222" stroke-width="0.22" font-weight="normal" transform="translate(400.5,641.7) scale(0.86,1)">1400</text>
<line x1="410.77" y1="630" x2="410.77" y2="631.8" stroke="#555" stroke-width="0.8"/>
<line x1="421.05" y1="630" x2="421.05" y2="632.6" stroke="#555" stroke-width="0.9"/>
<text x="0" y="0" font-size="9.3" text-anchor="middle" fill="#222" stroke="#222" stroke-width="0.22" font-weight="normal" transform="translate(421.05,641.7) scale(0.86,1)">1600</text>
<line x1="431.32" y1="630" x2="431.32" y2="631.8" stroke="#555" stroke-width="0.8"/>
<line x1="441.6" y1="630" x2="441.6" y2="632.6" stroke="#555" stroke-width="0.9"/>
<text x="0" y="0" font-size="9.3" text-anchor="middle" fill="#222" stroke="#222" stroke-width="0.22" font-weight="normal" transform="translate(441.6,641.7) scale(0.86,1)">1800</text>
<line x1="262" y1="604.7" x2="259.4" y2="604.7" stroke="#555" stroke-width="0.9"/>
<text x="0" y="0" font-size="9" text-anchor="middle" fill="#222" stroke="#222" stroke-width="0.22" font-weight="normal" transform="translate(255.7,604.7) rotate(-90) scale(0.92,1)">0.00E+00</text>
<line x1="262" y1="554.45" x2="259.4" y2="554.45" stroke="#555" stroke-width="0.9"/>
<text x="0" y="0" font-size="9" text-anchor="middle" fill="#222" stroke="#222" stroke-width="0.22" font-weight="normal" transform="translate(255.7,554.45) rotate(-90) scale(0.92,1)">5.00E-11</text>
<line x1="262" y1="504.2" x2="259.4" y2="504.2" stroke="#555" stroke-width="0.9"/>
<text x="0" y="0" font-size="9" text-anchor="middle" fill="#222" stroke="#222" stroke-width="0.22" font-weight="normal" transform="translate(255.7,504.2) rotate(-90) scale(0.92,1)">1.00E-10</text>
<line x1="262" y1="453.95" x2="259.4" y2="453.95" stroke="#555" stroke-width="0.9"/>
<text x="0" y="0" font-size="9" text-anchor="middle" fill="#222" stroke="#222" stroke-width="0.22" font-weight="normal" transform="translate(255.7,453.95) rotate(-90) scale(0.92,1)">1.50E-10</text>
<line x1="262" y1="403.7" x2="259.4" y2="403.7" stroke="#555" stroke-width="0.9"/>
<text x="0" y="0" font-size="9" text-anchor="middle" fill="#222" stroke="#222" stroke-width="0.22" font-weight="normal" transform="translate(255.7,403.7) rotate(-90) scale(0.92,1)">2.00E-10</text>
<line x1="262" y1="579.58" x2="260.2" y2="579.58" stroke="#555" stroke-width="0.8"/>
<line x1="262" y1="529.33" x2="260.2" y2="529.33" stroke="#555" stroke-width="0.8"/>
<line x1="262" y1="479.08" x2="260.2" y2="479.08" stroke="#555" stroke-width="0.8"/>
<line x1="262" y1="428.83" x2="260.2" y2="428.83" stroke="#555" stroke-width="0.8"/>
<line x1="262" y1="629.83" x2="260.2" y2="629.83" stroke="#555" stroke-width="0.8"/>
<text x="357.3" y="650.8" font-size="10.2" text-anchor="middle" fill="#222" stroke="#222" stroke-width="0.22" font-weight="normal">Time (s)</text>
<text x="0" y="0" font-size="10.3" text-anchor="middle" fill="#222" stroke="#222" stroke-width="0.22" font-weight="normal" transform="translate(240.8,516.7) rotate(-90)">Intensity (a. u.)</text>
<text x="236.9" y="383.6" font-size="16" text-anchor="start" fill="#000" stroke="#000" stroke-width="0" font-weight="bold">e</text>
<path d="M262.6 581.12 L263 581.35 L263.4 581.69 L263.8 582.02 L264.2 582.35 L264.6 582.66 L265 582.97 L265.4 583.26 L265.8 583.55 L266.2 583.83 L266.6 584.1 L267 584.37 L267.4 584.63 L267.8 584.88 L268.2 585.12 L268.6 585.35 L269 585.58 L269.4 585.81 L269.8 586.02 L270.2 586.23 L270.6 586.44 L271 586.64 L271.4 586.83 L271.8 587.02 L272.2 587.2 L272.6 587.38 L273 587.55 L273.4 587.72 L273.8 587.88 L274.2 588.04 L274.6 588.19 L275 588.34 L275.4 588.49 L275.8 588.63 L276.2 588.77 L276.6 588.9 L277 589.03 L277.4 589.16 L277.8 589.28 L278.2 589.4 L278.6 589.51 L279 589.62 L279.4 589.73 L279.8 589.84 L280.2 589.94 L280.6 590.04 L281 590.14 L281.4 590.24 L281.8 590.33 L282.2 590.42 L282.6 590.5 L283 590.59 L283.4 590.67 L283.8 590.84 L284.2 590.79 L284.6 589.3 L285 584.4 L285.4 575.6 L285.8 565 L286.2 553.8 L286.6 542 L287 529.15 L287.4 514.62 L287.8 499.23 L288.2 484.48 L288.6 471.21 L289 459.06 L289.4 447.39 L289.8 436.11 L290.2 425.68 L290.6 416.6 L291 408.75 L291.4 402.55 L291.8 398 L292.2 395.72 L292.6 397.44 L293 401.45 L293.4 403.1 L293.8 400.68 L294.2 399.35 L294.6 403.73 L295 410.96 L295.4 419 L295.8 428.91 L296.2 440.17 L296.6 449.36 L297 453.87 L297.4 456.04 L297.8 458.21 L298.2 460.34 L298.6 462.32 L299 464.08 L299.4 465.74 L299.8 467.4 L300.2 469.06 L300.6 470.72 L301 472.17 L301.4 473.13 L301.8 474.07 L302.2 476.43 L302.6 482.27 L303 491.5 L303.4 501.17 L303.8 509.7 L304.2 517.31 L304.6 524.09 L305 530.1 L305.4 535.37 L305.8 540.05 L306.2 544.25 L306.6 548.02 L307 551.39 L307.4 554.36 L307.8 557.03 L308.2 559.44 L308.6 561.62 L309 563.59 L309.4 565.35 L309.8 566.94 L310.2 568.4 L310.6 569.74 L311 570.95 L311.4 572.06 L311.8 573.08 L312.2 574.02 L312.6 574.89 L313 575.69 L313.4 576.44 L313.8 577.13 L314.2 577.78 L314.6 578.39 L315 578.96 L315.4 579.49 L315.8 579.99 L316.2 580.47 L316.6 580.92 L317 581.35 L317.4 581.76 L317.8 582.14 L318.2 582.51 L318.6 582.87 L319 583.2 L319.4 583.53 L319.8 583.84 L320.2 584.13 L320.6 584.42 L321 584.7 L321.4 584.96 L321.8 585.21 L322.2 585.46 L322.6 585.7 L323 585.93 L323.4 586.15 L323.8 586.37 L324.2 586.57 L324.6 586.77 L325 586.97 L325.4 587.16 L325.8 587.34 L326.2 587.52 L326.6 587.69 L327 587.85 L327.4 588.02 L327.8 588.17 L328.2 588.32 L328.6 588.47 L329 588.61 L329.4 588.75 L329.8 588.89 L330.2 589.02 L330.6 589.15 L331 589.27 L331.4 589.39 L331.8 589.51 L332.2 589.62 L332.6 589.73 L333 589.83 L333.4 589.94 L333.8 590.04 L334.2 590.14 L334.6 590.23 L335 590.32 L335.4 590.41 L335.8 590.5 L336.2 590.58 L336.6 590.67 L337 590.75 L337.4 590.82 L337.8 590.9 L338.2 590.91 L338.6 590.63 L339 589.58 L339.4 587.27 L339.8 583.24 L340.2 576.97 L340.6 568.8 L341 559.7 L341.4 550 L341.8 539.75 L342.2 528.75 L342.6 517 L343 505.5 L343.4 495 L343.8 485.15 L344.2 475.75 L344.6 466.8 L345 458.62 L345.4 451.67 L345.8 445.33 L346.2 439.67 L346.6 435.36 L347 432.16 L347.4 431.14 L347.8 433.17 L348.2 436.58 L348.6 440.38 L349 444.73 L349.4 449.32 L349.8 453.48 L350.2 456.36 L350.6 457.96 L351 459.13 L351.4 460.31 L351.8 461.48 L352.2 462.65 L352.6 463.83 L353 464.97 L353.4 466.04 L353.8 467.07 L354.2 468.11 L354.6 469.15 L355 470.18 L355.4 471.22 L355.8 472.25 L356.2 473.29 L356.6 474.33 L357 475.36 L357.4 476.54 L357.8 478 L358.2 479.9 L358.6 483.42 L359 490.09 L359.4 499.15 L359.8 508.14 L360.2 516 L360.6 522.94 L361 529.14 L361.4 534.67 L361.8 539.58 L362.2 543.9 L362.6 547.74 L363 551.19 L363.4 554.29 L363.8 557.07 L364.2 559.53 L364.6 561.74 L365 563.75 L365.4 565.57 L365.8 567.21 L366.2 568.69 L366.6 570.03 L367 571.26 L367.4 572.39 L367.8 573.43 L368.2 574.37 L368.6 575.24 L369 576.05 L369.4 576.8 L369.8 577.5 L370.2 578.14 L370.6 578.74 L371 579.31 L371.4 579.84 L371.8 580.34 L372.2 580.81 L372.6 581.26 L373 581.68 L373.4 582.08 L373.8 582.46 L374.2 582.82 L374.6 583.17 L375 583.5 L375.4 583.82 L375.8 584.12 L376.2 584.41 L376.6 584.69 L377 584.96 L377.4 585.22 L377.8 585.47 L378.2 585.7 L378.6 585.94 L379 586.16 L379.4 586.38 L379.8 586.58 L380.2 586.79 L380.6 586.98 L381 587.17 L381.4 587.35 L381.8 587.53 L382.2 587.7 L382.6 587.87 L383 588.03 L383.4 588.19 L383.8 588.34 L384.2 588.49 L384.6 588.63 L385 588.77 L385.4 588.9 L385.8 589.03 L386.2 589.16 L386.6 589.28 L387 589.4 L387.4 589.52 L387.8 589.63 L388.2 589.74 L388.6 589.85 L389 589.95 L389.4 590.05 L389.8 590.15 L390.2 590.24 L390.6 590.33 L391 590.42 L391.4 590.51 L391.8 590.59 L392.2 590.68 L392.6 590.76 L393 590.83 L393.4 590.91 L393.8 590.98 L394.2 591.05 L394.6 591.12 L395 591.19 L395.4 591.25 L395.8 591.32 L396.2 591 L396.6 589.81 L397 586.68 L397.4 580.8 L397.8 573.25 L398.2 564.65 L398.6 555 L399 544.5 L399.4 533 L399.8 521.25 L400.2 510.25 L400.6 500 L401 490 L401.4 480 L401.8 470.45 L402.2 462.25 L402.6 455.4 L403 449.54 L403.4 444.77 L403.8 440.53 L404.2 438.18 L404.6 439.59 L405 442.88 L405.4 446.05 L405.8 448.91 L406.2 451.55 L406.6 454.15 L407 456.75 L407.4 459.16 L407.8 461.14 L408.2 462.8 L408.6 464.4 L409 466 L409.4 467.6 L409.8 469.15 L410.2 470.54 L410.6 471.76 L411 472.94 L411.4 474.12 L411.8 475.29 L412.2 476.47 L412.6 477.65 L413 478.82 L413.4 479.52 L413.8 479.27 L414.2 478.57 L414.6 477.96 L415 477.79 L415.4 478.53 L415.8 480.12 L416.2 482.33 L416.6 486.54 L417 494.02 L417.4 503.1 L417.8 511.68 L418.2 519.24 L418.6 525.87 L419 531.72 L419.4 536.97 L419.8 541.65 L420.2 545.82 L420.6 549.48 L421 552.75 L421.4 555.7 L421.8 558.35 L422.2 560.73 L422.6 562.85 L423 564.75 L423.4 566.48 L423.8 568.06 L424.2 569.49 L424.6 570.78 L425 571.95 L425.4 573.03 L425.8 574.03 L426.2 574.95 L426.6 575.78 L427 576.56 L427.4 577.28 L427.8 577.95 L428.2 578.57 L428.6 579.16 L429 579.7 L429.4 580.21 L429.8 580.7 L430.2 581.16 L430.6 581.59 L431 581.99 L431.4 582.38 L431.8 582.75 L432.2 583.11 L432.6 583.44 L433 583.76 L433.4 584.07 L433.8 584.36 L434.2 584.65 L434.6 584.92 L435 585.18 L435.4 585.43 L435.8 585.67 L436.2 585.91 L436.6 586.13 L437 586.35 L437.4 586.56 L437.8 586.76 L438.2 586.96 L438.6 587.15 L439 587.33 L439.4 587.51 L439.8 587.68 L440.2 587.85 L440.6 588.01 L441 588.17 L441.4 588.32 L441.8 588.47 L442.2 588.61 L442.6 588.75 L443 588.89 L443.4 589.02 L443.8 589.15 L444.2 589.27 L444.6 589.39 L445 589.51 L445.4 589.62 L445.8 589.73 L446.2 589.84 L446.6 589.94 L447 590.04 L447.4 590.14 L447.8 590.23 L448.2 590.32 L448.6 590.41 L449 590.5 L449.4 590.59 L449.8 590.67 L450.2 590.75 L450.6 590.83 L451 590.89 L451.4 590.93" fill="none" stroke="#e8281e" stroke-width="1.05" stroke-linejoin="round"/>
<path d="M262.6 604.9 L285 604.9 L292 604.3 L305 604.1 L312 604.8 L340 604.9 L347 604.3 L358 604.1 L365 604.8 L398 604.9 L405 604.3 L416 604.1 L423 604.8 L451.6 605" fill="none" stroke="#2fae8c" stroke-width="0.9" stroke-linejoin="round"/>
<path d="M262.6 604.3 L284 604.4 L286.5 603 L289 601.9 L292 601.7 L295 602.4 L300 602.2 L304 602 L306 603 L308 604 L320 604.3 L339 604.4 L341.4 603 L344.2 601.9 L348 602.2 L353 601.9 L358.5 601.9 L361.3 603.5 L366 604.2 L397 604.4 L399 603 L401.2 602 L405 602.2 L410 601.9 L416.3 602 L419.2 603.4 L425 604.2 L451.6 604.4" fill="none" stroke="#3f86c8" stroke-width="0.9" stroke-linejoin="round"/>
<line x1="401.8" y1="383.8" x2="418.9" y2="383.8" stroke="#e8281e" stroke-width="1.1"/>
<text x="420.7" y="386.5" font-size="7.5" text-anchor="start" fill="#222" stroke="#222" stroke-width="0.22" font-weight="normal">*N</text>
<line x1="401.8" y1="393.3" x2="418.9" y2="393.3" stroke="#2fae8c" stroke-width="1.1"/>
<text x="420.7" y="396.2" font-size="7.5" text-anchor="start" fill="#222" stroke="#222" stroke-width="0.22" font-weight="normal">*NH<tspan dy="1.5" font-size="5.5">2</tspan><tspan dy="-1.5">OH</tspan></text>
<line x1="401.8" y1="404" x2="418.9" y2="404" stroke="#3f86c8" stroke-width="1.1"/>
<text x="420.7" y="406.8" font-size="7.5" text-anchor="start" fill="#222" stroke="#222" stroke-width="0.22" font-weight="normal">*NOH</text>
<defs><linearGradient id="fbg" x1="0" y1="0" x2="0" y2="1"><stop offset="0" stop-color="#eef5fc"/><stop offset="1" stop-color="#e5f1fa"/></linearGradient></defs>
<rect x="478.4" y="377.6" width="206.6" height="275.8" rx="6" fill="url(#fbg)"/>
<rect x="488.9" y="381.3" width="62.7" height="268.1" rx="7" fill="none" stroke="#1b2a38" stroke-width="2" stroke-dasharray="6.5 4.8"/>
<text x="472.2" y="382.9" font-size="15" text-anchor="start" fill="#000" stroke="#000" stroke-width="0" font-weight="bold">f</text>
<text x="629.9" y="391.9" font-size="13.8" text-anchor="middle" fill="#111" stroke="#111" stroke-width="0.22" font-weight="normal">NO<tspan dy="3" font-size="9.5">3</tspan><tspan dy="-3">RR pathway</tspan></text>
<text x="531" y="397" font-size="13.5" text-anchor="middle" fill="#111" stroke="#111" stroke-width="0.22" font-weight="normal">*NO<tspan dy="3" font-size="9.5">3</tspan></text>
<text x="531" y="438.2" font-size="13.5" text-anchor="middle" fill="#111" stroke="#111" stroke-width="0.22" font-weight="normal">*NO<tspan dy="3" font-size="9.5">2</tspan></text>
<text x="533.5" y="479.4" font-size="13.5" text-anchor="middle" fill="#111" stroke="#111" stroke-width="0.22" font-weight="normal">*NO</text>
<text x="533" y="520.3" font-size="13.5" text-anchor="middle" fill="#111" stroke="#111" stroke-width="0.22" font-weight="normal">*N</text>
<text x="533.5" y="561.9" font-size="13.5" text-anchor="middle" fill="#111" stroke="#111" stroke-width="0.22" font-weight="normal">*NH</text>
<text x="533.5" y="603" font-size="13.5" text-anchor="middle" fill="#111" stroke="#111" stroke-width="0.22" font-weight="normal">*NH<tspan dy="3" font-size="9.5">2</tspan></text>
<text x="533.5" y="644.3" font-size="13.5" text-anchor="middle" fill="#111" stroke="#111" stroke-width="0.22" font-weight="normal">*NH<tspan dy="3" font-size="9.5">3</tspan></text>
<text x="584.5" y="479.6" font-size="13.5" text-anchor="middle" fill="#111" stroke="#111" stroke-width="0.22" font-weight="normal">*NOH</text>
<text x="646" y="479.6" font-size="13.5" text-anchor="middle" fill="#111" stroke="#111" stroke-width="0.22" font-weight="normal">*NHOH</text>
<text x="646.5" y="562" font-size="13.5" text-anchor="middle" fill="#111" stroke="#111" stroke-width="0.22" font-weight="normal">*NH<tspan dy="3" font-size="9.5">2</tspan><tspan dy="-3">OH</tspan></text>
<text x="0" y="0" font-size="13.5" text-anchor="middle" fill="#111" stroke="#111" stroke-width="0.22" font-weight="normal" transform="translate(508.3,505) rotate(-90)">Dominant pathway</text>
<line x1="534.3" y1="401.7" x2="534.3" y2="416.5" stroke="#e3221b" stroke-width="2.4"/>
<path d="M530.7 415.5 L537.9 415.5 L534.3 423 Z" fill="#e3221b"/>
<line x1="534.3" y1="442.9" x2="534.3" y2="457.7" stroke="#e3221b" stroke-width="2.4"/>
<path d="M530.7 456.7 L537.9 456.7 L534.3 464.2 Z" fill="#e3221b"/>
<line x1="534.3" y1="484.5" x2="534.3" y2="499" stroke="#e3221b" stroke-width="2.4"/>
<path d="M530.7 498 L537.9 498 L534.3 505.5 Z" fill="#e3221b"/>
<line x1="534.3" y1="525.7" x2="534.3" y2="540.2" stroke="#e3221b" stroke-width="2.4"/>
<path d="M530.7 539.2 L537.9 539.2 L534.3 546.7 Z" fill="#e3221b"/>
<line x1="534.3" y1="566.9" x2="534.3" y2="581.5" stroke="#e3221b" stroke-width="2.4"/>
<path d="M530.7 580.5 L537.9 580.5 L534.3 588 Z" fill="#e3221b"/>
<line x1="534.3" y1="608.1" x2="534.3" y2="622.7" stroke="#e3221b" stroke-width="2.4"/>
<path d="M530.7 621.7 L537.9 621.7 L534.3 629.2 Z" fill="#e3221b"/>
<line x1="549" y1="474.4" x2="558.6" y2="474.4" stroke="#2fae8c" stroke-width="2.4"/>
<path d="M557.6 471.2 L557.6 477.6 L563.6 474.4 Z" fill="#2fae8c"/>
<line x1="606" y1="474.3" x2="616" y2="474.3" stroke="#2fae8c" stroke-width="2.4"/>
<path d="M615 471.1 L615 477.5 L621 474.3 Z" fill="#2fae8c"/>
<path d="M587.1 484.5 V516 H558" fill="none" stroke="#c2c2c2" stroke-width="2.2"/>
<path d="M559 512.8 L559 519.2 L553.2 516 Z" fill="#c2c2c2"/>
<path d="M643.9 484.3 V516 H604.9 V556.4 H557" fill="none" stroke="#4a8fd0" stroke-width="2.2"/>
<path d="M558 553.2 L558 559.6 L551.6 556.4 Z" fill="#4a8fd0"/>
<line x1="654.5" y1="484.3" x2="654.5" y2="540.6" stroke="#2fae8c" stroke-width="2.2"/>
<path d="M651.1 539.6 L657.9 539.6 L654.5 546.6 Z" fill="#2fae8c"/>
<path d="M655.3 566.7 V597.6 H557" fill="none" stroke="#2fae8c" stroke-width="2.2"/>
<path d="M558 594.4 L558 600.8 L551.4 597.6 Z" fill="#2fae8c"/>
<text x="555.7" y="504.7" font-size="11.1" text-anchor="start" fill="#b9b9b9" stroke="#b9b9b9" stroke-width="0.22" font-weight="normal">Path</text>
<text x="555.7" y="512.2" font-size="11.1" text-anchor="start" fill="#b9b9b9" stroke="#b9b9b9" stroke-width="0.22" font-weight="normal">way 4</text>
<text x="566.2" y="544.6" font-size="11.1" text-anchor="start" fill="#4a8fd0" stroke="#4a8fd0" stroke-width="0.22" font-weight="normal">Path</text>
<text x="566.2" y="551.5" font-size="11.1" text-anchor="start" fill="#4a8fd0" stroke="#4a8fd0" stroke-width="0.22" font-weight="normal">way 3</text>
<text x="496.8" y="619" font-size="11.1" text-anchor="start" fill="#e3221b" stroke="#e3221b" stroke-width="0.22" font-weight="normal">Path</text>
<text x="496.8" y="626.6" font-size="11.1" text-anchor="start" fill="#e3221b" stroke="#e3221b" stroke-width="0.22" font-weight="normal">way 1</text>
<text x="583.5" y="593.3" font-size="11.4" text-anchor="start" fill="#2fae8c" stroke="#2fae8c" stroke-width="0.22" font-weight="normal">Pathway 2</text>
</svg>
</body></html>
